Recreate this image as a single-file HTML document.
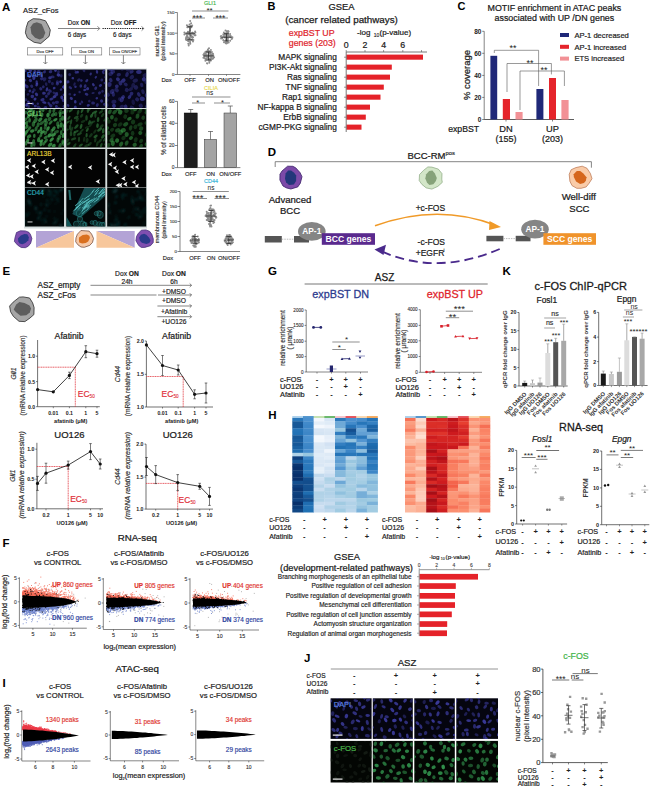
<!DOCTYPE html>
<html><head><meta charset="utf-8"><style>
html,body{margin:0;padding:0;background:#fff;width:650px;height:786px;overflow:hidden}
svg{display:block;font-family:"Liberation Sans", sans-serif}
</style></head><body>
<svg width="650" height="786" viewBox="0 0 650 786" fill="#1a1a1a">
<text x="2" y="10.6" font-size="11.5" fill="#000" font-weight="bold">A</text>
<text x="23" y="13.2" font-size="7.6" stroke="#1a1a1a" stroke-width="0.19">ASZ_cFos</text>
<path d="M50.3 30 L49.1 36.4 L44.1 40.7 L40.8 43.5 L34.1 42.3 L27.4 37.9 L25.4 32.8 L26.2 27.6 L28.1 21.8 L33.2 18.7 L39.6 19.1 L45.5 20.8 L47.8 24.8Z" fill="#a6a6a6" stroke="#2a2a2a" stroke-width="0.8" stroke-linejoin="round"/>
<path d="M31.4 33.7 L30.5 27.2 L33 23.4 L36.8 22.3 L41.6 24.1 L43.1 27.3 L45.3 32.8 L43.3 37.7 L39.7 39.4 L35.1 37.8Z" fill="#5e5e5e"/>
<line x1="58" y1="28.5" x2="99.5" y2="28.5" stroke="#333" stroke-width="0.6"/>
<path d="M97.5 26.3 L99.7 28.5 L97.5 30.7" fill="none" stroke="#333" stroke-width="0.6"/>
<line x1="102.5" y1="28.5" x2="143.5" y2="28.5" stroke="#222" stroke-width="1" stroke-dasharray="1.3 0.9"/>
<path d="M141.6 26.3 L143.8 28.5 L141.6 30.7" fill="none" stroke="#333" stroke-width="0.6"/>
<text x="67.7" y="24.6" font-size="6.3" stroke="#1a1a1a" stroke-width="0.16">Dox <tspan font-weight="bold">ON</tspan></text>
<text x="67.7" y="36.6" font-size="6.3" stroke="#1a1a1a" stroke-width="0.16">6 days</text>
<text x="110.8" y="24.6" font-size="6.3" stroke="#1a1a1a" stroke-width="0.16">Dox <tspan font-weight="bold">OFF</tspan></text>
<text x="113" y="36.6" font-size="6.3" stroke="#1a1a1a" stroke-width="0.16">6 days</text>
<rect x="27.4" y="47.8" width="35.4" height="7.2" fill="#fff" stroke="#555" stroke-width="0.5"/>
<text x="45.1" y="52.9" font-size="4.2" text-anchor="middle" fill="#222" stroke="#222" stroke-width="0.11">Dox OFF</text>
<line x1="45.4" y1="55.2" x2="45.4" y2="63.5" stroke="#333" stroke-width="0.6"/>
<path d="M43.4 62 L45.4 64 L47.4 62" fill="none" stroke="#333" stroke-width="0.6"/>
<rect x="71.5" y="47.8" width="30.3" height="7.2" fill="#fff" stroke="#555" stroke-width="0.5"/>
<text x="86.7" y="52.9" font-size="4.2" text-anchor="middle" fill="#222" stroke="#222" stroke-width="0.11">Dox ON</text>
<line x1="85.4" y1="55.2" x2="85.4" y2="63.5" stroke="#333" stroke-width="0.6"/>
<path d="M83.4 62 L85.4 64 L87.4 62" fill="none" stroke="#333" stroke-width="0.6"/>
<rect x="109.5" y="47.8" width="30.5" height="7.2" fill="#fff" stroke="#555" stroke-width="0.5"/>
<text x="124.8" y="52.9" font-size="4.2" text-anchor="middle" fill="#222" stroke="#222" stroke-width="0.11">Dox ON/OFF</text>
<line x1="123.4" y1="55.2" x2="123.4" y2="63.5" stroke="#333" stroke-width="0.6"/>
<path d="M121.4 62 L123.4 64 L125.4 62" fill="none" stroke="#333" stroke-width="0.6"/>
<defs><filter id="bl" x="-10%" y="-10%" width="120%" height="120%"><feGaussianBlur stdDeviation="0.45"/></filter><filter id="bl2"><feGaussianBlur stdDeviation="0.8"/></filter></defs>
<rect x="24" y="68.5" width="123" height="160" fill="#d4dcdc"/>
<rect x="25" y="69.5" width="39" height="38.5" fill="#06061a"/>
<svg x="25" y="69.5" width="39" height="38.5" viewBox="25 69.5 39 38.5">
<g filter="url(#bl)">
<ellipse cx="23.3" cy="67.2" rx="1.6" ry="2.1" transform="rotate(104 23.3 67.2)" fill="#4848b8" fill-opacity="0.43"/><ellipse cx="28.6" cy="66.1" rx="1.3" ry="2.2" transform="rotate(93 28.6 66.1)" fill="#4848b8" fill-opacity="0.48"/><ellipse cx="35" cy="65.7" rx="1.4" ry="1.6" transform="rotate(154 35 65.7)" fill="#4848b8" fill-opacity="0.59"/><ellipse cx="38.7" cy="67.3" rx="1.3" ry="2" transform="rotate(123 38.7 67.3)" fill="#4848b8" fill-opacity="0.61"/><ellipse cx="44.9" cy="69.4" rx="1.2" ry="1.4" transform="rotate(110 44.9 69.4)" fill="#4848b8" fill-opacity="0.37"/><ellipse cx="49.8" cy="66.7" rx="1.4" ry="1.8" transform="rotate(65 49.8 66.7)" fill="#4848b8" fill-opacity="0.71"/><ellipse cx="52.7" cy="65.8" rx="1.3" ry="1.5" transform="rotate(105 52.7 65.8)" fill="#4848b8" fill-opacity="0.69"/><ellipse cx="57.7" cy="65.6" rx="1.5" ry="1.8" transform="rotate(89 57.7 65.6)" fill="#4848b8" fill-opacity="0.68"/><ellipse cx="64.4" cy="66.1" rx="1.5" ry="1.4" transform="rotate(102 64.4 66.1)" fill="#4848b8" fill-opacity="0.50"/><ellipse cx="69.1" cy="65.9" rx="1.7" ry="1.7" transform="rotate(29 69.1 65.9)" fill="#4848b8" fill-opacity="0.67"/><ellipse cx="25.2" cy="70.8" rx="1.3" ry="1.4" transform="rotate(49 25.2 70.8)" fill="#4848b8" fill-opacity="0.60"/><ellipse cx="30.3" cy="70.5" rx="1.6" ry="1.7" transform="rotate(116 30.3 70.5)" fill="#4848b8" fill-opacity="0.68"/><ellipse cx="34.9" cy="71.6" rx="1.4" ry="1.6" transform="rotate(0 34.9 71.6)" fill="#4848b8" fill-opacity="0.64"/><ellipse cx="38.8" cy="71.6" rx="1.6" ry="1.9" transform="rotate(104 38.8 71.6)" fill="#4848b8" fill-opacity="0.51"/><ellipse cx="44.5" cy="72" rx="1.5" ry="1.4" transform="rotate(163 44.5 72)" fill="#4848b8" fill-opacity="0.56"/><ellipse cx="50.5" cy="71.7" rx="1.5" ry="1.8" transform="rotate(72 50.5 71.7)" fill="#4848b8" fill-opacity="0.52"/><ellipse cx="55.5" cy="70.5" rx="1.4" ry="1.4" transform="rotate(79 55.5 70.5)" fill="#4848b8" fill-opacity="0.74"/><ellipse cx="58.5" cy="72" rx="1.3" ry="1.7" transform="rotate(9 58.5 72)" fill="#4848b8" fill-opacity="0.39"/><ellipse cx="67.5" cy="71.8" rx="1.5" ry="1.7" transform="rotate(82 67.5 71.8)" fill="#4848b8" fill-opacity="0.52"/><ellipse cx="71.4" cy="73.4" rx="1.5" ry="2.1" transform="rotate(125 71.4 73.4)" fill="#4848b8" fill-opacity="0.52"/><ellipse cx="21.6" cy="75.1" rx="1.5" ry="1.8" transform="rotate(111 21.6 75.1)" fill="#4848b8" fill-opacity="0.62"/><ellipse cx="29.3" cy="76.1" rx="1.4" ry="2.1" transform="rotate(145 29.3 76.1)" fill="#4848b8" fill-opacity="0.73"/><ellipse cx="33.9" cy="77.8" rx="1.6" ry="2.2" transform="rotate(8 33.9 77.8)" fill="#4848b8" fill-opacity="0.72"/><ellipse cx="39.9" cy="75.3" rx="1.5" ry="2.1" transform="rotate(120 39.9 75.3)" fill="#4848b8" fill-opacity="0.41"/><ellipse cx="41.8" cy="75.6" rx="1.3" ry="1.4" transform="rotate(14 41.8 75.6)" fill="#4848b8" fill-opacity="0.43"/><ellipse cx="50" cy="77.8" rx="1.5" ry="1.8" transform="rotate(83 50 77.8)" fill="#4848b8" fill-opacity="0.65"/><ellipse cx="52.7" cy="76.9" rx="1.4" ry="1.9" transform="rotate(99 52.7 76.9)" fill="#4848b8" fill-opacity="0.46"/><ellipse cx="58.5" cy="75" rx="1.6" ry="1.9" transform="rotate(109 58.5 75)" fill="#4848b8" fill-opacity="0.70"/><ellipse cx="61.3" cy="75.9" rx="1.3" ry="1.7" transform="rotate(16 61.3 75.9)" fill="#4848b8" fill-opacity="0.37"/><ellipse cx="69" cy="76.7" rx="1.5" ry="1.8" transform="rotate(50 69 76.7)" fill="#4848b8" fill-opacity="0.63"/><ellipse cx="24.6" cy="80.3" rx="1.4" ry="1.7" transform="rotate(61 24.6 80.3)" fill="#4848b8" fill-opacity="0.64"/><ellipse cx="30.4" cy="80.5" rx="1.6" ry="1.7" transform="rotate(124 30.4 80.5)" fill="#4848b8" fill-opacity="0.64"/><ellipse cx="36.7" cy="82.4" rx="1.2" ry="2.1" transform="rotate(178 36.7 82.4)" fill="#4848b8" fill-opacity="0.64"/><ellipse cx="41.8" cy="78.6" rx="1.6" ry="1.9" transform="rotate(58 41.8 78.6)" fill="#4848b8" fill-opacity="0.48"/><ellipse cx="44.6" cy="79.3" rx="1.6" ry="2.2" transform="rotate(30 44.6 79.3)" fill="#4848b8" fill-opacity="0.39"/><ellipse cx="49.4" cy="81.5" rx="1.5" ry="1.7" transform="rotate(171 49.4 81.5)" fill="#4848b8" fill-opacity="0.43"/><ellipse cx="57.4" cy="82" rx="1.6" ry="1.8" transform="rotate(2 57.4 82)" fill="#4848b8" fill-opacity="0.43"/><ellipse cx="60.6" cy="81.8" rx="1.4" ry="1.4" transform="rotate(137 60.6 81.8)" fill="#4848b8" fill-opacity="0.73"/><ellipse cx="66.3" cy="78.8" rx="1.4" ry="1.9" transform="rotate(101 66.3 78.8)" fill="#4848b8" fill-opacity="0.69"/><ellipse cx="69.2" cy="79.2" rx="1.7" ry="1.3" transform="rotate(109 69.2 79.2)" fill="#4848b8" fill-opacity="0.70"/><ellipse cx="24.7" cy="84.9" rx="1.5" ry="1.6" transform="rotate(62 24.7 84.9)" fill="#4848b8" fill-opacity="0.51"/><ellipse cx="26.6" cy="86.4" rx="1.6" ry="2.2" transform="rotate(127 26.6 86.4)" fill="#4848b8" fill-opacity="0.59"/><ellipse cx="31.7" cy="86.2" rx="1.5" ry="1.7" transform="rotate(148 31.7 86.2)" fill="#4848b8" fill-opacity="0.49"/><ellipse cx="36.8" cy="84.6" rx="1.3" ry="1.9" transform="rotate(27 36.8 84.6)" fill="#4848b8" fill-opacity="0.72"/><ellipse cx="43.3" cy="86.8" rx="1.4" ry="1.4" transform="rotate(142 43.3 86.8)" fill="#4848b8" fill-opacity="0.49"/><ellipse cx="46.2" cy="84.1" rx="1.3" ry="1.9" transform="rotate(170 46.2 84.1)" fill="#4848b8" fill-opacity="0.37"/><ellipse cx="52.4" cy="83.6" rx="1.5" ry="1.7" transform="rotate(170 52.4 83.6)" fill="#4848b8" fill-opacity="0.37"/><ellipse cx="57.4" cy="83.7" rx="1.6" ry="1.7" transform="rotate(29 57.4 83.7)" fill="#4848b8" fill-opacity="0.51"/><ellipse cx="64.1" cy="86.4" rx="1.5" ry="1.7" transform="rotate(31 64.1 86.4)" fill="#4848b8" fill-opacity="0.70"/><ellipse cx="68.1" cy="86.5" rx="1.7" ry="1.4" transform="rotate(70 68.1 86.5)" fill="#4848b8" fill-opacity="0.39"/><ellipse cx="23.9" cy="90.1" rx="1.5" ry="2.1" transform="rotate(55 23.9 90.1)" fill="#4848b8" fill-opacity="0.47"/><ellipse cx="29.9" cy="90.9" rx="1.5" ry="1.3" transform="rotate(111 29.9 90.9)" fill="#4848b8" fill-opacity="0.59"/><ellipse cx="34.1" cy="90" rx="1.5" ry="1.7" transform="rotate(124 34.1 90)" fill="#4848b8" fill-opacity="0.39"/><ellipse cx="40.8" cy="88.8" rx="1.7" ry="1.5" transform="rotate(39 40.8 88.8)" fill="#4848b8" fill-opacity="0.49"/><ellipse cx="46.9" cy="89.4" rx="1.2" ry="2.1" transform="rotate(13 46.9 89.4)" fill="#4848b8" fill-opacity="0.67"/><ellipse cx="49.9" cy="90.9" rx="1.5" ry="2.2" transform="rotate(130 49.9 90.9)" fill="#4848b8" fill-opacity="0.49"/><ellipse cx="54.2" cy="88.1" rx="1.3" ry="1.5" transform="rotate(52 54.2 88.1)" fill="#4848b8" fill-opacity="0.68"/><ellipse cx="61" cy="89.6" rx="1.2" ry="1.3" transform="rotate(75 61 89.6)" fill="#4848b8" fill-opacity="0.57"/><ellipse cx="63.6" cy="87.5" rx="1.3" ry="1.7" transform="rotate(138 63.6 87.5)" fill="#4848b8" fill-opacity="0.74"/><ellipse cx="68.6" cy="89" rx="1.7" ry="1.8" transform="rotate(119 68.6 89)" fill="#4848b8" fill-opacity="0.60"/><ellipse cx="21.2" cy="93.1" rx="1.2" ry="1.9" transform="rotate(82 21.2 93.1)" fill="#4848b8" fill-opacity="0.48"/><ellipse cx="28" cy="94.4" rx="1.3" ry="1.5" transform="rotate(65 28 94.4)" fill="#4848b8" fill-opacity="0.38"/><ellipse cx="32.8" cy="92.2" rx="1.3" ry="1.4" transform="rotate(14 32.8 92.2)" fill="#4848b8" fill-opacity="0.56"/><ellipse cx="36.5" cy="94.4" rx="1.5" ry="1.9" transform="rotate(145 36.5 94.4)" fill="#4848b8" fill-opacity="0.67"/><ellipse cx="44" cy="93.3" rx="1.5" ry="1.9" transform="rotate(91 44 93.3)" fill="#4848b8" fill-opacity="0.64"/><ellipse cx="48.6" cy="93.7" rx="1.5" ry="1.7" transform="rotate(38 48.6 93.7)" fill="#4848b8" fill-opacity="0.47"/><ellipse cx="54.4" cy="93.1" rx="1.3" ry="2.1" transform="rotate(120 54.4 93.1)" fill="#4848b8" fill-opacity="0.40"/><ellipse cx="56.7" cy="94.1" rx="1.4" ry="2.1" transform="rotate(5 56.7 94.1)" fill="#4848b8" fill-opacity="0.59"/><ellipse cx="64.3" cy="94.7" rx="1.3" ry="1.8" transform="rotate(60 64.3 94.7)" fill="#4848b8" fill-opacity="0.62"/><ellipse cx="67.6" cy="93.5" rx="1.5" ry="1.9" transform="rotate(49 67.6 93.5)" fill="#4848b8" fill-opacity="0.43"/><ellipse cx="25.8" cy="99.8" rx="1.5" ry="1.6" transform="rotate(100 25.8 99.8)" fill="#4848b8" fill-opacity="0.41"/><ellipse cx="32.3" cy="96.5" rx="1.7" ry="1.8" transform="rotate(82 32.3 96.5)" fill="#4848b8" fill-opacity="0.62"/><ellipse cx="35" cy="99.1" rx="1.6" ry="1.4" transform="rotate(141 35 99.1)" fill="#4848b8" fill-opacity="0.72"/><ellipse cx="42.5" cy="99.7" rx="1.6" ry="2.1" transform="rotate(78 42.5 99.7)" fill="#4848b8" fill-opacity="0.61"/><ellipse cx="46.4" cy="96.3" rx="1.4" ry="1.6" transform="rotate(12 46.4 96.3)" fill="#4848b8" fill-opacity="0.50"/><ellipse cx="51.5" cy="99" rx="1.3" ry="2.2" transform="rotate(71 51.5 99)" fill="#4848b8" fill-opacity="0.63"/><ellipse cx="54.5" cy="96.6" rx="1.5" ry="1.9" transform="rotate(68 54.5 96.6)" fill="#4848b8" fill-opacity="0.70"/><ellipse cx="61.8" cy="97.5" rx="1.5" ry="2" transform="rotate(172 61.8 97.5)" fill="#4848b8" fill-opacity="0.74"/><ellipse cx="66.9" cy="98.3" rx="1.4" ry="2.1" transform="rotate(23 66.9 98.3)" fill="#4848b8" fill-opacity="0.61"/><ellipse cx="69.3" cy="96" rx="1.4" ry="1.5" transform="rotate(32 69.3 96)" fill="#4848b8" fill-opacity="0.42"/><ellipse cx="22.3" cy="102.7" rx="1.4" ry="1.3" transform="rotate(27 22.3 102.7)" fill="#4848b8" fill-opacity="0.54"/><ellipse cx="28.7" cy="102.3" rx="1.2" ry="2" transform="rotate(139 28.7 102.3)" fill="#4848b8" fill-opacity="0.70"/><ellipse cx="32.8" cy="103.8" rx="1.4" ry="1.4" transform="rotate(20 32.8 103.8)" fill="#4848b8" fill-opacity="0.69"/><ellipse cx="37.8" cy="103.8" rx="1.2" ry="1.3" transform="rotate(13 37.8 103.8)" fill="#4848b8" fill-opacity="0.50"/><ellipse cx="44.3" cy="102.5" rx="1.2" ry="2.2" transform="rotate(102 44.3 102.5)" fill="#4848b8" fill-opacity="0.71"/><ellipse cx="49" cy="103.7" rx="1.2" ry="2.2" transform="rotate(146 49 103.7)" fill="#4848b8" fill-opacity="0.51"/><ellipse cx="53.5" cy="103.1" rx="1.5" ry="1.7" transform="rotate(125 53.5 103.1)" fill="#4848b8" fill-opacity="0.47"/><ellipse cx="56.9" cy="102.3" rx="1.6" ry="2.1" transform="rotate(84 56.9 102.3)" fill="#4848b8" fill-opacity="0.47"/><ellipse cx="63.4" cy="100.4" rx="1.6" ry="1.6" transform="rotate(98 63.4 100.4)" fill="#4848b8" fill-opacity="0.60"/><ellipse cx="66.9" cy="101.8" rx="1.2" ry="1.8" transform="rotate(28 66.9 101.8)" fill="#4848b8" fill-opacity="0.66"/><ellipse cx="26.8" cy="104.8" rx="1.4" ry="2" transform="rotate(29 26.8 104.8)" fill="#4848b8" fill-opacity="0.75"/><ellipse cx="28.6" cy="106.5" rx="1.2" ry="1.9" transform="rotate(7 28.6 106.5)" fill="#4848b8" fill-opacity="0.45"/><ellipse cx="35.3" cy="106.1" rx="1.3" ry="1.5" transform="rotate(75 35.3 106.1)" fill="#4848b8" fill-opacity="0.62"/><ellipse cx="38.7" cy="107.3" rx="1.5" ry="2.2" transform="rotate(119 38.7 107.3)" fill="#4848b8" fill-opacity="0.45"/><ellipse cx="45.4" cy="107.7" rx="1.6" ry="1.9" transform="rotate(63 45.4 107.7)" fill="#4848b8" fill-opacity="0.57"/><ellipse cx="50.9" cy="105.8" rx="1.6" ry="1.6" transform="rotate(10 50.9 105.8)" fill="#4848b8" fill-opacity="0.54"/><ellipse cx="56.4" cy="106.5" rx="1.5" ry="1.6" transform="rotate(12 56.4 106.5)" fill="#4848b8" fill-opacity="0.58"/><ellipse cx="59.3" cy="108.6" rx="1.2" ry="2" transform="rotate(105 59.3 108.6)" fill="#4848b8" fill-opacity="0.64"/><ellipse cx="64.1" cy="106.6" rx="1.6" ry="1.5" transform="rotate(70 64.1 106.6)" fill="#4848b8" fill-opacity="0.51"/><ellipse cx="72.3" cy="108" rx="1.5" ry="2.1" transform="rotate(88 72.3 108)" fill="#4848b8" fill-opacity="0.70"/>
</g>
</svg>
<rect x="66.3" y="69.5" width="39" height="38.5" fill="#06061a"/>
<svg x="66.3" y="69.5" width="39" height="38.5" viewBox="66.3 69.5 39 38.5">
<g filter="url(#bl)">
<ellipse cx="64.1" cy="67.8" rx="1.3" ry="1.6" transform="rotate(166 64.1 67.8)" fill="#4848b8" fill-opacity="0.51"/><ellipse cx="68.9" cy="67.6" rx="1.1" ry="1.4" transform="rotate(113 68.9 67.6)" fill="#4848b8" fill-opacity="0.63"/><ellipse cx="74.7" cy="69" rx="1.5" ry="1.9" transform="rotate(124 74.7 69)" fill="#4848b8" fill-opacity="0.36"/><ellipse cx="83.7" cy="68.1" rx="1.3" ry="1.3" transform="rotate(28 83.7 68.1)" fill="#4848b8" fill-opacity="0.36"/><ellipse cx="87.6" cy="66.2" rx="1.3" ry="1.8" transform="rotate(5 87.6 66.2)" fill="#4848b8" fill-opacity="0.51"/><ellipse cx="95.4" cy="68.2" rx="1.3" ry="1.4" transform="rotate(89 95.4 68.2)" fill="#4848b8" fill-opacity="0.58"/><ellipse cx="104" cy="70" rx="1.2" ry="1.4" transform="rotate(151 104 70)" fill="#4848b8" fill-opacity="0.60"/><ellipse cx="106.7" cy="65.4" rx="1.4" ry="1.5" transform="rotate(137 106.7 65.4)" fill="#4848b8" fill-opacity="0.49"/><ellipse cx="69.7" cy="74.6" rx="1.5" ry="1.6" transform="rotate(0 69.7 74.6)" fill="#4848b8" fill-opacity="0.42"/><ellipse cx="76" cy="72.4" rx="1.4" ry="1.4" transform="rotate(13 76 72.4)" fill="#4848b8" fill-opacity="0.57"/><ellipse cx="77.8" cy="72.1" rx="1.1" ry="1.4" transform="rotate(173 77.8 72.1)" fill="#4848b8" fill-opacity="0.62"/><ellipse cx="84" cy="70.7" rx="1.3" ry="1.5" transform="rotate(143 84 70.7)" fill="#4848b8" fill-opacity="0.41"/><ellipse cx="90.7" cy="74" rx="1.1" ry="1.5" transform="rotate(23 90.7 74)" fill="#4848b8" fill-opacity="0.58"/><ellipse cx="97" cy="71.8" rx="1.2" ry="1.9" transform="rotate(174 97 71.8)" fill="#4848b8" fill-opacity="0.63"/><ellipse cx="103.2" cy="72.4" rx="1.1" ry="1.9" transform="rotate(153 103.2 72.4)" fill="#4848b8" fill-opacity="0.57"/><ellipse cx="109.4" cy="71.7" rx="1.2" ry="1.3" transform="rotate(139 109.4 71.7)" fill="#4848b8" fill-opacity="0.47"/><ellipse cx="62.3" cy="78.7" rx="1.2" ry="1.5" transform="rotate(43 62.3 78.7)" fill="#4848b8" fill-opacity="0.56"/><ellipse cx="72.8" cy="78.2" rx="1.2" ry="1.3" transform="rotate(103 72.8 78.2)" fill="#4848b8" fill-opacity="0.65"/><ellipse cx="78.7" cy="79.9" rx="1.4" ry="1.9" transform="rotate(44 78.7 79.9)" fill="#4848b8" fill-opacity="0.42"/><ellipse cx="81.4" cy="80.5" rx="1.3" ry="1.3" transform="rotate(158 81.4 80.5)" fill="#4848b8" fill-opacity="0.56"/><ellipse cx="86.8" cy="80.6" rx="1.2" ry="1.8" transform="rotate(42 86.8 80.6)" fill="#4848b8" fill-opacity="0.60"/><ellipse cx="95.8" cy="77.3" rx="1.1" ry="1.4" transform="rotate(31 95.8 77.3)" fill="#4848b8" fill-opacity="0.60"/><ellipse cx="101.8" cy="80" rx="1.5" ry="1.4" transform="rotate(110 101.8 80)" fill="#4848b8" fill-opacity="0.45"/><ellipse cx="105.3" cy="77.1" rx="1.2" ry="1.5" transform="rotate(80 105.3 77.1)" fill="#4848b8" fill-opacity="0.37"/><ellipse cx="67.8" cy="81.9" rx="1.5" ry="1.7" transform="rotate(65 67.8 81.9)" fill="#4848b8" fill-opacity="0.66"/><ellipse cx="74.5" cy="84.1" rx="1.1" ry="1.9" transform="rotate(25 74.5 84.1)" fill="#4848b8" fill-opacity="0.36"/><ellipse cx="80.8" cy="86" rx="1.3" ry="1.8" transform="rotate(3 80.8 86)" fill="#4848b8" fill-opacity="0.57"/><ellipse cx="85.1" cy="86.2" rx="1.4" ry="1.9" transform="rotate(13 85.1 86.2)" fill="#4848b8" fill-opacity="0.54"/><ellipse cx="93.4" cy="84.7" rx="1.2" ry="1.7" transform="rotate(142 93.4 84.7)" fill="#4848b8" fill-opacity="0.67"/><ellipse cx="100.4" cy="85.5" rx="1.4" ry="1.6" transform="rotate(75 100.4 85.5)" fill="#4848b8" fill-opacity="0.63"/><ellipse cx="105.2" cy="83.1" rx="1.1" ry="1.7" transform="rotate(104 105.2 83.1)" fill="#4848b8" fill-opacity="0.56"/><ellipse cx="113.2" cy="85.6" rx="1.4" ry="1.6" transform="rotate(131 113.2 85.6)" fill="#4848b8" fill-opacity="0.49"/><ellipse cx="64" cy="90.8" rx="1.1" ry="1.7" transform="rotate(15 64 90.8)" fill="#4848b8" fill-opacity="0.61"/><ellipse cx="70.4" cy="87.7" rx="1.3" ry="1.9" transform="rotate(125 70.4 87.7)" fill="#4848b8" fill-opacity="0.52"/><ellipse cx="75.5" cy="86.7" rx="1.2" ry="1.3" transform="rotate(54 75.5 86.7)" fill="#4848b8" fill-opacity="0.59"/><ellipse cx="84.9" cy="89.9" rx="1.2" ry="1.7" transform="rotate(79 84.9 89.9)" fill="#4848b8" fill-opacity="0.66"/><ellipse cx="87.6" cy="88.7" rx="1.5" ry="1.5" transform="rotate(145 87.6 88.7)" fill="#4848b8" fill-opacity="0.67"/><ellipse cx="95.7" cy="88.2" rx="1.4" ry="1.8" transform="rotate(24 95.7 88.2)" fill="#4848b8" fill-opacity="0.52"/><ellipse cx="102.5" cy="91.3" rx="1.3" ry="1.4" transform="rotate(49 102.5 91.3)" fill="#4848b8" fill-opacity="0.41"/><ellipse cx="106.3" cy="88.6" rx="1.2" ry="1.8" transform="rotate(112 106.3 88.6)" fill="#4848b8" fill-opacity="0.52"/><ellipse cx="69.8" cy="94.2" rx="1.4" ry="1.2" transform="rotate(13 69.8 94.2)" fill="#4848b8" fill-opacity="0.36"/><ellipse cx="74.6" cy="94.8" rx="1.1" ry="1.3" transform="rotate(55 74.6 94.8)" fill="#4848b8" fill-opacity="0.63"/><ellipse cx="79.6" cy="92.1" rx="1.2" ry="1.2" transform="rotate(149 79.6 92.1)" fill="#4848b8" fill-opacity="0.43"/><ellipse cx="86.6" cy="94.2" rx="1.4" ry="1.9" transform="rotate(113 86.6 94.2)" fill="#4848b8" fill-opacity="0.58"/><ellipse cx="93.1" cy="93" rx="1.1" ry="1.6" transform="rotate(85 93.1 93)" fill="#4848b8" fill-opacity="0.41"/><ellipse cx="99.5" cy="92.9" rx="1.4" ry="1.6" transform="rotate(49 99.5 92.9)" fill="#4848b8" fill-opacity="0.47"/><ellipse cx="105.2" cy="95.7" rx="1.5" ry="1.3" transform="rotate(70 105.2 95.7)" fill="#4848b8" fill-opacity="0.63"/><ellipse cx="112.9" cy="95.6" rx="1.4" ry="1.9" transform="rotate(23 112.9 95.6)" fill="#4848b8" fill-opacity="0.51"/><ellipse cx="63.7" cy="100.2" rx="1.5" ry="1.6" transform="rotate(158 63.7 100.2)" fill="#4848b8" fill-opacity="0.63"/><ellipse cx="71.3" cy="98.4" rx="1.4" ry="1.7" transform="rotate(129 71.3 98.4)" fill="#4848b8" fill-opacity="0.64"/><ellipse cx="75.3" cy="101.8" rx="1.3" ry="1.8" transform="rotate(176 75.3 101.8)" fill="#4848b8" fill-opacity="0.69"/><ellipse cx="82" cy="101.9" rx="1.1" ry="1.5" transform="rotate(154 82 101.9)" fill="#4848b8" fill-opacity="0.47"/><ellipse cx="89.3" cy="101.2" rx="1.4" ry="1.3" transform="rotate(87 89.3 101.2)" fill="#4848b8" fill-opacity="0.36"/><ellipse cx="96.8" cy="98.2" rx="1.2" ry="1.3" transform="rotate(60 96.8 98.2)" fill="#4848b8" fill-opacity="0.63"/><ellipse cx="101.6" cy="101" rx="1.5" ry="1.6" transform="rotate(151 101.6 101)" fill="#4848b8" fill-opacity="0.59"/><ellipse cx="109.9" cy="97.8" rx="1.2" ry="1.7" transform="rotate(39 109.9 97.8)" fill="#4848b8" fill-opacity="0.53"/><ellipse cx="68.1" cy="105.4" rx="1.2" ry="1.5" transform="rotate(151 68.1 105.4)" fill="#4848b8" fill-opacity="0.55"/><ellipse cx="75.3" cy="107.2" rx="1.5" ry="1.6" transform="rotate(37 75.3 107.2)" fill="#4848b8" fill-opacity="0.65"/><ellipse cx="80.2" cy="103.8" rx="1.3" ry="1.2" transform="rotate(96 80.2 103.8)" fill="#4848b8" fill-opacity="0.53"/><ellipse cx="88.3" cy="105.3" rx="1.3" ry="1.6" transform="rotate(72 88.3 105.3)" fill="#4848b8" fill-opacity="0.63"/><ellipse cx="93.1" cy="103.1" rx="1.5" ry="1.9" transform="rotate(96 93.1 103.1)" fill="#4848b8" fill-opacity="0.49"/><ellipse cx="97.3" cy="105.1" rx="1.4" ry="1.9" transform="rotate(22 97.3 105.1)" fill="#4848b8" fill-opacity="0.50"/><ellipse cx="104.5" cy="104.4" rx="1.5" ry="1.3" transform="rotate(34 104.5 104.4)" fill="#4848b8" fill-opacity="0.57"/><ellipse cx="112.2" cy="102.9" rx="1.4" ry="1.4" transform="rotate(34 112.2 102.9)" fill="#4848b8" fill-opacity="0.43"/>
</g>
</svg>
<rect x="107.2" y="69.5" width="39" height="38.5" fill="#06061a"/>
<svg x="107.2" y="69.5" width="39" height="38.5" viewBox="107.2 69.5 39 38.5">
<g filter="url(#bl)">
<ellipse cx="105.1" cy="68.3" rx="1.6" ry="2.2" transform="rotate(119 105.1 68.3)" fill="#4848b8" fill-opacity="0.30"/><ellipse cx="110.4" cy="69.1" rx="1.9" ry="2.5" transform="rotate(124 110.4 69.1)" fill="#4848b8" fill-opacity="0.46"/><ellipse cx="116.2" cy="67.2" rx="1.6" ry="2.7" transform="rotate(29 116.2 67.2)" fill="#4848b8" fill-opacity="0.57"/><ellipse cx="122.2" cy="68.5" rx="2.1" ry="1.8" transform="rotate(60 122.2 68.5)" fill="#4848b8" fill-opacity="0.39"/><ellipse cx="128.6" cy="69.6" rx="2.2" ry="2.8" transform="rotate(91 128.6 69.6)" fill="#4848b8" fill-opacity="0.28"/><ellipse cx="135.2" cy="67.1" rx="2" ry="1.9" transform="rotate(24 135.2 67.1)" fill="#4848b8" fill-opacity="0.36"/><ellipse cx="144.6" cy="65.2" rx="1.8" ry="2.2" transform="rotate(30 144.6 65.2)" fill="#4848b8" fill-opacity="0.54"/><ellipse cx="150.5" cy="67.4" rx="2" ry="2.8" transform="rotate(69 150.5 67.4)" fill="#4848b8" fill-opacity="0.26"/><ellipse cx="110.8" cy="73.9" rx="2" ry="2.5" transform="rotate(64 110.8 73.9)" fill="#4848b8" fill-opacity="0.38"/><ellipse cx="112.8" cy="71.7" rx="2.1" ry="2.3" transform="rotate(65 112.8 71.7)" fill="#4848b8" fill-opacity="0.43"/><ellipse cx="118.8" cy="74.7" rx="1.7" ry="2.2" transform="rotate(77 118.8 74.7)" fill="#4848b8" fill-opacity="0.43"/><ellipse cx="127" cy="74.5" rx="1.7" ry="2.5" transform="rotate(18 127 74.5)" fill="#4848b8" fill-opacity="0.44"/><ellipse cx="131.6" cy="71.9" rx="1.6" ry="2.3" transform="rotate(61 131.6 71.9)" fill="#4848b8" fill-opacity="0.47"/><ellipse cx="138.9" cy="72" rx="1.9" ry="2.8" transform="rotate(85 138.9 72)" fill="#4848b8" fill-opacity="0.59"/><ellipse cx="145.1" cy="75.2" rx="2" ry="2.8" transform="rotate(65 145.1 75.2)" fill="#4848b8" fill-opacity="0.32"/><ellipse cx="150.7" cy="71.9" rx="1.7" ry="1.8" transform="rotate(138 150.7 71.9)" fill="#4848b8" fill-opacity="0.37"/><ellipse cx="102.8" cy="79.2" rx="1.9" ry="1.8" transform="rotate(177 102.8 79.2)" fill="#4848b8" fill-opacity="0.60"/><ellipse cx="110.7" cy="80.1" rx="1.7" ry="2.3" transform="rotate(149 110.7 80.1)" fill="#4848b8" fill-opacity="0.47"/><ellipse cx="117.9" cy="79.3" rx="2.1" ry="1.9" transform="rotate(47 117.9 79.3)" fill="#4848b8" fill-opacity="0.58"/><ellipse cx="123.3" cy="80.5" rx="1.9" ry="2.5" transform="rotate(50 123.3 80.5)" fill="#4848b8" fill-opacity="0.58"/><ellipse cx="131.8" cy="77.2" rx="2" ry="2.5" transform="rotate(51 131.8 77.2)" fill="#4848b8" fill-opacity="0.34"/><ellipse cx="135.3" cy="80.6" rx="1.9" ry="2.8" transform="rotate(75 135.3 80.6)" fill="#4848b8" fill-opacity="0.33"/><ellipse cx="143.9" cy="79.3" rx="2.1" ry="2.2" transform="rotate(165 143.9 79.3)" fill="#4848b8" fill-opacity="0.59"/><ellipse cx="150.5" cy="80.7" rx="1.8" ry="2.2" transform="rotate(142 150.5 80.7)" fill="#4848b8" fill-opacity="0.45"/><ellipse cx="109.6" cy="84.5" rx="2.1" ry="2.6" transform="rotate(3 109.6 84.5)" fill="#4848b8" fill-opacity="0.50"/><ellipse cx="116.8" cy="86.3" rx="1.8" ry="1.9" transform="rotate(96 116.8 86.3)" fill="#4848b8" fill-opacity="0.53"/><ellipse cx="120.4" cy="83.2" rx="1.9" ry="2.4" transform="rotate(168 120.4 83.2)" fill="#4848b8" fill-opacity="0.49"/><ellipse cx="125.7" cy="84.4" rx="1.7" ry="2.2" transform="rotate(126 125.7 84.4)" fill="#4848b8" fill-opacity="0.39"/><ellipse cx="133.1" cy="85.2" rx="1.8" ry="2.5" transform="rotate(25 133.1 85.2)" fill="#4848b8" fill-opacity="0.28"/><ellipse cx="141.7" cy="85" rx="1.6" ry="2.3" transform="rotate(168 141.7 85)" fill="#4848b8" fill-opacity="0.38"/><ellipse cx="146.5" cy="82.6" rx="1.7" ry="2.1" transform="rotate(120 146.5 82.6)" fill="#4848b8" fill-opacity="0.37"/><ellipse cx="155.5" cy="81.7" rx="1.7" ry="2.2" transform="rotate(64 155.5 81.7)" fill="#4848b8" fill-opacity="0.35"/><ellipse cx="103.8" cy="91.9" rx="1.7" ry="2.3" transform="rotate(90 103.8 91.9)" fill="#4848b8" fill-opacity="0.49"/><ellipse cx="112.1" cy="91.5" rx="2.1" ry="2.7" transform="rotate(44 112.1 91.5)" fill="#4848b8" fill-opacity="0.41"/><ellipse cx="116.6" cy="90" rx="2" ry="2.5" transform="rotate(137 116.6 90)" fill="#4848b8" fill-opacity="0.39"/><ellipse cx="126.8" cy="90" rx="2" ry="2.1" transform="rotate(122 126.8 90)" fill="#4848b8" fill-opacity="0.37"/><ellipse cx="130.8" cy="89.1" rx="1.7" ry="2.4" transform="rotate(55 130.8 89.1)" fill="#4848b8" fill-opacity="0.30"/><ellipse cx="135.9" cy="87.4" rx="2.2" ry="2.4" transform="rotate(144 135.9 87.4)" fill="#4848b8" fill-opacity="0.35"/><ellipse cx="143" cy="91.7" rx="1.7" ry="2.5" transform="rotate(161 143 91.7)" fill="#4848b8" fill-opacity="0.36"/><ellipse cx="151.8" cy="90.3" rx="2" ry="2" transform="rotate(141 151.8 90.3)" fill="#4848b8" fill-opacity="0.39"/><ellipse cx="107.9" cy="94.7" rx="2.1" ry="1.9" transform="rotate(69 107.9 94.7)" fill="#4848b8" fill-opacity="0.39"/><ellipse cx="113.3" cy="94.1" rx="1.6" ry="2.7" transform="rotate(174 113.3 94.1)" fill="#4848b8" fill-opacity="0.43"/><ellipse cx="123.1" cy="97" rx="1.8" ry="1.9" transform="rotate(64 123.1 97)" fill="#4848b8" fill-opacity="0.51"/><ellipse cx="129.5" cy="97" rx="1.6" ry="2.1" transform="rotate(38 129.5 97)" fill="#4848b8" fill-opacity="0.56"/><ellipse cx="131.5" cy="93.7" rx="1.8" ry="2" transform="rotate(29 131.5 93.7)" fill="#4848b8" fill-opacity="0.50"/><ellipse cx="138.8" cy="94.4" rx="1.7" ry="2.5" transform="rotate(155 138.8 94.4)" fill="#4848b8" fill-opacity="0.46"/><ellipse cx="147" cy="95.1" rx="2.1" ry="2.3" transform="rotate(94 147 95.1)" fill="#4848b8" fill-opacity="0.48"/><ellipse cx="153.9" cy="95.2" rx="1.8" ry="2.3" transform="rotate(114 153.9 95.2)" fill="#4848b8" fill-opacity="0.39"/><ellipse cx="106.3" cy="99.8" rx="2.1" ry="2.5" transform="rotate(166 106.3 99.8)" fill="#4848b8" fill-opacity="0.42"/><ellipse cx="113.9" cy="101.8" rx="2" ry="2.6" transform="rotate(76 113.9 101.8)" fill="#4848b8" fill-opacity="0.39"/><ellipse cx="119.7" cy="99" rx="1.7" ry="1.8" transform="rotate(11 119.7 99)" fill="#4848b8" fill-opacity="0.29"/><ellipse cx="121.9" cy="99.6" rx="2" ry="2.8" transform="rotate(20 121.9 99.6)" fill="#4848b8" fill-opacity="0.49"/><ellipse cx="133.2" cy="102.2" rx="1.7" ry="2.8" transform="rotate(170 133.2 102.2)" fill="#4848b8" fill-opacity="0.26"/><ellipse cx="137.1" cy="99.4" rx="1.9" ry="2.1" transform="rotate(136 137.1 99.4)" fill="#4848b8" fill-opacity="0.40"/><ellipse cx="142.3" cy="98.8" rx="2.2" ry="2.6" transform="rotate(109 142.3 98.8)" fill="#4848b8" fill-opacity="0.58"/><ellipse cx="152.2" cy="100.2" rx="2" ry="2.5" transform="rotate(53 152.2 100.2)" fill="#4848b8" fill-opacity="0.57"/><ellipse cx="105.9" cy="105.1" rx="2.1" ry="2.6" transform="rotate(86 105.9 105.1)" fill="#4848b8" fill-opacity="0.51"/><ellipse cx="114" cy="105.9" rx="1.9" ry="2" transform="rotate(155 114 105.9)" fill="#4848b8" fill-opacity="0.60"/><ellipse cx="121.8" cy="106.7" rx="1.8" ry="2.4" transform="rotate(65 121.8 106.7)" fill="#4848b8" fill-opacity="0.33"/><ellipse cx="125.7" cy="106.7" rx="1.8" ry="2.2" transform="rotate(171 125.7 106.7)" fill="#4848b8" fill-opacity="0.51"/><ellipse cx="132" cy="107.7" rx="1.9" ry="2.4" transform="rotate(113 132 107.7)" fill="#4848b8" fill-opacity="0.31"/><ellipse cx="140.8" cy="105.9" rx="2.2" ry="2.1" transform="rotate(55 140.8 105.9)" fill="#4848b8" fill-opacity="0.37"/><ellipse cx="146.8" cy="106.3" rx="1.7" ry="2.1" transform="rotate(31 146.8 106.3)" fill="#4848b8" fill-opacity="0.39"/><ellipse cx="152.5" cy="105.7" rx="1.8" ry="2.5" transform="rotate(168 152.5 105.7)" fill="#4848b8" fill-opacity="0.35"/>
</g>
</svg>
<rect x="25" y="109" width="39" height="38.5" fill="#030803"/>
<svg x="25" y="109" width="39" height="38.5" viewBox="25 109 39 38.5">
<g filter="url(#bl)">
<ellipse cx="24.2" cy="107.5" rx="1.4" ry="2.6" transform="rotate(53 24.2 107.5)" fill="#44aa55" fill-opacity="0.77"/><ellipse cx="29" cy="108.1" rx="1.5" ry="2.9" transform="rotate(40 29 108.1)" fill="#44aa55" fill-opacity="0.51"/><ellipse cx="31.5" cy="106.5" rx="1.4" ry="2.4" transform="rotate(66 31.5 106.5)" fill="#44aa55" fill-opacity="0.61"/><ellipse cx="38.6" cy="106.5" rx="1.6" ry="2.5" transform="rotate(29 38.6 106.5)" fill="#44aa55" fill-opacity="0.67"/><ellipse cx="41" cy="107.2" rx="1.4" ry="2.7" transform="rotate(2 41 107.2)" fill="#44aa55" fill-opacity="0.48"/><ellipse cx="46.4" cy="107.5" rx="1.3" ry="2.7" transform="rotate(11 46.4 107.5)" fill="#44aa55" fill-opacity="0.49"/><ellipse cx="52.8" cy="106.2" rx="1.6" ry="2.4" transform="rotate(16 52.8 106.2)" fill="#44aa55" fill-opacity="0.45"/><ellipse cx="55.6" cy="107.4" rx="1.4" ry="2.6" transform="rotate(41 55.6 107.4)" fill="#44aa55" fill-opacity="0.61"/><ellipse cx="61.6" cy="106.8" rx="1.6" ry="2.7" transform="rotate(11 61.6 106.8)" fill="#44aa55" fill-opacity="0.78"/><ellipse cx="67.6" cy="107.2" rx="1.5" ry="2.6" transform="rotate(24 67.6 107.2)" fill="#44aa55" fill-opacity="0.49"/><ellipse cx="25.2" cy="112.6" rx="1.7" ry="2.2" transform="rotate(58 25.2 112.6)" fill="#44aa55" fill-opacity="0.49"/><ellipse cx="30.6" cy="110.6" rx="1.5" ry="2.7" transform="rotate(51 30.6 110.6)" fill="#44aa55" fill-opacity="0.78"/><ellipse cx="33.7" cy="111.7" rx="1.4" ry="2.3" transform="rotate(8 33.7 111.7)" fill="#44aa55" fill-opacity="0.61"/><ellipse cx="40.5" cy="110" rx="1.6" ry="2.4" transform="rotate(18 40.5 110)" fill="#44aa55" fill-opacity="0.48"/><ellipse cx="43.3" cy="109.8" rx="1.3" ry="2.2" transform="rotate(15 43.3 109.8)" fill="#44aa55" fill-opacity="0.63"/><ellipse cx="49.9" cy="111.3" rx="1.4" ry="2.4" transform="rotate(9 49.9 111.3)" fill="#44aa55" fill-opacity="0.56"/><ellipse cx="53.9" cy="110.4" rx="1.4" ry="2.6" transform="rotate(13 53.9 110.4)" fill="#44aa55" fill-opacity="0.53"/><ellipse cx="60.1" cy="111.6" rx="1.4" ry="2.6" transform="rotate(31 60.1 111.6)" fill="#44aa55" fill-opacity="0.45"/><ellipse cx="63.5" cy="112.2" rx="1.4" ry="2.4" transform="rotate(63 63.5 112.2)" fill="#44aa55" fill-opacity="0.55"/><ellipse cx="69.1" cy="110" rx="1.4" ry="2.9" transform="rotate(19 69.1 110)" fill="#44aa55" fill-opacity="0.76"/><ellipse cx="22.7" cy="116.3" rx="1.5" ry="2.3" transform="rotate(32 22.7 116.3)" fill="#44aa55" fill-opacity="0.48"/><ellipse cx="29" cy="115.9" rx="1.5" ry="2.9" transform="rotate(37 29 115.9)" fill="#44aa55" fill-opacity="0.77"/><ellipse cx="33.2" cy="114.4" rx="1.3" ry="2.9" transform="rotate(20 33.2 114.4)" fill="#44aa55" fill-opacity="0.75"/><ellipse cx="36.1" cy="116.1" rx="1.5" ry="2.6" transform="rotate(43 36.1 116.1)" fill="#44aa55" fill-opacity="0.59"/><ellipse cx="41.8" cy="114.7" rx="1.7" ry="2.5" transform="rotate(3 41.8 114.7)" fill="#44aa55" fill-opacity="0.68"/><ellipse cx="48" cy="115.1" rx="1.7" ry="2.3" transform="rotate(17 48 115.1)" fill="#44aa55" fill-opacity="0.73"/><ellipse cx="52.9" cy="114.8" rx="1.7" ry="2.4" transform="rotate(54 52.9 114.8)" fill="#44aa55" fill-opacity="0.55"/><ellipse cx="55.8" cy="114.1" rx="1.6" ry="2.2" transform="rotate(9 55.8 114.1)" fill="#44aa55" fill-opacity="0.48"/><ellipse cx="60.3" cy="114.6" rx="1.3" ry="2.7" transform="rotate(9 60.3 114.6)" fill="#44aa55" fill-opacity="0.72"/><ellipse cx="65.8" cy="114.3" rx="1.4" ry="2.5" transform="rotate(16 65.8 114.3)" fill="#44aa55" fill-opacity="0.63"/><ellipse cx="25.1" cy="119.6" rx="1.5" ry="2.7" transform="rotate(49 25.1 119.6)" fill="#44aa55" fill-opacity="0.55"/><ellipse cx="29.6" cy="120.3" rx="1.4" ry="2.3" transform="rotate(5 29.6 120.3)" fill="#44aa55" fill-opacity="0.62"/><ellipse cx="35.5" cy="120.5" rx="1.7" ry="2.9" transform="rotate(33 35.5 120.5)" fill="#44aa55" fill-opacity="0.57"/><ellipse cx="40.2" cy="119.7" rx="1.6" ry="2.6" transform="rotate(44 40.2 119.7)" fill="#44aa55" fill-opacity="0.70"/><ellipse cx="45.3" cy="120.2" rx="1.4" ry="2.3" transform="rotate(45 45.3 120.2)" fill="#44aa55" fill-opacity="0.64"/><ellipse cx="49.4" cy="119" rx="1.7" ry="2.3" transform="rotate(32 49.4 119)" fill="#44aa55" fill-opacity="0.51"/><ellipse cx="55.3" cy="119.7" rx="1.4" ry="2.4" transform="rotate(63 55.3 119.7)" fill="#44aa55" fill-opacity="0.76"/><ellipse cx="60.4" cy="120" rx="1.3" ry="2.4" transform="rotate(5 60.4 120)" fill="#44aa55" fill-opacity="0.54"/><ellipse cx="62.6" cy="118.2" rx="1.6" ry="2.6" transform="rotate(3 62.6 118.2)" fill="#44aa55" fill-opacity="0.62"/><ellipse cx="69.1" cy="120" rx="1.5" ry="2.5" transform="rotate(9 69.1 120)" fill="#44aa55" fill-opacity="0.70"/><ellipse cx="24.3" cy="123.6" rx="1.5" ry="2.3" transform="rotate(47 24.3 123.6)" fill="#44aa55" fill-opacity="0.72"/><ellipse cx="26.9" cy="123.1" rx="1.3" ry="2.7" transform="rotate(13 26.9 123.1)" fill="#44aa55" fill-opacity="0.59"/><ellipse cx="33.4" cy="124.1" rx="1.7" ry="2.8" transform="rotate(8 33.4 124.1)" fill="#44aa55" fill-opacity="0.53"/><ellipse cx="38.1" cy="124.8" rx="1.5" ry="2.5" transform="rotate(14 38.1 124.8)" fill="#44aa55" fill-opacity="0.55"/><ellipse cx="41.8" cy="123" rx="1.5" ry="2.8" transform="rotate(56 41.8 123)" fill="#44aa55" fill-opacity="0.51"/><ellipse cx="46" cy="123.2" rx="1.7" ry="2.8" transform="rotate(26 46 123.2)" fill="#44aa55" fill-opacity="0.55"/><ellipse cx="50.7" cy="122.5" rx="1.3" ry="2.8" transform="rotate(41 50.7 122.5)" fill="#44aa55" fill-opacity="0.63"/><ellipse cx="57.7" cy="123.9" rx="1.6" ry="2.7" transform="rotate(6 57.7 123.9)" fill="#44aa55" fill-opacity="0.52"/><ellipse cx="61.2" cy="125" rx="1.6" ry="2.8" transform="rotate(3 61.2 125)" fill="#44aa55" fill-opacity="0.69"/><ellipse cx="65" cy="124.3" rx="1.4" ry="2.9" transform="rotate(39 65 124.3)" fill="#44aa55" fill-opacity="0.67"/><ellipse cx="26.7" cy="126.8" rx="1.5" ry="2.4" transform="rotate(38 26.7 126.8)" fill="#44aa55" fill-opacity="0.64"/><ellipse cx="29.4" cy="128.5" rx="1.5" ry="2.4" transform="rotate(35 29.4 128.5)" fill="#44aa55" fill-opacity="0.61"/><ellipse cx="36.1" cy="128.7" rx="1.5" ry="2.6" transform="rotate(18 36.1 128.7)" fill="#44aa55" fill-opacity="0.56"/><ellipse cx="41" cy="129.1" rx="1.3" ry="2.6" transform="rotate(4 41 129.1)" fill="#44aa55" fill-opacity="0.75"/><ellipse cx="45.4" cy="127" rx="1.5" ry="2.8" transform="rotate(16 45.4 127)" fill="#44aa55" fill-opacity="0.47"/><ellipse cx="48" cy="128.6" rx="1.5" ry="2.5" transform="rotate(27 48 128.6)" fill="#44aa55" fill-opacity="0.78"/><ellipse cx="53.6" cy="128.9" rx="1.6" ry="2.8" transform="rotate(32 53.6 128.9)" fill="#44aa55" fill-opacity="0.69"/><ellipse cx="58.4" cy="126.7" rx="1.3" ry="2.2" transform="rotate(13 58.4 126.7)" fill="#44aa55" fill-opacity="0.67"/><ellipse cx="63.4" cy="128.3" rx="1.3" ry="2.9" transform="rotate(12 63.4 128.3)" fill="#44aa55" fill-opacity="0.55"/><ellipse cx="69.8" cy="129.3" rx="1.4" ry="2.4" transform="rotate(44 69.8 129.3)" fill="#44aa55" fill-opacity="0.58"/><ellipse cx="23.8" cy="132.2" rx="1.6" ry="2.2" transform="rotate(9 23.8 132.2)" fill="#44aa55" fill-opacity="0.76"/><ellipse cx="26.6" cy="132.1" rx="1.4" ry="2.9" transform="rotate(33 26.6 132.1)" fill="#44aa55" fill-opacity="0.74"/><ellipse cx="32.2" cy="131" rx="1.6" ry="2.3" transform="rotate(68 32.2 131)" fill="#44aa55" fill-opacity="0.72"/><ellipse cx="38.7" cy="131.5" rx="1.3" ry="2.2" transform="rotate(32 38.7 131.5)" fill="#44aa55" fill-opacity="0.76"/><ellipse cx="42.5" cy="132.1" rx="1.4" ry="2.7" transform="rotate(66 42.5 132.1)" fill="#44aa55" fill-opacity="0.79"/><ellipse cx="45.6" cy="132.7" rx="1.4" ry="2.5" transform="rotate(31 45.6 132.7)" fill="#44aa55" fill-opacity="0.56"/><ellipse cx="51.7" cy="131.5" rx="1.3" ry="2.8" transform="rotate(1 51.7 131.5)" fill="#44aa55" fill-opacity="0.46"/><ellipse cx="56.4" cy="131.9" rx="1.6" ry="2.8" transform="rotate(64 56.4 131.9)" fill="#44aa55" fill-opacity="0.48"/><ellipse cx="61.2" cy="132.6" rx="1.3" ry="2.7" transform="rotate(1 61.2 132.6)" fill="#44aa55" fill-opacity="0.59"/><ellipse cx="67.6" cy="133.3" rx="1.6" ry="2.2" transform="rotate(36 67.6 133.3)" fill="#44aa55" fill-opacity="0.74"/><ellipse cx="24.9" cy="135.1" rx="1.3" ry="2.2" transform="rotate(30 24.9 135.1)" fill="#44aa55" fill-opacity="0.57"/><ellipse cx="29.1" cy="136.4" rx="1.7" ry="2.4" transform="rotate(58 29.1 136.4)" fill="#44aa55" fill-opacity="0.67"/><ellipse cx="34.3" cy="135.9" rx="1.3" ry="2.2" transform="rotate(4 34.3 135.9)" fill="#44aa55" fill-opacity="0.63"/><ellipse cx="40.8" cy="135.5" rx="1.3" ry="2.2" transform="rotate(31 40.8 135.5)" fill="#44aa55" fill-opacity="0.61"/><ellipse cx="45.7" cy="137.4" rx="1.4" ry="2.3" transform="rotate(52 45.7 137.4)" fill="#44aa55" fill-opacity="0.61"/><ellipse cx="49.5" cy="135.4" rx="1.7" ry="2.4" transform="rotate(43 49.5 135.4)" fill="#44aa55" fill-opacity="0.80"/><ellipse cx="53.4" cy="134.9" rx="1.6" ry="2.7" transform="rotate(64 53.4 134.9)" fill="#44aa55" fill-opacity="0.79"/><ellipse cx="59.3" cy="137.4" rx="1.7" ry="2.6" transform="rotate(21 59.3 137.4)" fill="#44aa55" fill-opacity="0.62"/><ellipse cx="63.4" cy="135.4" rx="1.5" ry="2.7" transform="rotate(19 63.4 135.4)" fill="#44aa55" fill-opacity="0.75"/><ellipse cx="69.6" cy="136.9" rx="1.6" ry="2.4" transform="rotate(37 69.6 136.9)" fill="#44aa55" fill-opacity="0.47"/><ellipse cx="22.1" cy="139.1" rx="1.3" ry="2.3" transform="rotate(35 22.1 139.1)" fill="#44aa55" fill-opacity="0.67"/><ellipse cx="27.7" cy="140.5" rx="1.5" ry="2.4" transform="rotate(15 27.7 140.5)" fill="#44aa55" fill-opacity="0.77"/><ellipse cx="33.5" cy="141.2" rx="1.5" ry="2.2" transform="rotate(21 33.5 141.2)" fill="#44aa55" fill-opacity="0.57"/><ellipse cx="38.6" cy="139.6" rx="1.5" ry="2.7" transform="rotate(15 38.6 139.6)" fill="#44aa55" fill-opacity="0.70"/><ellipse cx="41.2" cy="140.9" rx="1.3" ry="2.3" transform="rotate(67 41.2 140.9)" fill="#44aa55" fill-opacity="0.79"/><ellipse cx="46.2" cy="140.6" rx="1.4" ry="2.3" transform="rotate(35 46.2 140.6)" fill="#44aa55" fill-opacity="0.62"/><ellipse cx="51.7" cy="139.6" rx="1.4" ry="2.8" transform="rotate(46 51.7 139.6)" fill="#44aa55" fill-opacity="0.79"/><ellipse cx="57.8" cy="140.1" rx="1.4" ry="2.7" transform="rotate(2 57.8 140.1)" fill="#44aa55" fill-opacity="0.57"/><ellipse cx="62.8" cy="141.7" rx="1.5" ry="2.4" transform="rotate(15 62.8 141.7)" fill="#44aa55" fill-opacity="0.53"/><ellipse cx="66.6" cy="140.7" rx="1.5" ry="2.5" transform="rotate(0 66.6 140.7)" fill="#44aa55" fill-opacity="0.53"/><ellipse cx="26.1" cy="143.4" rx="1.4" ry="2.3" transform="rotate(6 26.1 143.4)" fill="#44aa55" fill-opacity="0.59"/><ellipse cx="31.6" cy="145.1" rx="1.3" ry="2.9" transform="rotate(3 31.6 145.1)" fill="#44aa55" fill-opacity="0.71"/><ellipse cx="34.2" cy="144.1" rx="1.4" ry="2.7" transform="rotate(3 34.2 144.1)" fill="#44aa55" fill-opacity="0.53"/><ellipse cx="41.1" cy="143.5" rx="1.5" ry="2.8" transform="rotate(17 41.1 143.5)" fill="#44aa55" fill-opacity="0.74"/><ellipse cx="44.1" cy="143.3" rx="1.3" ry="2.6" transform="rotate(31 44.1 143.3)" fill="#44aa55" fill-opacity="0.60"/><ellipse cx="50.1" cy="144.8" rx="1.6" ry="2.7" transform="rotate(48 50.1 144.8)" fill="#44aa55" fill-opacity="0.71"/><ellipse cx="53.7" cy="145.7" rx="1.7" ry="2.2" transform="rotate(61 53.7 145.7)" fill="#44aa55" fill-opacity="0.75"/><ellipse cx="60.1" cy="145.6" rx="1.6" ry="2.8" transform="rotate(23 60.1 145.6)" fill="#44aa55" fill-opacity="0.51"/><ellipse cx="63.6" cy="143.3" rx="1.6" ry="2.7" transform="rotate(10 63.6 143.3)" fill="#44aa55" fill-opacity="0.56"/><ellipse cx="67.5" cy="143.4" rx="1.5" ry="2.8" transform="rotate(44 67.5 143.4)" fill="#44aa55" fill-opacity="0.61"/>
</g>
</svg>
<rect x="66.3" y="109" width="39" height="38.5" fill="#030803"/>
<svg x="66.3" y="109" width="39" height="38.5" viewBox="66.3 109 39 38.5">
<g filter="url(#bl)">
<ellipse cx="63.2" cy="107.6" rx="1.1" ry="2.8" transform="rotate(44 63.2 107.6)" fill="#3a9048" fill-opacity="0.42"/><ellipse cx="70.7" cy="107" rx="1" ry="2.5" transform="rotate(35 70.7 107)" fill="#3a9048" fill-opacity="0.33"/><ellipse cx="75.4" cy="105.6" rx="1.1" ry="2.2" transform="rotate(55 75.4 105.6)" fill="#3a9048" fill-opacity="0.33"/><ellipse cx="82.1" cy="107.8" rx="1" ry="2.5" transform="rotate(61 82.1 107.8)" fill="#3a9048" fill-opacity="0.47"/><ellipse cx="85.9" cy="105.8" rx="1.1" ry="2.9" transform="rotate(66 85.9 105.8)" fill="#3a9048" fill-opacity="0.38"/><ellipse cx="90.1" cy="108.4" rx="1.1" ry="2.6" transform="rotate(31 90.1 108.4)" fill="#3a9048" fill-opacity="0.44"/><ellipse cx="95.7" cy="105.5" rx="1.3" ry="2.4" transform="rotate(60 95.7 105.5)" fill="#3a9048" fill-opacity="0.33"/><ellipse cx="103.6" cy="108.3" rx="1.2" ry="2.8" transform="rotate(52 103.6 108.3)" fill="#3a9048" fill-opacity="0.52"/><ellipse cx="106.3" cy="106.9" rx="1.4" ry="2.9" transform="rotate(57 106.3 106.9)" fill="#3a9048" fill-opacity="0.32"/><ellipse cx="66.7" cy="111.3" rx="1.4" ry="2.5" transform="rotate(31 66.7 111.3)" fill="#3a9048" fill-opacity="0.39"/><ellipse cx="70.9" cy="110.4" rx="1.2" ry="2.6" transform="rotate(50 70.9 110.4)" fill="#3a9048" fill-opacity="0.60"/><ellipse cx="78" cy="112.5" rx="1.2" ry="2.7" transform="rotate(15 78 112.5)" fill="#3a9048" fill-opacity="0.46"/><ellipse cx="82.2" cy="110.6" rx="1.1" ry="2.7" transform="rotate(24 82.2 110.6)" fill="#3a9048" fill-opacity="0.57"/><ellipse cx="88" cy="110.4" rx="1.3" ry="2.5" transform="rotate(4 88 110.4)" fill="#3a9048" fill-opacity="0.53"/><ellipse cx="94.6" cy="112.3" rx="1.2" ry="3" transform="rotate(62 94.6 112.3)" fill="#3a9048" fill-opacity="0.59"/><ellipse cx="100.9" cy="112" rx="1.2" ry="2.4" transform="rotate(61 100.9 112)" fill="#3a9048" fill-opacity="0.42"/><ellipse cx="106" cy="110.6" rx="1.3" ry="2.6" transform="rotate(4 106 110.6)" fill="#3a9048" fill-opacity="0.53"/><ellipse cx="111.3" cy="110.2" rx="1.2" ry="2.3" transform="rotate(18 111.3 110.2)" fill="#3a9048" fill-opacity="0.35"/><ellipse cx="62.9" cy="115.9" rx="1.3" ry="2.6" transform="rotate(62 62.9 115.9)" fill="#3a9048" fill-opacity="0.59"/><ellipse cx="68.9" cy="117.9" rx="1" ry="2.4" transform="rotate(36 68.9 117.9)" fill="#3a9048" fill-opacity="0.51"/><ellipse cx="76.2" cy="117.4" rx="1.2" ry="2.7" transform="rotate(61 76.2 117.4)" fill="#3a9048" fill-opacity="0.46"/><ellipse cx="81.6" cy="115.8" rx="1.3" ry="2.2" transform="rotate(37 81.6 115.8)" fill="#3a9048" fill-opacity="0.35"/><ellipse cx="86.5" cy="117.9" rx="1.3" ry="2.9" transform="rotate(1 86.5 117.9)" fill="#3a9048" fill-opacity="0.46"/><ellipse cx="91.6" cy="115.6" rx="1.4" ry="2.3" transform="rotate(28 91.6 115.6)" fill="#3a9048" fill-opacity="0.59"/><ellipse cx="95.4" cy="115.1" rx="1.1" ry="2.9" transform="rotate(1 95.4 115.1)" fill="#3a9048" fill-opacity="0.41"/><ellipse cx="102.6" cy="115.2" rx="1.2" ry="2.4" transform="rotate(37 102.6 115.2)" fill="#3a9048" fill-opacity="0.36"/><ellipse cx="106.4" cy="115.4" rx="1.2" ry="2.2" transform="rotate(26 106.4 115.4)" fill="#3a9048" fill-opacity="0.50"/><ellipse cx="67.7" cy="122.3" rx="1" ry="2.6" transform="rotate(54 67.7 122.3)" fill="#3a9048" fill-opacity="0.53"/><ellipse cx="71" cy="121.9" rx="1.1" ry="2.8" transform="rotate(12 71 121.9)" fill="#3a9048" fill-opacity="0.50"/><ellipse cx="77.2" cy="119.6" rx="1.4" ry="2.4" transform="rotate(27 77.2 119.6)" fill="#3a9048" fill-opacity="0.36"/><ellipse cx="83.2" cy="121.3" rx="1.2" ry="2.6" transform="rotate(66 83.2 121.3)" fill="#3a9048" fill-opacity="0.28"/><ellipse cx="89.4" cy="122.6" rx="1.2" ry="2.6" transform="rotate(21 89.4 122.6)" fill="#3a9048" fill-opacity="0.49"/><ellipse cx="92.6" cy="122.1" rx="1.1" ry="3" transform="rotate(68 92.6 122.1)" fill="#3a9048" fill-opacity="0.37"/><ellipse cx="98.1" cy="119.7" rx="1.3" ry="2.6" transform="rotate(5 98.1 119.7)" fill="#3a9048" fill-opacity="0.54"/><ellipse cx="105.2" cy="119.5" rx="1.2" ry="2.5" transform="rotate(45 105.2 119.5)" fill="#3a9048" fill-opacity="0.40"/><ellipse cx="109.9" cy="120.2" rx="1.1" ry="2.8" transform="rotate(3 109.9 120.2)" fill="#3a9048" fill-opacity="0.40"/><ellipse cx="65.3" cy="126.5" rx="1.2" ry="2.6" transform="rotate(31 65.3 126.5)" fill="#3a9048" fill-opacity="0.33"/><ellipse cx="70.1" cy="127.3" rx="1.2" ry="2.8" transform="rotate(5 70.1 127.3)" fill="#3a9048" fill-opacity="0.42"/><ellipse cx="76.4" cy="126.7" rx="1.3" ry="2.9" transform="rotate(43 76.4 126.7)" fill="#3a9048" fill-opacity="0.52"/><ellipse cx="81.1" cy="126.4" rx="1.2" ry="2.7" transform="rotate(17 81.1 126.4)" fill="#3a9048" fill-opacity="0.57"/><ellipse cx="87" cy="127.3" rx="1.1" ry="2.4" transform="rotate(69 87 127.3)" fill="#3a9048" fill-opacity="0.25"/><ellipse cx="90.9" cy="124.6" rx="1.1" ry="3" transform="rotate(38 90.9 124.6)" fill="#3a9048" fill-opacity="0.28"/><ellipse cx="97.5" cy="125.7" rx="1.3" ry="2.4" transform="rotate(7 97.5 125.7)" fill="#3a9048" fill-opacity="0.58"/><ellipse cx="101.6" cy="126.3" rx="1.4" ry="2.5" transform="rotate(47 101.6 126.3)" fill="#3a9048" fill-opacity="0.34"/><ellipse cx="106.7" cy="126.9" rx="1.1" ry="2.7" transform="rotate(10 106.7 126.9)" fill="#3a9048" fill-opacity="0.49"/><ellipse cx="66.3" cy="130.1" rx="1.2" ry="2.7" transform="rotate(65 66.3 130.1)" fill="#3a9048" fill-opacity="0.41"/><ellipse cx="71.7" cy="129.4" rx="1.1" ry="3" transform="rotate(26 71.7 129.4)" fill="#3a9048" fill-opacity="0.35"/><ellipse cx="76.3" cy="131.5" rx="1" ry="2.6" transform="rotate(65 76.3 131.5)" fill="#3a9048" fill-opacity="0.50"/><ellipse cx="81.7" cy="130.8" rx="1" ry="2.6" transform="rotate(49 81.7 130.8)" fill="#3a9048" fill-opacity="0.33"/><ellipse cx="87.3" cy="129.9" rx="1.1" ry="2.3" transform="rotate(31 87.3 129.9)" fill="#3a9048" fill-opacity="0.56"/><ellipse cx="94.9" cy="131.5" rx="1.1" ry="2.5" transform="rotate(37 94.9 131.5)" fill="#3a9048" fill-opacity="0.27"/><ellipse cx="99.6" cy="129.6" rx="1.4" ry="2.9" transform="rotate(56 99.6 129.6)" fill="#3a9048" fill-opacity="0.55"/><ellipse cx="103.2" cy="130.8" rx="1.3" ry="2.8" transform="rotate(5 103.2 130.8)" fill="#3a9048" fill-opacity="0.56"/><ellipse cx="109.2" cy="129.1" rx="1.2" ry="2.6" transform="rotate(57 109.2 129.1)" fill="#3a9048" fill-opacity="0.46"/><ellipse cx="65.3" cy="134.7" rx="1.1" ry="2.7" transform="rotate(18 65.3 134.7)" fill="#3a9048" fill-opacity="0.37"/><ellipse cx="71" cy="133.8" rx="1.3" ry="2.4" transform="rotate(4 71 133.8)" fill="#3a9048" fill-opacity="0.43"/><ellipse cx="74.4" cy="133.8" rx="1.3" ry="2.7" transform="rotate(2 74.4 133.8)" fill="#3a9048" fill-opacity="0.42"/><ellipse cx="79.4" cy="133.9" rx="1.2" ry="2.8" transform="rotate(65 79.4 133.9)" fill="#3a9048" fill-opacity="0.44"/><ellipse cx="86.6" cy="135.3" rx="1.1" ry="2.2" transform="rotate(5 86.6 135.3)" fill="#3a9048" fill-opacity="0.54"/><ellipse cx="90.8" cy="135.3" rx="1.3" ry="2.6" transform="rotate(43 90.8 135.3)" fill="#3a9048" fill-opacity="0.31"/><ellipse cx="95.6" cy="136.3" rx="1.3" ry="2.4" transform="rotate(56 95.6 136.3)" fill="#3a9048" fill-opacity="0.57"/><ellipse cx="103" cy="136.5" rx="1.4" ry="2.5" transform="rotate(37 103 136.5)" fill="#3a9048" fill-opacity="0.57"/><ellipse cx="108.9" cy="136.6" rx="1.1" ry="2.7" transform="rotate(55 108.9 136.6)" fill="#3a9048" fill-opacity="0.25"/><ellipse cx="67.3" cy="140.7" rx="1.4" ry="2.6" transform="rotate(45 67.3 140.7)" fill="#3a9048" fill-opacity="0.31"/><ellipse cx="73.6" cy="138.9" rx="1.3" ry="2.8" transform="rotate(69 73.6 138.9)" fill="#3a9048" fill-opacity="0.44"/><ellipse cx="79" cy="139.4" rx="1.1" ry="2.6" transform="rotate(5 79 139.4)" fill="#3a9048" fill-opacity="0.39"/><ellipse cx="84.2" cy="139.4" rx="1.2" ry="2.7" transform="rotate(9 84.2 139.4)" fill="#3a9048" fill-opacity="0.26"/><ellipse cx="87.1" cy="140.4" rx="1.4" ry="2.6" transform="rotate(14 87.1 140.4)" fill="#3a9048" fill-opacity="0.29"/><ellipse cx="95.3" cy="139.9" rx="1.2" ry="2.7" transform="rotate(8 95.3 139.9)" fill="#3a9048" fill-opacity="0.33"/><ellipse cx="100.3" cy="140.7" rx="1.2" ry="2.5" transform="rotate(45 100.3 140.7)" fill="#3a9048" fill-opacity="0.34"/><ellipse cx="104.8" cy="139.1" rx="1" ry="2.9" transform="rotate(37 104.8 139.1)" fill="#3a9048" fill-opacity="0.41"/><ellipse cx="110.5" cy="140.9" rx="1.4" ry="2.5" transform="rotate(51 110.5 140.9)" fill="#3a9048" fill-opacity="0.51"/><ellipse cx="64" cy="143" rx="1.2" ry="3" transform="rotate(46 64 143)" fill="#3a9048" fill-opacity="0.45"/><ellipse cx="68.7" cy="143.7" rx="1.2" ry="2.2" transform="rotate(51 68.7 143.7)" fill="#3a9048" fill-opacity="0.53"/><ellipse cx="74.7" cy="145.6" rx="1.2" ry="2.7" transform="rotate(34 74.7 145.6)" fill="#3a9048" fill-opacity="0.41"/><ellipse cx="80.8" cy="145.2" rx="1.1" ry="2.4" transform="rotate(60 80.8 145.2)" fill="#3a9048" fill-opacity="0.51"/><ellipse cx="86.8" cy="145.5" rx="1.3" ry="2.9" transform="rotate(64 86.8 145.5)" fill="#3a9048" fill-opacity="0.32"/><ellipse cx="89.9" cy="144" rx="1.3" ry="2.4" transform="rotate(44 89.9 144)" fill="#3a9048" fill-opacity="0.30"/><ellipse cx="97.3" cy="143.9" rx="1.2" ry="2.8" transform="rotate(15 97.3 143.9)" fill="#3a9048" fill-opacity="0.32"/><ellipse cx="101.2" cy="145.2" rx="1.1" ry="2.4" transform="rotate(23 101.2 145.2)" fill="#3a9048" fill-opacity="0.48"/><ellipse cx="106.3" cy="143.2" rx="1" ry="2.9" transform="rotate(48 106.3 143.2)" fill="#3a9048" fill-opacity="0.39"/>
</g>
</svg>
<rect x="107.2" y="109" width="39" height="38.5" fill="#030803"/>
<svg x="107.2" y="109" width="39" height="38.5" viewBox="107.2 109 39 38.5">
<g filter="url(#bl)">
<ellipse cx="106.9" cy="105.7" rx="1.8" ry="2.2" transform="rotate(1 106.9 105.7)" fill="#3aa04a" fill-opacity="0.65"/><ellipse cx="112" cy="106.4" rx="2.2" ry="2.4" transform="rotate(62 112 106.4)" fill="#3aa04a" fill-opacity="0.34"/><ellipse cx="118" cy="108.6" rx="2.1" ry="2.1" transform="rotate(47 118 108.6)" fill="#3aa04a" fill-opacity="0.62"/><ellipse cx="125.2" cy="107.3" rx="2.1" ry="2.6" transform="rotate(21 125.2 107.3)" fill="#3aa04a" fill-opacity="0.33"/><ellipse cx="131.6" cy="108" rx="2" ry="2.6" transform="rotate(67 131.6 108)" fill="#3aa04a" fill-opacity="0.48"/><ellipse cx="135.3" cy="108.7" rx="2.2" ry="2.6" transform="rotate(21 135.3 108.7)" fill="#3aa04a" fill-opacity="0.56"/><ellipse cx="141.1" cy="108.2" rx="1.7" ry="2.5" transform="rotate(46 141.1 108.2)" fill="#3aa04a" fill-opacity="0.32"/><ellipse cx="146.9" cy="108.6" rx="1.9" ry="2.6" transform="rotate(35 146.9 108.6)" fill="#3aa04a" fill-opacity="0.46"/><ellipse cx="109.8" cy="111.7" rx="1.8" ry="2.6" transform="rotate(26 109.8 111.7)" fill="#3aa04a" fill-opacity="0.48"/><ellipse cx="114.7" cy="112.1" rx="1.7" ry="2.9" transform="rotate(47 114.7 112.1)" fill="#3aa04a" fill-opacity="0.46"/><ellipse cx="120.2" cy="112.1" rx="2.2" ry="2.5" transform="rotate(28 120.2 112.1)" fill="#3aa04a" fill-opacity="0.62"/><ellipse cx="126.5" cy="110.9" rx="2" ry="2.4" transform="rotate(62 126.5 110.9)" fill="#3aa04a" fill-opacity="0.32"/><ellipse cx="132.5" cy="111.9" rx="2" ry="2.7" transform="rotate(13 132.5 111.9)" fill="#3aa04a" fill-opacity="0.26"/><ellipse cx="139.8" cy="111.3" rx="1.9" ry="2.8" transform="rotate(48 139.8 111.3)" fill="#3aa04a" fill-opacity="0.27"/><ellipse cx="147.1" cy="112.2" rx="2" ry="2.6" transform="rotate(59 147.1 112.2)" fill="#3aa04a" fill-opacity="0.45"/><ellipse cx="153.5" cy="113.3" rx="2" ry="2.4" transform="rotate(33 153.5 113.3)" fill="#3aa04a" fill-opacity="0.54"/><ellipse cx="106.3" cy="119" rx="1.7" ry="2.5" transform="rotate(42 106.3 119)" fill="#3aa04a" fill-opacity="0.63"/><ellipse cx="111.9" cy="117.2" rx="1.9" ry="2.3" transform="rotate(11 111.9 117.2)" fill="#3aa04a" fill-opacity="0.53"/><ellipse cx="115.9" cy="119.5" rx="1.8" ry="2.3" transform="rotate(24 115.9 119.5)" fill="#3aa04a" fill-opacity="0.30"/><ellipse cx="125.2" cy="116.6" rx="1.9" ry="2.3" transform="rotate(19 125.2 116.6)" fill="#3aa04a" fill-opacity="0.29"/><ellipse cx="129.4" cy="118.7" rx="1.7" ry="2.4" transform="rotate(64 129.4 118.7)" fill="#3aa04a" fill-opacity="0.58"/><ellipse cx="137.5" cy="116.1" rx="1.9" ry="2.7" transform="rotate(14 137.5 116.1)" fill="#3aa04a" fill-opacity="0.45"/><ellipse cx="143.2" cy="117.7" rx="1.8" ry="2.2" transform="rotate(17 143.2 117.7)" fill="#3aa04a" fill-opacity="0.34"/><ellipse cx="149.2" cy="116.5" rx="1.7" ry="2.5" transform="rotate(62 149.2 116.5)" fill="#3aa04a" fill-opacity="0.51"/><ellipse cx="108.7" cy="121.5" rx="2.1" ry="2.1" transform="rotate(34 108.7 121.5)" fill="#3aa04a" fill-opacity="0.26"/><ellipse cx="115" cy="125" rx="2" ry="2.2" transform="rotate(59 115 125)" fill="#3aa04a" fill-opacity="0.34"/><ellipse cx="120.1" cy="124.5" rx="1.9" ry="2.6" transform="rotate(57 120.1 124.5)" fill="#3aa04a" fill-opacity="0.25"/><ellipse cx="125.7" cy="124.3" rx="1.9" ry="2.8" transform="rotate(62 125.7 124.3)" fill="#3aa04a" fill-opacity="0.47"/><ellipse cx="133.1" cy="122" rx="2.1" ry="2.5" transform="rotate(19 133.1 122)" fill="#3aa04a" fill-opacity="0.31"/><ellipse cx="140" cy="124.4" rx="1.9" ry="2.8" transform="rotate(68 140 124.4)" fill="#3aa04a" fill-opacity="0.33"/><ellipse cx="146.5" cy="122.8" rx="1.8" ry="2.1" transform="rotate(45 146.5 122.8)" fill="#3aa04a" fill-opacity="0.33"/><ellipse cx="151.3" cy="122.2" rx="1.8" ry="2.5" transform="rotate(36 151.3 122.2)" fill="#3aa04a" fill-opacity="0.64"/><ellipse cx="106.6" cy="128.9" rx="1.7" ry="2.9" transform="rotate(36 106.6 128.9)" fill="#3aa04a" fill-opacity="0.56"/><ellipse cx="112.1" cy="129.7" rx="1.7" ry="2.2" transform="rotate(57 112.1 129.7)" fill="#3aa04a" fill-opacity="0.29"/><ellipse cx="117.6" cy="130.2" rx="2" ry="2.7" transform="rotate(63 117.6 130.2)" fill="#3aa04a" fill-opacity="0.41"/><ellipse cx="123.2" cy="130.3" rx="2.2" ry="2.7" transform="rotate(65 123.2 130.3)" fill="#3aa04a" fill-opacity="0.54"/><ellipse cx="130.6" cy="127.9" rx="1.7" ry="2.8" transform="rotate(19 130.6 127.9)" fill="#3aa04a" fill-opacity="0.35"/><ellipse cx="135.4" cy="126.8" rx="1.9" ry="2.4" transform="rotate(22 135.4 126.8)" fill="#3aa04a" fill-opacity="0.29"/><ellipse cx="141.2" cy="128.5" rx="2.1" ry="2.3" transform="rotate(29 141.2 128.5)" fill="#3aa04a" fill-opacity="0.39"/><ellipse cx="148.8" cy="130" rx="1.7" ry="2.9" transform="rotate(67 148.8 130)" fill="#3aa04a" fill-opacity="0.40"/><ellipse cx="108.4" cy="132.9" rx="1.9" ry="2.2" transform="rotate(8 108.4 132.9)" fill="#3aa04a" fill-opacity="0.35"/><ellipse cx="112.8" cy="135.8" rx="1.9" ry="2.7" transform="rotate(57 112.8 135.8)" fill="#3aa04a" fill-opacity="0.30"/><ellipse cx="120.7" cy="132.4" rx="2.2" ry="2.6" transform="rotate(23 120.7 132.4)" fill="#3aa04a" fill-opacity="0.40"/><ellipse cx="126.7" cy="134.5" rx="2.1" ry="2.6" transform="rotate(3 126.7 134.5)" fill="#3aa04a" fill-opacity="0.52"/><ellipse cx="132.6" cy="133.2" rx="1.8" ry="2.5" transform="rotate(0 132.6 133.2)" fill="#3aa04a" fill-opacity="0.28"/><ellipse cx="140.3" cy="132.9" rx="2" ry="2.1" transform="rotate(33 140.3 132.9)" fill="#3aa04a" fill-opacity="0.50"/><ellipse cx="147.1" cy="134.3" rx="2" ry="2.8" transform="rotate(21 147.1 134.3)" fill="#3aa04a" fill-opacity="0.35"/><ellipse cx="151.1" cy="133.6" rx="1.9" ry="2.8" transform="rotate(38 151.1 133.6)" fill="#3aa04a" fill-opacity="0.32"/><ellipse cx="105.4" cy="140.6" rx="2.1" ry="2.3" transform="rotate(18 105.4 140.6)" fill="#3aa04a" fill-opacity="0.60"/><ellipse cx="111.5" cy="140" rx="1.8" ry="2.5" transform="rotate(40 111.5 140)" fill="#3aa04a" fill-opacity="0.49"/><ellipse cx="117.1" cy="140.5" rx="2" ry="2.3" transform="rotate(26 117.1 140.5)" fill="#3aa04a" fill-opacity="0.64"/><ellipse cx="123.5" cy="138" rx="2" ry="2.3" transform="rotate(51 123.5 138)" fill="#3aa04a" fill-opacity="0.27"/><ellipse cx="131" cy="138" rx="1.8" ry="2.2" transform="rotate(47 131 138)" fill="#3aa04a" fill-opacity="0.54"/><ellipse cx="135.7" cy="139.9" rx="1.9" ry="2.7" transform="rotate(18 135.7 139.9)" fill="#3aa04a" fill-opacity="0.25"/><ellipse cx="141.1" cy="141" rx="1.8" ry="2.4" transform="rotate(35 141.1 141)" fill="#3aa04a" fill-opacity="0.31"/><ellipse cx="148.5" cy="138.2" rx="1.8" ry="2.5" transform="rotate(5 148.5 138.2)" fill="#3aa04a" fill-opacity="0.45"/><ellipse cx="108.1" cy="145.5" rx="1.8" ry="2.8" transform="rotate(40 108.1 145.5)" fill="#3aa04a" fill-opacity="0.34"/><ellipse cx="112.8" cy="143.4" rx="2" ry="2.8" transform="rotate(4 112.8 143.4)" fill="#3aa04a" fill-opacity="0.58"/><ellipse cx="121.2" cy="144.1" rx="1.8" ry="2.7" transform="rotate(30 121.2 144.1)" fill="#3aa04a" fill-opacity="0.54"/><ellipse cx="126.6" cy="143.1" rx="1.8" ry="2.8" transform="rotate(24 126.6 143.1)" fill="#3aa04a" fill-opacity="0.47"/><ellipse cx="134.7" cy="144.8" rx="2" ry="2.2" transform="rotate(63 134.7 144.8)" fill="#3aa04a" fill-opacity="0.53"/><ellipse cx="141" cy="146.3" rx="1.7" ry="2.6" transform="rotate(31 141 146.3)" fill="#3aa04a" fill-opacity="0.40"/><ellipse cx="146.8" cy="144.3" rx="2.1" ry="2.2" transform="rotate(20 146.8 144.3)" fill="#3aa04a" fill-opacity="0.50"/><ellipse cx="150.9" cy="145.3" rx="1.9" ry="2.8" transform="rotate(2 150.9 145.3)" fill="#3aa04a" fill-opacity="0.58"/>
</g>
</svg>
<rect x="25" y="149" width="39" height="38.5" fill="#030303"/>
<svg x="25" y="149" width="39" height="38.5" viewBox="25 149 39 38.5">
<path d="M26.8 160.4 l4.4 -2.5 l-1 2.5 l1 2.5zM41.1 161.9 l4.4 -2.5 l-1 2.5 l1 2.5zM50.6 160.7 l4.4 -2.5 l-1 2.5 l1 2.5zM24.9 167 l4.4 -2.5 l-1 2.5 l1 2.5zM31.5 166.1 l4.4 -2.5 l-1 2.5 l1 2.5zM34.4 171.8 l4.4 -2.5 l-1 2.5 l1 2.5zM44.9 169.5 l4.4 -2.5 l-1 2.5 l1 2.5zM49.7 172.8 l4.4 -2.5 l-1 2.5 l1 2.5zM25.8 175.6 l4.4 -2.5 l-1 2.5 l1 2.5zM29.3 176.6 l4.4 -2.5 l-1 2.5 l1 2.5zM26.8 182.3 l4.4 -2.5 l-1 2.5 l1 2.5zM31.5 183.3 l4.4 -2.5 l-1 2.5 l1 2.5zM44.9 184.2 l4.4 -2.5 l-1 2.5 l1 2.5z" fill="#f4f4f4"/>
</svg>
<rect x="66.3" y="149" width="39" height="38.5" fill="#030303"/>
<svg x="66.3" y="149" width="39" height="38.5" viewBox="66.3 149 39 38.5">
<path d="M67.8 167 l4.4 -2.5 l-1 2.5 l1 2.5zM87.8 167.6 l4.4 -2.5 l-1 2.5 l1 2.5zM95.5 181.4 l4.4 -2.5 l-1 2.5 l1 2.5z" fill="#f4f4f4"/>
</svg>
<rect x="107.2" y="149" width="39" height="38.5" fill="#030303"/>
<svg x="107.2" y="149" width="39" height="38.5" viewBox="107.2 149 39 38.5">
<path d="M108.8 154.6 l4.4 -2.5 l-1 2.5 l1 2.5zM111.3 155 l4.4 -2.5 l-1 2.5 l1 2.5zM107.9 164.2 l4.4 -2.5 l-1 2.5 l1 2.5zM112.6 168 l4.4 -2.5 l-1 2.5 l1 2.5zM114.6 171.8 l4.4 -2.5 l-1 2.5 l1 2.5zM122.2 162.3 l4.4 -2.5 l-1 2.5 l1 2.5zM129.8 160.4 l4.4 -2.5 l-1 2.5 l1 2.5zM129.8 167 l4.4 -2.5 l-1 2.5 l1 2.5zM134.6 167 l4.4 -2.5 l-1 2.5 l1 2.5zM121.2 178.5 l4.4 -2.5 l-1 2.5 l1 2.5zM131.7 182.3 l4.4 -2.5 l-1 2.5 l1 2.5zM115.5 185.2 l4.4 -2.5 l-1 2.5 l1 2.5zM118 185.2 l4.4 -2.5 l-1 2.5 l1 2.5zM123.1 184.2 l4.4 -2.5 l-1 2.5 l1 2.5zM134.6 186.1 l4.4 -2.5 l-1 2.5 l1 2.5z" fill="#f4f4f4"/>
</svg>
<rect x="25" y="188" width="39" height="38.5" fill="#020707"/>
<svg x="25" y="188" width="39" height="38.5" viewBox="25 188 39 38.5">
<g filter="url(#bl2)">
<ellipse cx="42.7" cy="223.3" rx="0.6" ry="0.8" transform="rotate(173 42.7 223.3)" fill="#0f3a3c" fill-opacity="0.73"/><ellipse cx="28.5" cy="200.8" rx="1.2" ry="1.8" transform="rotate(5 28.5 200.8)" fill="#0f3a3c" fill-opacity="0.85"/><ellipse cx="28.6" cy="213.3" rx="1" ry="1.5" transform="rotate(173 28.6 213.3)" fill="#0f3a3c" fill-opacity="0.49"/><ellipse cx="49" cy="190.8" rx="1.3" ry="1.5" transform="rotate(92 49 190.8)" fill="#0f3a3c" fill-opacity="0.82"/><ellipse cx="61" cy="190.1" rx="1.2" ry="2.2" transform="rotate(56 61 190.1)" fill="#0f3a3c" fill-opacity="0.78"/><ellipse cx="32.8" cy="192.5" rx="0.7" ry="0.9" transform="rotate(148 32.8 192.5)" fill="#0f3a3c" fill-opacity="0.63"/><ellipse cx="65.5" cy="224" rx="0.7" ry="1.1" transform="rotate(11 65.5 224)" fill="#0f3a3c" fill-opacity="0.69"/><ellipse cx="49.2" cy="210.9" rx="0.7" ry="1.1" transform="rotate(20 49.2 210.9)" fill="#0f3a3c" fill-opacity="0.82"/><ellipse cx="42.8" cy="190.2" rx="1.3" ry="2.5" transform="rotate(59 42.8 190.2)" fill="#0f3a3c" fill-opacity="0.86"/><ellipse cx="35.3" cy="208.7" rx="1" ry="1.8" transform="rotate(12 35.3 208.7)" fill="#0f3a3c" fill-opacity="0.42"/><ellipse cx="29.4" cy="202.4" rx="1.2" ry="2" transform="rotate(19 29.4 202.4)" fill="#0f3a3c" fill-opacity="0.77"/><ellipse cx="31.2" cy="186.8" rx="0.9" ry="1.8" transform="rotate(163 31.2 186.8)" fill="#0f3a3c" fill-opacity="0.62"/><ellipse cx="57.3" cy="194.2" rx="0.7" ry="1.4" transform="rotate(120 57.3 194.2)" fill="#0f3a3c" fill-opacity="0.49"/><ellipse cx="37.5" cy="218.8" rx="0.6" ry="0.8" transform="rotate(144 37.5 218.8)" fill="#0f3a3c" fill-opacity="0.52"/><ellipse cx="41" cy="204.3" rx="0.9" ry="1.2" transform="rotate(44 41 204.3)" fill="#0f3a3c" fill-opacity="0.80"/><ellipse cx="55.6" cy="226.2" rx="0.6" ry="0.7" transform="rotate(153 55.6 226.2)" fill="#0f3a3c" fill-opacity="0.56"/><ellipse cx="57.1" cy="198.9" rx="0.9" ry="1.5" transform="rotate(76 57.1 198.9)" fill="#0f3a3c" fill-opacity="0.66"/><ellipse cx="24.6" cy="222.3" rx="1" ry="1.3" transform="rotate(85 24.6 222.3)" fill="#0f3a3c" fill-opacity="0.72"/><ellipse cx="63.1" cy="186.9" rx="1.2" ry="2" transform="rotate(7 63.1 186.9)" fill="#0f3a3c" fill-opacity="0.58"/><ellipse cx="54.2" cy="190.8" rx="1" ry="1.6" transform="rotate(103 54.2 190.8)" fill="#0f3a3c" fill-opacity="0.41"/><ellipse cx="23.8" cy="227" rx="0.7" ry="0.8" transform="rotate(102 23.8 227)" fill="#0f3a3c" fill-opacity="0.41"/><ellipse cx="54.5" cy="218.5" rx="0.8" ry="1.3" transform="rotate(87 54.5 218.5)" fill="#0f3a3c" fill-opacity="0.74"/><ellipse cx="30.6" cy="187.2" rx="0.7" ry="1.3" transform="rotate(177 30.6 187.2)" fill="#0f3a3c" fill-opacity="0.53"/><ellipse cx="54.4" cy="195.8" rx="1" ry="1.4" transform="rotate(100 54.4 195.8)" fill="#0f3a3c" fill-opacity="0.85"/><ellipse cx="60.6" cy="225.6" rx="1.2" ry="1.7" transform="rotate(36 60.6 225.6)" fill="#0f3a3c" fill-opacity="0.81"/><ellipse cx="50.8" cy="192.1" rx="0.9" ry="0.9" transform="rotate(139 50.8 192.1)" fill="#0f3a3c" fill-opacity="0.87"/><ellipse cx="23.4" cy="212.8" rx="1.2" ry="2.3" transform="rotate(131 23.4 212.8)" fill="#0f3a3c" fill-opacity="0.46"/><ellipse cx="47.1" cy="200.5" rx="1" ry="1.4" transform="rotate(37 47.1 200.5)" fill="#0f3a3c" fill-opacity="0.70"/><ellipse cx="28" cy="191.7" rx="1" ry="1.8" transform="rotate(21 28 191.7)" fill="#0f3a3c" fill-opacity="0.43"/><ellipse cx="41.3" cy="189.9" rx="1.3" ry="1.6" transform="rotate(2 41.3 189.9)" fill="#0f3a3c" fill-opacity="0.64"/><ellipse cx="46.2" cy="204.3" rx="1" ry="1.1" transform="rotate(28 46.2 204.3)" fill="#0f3a3c" fill-opacity="0.70"/><ellipse cx="24.5" cy="204.7" rx="0.8" ry="1.3" transform="rotate(94 24.5 204.7)" fill="#0f3a3c" fill-opacity="0.70"/><ellipse cx="35.8" cy="207" rx="0.9" ry="1.4" transform="rotate(109 35.8 207)" fill="#0f3a3c" fill-opacity="0.65"/><ellipse cx="55.6" cy="203.8" rx="0.8" ry="0.8" transform="rotate(12 55.6 203.8)" fill="#0f3a3c" fill-opacity="0.41"/><ellipse cx="26.6" cy="215.6" rx="1.1" ry="1.4" transform="rotate(150 26.6 215.6)" fill="#0f3a3c" fill-opacity="0.52"/><ellipse cx="40.3" cy="215.6" rx="0.7" ry="1" transform="rotate(54 40.3 215.6)" fill="#0f3a3c" fill-opacity="0.75"/><ellipse cx="30.4" cy="204.1" rx="1.1" ry="1.9" transform="rotate(171 30.4 204.1)" fill="#0f3a3c" fill-opacity="0.61"/><ellipse cx="47.7" cy="194.5" rx="0.8" ry="1.5" transform="rotate(170 47.7 194.5)" fill="#0f3a3c" fill-opacity="0.59"/><ellipse cx="27.6" cy="215" rx="0.7" ry="0.8" transform="rotate(10 27.6 215)" fill="#0f3a3c" fill-opacity="0.72"/><ellipse cx="56.1" cy="191.4" rx="1.1" ry="1.5" transform="rotate(77 56.1 191.4)" fill="#0f3a3c" fill-opacity="0.68"/><ellipse cx="44.7" cy="209.9" rx="0.8" ry="1.2" transform="rotate(159 44.7 209.9)" fill="#0f3a3c" fill-opacity="0.50"/><ellipse cx="43.4" cy="196.6" rx="0.8" ry="1" transform="rotate(144 43.4 196.6)" fill="#0f3a3c" fill-opacity="0.63"/><ellipse cx="24.7" cy="220.6" rx="0.9" ry="1.1" transform="rotate(105 24.7 220.6)" fill="#0f3a3c" fill-opacity="0.47"/><ellipse cx="46.4" cy="216.2" rx="0.9" ry="1.1" transform="rotate(71 46.4 216.2)" fill="#0f3a3c" fill-opacity="0.47"/><ellipse cx="51.9" cy="199.1" rx="0.7" ry="1.4" transform="rotate(154 51.9 199.1)" fill="#0f3a3c" fill-opacity="0.49"/><ellipse cx="50.7" cy="192.9" rx="0.8" ry="1.1" transform="rotate(13 50.7 192.9)" fill="#0f3a3c" fill-opacity="0.41"/><ellipse cx="58.2" cy="201.3" rx="0.8" ry="1" transform="rotate(157 58.2 201.3)" fill="#0f3a3c" fill-opacity="0.80"/><ellipse cx="27.1" cy="225.4" rx="0.8" ry="0.8" transform="rotate(71 27.1 225.4)" fill="#0f3a3c" fill-opacity="0.72"/><ellipse cx="24.3" cy="195.5" rx="0.8" ry="1.1" transform="rotate(40 24.3 195.5)" fill="#0f3a3c" fill-opacity="0.76"/><ellipse cx="57.5" cy="219.6" rx="0.6" ry="1" transform="rotate(153 57.5 219.6)" fill="#0f3a3c" fill-opacity="0.65"/><ellipse cx="45.8" cy="221.9" rx="1.1" ry="1.3" transform="rotate(27 45.8 221.9)" fill="#0f3a3c" fill-opacity="0.84"/><ellipse cx="35.9" cy="208.7" rx="1.1" ry="1.4" transform="rotate(99 35.9 208.7)" fill="#0f3a3c" fill-opacity="0.82"/><ellipse cx="47.2" cy="205.7" rx="0.8" ry="1.3" transform="rotate(35 47.2 205.7)" fill="#0f3a3c" fill-opacity="0.83"/><ellipse cx="55.5" cy="222.1" rx="1" ry="1.9" transform="rotate(40 55.5 222.1)" fill="#0f3a3c" fill-opacity="0.87"/><ellipse cx="61.3" cy="213.8" rx="0.6" ry="0.8" transform="rotate(39 61.3 213.8)" fill="#0f3a3c" fill-opacity="0.69"/><ellipse cx="44.4" cy="219.6" rx="1" ry="1.4" transform="rotate(38 44.4 219.6)" fill="#0f3a3c" fill-opacity="0.74"/><ellipse cx="44.6" cy="209.6" rx="1" ry="1" transform="rotate(19 44.6 209.6)" fill="#0f3a3c" fill-opacity="0.49"/><ellipse cx="64.1" cy="210.3" rx="0.8" ry="1.2" transform="rotate(56 64.1 210.3)" fill="#0f3a3c" fill-opacity="0.46"/><ellipse cx="65.9" cy="209.9" rx="1.3" ry="2.2" transform="rotate(12 65.9 209.9)" fill="#0f3a3c" fill-opacity="0.63"/><ellipse cx="40.3" cy="212.8" rx="1.2" ry="1.7" transform="rotate(81 40.3 212.8)" fill="#0f3a3c" fill-opacity="0.84"/><ellipse cx="49.7" cy="203.4" rx="0.6" ry="1.2" transform="rotate(84 49.7 203.4)" fill="#0f3a3c" fill-opacity="0.76"/><ellipse cx="57.2" cy="192.1" rx="0.7" ry="1.1" transform="rotate(157 57.2 192.1)" fill="#0f3a3c" fill-opacity="0.65"/><ellipse cx="28.7" cy="198.8" rx="0.7" ry="0.8" transform="rotate(73 28.7 198.8)" fill="#0f3a3c" fill-opacity="0.61"/><ellipse cx="40.9" cy="219.8" rx="0.9" ry="1.3" transform="rotate(41 40.9 219.8)" fill="#0f3a3c" fill-opacity="0.45"/><ellipse cx="36.8" cy="212.4" rx="0.9" ry="1.4" transform="rotate(149 36.8 212.4)" fill="#0f3a3c" fill-opacity="0.48"/><ellipse cx="53.2" cy="223.4" rx="0.8" ry="1.1" transform="rotate(69 53.2 223.4)" fill="#0f3a3c" fill-opacity="0.60"/><ellipse cx="54.7" cy="211.3" rx="0.8" ry="0.9" transform="rotate(112 54.7 211.3)" fill="#0f3a3c" fill-opacity="0.56"/><ellipse cx="52.1" cy="199.6" rx="1" ry="1.5" transform="rotate(96 52.1 199.6)" fill="#0f3a3c" fill-opacity="0.53"/><ellipse cx="50.4" cy="194.9" rx="1.1" ry="1.5" transform="rotate(34 50.4 194.9)" fill="#0f3a3c" fill-opacity="0.67"/><ellipse cx="38.5" cy="218" rx="0.9" ry="1.8" transform="rotate(51 38.5 218)" fill="#0f3a3c" fill-opacity="0.83"/>
</g>
</svg>
<rect x="66.3" y="188" width="39" height="38.5" fill="#020707"/>
<svg x="66.3" y="188" width="39" height="38.5" viewBox="66.3 188 39 38.5">
<g filter="url(#bl)">
<path d="M84.3 188 L105.3 188 L105.3 196 L80.3 218 L72.3 214Z" fill="#1a6468" fill-opacity="0.75"/>
<path d="M88.1 196.9l5.1 -5.6M86.9 205.5l3.8 -3.1M81.9 208.2l5.3 -3.5M78 209.6l2.5 -2.8M78.7 204.6l4.9 -3.6M101.1 193.8l4.6 -5.7M76 207.8l5.5 -3.8M98.5 194.4l5 -5.7M86.4 210.6l2.9 -3.5M85.1 205.8l5 -5.5M76.6 208.6l4.2 -4.7M91.1 201.1l3.8 -3.2M96.7 187.5l5 -4.4M91.3 202.3l5.7 -4.7M81.8 204.2l2.2 -2.5M102.3 194l5.8 -3.5M98.8 194l4.9 -5.6M85.4 207.8l4 -3.1M82.1 214.2l3.6 -3.7M82.7 209.1l3.9 -3.5M73.3 211.3l4.4 -4.7M96.4 200l5.5 -5.3M93.7 202.4l5.5 -3.8M91.9 192.3l2.5 -3M79.3 202.3l4 -4.2M94.8 192.3l4.4 -4.6M101.4 197l5.2 -4M85.9 203.2l6.5 -3.7M75 205.8l6.1 -4.8M83.8 205.4l3.1 -2.3M83.8 209.8l3.6 -4.2M83.6 203l6.2 -4.5M75.1 210.1l4.9 -5.4M87.2 207.5l3.7 -2.3M83.4 202.4l5.4 -3.5M94.1 195.7l3.3 -2.6M95.3 194.2l3.5 -4.2M78.6 215.3l4.6 -5.5M83.4 208.9l4.3 -5.3M97.8 197.2l3.5 -3.4M98.9 197.2l5.1 -5.3M84 199.4l4.5 -3.4M102.3 193.4l2.2 -2.2M82.3 210.3l2.9 -2.7M87.3 203.4l4.4 -3.2" stroke="#5cc8c8" stroke-width="0.9" stroke-opacity="0.85"/>
<path d="M90.1 222.5a1.8 1.8 0 1 0 3.6 0a1.8 1.8 0 1 0 -3.6 0M77.3 219a2.6 2.6 0 1 0 5.3 0a2.6 2.6 0 1 0 -5.3 0M97 224.4a2.2 2.2 0 1 0 4.3 0a2.2 2.2 0 1 0 -4.3 0M94.3 213.5a2.1 2.1 0 1 0 4.2 0a2.1 2.1 0 1 0 -4.2 0M73.4 224.1a3 3 0 1 0 6 0a3 3 0 1 0 -6 0M93 222.9a2.1 2.1 0 1 0 4.1 0a2.1 2.1 0 1 0 -4.1 0M96.9 213.2a2.1 2.1 0 1 0 4.1 0a2.1 2.1 0 1 0 -4.1 0M83.4 224.5a1.8 1.8 0 1 0 3.5 0a1.8 1.8 0 1 0 -3.5 0M76.5 213.3a2.8 2.8 0 1 0 5.5 0a2.8 2.8 0 1 0 -5.5 0M82.1 225.1a2 2 0 1 0 3.9 0a2 2 0 1 0 -3.9 0M97.4 214.8a2.9 2.9 0 1 0 5.7 0a2.9 2.9 0 1 0 -5.7 0M101.9 224.7a2.5 2.5 0 1 0 5.1 0a2.5 2.5 0 1 0 -5.1 0M99.1 225.3a2.9 2.9 0 1 0 5.9 0a2.9 2.9 0 1 0 -5.9 0M80.2 224.3a2.7 2.7 0 1 0 5.3 0a2.7 2.7 0 1 0 -5.3 0" fill="#0f3a3a" fill-opacity="0.6" stroke="#2a8a88" stroke-width="0.7" stroke-opacity="0.7"/>
<path d="M66.3 216.5 L72.3 226.5 L66.3 226.5Z" fill="#1f7a7c" fill-opacity="0.7"/>
<path d="M68.3 190 L70.3 190 L71.3 200 L69.3 200Z" fill="#2a9090" fill-opacity="0.7"/>
</g>
</svg>
<rect x="107.2" y="188" width="39" height="38.5" fill="#020707"/>
<svg x="107.2" y="188" width="39" height="38.5" viewBox="107.2 188 39 38.5">
<g filter="url(#bl2)">
<ellipse cx="132.7" cy="187.1" rx="0.8" ry="1" transform="rotate(132 132.7 187.1)" fill="#0f3a3c" fill-opacity="0.74"/><ellipse cx="143.6" cy="189.7" rx="0.9" ry="0.9" transform="rotate(39 143.6 189.7)" fill="#0f3a3c" fill-opacity="0.65"/><ellipse cx="106.3" cy="194.5" rx="1.1" ry="1.6" transform="rotate(39 106.3 194.5)" fill="#0f3a3c" fill-opacity="0.69"/><ellipse cx="140" cy="186.3" rx="1.2" ry="2" transform="rotate(61 140 186.3)" fill="#0f3a3c" fill-opacity="0.48"/><ellipse cx="146.4" cy="200.3" rx="0.7" ry="0.7" transform="rotate(152 146.4 200.3)" fill="#0f3a3c" fill-opacity="0.70"/><ellipse cx="139.9" cy="217" rx="1" ry="1.9" transform="rotate(68 139.9 217)" fill="#0f3a3c" fill-opacity="0.68"/><ellipse cx="140.9" cy="212.3" rx="1.2" ry="1.9" transform="rotate(126 140.9 212.3)" fill="#0f3a3c" fill-opacity="0.42"/><ellipse cx="115" cy="198.3" rx="0.7" ry="0.8" transform="rotate(18 115 198.3)" fill="#0f3a3c" fill-opacity="0.54"/><ellipse cx="132.5" cy="201.5" rx="0.9" ry="1" transform="rotate(48 132.5 201.5)" fill="#0f3a3c" fill-opacity="0.87"/><ellipse cx="133.1" cy="211.9" rx="0.7" ry="1.2" transform="rotate(29 133.1 211.9)" fill="#0f3a3c" fill-opacity="0.59"/><ellipse cx="147.7" cy="213.2" rx="1" ry="1.7" transform="rotate(151 147.7 213.2)" fill="#0f3a3c" fill-opacity="0.79"/><ellipse cx="115" cy="187.4" rx="0.8" ry="1" transform="rotate(37 115 187.4)" fill="#0f3a3c" fill-opacity="0.87"/><ellipse cx="142.9" cy="199.4" rx="1.1" ry="1.5" transform="rotate(164 142.9 199.4)" fill="#0f3a3c" fill-opacity="0.63"/><ellipse cx="116.6" cy="196.5" rx="1" ry="1.3" transform="rotate(105 116.6 196.5)" fill="#0f3a3c" fill-opacity="0.85"/><ellipse cx="122.4" cy="195.3" rx="1.3" ry="2" transform="rotate(16 122.4 195.3)" fill="#0f3a3c" fill-opacity="0.42"/><ellipse cx="109.9" cy="212.7" rx="1.2" ry="1.6" transform="rotate(11 109.9 212.7)" fill="#0f3a3c" fill-opacity="0.59"/><ellipse cx="148" cy="208.5" rx="1.3" ry="2.4" transform="rotate(2 148 208.5)" fill="#0f3a3c" fill-opacity="0.76"/><ellipse cx="134.5" cy="208.8" rx="0.8" ry="1.3" transform="rotate(20 134.5 208.8)" fill="#0f3a3c" fill-opacity="0.62"/><ellipse cx="124.7" cy="226.5" rx="1.2" ry="1.5" transform="rotate(90 124.7 226.5)" fill="#0f3a3c" fill-opacity="0.49"/><ellipse cx="144.4" cy="223" rx="0.8" ry="1.3" transform="rotate(109 144.4 223)" fill="#0f3a3c" fill-opacity="0.48"/><ellipse cx="138" cy="208.9" rx="1.1" ry="1.8" transform="rotate(0 138 208.9)" fill="#0f3a3c" fill-opacity="0.56"/><ellipse cx="106" cy="225.5" rx="1.2" ry="2.2" transform="rotate(55 106 225.5)" fill="#0f3a3c" fill-opacity="0.43"/><ellipse cx="143" cy="226.2" rx="0.7" ry="1" transform="rotate(12 143 226.2)" fill="#0f3a3c" fill-opacity="0.78"/><ellipse cx="138.1" cy="191.5" rx="0.9" ry="1.4" transform="rotate(47 138.1 191.5)" fill="#0f3a3c" fill-opacity="0.84"/><ellipse cx="123.4" cy="195" rx="1" ry="1.7" transform="rotate(36 123.4 195)" fill="#0f3a3c" fill-opacity="0.56"/><ellipse cx="148" cy="213.6" rx="0.9" ry="1.4" transform="rotate(21 148 213.6)" fill="#0f3a3c" fill-opacity="0.51"/><ellipse cx="119.7" cy="211" rx="0.8" ry="0.9" transform="rotate(12 119.7 211)" fill="#0f3a3c" fill-opacity="0.72"/><ellipse cx="115" cy="224.5" rx="1.2" ry="1.3" transform="rotate(42 115 224.5)" fill="#0f3a3c" fill-opacity="0.73"/><ellipse cx="114.4" cy="191.6" rx="1.3" ry="2" transform="rotate(85 114.4 191.6)" fill="#0f3a3c" fill-opacity="0.79"/><ellipse cx="139.9" cy="194.1" rx="0.7" ry="1" transform="rotate(76 139.9 194.1)" fill="#0f3a3c" fill-opacity="0.63"/><ellipse cx="136.6" cy="214.6" rx="1.3" ry="1.4" transform="rotate(72 136.6 214.6)" fill="#0f3a3c" fill-opacity="0.57"/><ellipse cx="142.3" cy="196.6" rx="0.7" ry="1.1" transform="rotate(75 142.3 196.6)" fill="#0f3a3c" fill-opacity="0.54"/><ellipse cx="115.9" cy="225.2" rx="0.9" ry="1.7" transform="rotate(99 115.9 225.2)" fill="#0f3a3c" fill-opacity="0.43"/><ellipse cx="148.2" cy="221.5" rx="1.3" ry="2.5" transform="rotate(152 148.2 221.5)" fill="#0f3a3c" fill-opacity="0.48"/><ellipse cx="126.1" cy="195.1" rx="0.9" ry="0.9" transform="rotate(68 126.1 195.1)" fill="#0f3a3c" fill-opacity="0.89"/><ellipse cx="116.6" cy="219.3" rx="0.9" ry="1.3" transform="rotate(172 116.6 219.3)" fill="#0f3a3c" fill-opacity="0.90"/><ellipse cx="129.1" cy="216.5" rx="0.7" ry="0.9" transform="rotate(174 129.1 216.5)" fill="#0f3a3c" fill-opacity="0.69"/><ellipse cx="128.5" cy="217.8" rx="0.6" ry="1" transform="rotate(90 128.5 217.8)" fill="#0f3a3c" fill-opacity="0.83"/><ellipse cx="112" cy="226.8" rx="0.7" ry="0.8" transform="rotate(107 112 226.8)" fill="#0f3a3c" fill-opacity="0.74"/><ellipse cx="115.3" cy="191.1" rx="1.2" ry="1.5" transform="rotate(107 115.3 191.1)" fill="#0f3a3c" fill-opacity="0.71"/><ellipse cx="123.2" cy="210.8" rx="1" ry="1.9" transform="rotate(36 123.2 210.8)" fill="#0f3a3c" fill-opacity="0.76"/><ellipse cx="115.5" cy="202.8" rx="1.1" ry="1.4" transform="rotate(56 115.5 202.8)" fill="#0f3a3c" fill-opacity="0.78"/><ellipse cx="108.3" cy="205.5" rx="1.3" ry="2.6" transform="rotate(13 108.3 205.5)" fill="#0f3a3c" fill-opacity="0.51"/><ellipse cx="116.6" cy="225.7" rx="1.2" ry="2.3" transform="rotate(66 116.6 225.7)" fill="#0f3a3c" fill-opacity="0.48"/><ellipse cx="141.1" cy="215.9" rx="1" ry="2" transform="rotate(117 141.1 215.9)" fill="#0f3a3c" fill-opacity="0.40"/><ellipse cx="140.3" cy="198.7" rx="1.1" ry="2.1" transform="rotate(24 140.3 198.7)" fill="#0f3a3c" fill-opacity="0.46"/><ellipse cx="109.8" cy="209.5" rx="0.8" ry="1.3" transform="rotate(129 109.8 209.5)" fill="#0f3a3c" fill-opacity="0.50"/><ellipse cx="132.5" cy="197.2" rx="0.9" ry="1.8" transform="rotate(152 132.5 197.2)" fill="#0f3a3c" fill-opacity="0.45"/><ellipse cx="123.4" cy="197.8" rx="0.6" ry="1.1" transform="rotate(114 123.4 197.8)" fill="#0f3a3c" fill-opacity="0.53"/><ellipse cx="137.1" cy="209.4" rx="0.9" ry="0.9" transform="rotate(13 137.1 209.4)" fill="#0f3a3c" fill-opacity="0.84"/><ellipse cx="144.1" cy="209.2" rx="1.2" ry="1.9" transform="rotate(26 144.1 209.2)" fill="#0f3a3c" fill-opacity="0.46"/><ellipse cx="118.5" cy="224.2" rx="1.2" ry="2.2" transform="rotate(161 118.5 224.2)" fill="#0f3a3c" fill-opacity="0.51"/><ellipse cx="115.9" cy="190.4" rx="1.1" ry="2.2" transform="rotate(73 115.9 190.4)" fill="#0f3a3c" fill-opacity="0.71"/><ellipse cx="111.8" cy="225.5" rx="1.2" ry="2.4" transform="rotate(145 111.8 225.5)" fill="#0f3a3c" fill-opacity="0.84"/><ellipse cx="106.3" cy="217.3" rx="0.8" ry="1.6" transform="rotate(144 106.3 217.3)" fill="#0f3a3c" fill-opacity="0.83"/><ellipse cx="140.1" cy="197.3" rx="1.2" ry="1.3" transform="rotate(156 140.1 197.3)" fill="#0f3a3c" fill-opacity="0.83"/><ellipse cx="114.8" cy="220.7" rx="0.9" ry="1.2" transform="rotate(143 114.8 220.7)" fill="#0f3a3c" fill-opacity="0.51"/><ellipse cx="106.2" cy="194.2" rx="0.8" ry="1.5" transform="rotate(174 106.2 194.2)" fill="#0f3a3c" fill-opacity="0.54"/><ellipse cx="132.8" cy="203" rx="1.3" ry="2" transform="rotate(169 132.8 203)" fill="#0f3a3c" fill-opacity="0.46"/><ellipse cx="146.9" cy="193.6" rx="1.3" ry="1.6" transform="rotate(19 146.9 193.6)" fill="#0f3a3c" fill-opacity="0.62"/><ellipse cx="136.5" cy="199.3" rx="1" ry="1.5" transform="rotate(69 136.5 199.3)" fill="#0f3a3c" fill-opacity="0.69"/><ellipse cx="116.2" cy="216.1" rx="0.6" ry="1.2" transform="rotate(96 116.2 216.1)" fill="#0f3a3c" fill-opacity="0.76"/><ellipse cx="137.1" cy="214.5" rx="0.9" ry="0.9" transform="rotate(119 137.1 214.5)" fill="#0f3a3c" fill-opacity="0.57"/><ellipse cx="118.7" cy="222" rx="1.1" ry="1.4" transform="rotate(55 118.7 222)" fill="#0f3a3c" fill-opacity="0.60"/><ellipse cx="122.5" cy="198.6" rx="0.7" ry="1" transform="rotate(169 122.5 198.6)" fill="#0f3a3c" fill-opacity="0.74"/><ellipse cx="144" cy="212.2" rx="0.8" ry="1.3" transform="rotate(0 144 212.2)" fill="#0f3a3c" fill-opacity="0.54"/><ellipse cx="123.7" cy="210.6" rx="1.1" ry="1.6" transform="rotate(79 123.7 210.6)" fill="#0f3a3c" fill-opacity="0.51"/><ellipse cx="125.5" cy="224.3" rx="1.2" ry="1.4" transform="rotate(15 125.5 224.3)" fill="#0f3a3c" fill-opacity="0.66"/><ellipse cx="132.4" cy="200.2" rx="1.2" ry="2.1" transform="rotate(121 132.4 200.2)" fill="#0f3a3c" fill-opacity="0.51"/><ellipse cx="113.8" cy="187" rx="0.8" ry="1.1" transform="rotate(152 113.8 187)" fill="#0f3a3c" fill-opacity="0.44"/>
</g>
</svg>
<text x="27" y="76.9" font-size="6.8" fill="#5a80e0" stroke="#5a80e0" stroke-width="0.17">DAPI</text>
<text x="27" y="116.4" font-size="6.8" fill="#7ad070" stroke="#7ad070" stroke-width="0.17">GLI1</text>
<text x="27" y="155.9" font-size="6.6" fill="#e6d23a" stroke="#e6d23a" stroke-width="0.17">ARL13B</text>
<text x="27" y="195.4" font-size="6.6" fill="#2aa8b8" stroke="#2aa8b8" stroke-width="0.17">CD44</text>
<rect x="27.5" y="103" width="5" height="0.9" fill="#eee"/>
<rect x="27.5" y="142.5" width="5" height="0.9" fill="#eee"/>
<rect x="27.5" y="182.5" width="5" height="0.9" fill="#eee"/>
<rect x="27.5" y="221.5" width="5" height="0.9" fill="#eee"/>
<path d="M31.9 238.6 L30.7 243.2 L28.3 246.2 L25.4 247.7 L21.2 247.5 L17.7 245.2 L14.4 241.4 L15 237.7 L16.5 232.5 L20.4 230.8 L25.3 230.9 L28.9 232.3 L30.5 234.5Z" fill="#7f4fb0" stroke="#3b2470" stroke-width="0.7" stroke-linejoin="round"/>
<path d="M25.4 242.9 L22.4 244.2 L19.6 243.6 L18.3 241.5 L18 238.4 L20.8 235.4 L24.4 233.9 L27.3 234.2 L28.8 237.3 L28.4 240.2Z" fill="#2a3a8a"/>
<path d="M93.5 238.4 L92.5 242.4 L89.7 245.4 L84.3 247.3 L81 247 L77.9 244.8 L75.7 241.8 L76 237.8 L77.4 234.2 L80.9 230.5 L85.1 230.8 L89.1 231.1 L91.6 234.1Z" fill="#f6c9a8" stroke="#6a4030" stroke-width="0.7" stroke-linejoin="round"/>
<path d="M85.7 243.1 L82.2 243.6 L79.2 242.4 L78.9 239.7 L79 237.4 L82.7 235.1 L86.9 234.4 L89.4 235.7 L89.9 237.9 L88.2 241.4Z" fill="#d9701f"/>
<path d="M153.3 238.9 L153.2 242.6 L150.5 245.7 L144.8 247.4 L141.3 247.4 L138.7 245.5 L135.9 240.7 L136.5 236.5 L138 233.8 L141.3 230.2 L145.9 229.9 L149.6 231.3 L151.8 234.3Z" fill="#7f4fb0" stroke="#3b2470" stroke-width="0.7" stroke-linejoin="round"/>
<path d="M141.9 242.7 L140.1 240.9 L139.1 237.7 L140.9 234.7 L144.1 233.7 L146.3 234.7 L149.2 237.8 L150.6 240.8 L149.3 242.9 L146.4 244.1Z" fill="#2a3a8a"/>
<path d="M36 231 L74 231 L36 247.7Z" fill="#b3a3d6"/>
<path d="M74 231 L74 247.7 L36 247.7Z" fill="#f7c79c"/>
<path d="M96.5 231 L134.7 231 L134.7 247.7Z" fill="#b3a3d6"/>
<path d="M96.5 231 L134.7 247.7 L96.5 247.7Z" fill="#f7c79c"/>
<text x="210" y="5.3" font-size="5.5" text-anchor="middle" fill="#3fb44a" stroke="#3fb44a" stroke-width="0.14">GLI1</text>
<line x1="177.4" y1="12.5" x2="177.4" y2="74.5" stroke="#333" stroke-width="0.6"/>
<line x1="174.9" y1="12.5" x2="177.4" y2="12.5" stroke="#333" stroke-width="0.6"/>
<text x="174.4" y="14.1" font-size="4.4" text-anchor="end" fill="#333" stroke="#333" stroke-width="0.11">150</text>
<line x1="174.9" y1="33.2" x2="177.4" y2="33.2" stroke="#333" stroke-width="0.6"/>
<text x="174.4" y="34.8" font-size="4.4" text-anchor="end" fill="#333" stroke="#333" stroke-width="0.11">100</text>
<line x1="174.9" y1="53.8" x2="177.4" y2="53.8" stroke="#333" stroke-width="0.6"/>
<text x="174.4" y="55.4" font-size="4.4" text-anchor="end" fill="#333" stroke="#333" stroke-width="0.11">50</text>
<line x1="174.9" y1="74.5" x2="177.4" y2="74.5" stroke="#333" stroke-width="0.6"/>
<text x="174.4" y="76.1" font-size="4.4" text-anchor="end" fill="#333" stroke="#333" stroke-width="0.11">0</text>
<line x1="177.4" y1="74.5" x2="240.4" y2="74.5" stroke="#333" stroke-width="0.6"/>
<line x1="190" y1="74.5" x2="190" y2="76" stroke="#333" stroke-width="0.5"/>
<line x1="208.5" y1="74.5" x2="208.5" y2="76" stroke="#333" stroke-width="0.5"/>
<line x1="226.5" y1="74.5" x2="226.5" y2="76" stroke="#333" stroke-width="0.5"/>
<path d="M191 40.3a1 1 0 1 0 2 0a1 1 0 1 0-2 0M187.4 41.2a1 1 0 1 0 2 0a1 1 0 1 0-2 0M190.3 27.2a1 1 0 1 0 2 0a1 1 0 1 0-2 0M192.5 33.4a1 1 0 1 0 2 0a1 1 0 1 0-2 0M193 34.3a1 1 0 1 0 2 0a1 1 0 1 0-2 0M188.2 33.9a1 1 0 1 0 2 0a1 1 0 1 0-2 0M188.3 33.2a1 1 0 1 0 2 0a1 1 0 1 0-2 0M191.7 32.8a1 1 0 1 0 2 0a1 1 0 1 0-2 0M193.7 35a1 1 0 1 0 2 0a1 1 0 1 0-2 0M187.7 45.6a1 1 0 1 0 2 0a1 1 0 1 0-2 0M192.4 40a1 1 0 1 0 2 0a1 1 0 1 0-2 0M187.6 34.3a1 1 0 1 0 2 0a1 1 0 1 0-2 0M183.4 34.4a1 1 0 1 0 2 0a1 1 0 1 0-2 0M186.5 38.9a1 1 0 1 0 2 0a1 1 0 1 0-2 0M186.7 27.2a1 1 0 1 0 2 0a1 1 0 1 0-2 0M186 35.7a1 1 0 1 0 2 0a1 1 0 1 0-2 0M186.5 34.4a1 1 0 1 0 2 0a1 1 0 1 0-2 0M184.9 39.2a1 1 0 1 0 2 0a1 1 0 1 0-2 0M190.5 36.9a1 1 0 1 0 2 0a1 1 0 1 0-2 0M186.3 27.2a1 1 0 1 0 2 0a1 1 0 1 0-2 0M187.5 44.1a1 1 0 1 0 2 0a1 1 0 1 0-2 0M187 32.7a1 1 0 1 0 2 0a1 1 0 1 0-2 0M194.1 31.6a1 1 0 1 0 2 0a1 1 0 1 0-2 0M188.5 24.6a1 1 0 1 0 2 0a1 1 0 1 0-2 0M187 37.2a1 1 0 1 0 2 0a1 1 0 1 0-2 0M189.6 26a1 1 0 1 0 2 0a1 1 0 1 0-2 0M189 41.1a1 1 0 1 0 2 0a1 1 0 1 0-2 0M189.7 26a1 1 0 1 0 2 0a1 1 0 1 0-2 0M192.1 37.2a1 1 0 1 0 2 0a1 1 0 1 0-2 0M188 34.1a1 1 0 1 0 2 0a1 1 0 1 0-2 0M191.2 36.4a1 1 0 1 0 2 0a1 1 0 1 0-2 0M190.5 39.4a1 1 0 1 0 2 0a1 1 0 1 0-2 0M189.1 29a1 1 0 1 0 2 0a1 1 0 1 0-2 0M191.8 37.4a1 1 0 1 0 2 0a1 1 0 1 0-2 0M188.9 27.7a1 1 0 1 0 2 0a1 1 0 1 0-2 0M183.4 32.5a1 1 0 1 0 2 0a1 1 0 1 0-2 0M192 41.5a1 1 0 1 0 2 0a1 1 0 1 0-2 0M190.1 35.5a1 1 0 1 0 2 0a1 1 0 1 0-2 0M189 30.6a1 1 0 1 0 2 0a1 1 0 1 0-2 0M194.5 35.3a1 1 0 1 0 2 0a1 1 0 1 0-2 0M193.3 34.1a1 1 0 1 0 2 0a1 1 0 1 0-2 0M186.9 26.4a1 1 0 1 0 2 0a1 1 0 1 0-2 0M189.2 20.9a1 1 0 1 0 2 0a1 1 0 1 0-2 0M188.5 32a1 1 0 1 0 2 0a1 1 0 1 0-2 0M194.4 32.4a1 1 0 1 0 2 0a1 1 0 1 0-2 0M185.2 40.1a1 1 0 1 0 2 0a1 1 0 1 0-2 0M193.4 35.3a1 1 0 1 0 2 0a1 1 0 1 0-2 0M190.1 23.2a1 1 0 1 0 2 0a1 1 0 1 0-2 0M189.7 35.6a1 1 0 1 0 2 0a1 1 0 1 0-2 0M188.4 27a1 1 0 1 0 2 0a1 1 0 1 0-2 0M189.3 43.7a1 1 0 1 0 2 0a1 1 0 1 0-2 0M185.9 37.1a1 1 0 1 0 2 0a1 1 0 1 0-2 0M187.8 26.8a1 1 0 1 0 2 0a1 1 0 1 0-2 0M187.2 33a1 1 0 1 0 2 0a1 1 0 1 0-2 0M189.8 25.7a1 1 0 1 0 2 0a1 1 0 1 0-2 0M188.5 31.4a1 1 0 1 0 2 0a1 1 0 1 0-2 0M185.7 37.1a1 1 0 1 0 2 0a1 1 0 1 0-2 0M190 33.9a1 1 0 1 0 2 0a1 1 0 1 0-2 0M191.4 39.6a1 1 0 1 0 2 0a1 1 0 1 0-2 0M191.2 25.6a1 1 0 1 0 2 0a1 1 0 1 0-2 0M191.1 32.8a1 1 0 1 0 2 0a1 1 0 1 0-2 0M187.3 43.8a1 1 0 1 0 2 0a1 1 0 1 0-2 0M192 34.1a1 1 0 1 0 2 0a1 1 0 1 0-2 0M186 33.3a1 1 0 1 0 2 0a1 1 0 1 0-2 0M187.7 39.2a1 1 0 1 0 2 0a1 1 0 1 0-2 0M184.9 38.1a1 1 0 1 0 2 0a1 1 0 1 0-2 0M185.5 36.8a1 1 0 1 0 2 0a1 1 0 1 0-2 0M187 38.9a1 1 0 1 0 2 0a1 1 0 1 0-2 0M186.9 31.7a1 1 0 1 0 2 0a1 1 0 1 0-2 0M188.8 27.3a1 1 0 1 0 2 0a1 1 0 1 0-2 0M188.3 38.6a1 1 0 1 0 2 0a1 1 0 1 0-2 0M185.3 34a1 1 0 1 0 2 0a1 1 0 1 0-2 0M189.1 42.4a1 1 0 1 0 2 0a1 1 0 1 0-2 0M186.9 40.7a1 1 0 1 0 2 0a1 1 0 1 0-2 0M185.9 25.2a1 1 0 1 0 2 0a1 1 0 1 0-2 0" fill="#8c8c8c"/>
<line x1="185" y1="33.2" x2="195" y2="33.2" stroke="#222" stroke-width="0.7"/>
<line x1="190" y1="26.7" x2="190" y2="39.7" stroke="#222" stroke-width="0.7"/>
<line x1="187.5" y1="26.7" x2="192.5" y2="26.7" stroke="#222" stroke-width="0.7"/>
<line x1="187.5" y1="39.7" x2="192.5" y2="39.7" stroke="#222" stroke-width="0.7"/>
<path d="M206.2 63.5a1 1 0 1 0 2 0a1 1 0 1 0-2 0M203.1 53.6a1 1 0 1 0 2 0a1 1 0 1 0-2 0M209.2 58.7a1 1 0 1 0 2 0a1 1 0 1 0-2 0M206.2 51.1a1 1 0 1 0 2 0a1 1 0 1 0-2 0M208.2 52.2a1 1 0 1 0 2 0a1 1 0 1 0-2 0M204.2 53a1 1 0 1 0 2 0a1 1 0 1 0-2 0M209.6 52.8a1 1 0 1 0 2 0a1 1 0 1 0-2 0M213.1 57.3a1 1 0 1 0 2 0a1 1 0 1 0-2 0M207.1 59.9a1 1 0 1 0 2 0a1 1 0 1 0-2 0M204.8 54.6a1 1 0 1 0 2 0a1 1 0 1 0-2 0M207.1 56.7a1 1 0 1 0 2 0a1 1 0 1 0-2 0M205.3 56.1a1 1 0 1 0 2 0a1 1 0 1 0-2 0M207.7 50.7a1 1 0 1 0 2 0a1 1 0 1 0-2 0M207.9 60.8a1 1 0 1 0 2 0a1 1 0 1 0-2 0M205.4 56a1 1 0 1 0 2 0a1 1 0 1 0-2 0M203.2 56.6a1 1 0 1 0 2 0a1 1 0 1 0-2 0M208 48.3a1 1 0 1 0 2 0a1 1 0 1 0-2 0M203.7 55.1a1 1 0 1 0 2 0a1 1 0 1 0-2 0M209.1 60.7a1 1 0 1 0 2 0a1 1 0 1 0-2 0M210.9 52.1a1 1 0 1 0 2 0a1 1 0 1 0-2 0M205.8 56.4a1 1 0 1 0 2 0a1 1 0 1 0-2 0M209.9 49.9a1 1 0 1 0 2 0a1 1 0 1 0-2 0M210.3 57.9a1 1 0 1 0 2 0a1 1 0 1 0-2 0M210.1 55.4a1 1 0 1 0 2 0a1 1 0 1 0-2 0M207.4 51.8a1 1 0 1 0 2 0a1 1 0 1 0-2 0M212.5 56.9a1 1 0 1 0 2 0a1 1 0 1 0-2 0M206.9 49.5a1 1 0 1 0 2 0a1 1 0 1 0-2 0M212.1 55.9a1 1 0 1 0 2 0a1 1 0 1 0-2 0M208.1 59a1 1 0 1 0 2 0a1 1 0 1 0-2 0M212 53.7a1 1 0 1 0 2 0a1 1 0 1 0-2 0M204.2 55.3a1 1 0 1 0 2 0a1 1 0 1 0-2 0M206.1 52a1 1 0 1 0 2 0a1 1 0 1 0-2 0M212.3 55.3a1 1 0 1 0 2 0a1 1 0 1 0-2 0M205 54a1 1 0 1 0 2 0a1 1 0 1 0-2 0M212.2 58.4a1 1 0 1 0 2 0a1 1 0 1 0-2 0M209.8 54.4a1 1 0 1 0 2 0a1 1 0 1 0-2 0M208.7 51.8a1 1 0 1 0 2 0a1 1 0 1 0-2 0M208.6 55.8a1 1 0 1 0 2 0a1 1 0 1 0-2 0M207.6 55a1 1 0 1 0 2 0a1 1 0 1 0-2 0M212.1 58a1 1 0 1 0 2 0a1 1 0 1 0-2 0M211.3 54.9a1 1 0 1 0 2 0a1 1 0 1 0-2 0M210.2 55a1 1 0 1 0 2 0a1 1 0 1 0-2 0M210.2 57.8a1 1 0 1 0 2 0a1 1 0 1 0-2 0M202.4 54.7a1 1 0 1 0 2 0a1 1 0 1 0-2 0M204.4 54.3a1 1 0 1 0 2 0a1 1 0 1 0-2 0M211.5 53.7a1 1 0 1 0 2 0a1 1 0 1 0-2 0M210.8 59.1a1 1 0 1 0 2 0a1 1 0 1 0-2 0M204.9 58.5a1 1 0 1 0 2 0a1 1 0 1 0-2 0M206.6 57.6a1 1 0 1 0 2 0a1 1 0 1 0-2 0M208.3 62.7a1 1 0 1 0 2 0a1 1 0 1 0-2 0M204.4 59.1a1 1 0 1 0 2 0a1 1 0 1 0-2 0M209.6 56.5a1 1 0 1 0 2 0a1 1 0 1 0-2 0M206 63.2a1 1 0 1 0 2 0a1 1 0 1 0-2 0M209.3 60.1a1 1 0 1 0 2 0a1 1 0 1 0-2 0M210.7 58.5a1 1 0 1 0 2 0a1 1 0 1 0-2 0M203.4 56.2a1 1 0 1 0 2 0a1 1 0 1 0-2 0M206.3 58a1 1 0 1 0 2 0a1 1 0 1 0-2 0M204.4 60.7a1 1 0 1 0 2 0a1 1 0 1 0-2 0M202.4 57.8a1 1 0 1 0 2 0a1 1 0 1 0-2 0M205.6 55.8a1 1 0 1 0 2 0a1 1 0 1 0-2 0M204.5 51.7a1 1 0 1 0 2 0a1 1 0 1 0-2 0M206.1 52.2a1 1 0 1 0 2 0a1 1 0 1 0-2 0M209.8 59.5a1 1 0 1 0 2 0a1 1 0 1 0-2 0M210.3 56.6a1 1 0 1 0 2 0a1 1 0 1 0-2 0M210 60.6a1 1 0 1 0 2 0a1 1 0 1 0-2 0M209.4 52.6a1 1 0 1 0 2 0a1 1 0 1 0-2 0M209.2 53.5a1 1 0 1 0 2 0a1 1 0 1 0-2 0M205.3 56.3a1 1 0 1 0 2 0a1 1 0 1 0-2 0M211.1 58.9a1 1 0 1 0 2 0a1 1 0 1 0-2 0M203.5 58.1a1 1 0 1 0 2 0a1 1 0 1 0-2 0M207.6 53a1 1 0 1 0 2 0a1 1 0 1 0-2 0M203.5 54.2a1 1 0 1 0 2 0a1 1 0 1 0-2 0M208.6 58.4a1 1 0 1 0 2 0a1 1 0 1 0-2 0M206.5 55.2a1 1 0 1 0 2 0a1 1 0 1 0-2 0M204.8 60.2a1 1 0 1 0 2 0a1 1 0 1 0-2 0" fill="#8c8c8c"/>
<line x1="203.5" y1="55.9" x2="213.5" y2="55.9" stroke="#222" stroke-width="0.7"/>
<line x1="208.5" y1="51.9" x2="208.5" y2="59.9" stroke="#222" stroke-width="0.7"/>
<line x1="206" y1="51.9" x2="211" y2="51.9" stroke="#222" stroke-width="0.7"/>
<line x1="206" y1="59.9" x2="211" y2="59.9" stroke="#222" stroke-width="0.7"/>
<path d="M223.9 37.6a1 1 0 1 0 2 0a1 1 0 1 0-2 0M226.3 41.1a1 1 0 1 0 2 0a1 1 0 1 0-2 0M219.8 36.5a1 1 0 1 0 2 0a1 1 0 1 0-2 0M229.5 36.5a1 1 0 1 0 2 0a1 1 0 1 0-2 0M231.4 37.2a1 1 0 1 0 2 0a1 1 0 1 0-2 0M225.2 39.5a1 1 0 1 0 2 0a1 1 0 1 0-2 0M227 39.1a1 1 0 1 0 2 0a1 1 0 1 0-2 0M222.3 34.3a1 1 0 1 0 2 0a1 1 0 1 0-2 0M225.7 33.2a1 1 0 1 0 2 0a1 1 0 1 0-2 0M227 32.7a1 1 0 1 0 2 0a1 1 0 1 0-2 0M228.6 36.8a1 1 0 1 0 2 0a1 1 0 1 0-2 0M226.6 36.3a1 1 0 1 0 2 0a1 1 0 1 0-2 0M229.9 37.1a1 1 0 1 0 2 0a1 1 0 1 0-2 0M225.2 38a1 1 0 1 0 2 0a1 1 0 1 0-2 0M228 36.1a1 1 0 1 0 2 0a1 1 0 1 0-2 0M227.1 31.1a1 1 0 1 0 2 0a1 1 0 1 0-2 0M225.1 33a1 1 0 1 0 2 0a1 1 0 1 0-2 0M229.2 40.7a1 1 0 1 0 2 0a1 1 0 1 0-2 0M221.3 38.3a1 1 0 1 0 2 0a1 1 0 1 0-2 0M222.2 36.3a1 1 0 1 0 2 0a1 1 0 1 0-2 0M226.6 40.5a1 1 0 1 0 2 0a1 1 0 1 0-2 0M223.1 36.6a1 1 0 1 0 2 0a1 1 0 1 0-2 0M224.1 34.3a1 1 0 1 0 2 0a1 1 0 1 0-2 0M226.5 37.2a1 1 0 1 0 2 0a1 1 0 1 0-2 0M226.3 31.6a1 1 0 1 0 2 0a1 1 0 1 0-2 0M229.1 34a1 1 0 1 0 2 0a1 1 0 1 0-2 0M226.2 43.1a1 1 0 1 0 2 0a1 1 0 1 0-2 0M224.5 30.5a1 1 0 1 0 2 0a1 1 0 1 0-2 0M227.7 42.4a1 1 0 1 0 2 0a1 1 0 1 0-2 0M225.8 31.2a1 1 0 1 0 2 0a1 1 0 1 0-2 0M229.5 36.8a1 1 0 1 0 2 0a1 1 0 1 0-2 0M226.3 35.2a1 1 0 1 0 2 0a1 1 0 1 0-2 0M229.7 37.1a1 1 0 1 0 2 0a1 1 0 1 0-2 0M231.2 38.4a1 1 0 1 0 2 0a1 1 0 1 0-2 0M225 42a1 1 0 1 0 2 0a1 1 0 1 0-2 0M222.3 40.2a1 1 0 1 0 2 0a1 1 0 1 0-2 0M229.7 35.9a1 1 0 1 0 2 0a1 1 0 1 0-2 0M223 42.3a1 1 0 1 0 2 0a1 1 0 1 0-2 0M228.1 36.6a1 1 0 1 0 2 0a1 1 0 1 0-2 0M223.5 36.7a1 1 0 1 0 2 0a1 1 0 1 0-2 0M225.5 43.6a1 1 0 1 0 2 0a1 1 0 1 0-2 0M227.6 31.5a1 1 0 1 0 2 0a1 1 0 1 0-2 0M226.7 36.9a1 1 0 1 0 2 0a1 1 0 1 0-2 0M220.1 38.4a1 1 0 1 0 2 0a1 1 0 1 0-2 0M226.8 38.3a1 1 0 1 0 2 0a1 1 0 1 0-2 0M222.4 40.3a1 1 0 1 0 2 0a1 1 0 1 0-2 0M224.7 43.2a1 1 0 1 0 2 0a1 1 0 1 0-2 0M230.6 38.9a1 1 0 1 0 2 0a1 1 0 1 0-2 0M225.1 39.7a1 1 0 1 0 2 0a1 1 0 1 0-2 0M225.7 35.5a1 1 0 1 0 2 0a1 1 0 1 0-2 0M226.1 34.8a1 1 0 1 0 2 0a1 1 0 1 0-2 0M226.5 34.1a1 1 0 1 0 2 0a1 1 0 1 0-2 0M224.9 40.7a1 1 0 1 0 2 0a1 1 0 1 0-2 0M228 36a1 1 0 1 0 2 0a1 1 0 1 0-2 0M231.2 37.5a1 1 0 1 0 2 0a1 1 0 1 0-2 0M225.7 39.9a1 1 0 1 0 2 0a1 1 0 1 0-2 0M224.5 36.9a1 1 0 1 0 2 0a1 1 0 1 0-2 0M226.5 37.2a1 1 0 1 0 2 0a1 1 0 1 0-2 0M226.4 41.5a1 1 0 1 0 2 0a1 1 0 1 0-2 0M220.3 37.8a1 1 0 1 0 2 0a1 1 0 1 0-2 0M227.3 34.9a1 1 0 1 0 2 0a1 1 0 1 0-2 0M224 34.8a1 1 0 1 0 2 0a1 1 0 1 0-2 0M220.1 36a1 1 0 1 0 2 0a1 1 0 1 0-2 0M222.9 32.5a1 1 0 1 0 2 0a1 1 0 1 0-2 0M223.5 33.8a1 1 0 1 0 2 0a1 1 0 1 0-2 0" fill="#8c8c8c"/>
<line x1="221.5" y1="37.3" x2="231.5" y2="37.3" stroke="#222" stroke-width="0.7"/>
<line x1="226.5" y1="33.7" x2="226.5" y2="40.9" stroke="#222" stroke-width="0.7"/>
<line x1="224" y1="33.7" x2="229" y2="33.7" stroke="#222" stroke-width="0.7"/>
<line x1="224" y1="40.9" x2="229" y2="40.9" stroke="#222" stroke-width="0.7"/>
<text x="209.6" y="12.8" font-size="8" text-anchor="middle" fill="#222">**</text>
<line x1="192" y1="11" x2="228.5" y2="11" stroke="#444" stroke-width="0.6"/>
<text x="197.4" y="20.7" font-size="8.5" text-anchor="middle" fill="#222">***</text>
<line x1="192" y1="18" x2="205" y2="18" stroke="#444" stroke-width="0.6"/>
<text x="220.4" y="20.7" font-size="8.5" text-anchor="middle" fill="#222">***</text>
<line x1="213" y1="18" x2="228" y2="18" stroke="#444" stroke-width="0.6"/>
<text transform="translate(157.1 41) rotate(-90)" x="0" y="2.1" font-size="5.8" text-anchor="middle" fill="#333" stroke="#333" stroke-width="0.14">nuclear Gli1</text>
<text transform="translate(162.8 41) rotate(-90)" x="0" y="2.1" font-size="5.9" text-anchor="middle" fill="#333" stroke="#333" stroke-width="0.15">(pixel intensity)</text>
<text x="166.6" y="82.4" font-size="5.8" text-anchor="middle" stroke="#1a1a1a" stroke-width="0.14">Dox</text>
<text x="190" y="82.4" font-size="5.8" text-anchor="middle" stroke="#1a1a1a" stroke-width="0.14">OFF</text>
<text x="209.5" y="82.4" font-size="5.8" text-anchor="middle" stroke="#1a1a1a" stroke-width="0.14">ON</text>
<text x="229" y="82.4" font-size="5.8" text-anchor="middle" stroke="#1a1a1a" stroke-width="0.14">ON/OFF</text>
<text x="211" y="90.2" font-size="5.5" text-anchor="middle" fill="#e8d84a" stroke="#e8d84a" stroke-width="0.14">CILIA</text>
<text x="209.8" y="95.4" font-size="6.5" text-anchor="middle" fill="#222">ns</text>
<line x1="192" y1="97" x2="230.5" y2="97" stroke="#444" stroke-width="0.6"/>
<text x="197.6" y="104.8" font-size="7.5" text-anchor="middle" fill="#222">*</text>
<line x1="192" y1="103" x2="205" y2="103" stroke="#444" stroke-width="0.6"/>
<text x="222.5" y="104.8" font-size="7.5" text-anchor="middle" fill="#222">*</text>
<line x1="214" y1="103" x2="230" y2="103" stroke="#444" stroke-width="0.6"/>
<line x1="177.5" y1="101.4" x2="177.5" y2="167.6" stroke="#333" stroke-width="0.6"/>
<line x1="175" y1="101.4" x2="177.5" y2="101.4" stroke="#333" stroke-width="0.6"/>
<text x="174.5" y="103.2" font-size="5" text-anchor="end" fill="#333" stroke="#333" stroke-width="0.12">60</text>
<line x1="175" y1="123.3" x2="177.5" y2="123.3" stroke="#333" stroke-width="0.6"/>
<text x="174.5" y="125.1" font-size="5" text-anchor="end" fill="#333" stroke="#333" stroke-width="0.12">40</text>
<line x1="175" y1="145.5" x2="177.5" y2="145.5" stroke="#333" stroke-width="0.6"/>
<text x="174.5" y="147.3" font-size="5" text-anchor="end" fill="#333" stroke="#333" stroke-width="0.12">20</text>
<line x1="175" y1="167.6" x2="177.5" y2="167.6" stroke="#333" stroke-width="0.6"/>
<text x="174.5" y="169.4" font-size="5" text-anchor="end" fill="#333" stroke="#333" stroke-width="0.12">0</text>
<line x1="177.5" y1="167.6" x2="240.4" y2="167.6" stroke="#333" stroke-width="0.6"/>
<rect x="184.2" y="113" width="13" height="54.6" fill="#1e1e1e" stroke="#000" stroke-width="0.5"/>
<rect x="204.4" y="139.4" width="12.3" height="28.2" fill="#a4a4a4" stroke="#333" stroke-width="0.5"/>
<rect x="224" y="113" width="12.6" height="54.6" fill="#a4a4a4" stroke="#333" stroke-width="0.5"/>
<line x1="190.7" y1="113" x2="190.7" y2="109.5" stroke="#333" stroke-width="0.6"/>
<line x1="188.2" y1="109.5" x2="193.2" y2="109.5" stroke="#333" stroke-width="0.6"/>
<line x1="210.5" y1="139.4" x2="210.5" y2="131.5" stroke="#333" stroke-width="0.6"/>
<line x1="208" y1="131.5" x2="213" y2="131.5" stroke="#333" stroke-width="0.6"/>
<line x1="230.3" y1="113" x2="230.3" y2="106" stroke="#333" stroke-width="0.6"/>
<line x1="227.8" y1="106" x2="232.8" y2="106" stroke="#333" stroke-width="0.6"/>
<text transform="translate(163.2 130.6) rotate(-90)" x="0" y="2.3" font-size="6.4" text-anchor="middle" fill="#333" stroke="#333" stroke-width="0.16">% of ciliated cells</text>
<text x="166.6" y="175.6" font-size="5.8" text-anchor="middle" stroke="#1a1a1a" stroke-width="0.14">Dox</text>
<text x="190.7" y="175.6" font-size="5.8" text-anchor="middle" stroke="#1a1a1a" stroke-width="0.14">OFF</text>
<text x="210.5" y="175.6" font-size="5.8" text-anchor="middle" stroke="#1a1a1a" stroke-width="0.14">ON</text>
<text x="230.3" y="175.6" font-size="5.8" text-anchor="middle" stroke="#1a1a1a" stroke-width="0.14">ON/OFF</text>
<text x="211" y="182.8" font-size="5.5" text-anchor="middle" fill="#33b4d8" stroke="#33b4d8" stroke-width="0.14">CD44</text>
<text x="211" y="190" font-size="6.5" text-anchor="middle" fill="#222">ns</text>
<line x1="192.7" y1="191.5" x2="228.8" y2="191.5" stroke="#444" stroke-width="0.6"/>
<text x="197.8" y="201.1" font-size="9.5" text-anchor="middle" fill="#222">***</text>
<line x1="192.7" y1="198.5" x2="207" y2="198.5" stroke="#444" stroke-width="0.6"/>
<text x="220.4" y="201" font-size="9.3" text-anchor="middle" fill="#222">***</text>
<line x1="214.5" y1="198.5" x2="229" y2="198.5" stroke="#444" stroke-width="0.6"/>
<line x1="180" y1="191.5" x2="180" y2="251.5" stroke="#333" stroke-width="0.6"/>
<line x1="177.5" y1="191.5" x2="180" y2="191.5" stroke="#333" stroke-width="0.6"/>
<text x="177" y="193.1" font-size="4.4" text-anchor="end" fill="#333" stroke="#333" stroke-width="0.11">200</text>
<line x1="177.5" y1="206.5" x2="180" y2="206.5" stroke="#333" stroke-width="0.6"/>
<text x="177" y="208.1" font-size="4.4" text-anchor="end" fill="#333" stroke="#333" stroke-width="0.11">150</text>
<line x1="177.5" y1="221.5" x2="180" y2="221.5" stroke="#333" stroke-width="0.6"/>
<text x="177" y="223.1" font-size="4.4" text-anchor="end" fill="#333" stroke="#333" stroke-width="0.11">100</text>
<line x1="177.5" y1="236.5" x2="180" y2="236.5" stroke="#333" stroke-width="0.6"/>
<text x="177" y="238.1" font-size="4.4" text-anchor="end" fill="#333" stroke="#333" stroke-width="0.11">50</text>
<line x1="177.5" y1="251.5" x2="180" y2="251.5" stroke="#333" stroke-width="0.6"/>
<text x="177" y="253.1" font-size="4.4" text-anchor="end" fill="#333" stroke="#333" stroke-width="0.11">0</text>
<line x1="180" y1="251.5" x2="240" y2="251.5" stroke="#333" stroke-width="0.6"/>
<path d="M196.8 236.4a1 1 0 1 0 2 0a1 1 0 1 0-2 0M193.7 241.1a1 1 0 1 0 2 0a1 1 0 1 0-2 0M192.1 236a1 1 0 1 0 2 0a1 1 0 1 0-2 0M194.1 239.8a1 1 0 1 0 2 0a1 1 0 1 0-2 0M191.4 236.4a1 1 0 1 0 2 0a1 1 0 1 0-2 0M192.8 236.2a1 1 0 1 0 2 0a1 1 0 1 0-2 0M195 244.6a1 1 0 1 0 2 0a1 1 0 1 0-2 0M190.5 242.9a1 1 0 1 0 2 0a1 1 0 1 0-2 0M194.4 246.7a1 1 0 1 0 2 0a1 1 0 1 0-2 0M195.1 239.1a1 1 0 1 0 2 0a1 1 0 1 0-2 0M194.3 240.3a1 1 0 1 0 2 0a1 1 0 1 0-2 0M189.6 240.4a1 1 0 1 0 2 0a1 1 0 1 0-2 0M189.4 240.8a1 1 0 1 0 2 0a1 1 0 1 0-2 0M193.7 242.1a1 1 0 1 0 2 0a1 1 0 1 0-2 0M194.1 234.7a1 1 0 1 0 2 0a1 1 0 1 0-2 0M195.2 242.1a1 1 0 1 0 2 0a1 1 0 1 0-2 0M193.8 235.6a1 1 0 1 0 2 0a1 1 0 1 0-2 0M191.8 240a1 1 0 1 0 2 0a1 1 0 1 0-2 0M194.8 246.7a1 1 0 1 0 2 0a1 1 0 1 0-2 0M196.1 239.9a1 1 0 1 0 2 0a1 1 0 1 0-2 0M191.9 239.1a1 1 0 1 0 2 0a1 1 0 1 0-2 0M190.2 242a1 1 0 1 0 2 0a1 1 0 1 0-2 0M197.5 240.3a1 1 0 1 0 2 0a1 1 0 1 0-2 0M193.2 237a1 1 0 1 0 2 0a1 1 0 1 0-2 0M192.2 245.6a1 1 0 1 0 2 0a1 1 0 1 0-2 0M191.3 238.5a1 1 0 1 0 2 0a1 1 0 1 0-2 0M197.7 242.8a1 1 0 1 0 2 0a1 1 0 1 0-2 0M193.1 238.2a1 1 0 1 0 2 0a1 1 0 1 0-2 0M195.8 243.8a1 1 0 1 0 2 0a1 1 0 1 0-2 0M191.9 241.9a1 1 0 1 0 2 0a1 1 0 1 0-2 0M197.9 242.3a1 1 0 1 0 2 0a1 1 0 1 0-2 0M196.4 241.4a1 1 0 1 0 2 0a1 1 0 1 0-2 0M190.3 241.7a1 1 0 1 0 2 0a1 1 0 1 0-2 0M189.9 241.5a1 1 0 1 0 2 0a1 1 0 1 0-2 0M194.6 240.5a1 1 0 1 0 2 0a1 1 0 1 0-2 0M193.5 238.2a1 1 0 1 0 2 0a1 1 0 1 0-2 0M190.7 241.8a1 1 0 1 0 2 0a1 1 0 1 0-2 0M194.7 244.5a1 1 0 1 0 2 0a1 1 0 1 0-2 0M191.6 242.3a1 1 0 1 0 2 0a1 1 0 1 0-2 0M192 242.1a1 1 0 1 0 2 0a1 1 0 1 0-2 0M193.2 245.3a1 1 0 1 0 2 0a1 1 0 1 0-2 0M197.7 239a1 1 0 1 0 2 0a1 1 0 1 0-2 0M197.5 240.7a1 1 0 1 0 2 0a1 1 0 1 0-2 0M195.1 242.9a1 1 0 1 0 2 0a1 1 0 1 0-2 0M193.3 246.7a1 1 0 1 0 2 0a1 1 0 1 0-2 0" fill="#8c8c8c"/>
<line x1="190" y1="240" x2="200" y2="240" stroke="#222" stroke-width="0.7"/>
<line x1="195" y1="236.5" x2="195" y2="243.5" stroke="#222" stroke-width="0.7"/>
<line x1="192.5" y1="236.5" x2="197.5" y2="236.5" stroke="#222" stroke-width="0.7"/>
<line x1="192.5" y1="243.5" x2="197.5" y2="243.5" stroke="#222" stroke-width="0.7"/>
<path d="M211 209.2a1 1 0 1 0 2 0a1 1 0 1 0-2 0M206.1 217.1a1 1 0 1 0 2 0a1 1 0 1 0-2 0M208.1 220.5a1 1 0 1 0 2 0a1 1 0 1 0-2 0M213.4 216.3a1 1 0 1 0 2 0a1 1 0 1 0-2 0M210.6 213.7a1 1 0 1 0 2 0a1 1 0 1 0-2 0M211.1 210.1a1 1 0 1 0 2 0a1 1 0 1 0-2 0M206.7 219.1a1 1 0 1 0 2 0a1 1 0 1 0-2 0M213.6 220a1 1 0 1 0 2 0a1 1 0 1 0-2 0M208 224.1a1 1 0 1 0 2 0a1 1 0 1 0-2 0M211.8 219.1a1 1 0 1 0 2 0a1 1 0 1 0-2 0M213.5 213.5a1 1 0 1 0 2 0a1 1 0 1 0-2 0M205.7 220.1a1 1 0 1 0 2 0a1 1 0 1 0-2 0M210 225.6a1 1 0 1 0 2 0a1 1 0 1 0-2 0M206.3 219.9a1 1 0 1 0 2 0a1 1 0 1 0-2 0M209 226.4a1 1 0 1 0 2 0a1 1 0 1 0-2 0M209.2 215.1a1 1 0 1 0 2 0a1 1 0 1 0-2 0M211.2 218.7a1 1 0 1 0 2 0a1 1 0 1 0-2 0M206.7 219a1 1 0 1 0 2 0a1 1 0 1 0-2 0M206.4 215.5a1 1 0 1 0 2 0a1 1 0 1 0-2 0M213.4 214.6a1 1 0 1 0 2 0a1 1 0 1 0-2 0M210.9 212.1a1 1 0 1 0 2 0a1 1 0 1 0-2 0M209.8 218.9a1 1 0 1 0 2 0a1 1 0 1 0-2 0M212.5 215.1a1 1 0 1 0 2 0a1 1 0 1 0-2 0M215.1 216.8a1 1 0 1 0 2 0a1 1 0 1 0-2 0M209.1 222.8a1 1 0 1 0 2 0a1 1 0 1 0-2 0M208.5 215a1 1 0 1 0 2 0a1 1 0 1 0-2 0M206.1 213.4a1 1 0 1 0 2 0a1 1 0 1 0-2 0M208.3 209.5a1 1 0 1 0 2 0a1 1 0 1 0-2 0M212.9 212.3a1 1 0 1 0 2 0a1 1 0 1 0-2 0M210 220.2a1 1 0 1 0 2 0a1 1 0 1 0-2 0M209.7 224.6a1 1 0 1 0 2 0a1 1 0 1 0-2 0M210.2 217.5a1 1 0 1 0 2 0a1 1 0 1 0-2 0M208.8 216.9a1 1 0 1 0 2 0a1 1 0 1 0-2 0M212.2 220.9a1 1 0 1 0 2 0a1 1 0 1 0-2 0M207.4 220.7a1 1 0 1 0 2 0a1 1 0 1 0-2 0M211.8 219.6a1 1 0 1 0 2 0a1 1 0 1 0-2 0M208.6 219.7a1 1 0 1 0 2 0a1 1 0 1 0-2 0M211.5 216.9a1 1 0 1 0 2 0a1 1 0 1 0-2 0M207.7 220.9a1 1 0 1 0 2 0a1 1 0 1 0-2 0M207.7 217.7a1 1 0 1 0 2 0a1 1 0 1 0-2 0M210 205.6a1 1 0 1 0 2 0a1 1 0 1 0-2 0M214.8 217.8a1 1 0 1 0 2 0a1 1 0 1 0-2 0M209 221.3a1 1 0 1 0 2 0a1 1 0 1 0-2 0M208.9 225.2a1 1 0 1 0 2 0a1 1 0 1 0-2 0M204.6 215.9a1 1 0 1 0 2 0a1 1 0 1 0-2 0M209.4 205.7a1 1 0 1 0 2 0a1 1 0 1 0-2 0M207.2 216.6a1 1 0 1 0 2 0a1 1 0 1 0-2 0M205.7 211.8a1 1 0 1 0 2 0a1 1 0 1 0-2 0M213.2 222.3a1 1 0 1 0 2 0a1 1 0 1 0-2 0M215.3 217.6a1 1 0 1 0 2 0a1 1 0 1 0-2 0M208.1 215a1 1 0 1 0 2 0a1 1 0 1 0-2 0M213.2 216a1 1 0 1 0 2 0a1 1 0 1 0-2 0M207.4 219.3a1 1 0 1 0 2 0a1 1 0 1 0-2 0M210.2 210.2a1 1 0 1 0 2 0a1 1 0 1 0-2 0M208.5 209.5a1 1 0 1 0 2 0a1 1 0 1 0-2 0M214.9 216.9a1 1 0 1 0 2 0a1 1 0 1 0-2 0M207.8 218.2a1 1 0 1 0 2 0a1 1 0 1 0-2 0M213.9 214.3a1 1 0 1 0 2 0a1 1 0 1 0-2 0M210.2 214a1 1 0 1 0 2 0a1 1 0 1 0-2 0M210.5 226.4a1 1 0 1 0 2 0a1 1 0 1 0-2 0M207.7 215.1a1 1 0 1 0 2 0a1 1 0 1 0-2 0M207.6 212.9a1 1 0 1 0 2 0a1 1 0 1 0-2 0M206.4 213.1a1 1 0 1 0 2 0a1 1 0 1 0-2 0M212.4 209.4a1 1 0 1 0 2 0a1 1 0 1 0-2 0M209.4 213a1 1 0 1 0 2 0a1 1 0 1 0-2 0M215.1 217.7a1 1 0 1 0 2 0a1 1 0 1 0-2 0M212.8 209.9a1 1 0 1 0 2 0a1 1 0 1 0-2 0M214.7 213.6a1 1 0 1 0 2 0a1 1 0 1 0-2 0M211 216.3a1 1 0 1 0 2 0a1 1 0 1 0-2 0M213.2 211.1a1 1 0 1 0 2 0a1 1 0 1 0-2 0M208.4 217.5a1 1 0 1 0 2 0a1 1 0 1 0-2 0M209.1 210a1 1 0 1 0 2 0a1 1 0 1 0-2 0M204.7 215.5a1 1 0 1 0 2 0a1 1 0 1 0-2 0M211.4 210a1 1 0 1 0 2 0a1 1 0 1 0-2 0M212.3 222.9a1 1 0 1 0 2 0a1 1 0 1 0-2 0M213.4 211.3a1 1 0 1 0 2 0a1 1 0 1 0-2 0M209.4 207.9a1 1 0 1 0 2 0a1 1 0 1 0-2 0M205.8 214.2a1 1 0 1 0 2 0a1 1 0 1 0-2 0M214.4 213.6a1 1 0 1 0 2 0a1 1 0 1 0-2 0M211.8 219.2a1 1 0 1 0 2 0a1 1 0 1 0-2 0" fill="#8c8c8c"/>
<line x1="206" y1="216" x2="216" y2="216" stroke="#222" stroke-width="0.7"/>
<line x1="211" y1="210.5" x2="211" y2="221.5" stroke="#222" stroke-width="0.7"/>
<line x1="208.5" y1="210.5" x2="213.5" y2="210.5" stroke="#222" stroke-width="0.7"/>
<line x1="208.5" y1="221.5" x2="213.5" y2="221.5" stroke="#222" stroke-width="0.7"/>
<path d="M229.6 239.7a1 1 0 1 0 2 0a1 1 0 1 0-2 0M229.6 244.5a1 1 0 1 0 2 0a1 1 0 1 0-2 0M224.4 240.8a1 1 0 1 0 2 0a1 1 0 1 0-2 0M225.4 242a1 1 0 1 0 2 0a1 1 0 1 0-2 0M228.1 239.8a1 1 0 1 0 2 0a1 1 0 1 0-2 0M225.2 238.4a1 1 0 1 0 2 0a1 1 0 1 0-2 0M231.1 239.1a1 1 0 1 0 2 0a1 1 0 1 0-2 0M228.6 243a1 1 0 1 0 2 0a1 1 0 1 0-2 0M224.9 242.4a1 1 0 1 0 2 0a1 1 0 1 0-2 0M231.5 240.2a1 1 0 1 0 2 0a1 1 0 1 0-2 0M230.7 242a1 1 0 1 0 2 0a1 1 0 1 0-2 0M228.9 235a1 1 0 1 0 2 0a1 1 0 1 0-2 0M226.7 245a1 1 0 1 0 2 0a1 1 0 1 0-2 0M231 238.3a1 1 0 1 0 2 0a1 1 0 1 0-2 0M228.1 235a1 1 0 1 0 2 0a1 1 0 1 0-2 0M227.1 240.4a1 1 0 1 0 2 0a1 1 0 1 0-2 0M226.2 237.9a1 1 0 1 0 2 0a1 1 0 1 0-2 0M224.6 242.4a1 1 0 1 0 2 0a1 1 0 1 0-2 0M231.9 242.3a1 1 0 1 0 2 0a1 1 0 1 0-2 0M228.7 235.2a1 1 0 1 0 2 0a1 1 0 1 0-2 0M226 235.3a1 1 0 1 0 2 0a1 1 0 1 0-2 0M229.4 238.3a1 1 0 1 0 2 0a1 1 0 1 0-2 0M225.1 238.3a1 1 0 1 0 2 0a1 1 0 1 0-2 0M228 240.6a1 1 0 1 0 2 0a1 1 0 1 0-2 0M228.9 239.9a1 1 0 1 0 2 0a1 1 0 1 0-2 0M227.1 243.3a1 1 0 1 0 2 0a1 1 0 1 0-2 0M225.6 242.4a1 1 0 1 0 2 0a1 1 0 1 0-2 0M225.7 242.5a1 1 0 1 0 2 0a1 1 0 1 0-2 0M223.7 241a1 1 0 1 0 2 0a1 1 0 1 0-2 0M229 242.7a1 1 0 1 0 2 0a1 1 0 1 0-2 0M229.5 242.8a1 1 0 1 0 2 0a1 1 0 1 0-2 0M232 239.2a1 1 0 1 0 2 0a1 1 0 1 0-2 0M230.6 241.6a1 1 0 1 0 2 0a1 1 0 1 0-2 0M231.2 240.4a1 1 0 1 0 2 0a1 1 0 1 0-2 0M227 238.9a1 1 0 1 0 2 0a1 1 0 1 0-2 0M231.3 238.7a1 1 0 1 0 2 0a1 1 0 1 0-2 0M226.1 244.1a1 1 0 1 0 2 0a1 1 0 1 0-2 0M230.2 236.5a1 1 0 1 0 2 0a1 1 0 1 0-2 0M225.3 236.7a1 1 0 1 0 2 0a1 1 0 1 0-2 0M231.1 243.3a1 1 0 1 0 2 0a1 1 0 1 0-2 0M226 236.2a1 1 0 1 0 2 0a1 1 0 1 0-2 0M228.7 237.1a1 1 0 1 0 2 0a1 1 0 1 0-2 0M226.9 236.5a1 1 0 1 0 2 0a1 1 0 1 0-2 0M229.8 238.1a1 1 0 1 0 2 0a1 1 0 1 0-2 0M224.6 238.6a1 1 0 1 0 2 0a1 1 0 1 0-2 0" fill="#8c8c8c"/>
<line x1="223.8" y1="240" x2="233.8" y2="240" stroke="#222" stroke-width="0.7"/>
<line x1="228.8" y1="236.5" x2="228.8" y2="243.5" stroke="#222" stroke-width="0.7"/>
<line x1="226.3" y1="236.5" x2="231.3" y2="236.5" stroke="#222" stroke-width="0.7"/>
<line x1="226.3" y1="243.5" x2="231.3" y2="243.5" stroke="#222" stroke-width="0.7"/>
<text transform="translate(156.9 219.5) rotate(-90)" x="0" y="2" font-size="5.5" text-anchor="middle" fill="#333" stroke="#333" stroke-width="0.14">membranous CD44</text>
<text transform="translate(163.5 219.8) rotate(-90)" x="0" y="2" font-size="5.6" text-anchor="middle" fill="#333" stroke="#333" stroke-width="0.14">(pixel intensity)</text>
<text x="168" y="259.6" font-size="5.8" text-anchor="middle" stroke="#1a1a1a" stroke-width="0.14">Dox</text>
<text x="195" y="259.6" font-size="5.8" text-anchor="middle" stroke="#1a1a1a" stroke-width="0.14">OFF</text>
<text x="211" y="259.6" font-size="5.8" text-anchor="middle" stroke="#1a1a1a" stroke-width="0.14">ON</text>
<text x="229" y="259.6" font-size="5.8" text-anchor="middle" stroke="#1a1a1a" stroke-width="0.14">ON/OFF</text>
<text x="267.5" y="10.3" font-size="11" fill="#000" font-weight="bold">B</text>
<text x="341.5" y="10.4" font-size="9.4" text-anchor="middle" stroke="#1a1a1a" stroke-width="0.24">GSEA</text>
<text x="341.5" y="22.8" font-size="9.8" text-anchor="middle" stroke="#1a1a1a" stroke-width="0.25">(cancer related pathways)</text>
<text x="288.8" y="36" font-size="8.8" fill="#e0242c" stroke="#e0242c" stroke-width="0.22">expBST UP</text>
<text x="288.8" y="46.4" font-size="8.8" fill="#e0242c" stroke="#e0242c" stroke-width="0.22">genes (203)</text>
<rect x="346.5" y="54.6" width="76.5" height="5.1" fill="#e52229"/>
<text x="336.8" y="60.2" font-size="8.3" text-anchor="end" stroke="#1a1a1a" stroke-width="0.21">MAPK signaling</text>
<line x1="344" y1="57.2" x2="346.2" y2="57.2" stroke="#555" stroke-width="0.6"/>
<rect x="346.5" y="64.6" width="45.3" height="5.1" fill="#e52229"/>
<text x="336.8" y="70.2" font-size="8.3" text-anchor="end" stroke="#1a1a1a" stroke-width="0.21">PI3K-Akt signaling</text>
<line x1="344" y1="67.2" x2="346.2" y2="67.2" stroke="#555" stroke-width="0.6"/>
<rect x="346.5" y="74.6" width="43.5" height="5.1" fill="#e52229"/>
<text x="336.8" y="80.2" font-size="8.3" text-anchor="end" stroke="#1a1a1a" stroke-width="0.21">Ras signaling</text>
<line x1="344" y1="77.2" x2="346.2" y2="77.2" stroke="#555" stroke-width="0.6"/>
<rect x="346.5" y="84.6" width="37.3" height="5.1" fill="#e52229"/>
<text x="336.8" y="90.2" font-size="8.3" text-anchor="end" stroke="#1a1a1a" stroke-width="0.21">TNF signaling</text>
<line x1="344" y1="87.2" x2="346.2" y2="87.2" stroke="#555" stroke-width="0.6"/>
<rect x="346.5" y="94.6" width="34" height="5.1" fill="#e52229"/>
<text x="336.8" y="100.2" font-size="8.3" text-anchor="end" stroke="#1a1a1a" stroke-width="0.21">Rap1 signaling</text>
<line x1="344" y1="97.2" x2="346.2" y2="97.2" stroke="#555" stroke-width="0.6"/>
<rect x="346.5" y="104.6" width="23.5" height="5.1" fill="#e52229"/>
<text x="336.8" y="110.2" font-size="8.3" text-anchor="end" stroke="#1a1a1a" stroke-width="0.21">NF-kappa B signaling</text>
<line x1="344" y1="107.2" x2="346.2" y2="107.2" stroke="#555" stroke-width="0.6"/>
<rect x="346.5" y="114.6" width="19.3" height="5.1" fill="#e52229"/>
<text x="336.8" y="120.2" font-size="8.3" text-anchor="end" stroke="#1a1a1a" stroke-width="0.21">ErbB signaling</text>
<line x1="344" y1="117.2" x2="346.2" y2="117.2" stroke="#555" stroke-width="0.6"/>
<rect x="346.5" y="124.6" width="15" height="5.1" fill="#e52229"/>
<text x="336.8" y="130.2" font-size="8.3" text-anchor="end" stroke="#1a1a1a" stroke-width="0.21">cGMP-PKG signaling</text>
<line x1="344" y1="127.2" x2="346.2" y2="127.2" stroke="#555" stroke-width="0.6"/>
<line x1="346.2" y1="52" x2="427" y2="52" stroke="#555" stroke-width="0.8"/>
<line x1="346.2" y1="52" x2="346.2" y2="132" stroke="#555" stroke-width="0.8"/>
<line x1="346.2" y1="50" x2="346.2" y2="52" stroke="#555" stroke-width="0.6"/>
<text x="346.2" y="47.8" font-size="8.8" text-anchor="middle" stroke="#1a1a1a" stroke-width="0.22">0</text>
<line x1="365" y1="50" x2="365" y2="52" stroke="#555" stroke-width="0.6"/>
<text x="365" y="47.8" font-size="8.8" text-anchor="middle" stroke="#1a1a1a" stroke-width="0.22">2</text>
<line x1="383.6" y1="50" x2="383.6" y2="52" stroke="#555" stroke-width="0.6"/>
<text x="383.6" y="47.8" font-size="8.8" text-anchor="middle" stroke="#1a1a1a" stroke-width="0.22">4</text>
<line x1="402.8" y1="50" x2="402.8" y2="52" stroke="#555" stroke-width="0.6"/>
<text x="402.8" y="47.8" font-size="8.8" text-anchor="middle" stroke="#1a1a1a" stroke-width="0.22">6</text>
<line x1="421.5" y1="50" x2="421.5" y2="52" stroke="#555" stroke-width="0.6"/>
<text x="357" y="35.2" font-size="8" stroke="#1a1a1a" stroke-width="0.2">-log</text>
<text x="373.8" y="36.8" font-size="5" stroke="#1a1a1a" stroke-width="0.12">10</text>
<text x="379.5" y="35.2" font-size="8" stroke="#1a1a1a" stroke-width="0.2">(p-value)</text>
<text x="457.5" y="10.3" font-size="11" fill="#000" font-weight="bold">C</text>
<text x="554.4" y="10.6" font-size="8.9" text-anchor="middle" stroke="#1a1a1a" stroke-width="0.22">MOTIF enrichment in ATAC peaks</text>
<text x="554.4" y="21" font-size="8.9" text-anchor="middle" stroke="#1a1a1a" stroke-width="0.22">associated with UP /DN genes</text>
<line x1="484.2" y1="31.3" x2="484.2" y2="119.5" stroke="#333" stroke-width="0.6"/>
<line x1="482.2" y1="31.3" x2="484.2" y2="31.3" stroke="#333" stroke-width="0.6"/>
<text x="481.4" y="33.6" font-size="6.5" text-anchor="end" fill="#222" font-weight="bold">80</text>
<line x1="482.2" y1="53.3" x2="484.2" y2="53.3" stroke="#333" stroke-width="0.6"/>
<text x="481.4" y="55.6" font-size="6.5" text-anchor="end" fill="#222" font-weight="bold">60</text>
<line x1="482.2" y1="75.4" x2="484.2" y2="75.4" stroke="#333" stroke-width="0.6"/>
<text x="481.4" y="77.7" font-size="6.5" text-anchor="end" fill="#222" font-weight="bold">40</text>
<line x1="482.2" y1="97.4" x2="484.2" y2="97.4" stroke="#333" stroke-width="0.6"/>
<text x="481.4" y="99.7" font-size="6.5" text-anchor="end" fill="#222" font-weight="bold">20</text>
<line x1="482.2" y1="119.5" x2="484.2" y2="119.5" stroke="#333" stroke-width="0.6"/>
<text x="481.4" y="121.8" font-size="6.5" text-anchor="end" fill="#222" font-weight="bold">0</text>
<line x1="484.2" y1="119.5" x2="574" y2="119.5" stroke="#333" stroke-width="0.8"/>
<line x1="506" y1="119.5" x2="506" y2="121.5" stroke="#333" stroke-width="0.6"/>
<line x1="552.5" y1="119.5" x2="552.5" y2="121.5" stroke="#333" stroke-width="0.6"/>
<rect x="490.4" y="55.8" width="6.8" height="63.7" fill="#1f2878"/>
<rect x="502.8" y="99" width="7.2" height="20.5" fill="#e5242b"/>
<rect x="515.5" y="112" width="7.1" height="7.5" fill="#f29196"/>
<rect x="536.4" y="89" width="7" height="30.5" fill="#1f2878"/>
<rect x="549" y="78" width="7" height="41.5" fill="#e5242b"/>
<rect x="561.4" y="100" width="7.2" height="19.5" fill="#f29196"/>
<text transform="translate(466.4 75) rotate(-90)" x="0" y="3.4" font-size="9.5" text-anchor="middle" stroke="#1a1a1a" stroke-width="0.24">%  coverage</text>
<path d="M494.3 53 V50.3 H538.6 V86" fill="none" stroke="#555" stroke-width="0.6"/>
<path d="M507 92 V63.5 H551.4 V74.4" fill="none" stroke="#555" stroke-width="0.6"/>
<path d="M520 110 V71 H564.4 V86" fill="none" stroke="#555" stroke-width="0.6"/>
<text x="513" y="51.2" font-size="9" text-anchor="middle" fill="#222">**</text>
<text x="530" y="65.7" font-size="9" text-anchor="middle" fill="#222">**</text>
<text x="544" y="72.7" font-size="9" text-anchor="middle" fill="#222">**</text>
<rect x="560" y="33" width="9" height="4" fill="#1f2878"/>
<text x="574.4" y="37.7" font-size="7.6" stroke="#1a1a1a" stroke-width="0.19">AP-1 decreased</text>
<rect x="560" y="44.8" width="9" height="4" fill="#e5242b"/>
<text x="574.4" y="49.5" font-size="7.6" stroke="#1a1a1a" stroke-width="0.19">AP-1 increased</text>
<rect x="560" y="56.6" width="9" height="4" fill="#f29196"/>
<text x="574.4" y="61.3" font-size="7.6" stroke="#1a1a1a" stroke-width="0.19">ETS increased</text>
<text x="448.2" y="132.1" font-size="8.7" stroke="#1a1a1a" stroke-width="0.22">expBST</text>
<text x="506" y="132.3" font-size="9.3" text-anchor="middle" stroke="#1a1a1a" stroke-width="0.23">DN</text>
<text x="506" y="141.9" font-size="9" text-anchor="middle" stroke="#1a1a1a" stroke-width="0.23">(155)</text>
<text x="552.4" y="132.3" font-size="9.3" text-anchor="middle" stroke="#1a1a1a" stroke-width="0.23">UP</text>
<text x="552.4" y="141.9" font-size="9" text-anchor="middle" stroke="#1a1a1a" stroke-width="0.23">(203)</text>
<text x="267.8" y="155.9" font-size="11.5" fill="#000" font-weight="bold">D</text>
<path d="M275.2 167 V161.7 H591.4 V167.7" fill="none" stroke="#666" stroke-width="0.8"/>
<rect x="404" y="151" width="54" height="9" fill="#fff"/>
<text x="407.5" y="159.4" font-size="9.5" stroke="#1a1a1a" stroke-width="0.24">BCC-RM</text>
<text x="445.6" y="155.4" font-size="5.8" stroke="#1a1a1a" stroke-width="0.14">pos</text>
<path d="M302 176.7 L300.3 183.2 L297.8 186.9 L290.9 189 L286.5 187.9 L283 186 L279.9 180 L280 174.2 L282 171 L287.6 166.2 L292.8 166.3 L295.7 167.8 L300 172.6Z" fill="#7c4aa8" stroke="#3a2068" stroke-width="0.8" stroke-linejoin="round"/>
<path d="M285 178.7 L285.6 173.5 L288.2 170.4 L291.1 170.4 L294.1 172.7 L296.2 175.6 L296.1 180.9 L293.9 184.6 L289 185.1 L286.1 182.3Z" fill="#23377a"/>
<path d="M441.8 179.2 L442.3 182.4 L437.8 186.4 L431.9 189.1 L426.2 187.9 L421.9 184.4 L419.2 180.6 L419.5 174.6 L423.4 170.5 L427.9 166.9 L431.8 167.1 L438.3 169.1 L442 173.6Z" fill="#d3e6c8" stroke="#7b9a70" stroke-width="0.6" stroke-linejoin="round"/>
<path d="M425.3 178.6 L426.2 174.2 L429.2 171.1 L432.4 170.5 L434.9 173.6 L436.8 178 L435.9 180.9 L433.4 184.3 L429.4 184.9 L427.1 182.8Z" fill="#86a279"/>
<path d="M592 178.7 L589 183.4 L586.2 186.9 L581.2 188.3 L576.8 188.3 L572 185.6 L569.9 181.2 L569.2 174.3 L571.2 169.7 L575.9 167.6 L582.2 166.2 L586.9 168.2 L590.4 173.5Z" fill="#f9cba8" stroke="#b8704a" stroke-width="0.7" stroke-linejoin="round"/>
<path d="M576.1 181.6 L573.8 177.1 L573.7 174.3 L576.8 171 L580.2 171.1 L583.4 173.4 L586.5 177.2 L585.9 180.7 L583.9 183.1 L580.1 184Z" fill="#d5661c"/>
<text x="290" y="202.5" font-size="9.6" text-anchor="middle" stroke="#1a1a1a" stroke-width="0.24">Advanced</text>
<text x="290" y="213.7" font-size="9.5" text-anchor="middle" stroke="#1a1a1a" stroke-width="0.24">BCC</text>
<text x="578.8" y="200.1" font-size="9.6" text-anchor="middle" stroke="#1a1a1a" stroke-width="0.24">Well-diff</text>
<text x="579.4" y="211.7" font-size="9.5" text-anchor="middle" stroke="#1a1a1a" stroke-width="0.24">SCC</text>
<text x="430.4" y="211.3" font-size="8.5" text-anchor="middle" stroke="#1a1a1a" stroke-width="0.21">+c-FOS</text>
<text x="431.3" y="245.4" font-size="8.5" text-anchor="middle" stroke="#1a1a1a" stroke-width="0.21">-c-FOS</text>
<text x="430" y="255.7" font-size="8.5" text-anchor="middle" stroke="#1a1a1a" stroke-width="0.21">+EGFR</text>
<text x="443.5" y="251.8" font-size="4.5" stroke="#1a1a1a" stroke-width="0.11">i</text>
<path d="M375 225.8 Q437 203 495 225" fill="none" stroke="#f09a28" stroke-width="1.5"/>
<path d="M489.5 221 L501 227 L489 230Z" fill="#f09a28"/>
<path d="M499.7 249 Q437 276 382 251.5" fill="none" stroke="#4a2a8c" stroke-width="1.9" stroke-dasharray="9 5"/>
<path d="M374.5 249.5 L386 244.8 L383.5 255Z" fill="#4a2a8c"/>
<rect x="264.8" y="236" width="17" height="6.5" fill="#555"/>
<rect x="294" y="236" width="15" height="6.5" fill="#555"/>
<path d="M281.8 239.2 H294" fill="none" stroke="#aaa" stroke-width="0.8" stroke-dasharray="1.5 1"/>
<ellipse cx="311.8" cy="231.4" rx="13.8" ry="9.4" fill="#858585"/>
<text x="311.8" y="234.4" font-size="8.3" text-anchor="middle" fill="#fff" font-weight="bold">AP-1</text>
<rect x="321.8" y="233.2" width="53.2" height="11.6" fill="#5a2a8e"/>
<text x="348.4" y="242.1" font-size="8.6" text-anchor="middle" fill="#fff" font-weight="bold">BCC genes</text>
<rect x="486.4" y="235.8" width="17" height="5.5" fill="#555"/>
<rect x="515.7" y="235.8" width="14.8" height="5.5" fill="#555"/>
<path d="M503.4 238.6 H515.7" fill="none" stroke="#aaa" stroke-width="0.8" stroke-dasharray="1.5 1"/>
<ellipse cx="535" cy="229.2" rx="13.8" ry="9.4" fill="#858585"/>
<text x="535" y="232.2" font-size="8.3" text-anchor="middle" fill="#fff" font-weight="bold">AP-1</text>
<rect x="543.4" y="233.2" width="52.6" height="11.6" fill="#f0932b"/>
<text x="569.7" y="242.1" font-size="8.6" text-anchor="middle" fill="#fff" font-weight="bold">SCC genes</text>
<text x="2.5" y="275.1" font-size="11.5" fill="#000" font-weight="bold">E</text>
<text x="37.6" y="288.4" font-size="8.2" stroke="#1a1a1a" stroke-width="0.2">ASZ_empty</text>
<text x="37.6" y="298.2" font-size="8.2" stroke="#1a1a1a" stroke-width="0.2">ASZ_cFos</text>
<path d="M34.1 307.6 L33.9 314.6 L30 318 L24.9 321.6 L19 321.3 L13.4 316.4 L10.6 311.8 L9.6 306.1 L13.1 302.2 L19.4 297.2 L23.1 296.9 L29.6 298 L32.6 302.8Z" fill="#a6a6a6" stroke="#2a2a2a" stroke-width="0.8" stroke-linejoin="round"/>
<path d="M20.5 315.7 L15.8 312.1 L13.7 309.4 L16.2 304.4 L19.4 302 L24.5 303 L29.5 305.6 L31.1 308.6 L29.8 312.4 L26.3 315.2Z" fill="#5e5e5e"/>
<text x="127" y="276.1" font-size="6.7" text-anchor="middle" stroke="#1a1a1a" stroke-width="0.17">Dox <tspan font-weight="bold">ON</tspan></text>
<text x="127" y="284" font-size="6.7" text-anchor="middle" stroke="#1a1a1a" stroke-width="0.17">24h</text>
<text x="174" y="276.1" font-size="6.7" text-anchor="middle" stroke="#1a1a1a" stroke-width="0.17">Dox <tspan font-weight="bold">ON</tspan></text>
<text x="174" y="284" font-size="6.7" text-anchor="middle" stroke="#1a1a1a" stroke-width="0.17">6h</text>
<line x1="90.5" y1="285.3" x2="191.5" y2="285.3" stroke="#333" stroke-width="0.6"/>
<path d="M189.7 283.5 L191.5 285.3 L189.7 287.1" fill="none" stroke="#333" stroke-width="0.6"/>
<line x1="90.5" y1="295" x2="156.5" y2="295" stroke="#333" stroke-width="0.6"/>
<line x1="158" y1="295" x2="191.5" y2="295" stroke="#333" stroke-width="0.6"/>
<path d="M189.7 293.2 L191.5 295 L189.7 296.8" fill="none" stroke="#333" stroke-width="0.6"/>
<line x1="157.4" y1="306" x2="191.5" y2="306" stroke="#333" stroke-width="0.6"/>
<path d="M189.7 304.2 L191.5 306 L189.7 307.8" fill="none" stroke="#333" stroke-width="0.6"/>
<line x1="157.4" y1="316.7" x2="191.5" y2="316.7" stroke="#333" stroke-width="0.6"/>
<path d="M189.7 314.9 L191.5 316.7 L189.7 318.5" fill="none" stroke="#333" stroke-width="0.6"/>
<text x="174" y="293.6" font-size="6.7" text-anchor="middle" stroke="#1a1a1a" stroke-width="0.17">+DMSO</text>
<text x="174" y="303.4" font-size="6.7" text-anchor="middle" stroke="#1a1a1a" stroke-width="0.17">+DMSO</text>
<text x="174" y="314.4" font-size="6.7" text-anchor="middle" stroke="#1a1a1a" stroke-width="0.17">+Afatinib</text>
<text x="174" y="323.7" font-size="6.7" text-anchor="middle" stroke="#1a1a1a" stroke-width="0.17">+UO126</text>
<text x="69.1" y="338.6" font-size="8.7" text-anchor="middle" stroke="#1a1a1a" stroke-width="0.22">Afatinib</text>
<line x1="37.6" y1="340" x2="37.6" y2="406.7" stroke="#333" stroke-width="0.7"/>
<line x1="36.1" y1="356.2" x2="37.6" y2="356.2" stroke="#333" stroke-width="0.7"/>
<text x="35.1" y="358.1" font-size="5.2" text-anchor="end" fill="#222" font-weight="bold">1.0</text>
<line x1="36.1" y1="381.6" x2="37.6" y2="381.6" stroke="#333" stroke-width="0.7"/>
<text x="35.1" y="383.5" font-size="5.2" text-anchor="end" fill="#222" font-weight="bold">0.5</text>
<line x1="36.1" y1="406.7" x2="37.6" y2="406.7" stroke="#333" stroke-width="0.7"/>
<text x="35.1" y="408.6" font-size="5.2" text-anchor="end" fill="#222" font-weight="bold">0.0</text>
<line x1="37.6" y1="406.7" x2="99.8" y2="406.7" stroke="#333" stroke-width="0.7"/>
<line x1="53.3" y1="406.7" x2="53.3" y2="408.2" stroke="#333" stroke-width="0.6"/>
<text x="53.3" y="414.9" font-size="5.2" text-anchor="middle" fill="#222" font-weight="bold">0.01</text>
<line x1="69.4" y1="406.7" x2="69.4" y2="408.2" stroke="#333" stroke-width="0.6"/>
<text x="69.4" y="414.9" font-size="5.2" text-anchor="middle" fill="#222" font-weight="bold">0.1</text>
<line x1="85.8" y1="406.7" x2="85.8" y2="408.2" stroke="#333" stroke-width="0.6"/>
<text x="85.8" y="414.9" font-size="5.2" text-anchor="middle" fill="#222" font-weight="bold">1</text>
<line x1="97" y1="406.7" x2="97" y2="408.2" stroke="#333" stroke-width="0.6"/>
<text x="97" y="414.9" font-size="5.2" text-anchor="middle" fill="#222" font-weight="bold">5</text>
<path d="M37.6 367.2 H75.3 V406.7" fill="none" stroke="#e0303a" stroke-width="0.75" stroke-dasharray="1.2 0.5"/>
<text x="77.8" y="396.5" font-size="8.4" fill="#e0303a" stroke="#e0303a" stroke-width="0.21">EC</text>
<text x="89.6" y="398.2" font-size="4.6" fill="#e0303a" stroke="#e0303a" stroke-width="0.11">50</text>
<path d="M37.6 389.6 L53.3 391.8 L69.4 375.4 L85.8 351.7 L97 353.7" fill="none" stroke="#111" stroke-width="0.8"/>
<circle cx="37.6" cy="389.6" r="1.6" fill="#111"/>
<circle cx="53.3" cy="391.8" r="1.6" fill="#111"/>
<line x1="69.4" y1="372.2" x2="69.4" y2="378.6" stroke="#222" stroke-width="0.6"/>
<line x1="68.1" y1="372.2" x2="70.7" y2="372.2" stroke="#222" stroke-width="0.6"/>
<line x1="68.1" y1="378.6" x2="70.7" y2="378.6" stroke="#222" stroke-width="0.6"/>
<circle cx="69.4" cy="375.4" r="1.6" fill="#111"/>
<line x1="85.8" y1="345.7" x2="85.8" y2="357.7" stroke="#222" stroke-width="0.6"/>
<line x1="84.5" y1="345.7" x2="87.1" y2="345.7" stroke="#222" stroke-width="0.6"/>
<line x1="84.5" y1="357.7" x2="87.1" y2="357.7" stroke="#222" stroke-width="0.6"/>
<circle cx="85.8" cy="351.7" r="1.6" fill="#111"/>
<line x1="97" y1="350.2" x2="97" y2="357.2" stroke="#222" stroke-width="0.6"/>
<line x1="95.7" y1="350.2" x2="98.3" y2="350.2" stroke="#222" stroke-width="0.6"/>
<line x1="95.7" y1="357.2" x2="98.3" y2="357.2" stroke="#222" stroke-width="0.6"/>
<circle cx="97" cy="353.7" r="1.6" fill="#111"/>
<text transform="translate(13.3 373.4) rotate(-90)" x="0" y="2.4" font-size="6.8" text-anchor="middle" fill="#333" stroke="#333" stroke-width="0.17" font-style="italic">Gli1</text>
<text transform="translate(22.1 375.4) rotate(-90)" x="0" y="2.4" font-size="6.6" text-anchor="middle" fill="#333" stroke="#333" stroke-width="0.17">(mRNA relative expression)</text>
<text x="70.7" y="423" font-size="5.6" text-anchor="middle" fill="#222" font-weight="bold">afatinib (μM)</text>
<text x="176.6" y="338.6" font-size="8.7" text-anchor="middle" stroke="#1a1a1a" stroke-width="0.22">Afatinib</text>
<line x1="146.4" y1="341" x2="146.4" y2="407" stroke="#333" stroke-width="0.7"/>
<line x1="144.9" y1="341" x2="146.4" y2="341" stroke="#333" stroke-width="0.7"/>
<text x="143.9" y="342.9" font-size="5.2" text-anchor="end" fill="#222" font-weight="bold">2.0</text>
<line x1="144.9" y1="374.3" x2="146.4" y2="374.3" stroke="#333" stroke-width="0.7"/>
<text x="143.9" y="376.2" font-size="5.2" text-anchor="end" fill="#222" font-weight="bold">1.5</text>
<line x1="144.9" y1="407" x2="146.4" y2="407" stroke="#333" stroke-width="0.7"/>
<text x="143.9" y="408.9" font-size="5.2" text-anchor="end" fill="#222" font-weight="bold">1.0</text>
<line x1="146.4" y1="407" x2="213" y2="407" stroke="#333" stroke-width="0.7"/>
<line x1="162.5" y1="407" x2="162.5" y2="408.5" stroke="#333" stroke-width="0.6"/>
<text x="162.5" y="415.2" font-size="5.2" text-anchor="middle" fill="#222" font-weight="bold">0.01</text>
<line x1="178.2" y1="407" x2="178.2" y2="408.5" stroke="#333" stroke-width="0.6"/>
<text x="178.2" y="415.2" font-size="5.2" text-anchor="middle" fill="#222" font-weight="bold">0.1</text>
<line x1="194.6" y1="407" x2="194.6" y2="408.5" stroke="#333" stroke-width="0.6"/>
<text x="194.6" y="415.2" font-size="5.2" text-anchor="middle" fill="#222" font-weight="bold">1</text>
<line x1="206" y1="407" x2="206" y2="408.5" stroke="#333" stroke-width="0.6"/>
<text x="206" y="415.2" font-size="5.2" text-anchor="middle" fill="#222" font-weight="bold">5</text>
<path d="M146.4 376.5 H183.2 V407" fill="none" stroke="#e0303a" stroke-width="0.75" stroke-dasharray="1.2 0.5"/>
<text x="161.6" y="396.5" font-size="8.4" fill="#e0303a" stroke="#e0303a" stroke-width="0.21">EC</text>
<text x="173.4" y="398.2" font-size="4.6" fill="#e0303a" stroke="#e0303a" stroke-width="0.11">50</text>
<path d="M146.4 344.9 L162.5 365.5 L178.2 370 L194.6 394.3 L206 393" fill="none" stroke="#111" stroke-width="0.8"/>
<circle cx="146.4" cy="344.9" r="1.6" fill="#111"/>
<line x1="162.5" y1="355.5" x2="162.5" y2="375.5" stroke="#222" stroke-width="0.6"/>
<line x1="161.2" y1="355.5" x2="163.8" y2="355.5" stroke="#222" stroke-width="0.6"/>
<line x1="161.2" y1="375.5" x2="163.8" y2="375.5" stroke="#222" stroke-width="0.6"/>
<circle cx="162.5" cy="365.5" r="1.6" fill="#111"/>
<line x1="178.2" y1="365" x2="178.2" y2="375" stroke="#222" stroke-width="0.6"/>
<line x1="176.9" y1="365" x2="179.5" y2="365" stroke="#222" stroke-width="0.6"/>
<line x1="176.9" y1="375" x2="179.5" y2="375" stroke="#222" stroke-width="0.6"/>
<circle cx="178.2" cy="370" r="1.6" fill="#111"/>
<line x1="194.6" y1="389.8" x2="194.6" y2="398.8" stroke="#222" stroke-width="0.6"/>
<line x1="193.3" y1="389.8" x2="195.9" y2="389.8" stroke="#222" stroke-width="0.6"/>
<line x1="193.3" y1="398.8" x2="195.9" y2="398.8" stroke="#222" stroke-width="0.6"/>
<circle cx="194.6" cy="394.3" r="1.6" fill="#111"/>
<line x1="206" y1="383" x2="206" y2="403" stroke="#222" stroke-width="0.6"/>
<line x1="204.7" y1="383" x2="207.3" y2="383" stroke="#222" stroke-width="0.6"/>
<line x1="204.7" y1="403" x2="207.3" y2="403" stroke="#222" stroke-width="0.6"/>
<circle cx="206" cy="393" r="1.6" fill="#111"/>
<text transform="translate(117.6 374) rotate(-90)" x="0" y="2.4" font-size="6.8" text-anchor="middle" fill="#333" stroke="#333" stroke-width="0.17" font-style="italic">Cd44</text>
<text transform="translate(127.8 376) rotate(-90)" x="0" y="2.4" font-size="6.6" text-anchor="middle" fill="#333" stroke="#333" stroke-width="0.17">(mRNA relative expression)</text>
<text x="181.7" y="423.3" font-size="5.6" text-anchor="middle" fill="#222" font-weight="bold">afatinib (μM)</text>
<text x="69.4" y="438.4" font-size="9.5" text-anchor="middle" stroke="#1a1a1a" stroke-width="0.24">UO126</text>
<line x1="36.9" y1="442.8" x2="36.9" y2="508.8" stroke="#333" stroke-width="0.7"/>
<line x1="35.4" y1="449.2" x2="36.9" y2="449.2" stroke="#333" stroke-width="0.7"/>
<text x="34.4" y="451.1" font-size="5.2" text-anchor="end" fill="#222" font-weight="bold">1.0</text>
<line x1="35.4" y1="479.2" x2="36.9" y2="479.2" stroke="#333" stroke-width="0.7"/>
<text x="34.4" y="481.1" font-size="5.2" text-anchor="end" fill="#222" font-weight="bold">0.5</text>
<line x1="35.4" y1="508.8" x2="36.9" y2="508.8" stroke="#333" stroke-width="0.7"/>
<text x="34.4" y="510.7" font-size="5.2" text-anchor="end" fill="#222" font-weight="bold">0.0</text>
<line x1="36.9" y1="508.8" x2="103" y2="508.8" stroke="#333" stroke-width="0.7"/>
<line x1="46" y1="508.8" x2="46" y2="510.3" stroke="#333" stroke-width="0.6"/>
<text x="46" y="517" font-size="5.2" text-anchor="middle" fill="#222" font-weight="bold">0.2</text>
<line x1="68.2" y1="508.8" x2="68.2" y2="510.3" stroke="#333" stroke-width="0.6"/>
<text x="68.2" y="517" font-size="5.2" text-anchor="middle" fill="#222" font-weight="bold">1</text>
<line x1="90.5" y1="508.8" x2="90.5" y2="510.3" stroke="#333" stroke-width="0.6"/>
<text x="90.5" y="517" font-size="5.2" text-anchor="middle" fill="#222" font-weight="bold">5</text>
<line x1="100.2" y1="508.8" x2="100.2" y2="510.3" stroke="#333" stroke-width="0.6"/>
<text x="100.2" y="517" font-size="5.2" text-anchor="middle" fill="#222" font-weight="bold">10</text>
<path d="M36.9 466.5 H68.2 V508.8" fill="none" stroke="#e0303a" stroke-width="0.75" stroke-dasharray="1.2 0.5"/>
<text x="70.2" y="501.6" font-size="8.4" fill="#e0303a" stroke="#e0303a" stroke-width="0.21">EC</text>
<text x="82" y="503.3" font-size="4.6" fill="#e0303a" stroke="#e0303a" stroke-width="0.11">50</text>
<path d="M37.5 483.4 L46 473.2 L68.2 465.1 L90.5 451.6 L100.2 464" fill="none" stroke="#111" stroke-width="0.8"/>
<line x1="37.5" y1="476.4" x2="37.5" y2="490.4" stroke="#222" stroke-width="0.6"/>
<line x1="36.2" y1="476.4" x2="38.8" y2="476.4" stroke="#222" stroke-width="0.6"/>
<line x1="36.2" y1="490.4" x2="38.8" y2="490.4" stroke="#222" stroke-width="0.6"/>
<circle cx="37.5" cy="483.4" r="1.6" fill="#111"/>
<line x1="46" y1="463.2" x2="46" y2="483.2" stroke="#222" stroke-width="0.6"/>
<line x1="44.7" y1="463.2" x2="47.3" y2="463.2" stroke="#222" stroke-width="0.6"/>
<line x1="44.7" y1="483.2" x2="47.3" y2="483.2" stroke="#222" stroke-width="0.6"/>
<circle cx="46" cy="473.2" r="1.6" fill="#111"/>
<line x1="68.2" y1="461.1" x2="68.2" y2="469.1" stroke="#222" stroke-width="0.6"/>
<line x1="66.9" y1="461.1" x2="69.5" y2="461.1" stroke="#222" stroke-width="0.6"/>
<line x1="66.9" y1="469.1" x2="69.5" y2="469.1" stroke="#222" stroke-width="0.6"/>
<circle cx="68.2" cy="465.1" r="1.6" fill="#111"/>
<line x1="90.5" y1="443.6" x2="90.5" y2="459.6" stroke="#222" stroke-width="0.6"/>
<line x1="89.2" y1="443.6" x2="91.8" y2="443.6" stroke="#222" stroke-width="0.6"/>
<line x1="89.2" y1="459.6" x2="91.8" y2="459.6" stroke="#222" stroke-width="0.6"/>
<circle cx="90.5" cy="451.6" r="1.6" fill="#111"/>
<line x1="100.2" y1="459" x2="100.2" y2="469" stroke="#222" stroke-width="0.6"/>
<line x1="98.9" y1="459" x2="101.5" y2="459" stroke="#222" stroke-width="0.6"/>
<line x1="98.9" y1="469" x2="101.5" y2="469" stroke="#222" stroke-width="0.6"/>
<circle cx="100.2" cy="464" r="1.6" fill="#111"/>
<text transform="translate(12.6 475.8) rotate(-90)" x="0" y="2.4" font-size="6.8" text-anchor="middle" fill="#333" stroke="#333" stroke-width="0.17" font-style="italic">Gli1</text>
<text transform="translate(21.4 474.8) rotate(-90)" x="0" y="2.6" font-size="7.2" text-anchor="middle" fill="#333" stroke="#333" stroke-width="0.18" font-style="italic">(mRNA relative expression)</text>
<text x="72" y="525.1" font-size="5.6" text-anchor="middle" fill="#222" font-weight="bold">UO126 (μM)</text>
<text x="177.7" y="438.4" font-size="9.5" text-anchor="middle" stroke="#1a1a1a" stroke-width="0.24">UO126</text>
<line x1="146" y1="444.1" x2="146" y2="509.1" stroke="#333" stroke-width="0.7"/>
<line x1="144.5" y1="444.1" x2="146" y2="444.1" stroke="#333" stroke-width="0.7"/>
<text x="143.5" y="446" font-size="5.2" text-anchor="end" fill="#222" font-weight="bold">2.0</text>
<line x1="144.5" y1="477.1" x2="146" y2="477.1" stroke="#333" stroke-width="0.7"/>
<text x="143.5" y="479" font-size="5.2" text-anchor="end" fill="#222" font-weight="bold">1.5</text>
<line x1="144.5" y1="509.1" x2="146" y2="509.1" stroke="#333" stroke-width="0.7"/>
<text x="143.5" y="511" font-size="5.2" text-anchor="end" fill="#222" font-weight="bold">1.0</text>
<line x1="146" y1="509.1" x2="213" y2="509.1" stroke="#333" stroke-width="0.7"/>
<line x1="155.7" y1="509.1" x2="155.7" y2="510.6" stroke="#333" stroke-width="0.6"/>
<text x="155.7" y="517.3" font-size="5.2" text-anchor="middle" fill="#222" font-weight="bold">0.2</text>
<line x1="177.7" y1="509.1" x2="177.7" y2="510.6" stroke="#333" stroke-width="0.6"/>
<text x="177.7" y="517.3" font-size="5.2" text-anchor="middle" fill="#222" font-weight="bold">1</text>
<line x1="199.7" y1="509.1" x2="199.7" y2="510.6" stroke="#333" stroke-width="0.6"/>
<text x="199.7" y="517.3" font-size="5.2" text-anchor="middle" fill="#222" font-weight="bold">5</text>
<line x1="209.5" y1="509.1" x2="209.5" y2="510.6" stroke="#333" stroke-width="0.6"/>
<text x="209.5" y="517.3" font-size="5.2" text-anchor="middle" fill="#222" font-weight="bold">10</text>
<path d="M146 483.4 H177.7 V509.1" fill="none" stroke="#e0303a" stroke-width="0.75" stroke-dasharray="1.2 0.5"/>
<text x="178.6" y="502.5" font-size="8.4" fill="#e0303a" stroke="#e0303a" stroke-width="0.21">EC</text>
<text x="190.4" y="504.2" font-size="4.6" fill="#e0303a" stroke="#e0303a" stroke-width="0.11">50</text>
<path d="M146.5 466.5 L155.7 474.6 L177.7 482.6 L199.7 486.3 L209.5 496.4" fill="none" stroke="#111" stroke-width="0.8"/>
<line x1="146.5" y1="457.5" x2="146.5" y2="475.5" stroke="#222" stroke-width="0.6"/>
<line x1="145.2" y1="457.5" x2="147.8" y2="457.5" stroke="#222" stroke-width="0.6"/>
<line x1="145.2" y1="475.5" x2="147.8" y2="475.5" stroke="#222" stroke-width="0.6"/>
<circle cx="146.5" cy="466.5" r="1.6" fill="#111"/>
<line x1="155.7" y1="465.6" x2="155.7" y2="483.6" stroke="#222" stroke-width="0.6"/>
<line x1="154.4" y1="465.6" x2="157" y2="465.6" stroke="#222" stroke-width="0.6"/>
<line x1="154.4" y1="483.6" x2="157" y2="483.6" stroke="#222" stroke-width="0.6"/>
<circle cx="155.7" cy="474.6" r="1.6" fill="#111"/>
<line x1="177.7" y1="474.6" x2="177.7" y2="490.6" stroke="#222" stroke-width="0.6"/>
<line x1="176.4" y1="474.6" x2="179" y2="474.6" stroke="#222" stroke-width="0.6"/>
<line x1="176.4" y1="490.6" x2="179" y2="490.6" stroke="#222" stroke-width="0.6"/>
<circle cx="177.7" cy="482.6" r="1.6" fill="#111"/>
<line x1="199.7" y1="483.3" x2="199.7" y2="489.3" stroke="#222" stroke-width="0.6"/>
<line x1="198.4" y1="483.3" x2="201" y2="483.3" stroke="#222" stroke-width="0.6"/>
<line x1="198.4" y1="489.3" x2="201" y2="489.3" stroke="#222" stroke-width="0.6"/>
<circle cx="199.7" cy="486.3" r="1.6" fill="#111"/>
<line x1="209.5" y1="487.4" x2="209.5" y2="505.4" stroke="#222" stroke-width="0.6"/>
<line x1="208.2" y1="487.4" x2="210.8" y2="487.4" stroke="#222" stroke-width="0.6"/>
<line x1="208.2" y1="505.4" x2="210.8" y2="505.4" stroke="#222" stroke-width="0.6"/>
<circle cx="209.5" cy="496.4" r="1.6" fill="#111"/>
<text transform="translate(117.2 476.6) rotate(-90)" x="0" y="2.4" font-size="6.8" text-anchor="middle" fill="#333" stroke="#333" stroke-width="0.17" font-style="italic">Cd44</text>
<text transform="translate(127.4 475.6) rotate(-90)" x="0" y="2.6" font-size="7.2" text-anchor="middle" fill="#333" stroke="#333" stroke-width="0.18" font-style="italic">(mRNA relative expression)</text>
<text x="181.5" y="525.4" font-size="5.6" text-anchor="middle" fill="#222" font-weight="bold">UO126 (μM)</text>
<text x="2.5" y="546.8" font-size="11.5" fill="#000" font-weight="bold">F</text>
<text x="137.3" y="541" font-size="9.7" text-anchor="middle" stroke="#1a1a1a" stroke-width="0.24">RNA-seq</text>
<text transform="translate(4.8 601.8) rotate(-90)" x="0" y="2.6" font-size="7.3" text-anchor="middle" stroke="#1a1a1a" stroke-width="0.18">log<tspan font-size="4" dy="1.5">2</tspan><tspan dy="-1.5">(fold change)</tspan></text>
<line x1="19.4" y1="577.3" x2="19.4" y2="628.2" stroke="#333" stroke-width="0.6"/>
<line x1="17.8" y1="578.3" x2="19.4" y2="578.3" stroke="#333" stroke-width="0.6"/>
<text x="16.8" y="580.1" font-size="5" text-anchor="end" fill="#444" stroke="#444" stroke-width="0.12">5</text>
<line x1="17.8" y1="601.8" x2="19.4" y2="601.8" stroke="#333" stroke-width="0.6"/>
<text x="16.8" y="603.6" font-size="5" text-anchor="end" fill="#444" stroke="#444" stroke-width="0.12">0</text>
<line x1="17.8" y1="625.4" x2="19.4" y2="625.4" stroke="#333" stroke-width="0.6"/>
<text x="16.8" y="627.2" font-size="5" text-anchor="end" fill="#444" stroke="#444" stroke-width="0.12">-5</text>
<line x1="19.4" y1="628.2" x2="86.8" y2="628.2" stroke="#333" stroke-width="0.6"/>
<line x1="32.9" y1="628.2" x2="32.9" y2="629.8" stroke="#333" stroke-width="0.6"/>
<text x="32.9" y="636.1" font-size="5.3" text-anchor="middle" fill="#333" stroke="#333" stroke-width="0.13">5</text>
<line x1="52.6" y1="628.2" x2="52.6" y2="629.8" stroke="#333" stroke-width="0.6"/>
<text x="52.6" y="636.1" font-size="5.3" text-anchor="middle" fill="#333" stroke="#333" stroke-width="0.13">10</text>
<line x1="72.4" y1="628.2" x2="72.4" y2="629.8" stroke="#333" stroke-width="0.6"/>
<text x="72.4" y="636.1" font-size="5.3" text-anchor="middle" fill="#333" stroke="#333" stroke-width="0.13">15</text>
<text x="57.7" y="556.3" font-size="7.7" text-anchor="middle" stroke="#1a1a1a" stroke-width="0.19">c-FOS</text>
<text x="57.7" y="565.3" font-size="7.7" text-anchor="middle" stroke="#1a1a1a" stroke-width="0.19">vs CONTROL</text>
<path d="M36.8 589.4h0M27.4 594.7h0M35.1 593.6h0M39.2 595.8h0M46.4 596.6h0M36.7 593.9h0M24.6 595.2h0M67.2 599.0h0M34.9 591.1h0M62.8 597.3h0M31.3 594.9h0M22.7 594.3h0M37.7 594.3h0M28.5 594.8h0M50.6 594.6h0M36.3 591.1h0M61.5 597.8h0M34.5 593.8h0M39.1 594.9h0M31.7 589.2h0M52.1 597.4h0M29.7 595.5h0M28.8 593.9h0M71.9 593.8h0M28.7 594.5h0M35.1 595.1h0M49.8 594.3h0M39.6 595.0h0M34.4 593.7h0M50.1 593.3h0M45.3 596.0h0M49.0 595.5h0M33.7 594.2h0M40.4 596.4h0M23.9 592.1h0M49.1 597.0h0M54.5 592.4h0M60.3 592.5h0M44.3 595.6h0M33.8 594.7h0M46.1 589.5h0M33.2 594.8h0M67.4 597.1h0M24.5 595.2h0M31.3 592.4h0M34.9 588.1h0M39.4 594.8h0M46.1 593.6h0M61.5 598.1h0M55.0 596.6h0M24.3 592.6h0M27.6 593.6h0M63.6 597.0h0M64.7 581.8h0M33.2 595.8h0M31.3 594.3h0M55.9 596.8h0M50.5 597.2h0M23.2 593.4h0M52.4 591.0h0M58.6 594.0h0M36.4 590.8h0M34.9 593.3h0M23.5 593.1h0M26.5 592.6h0M36.0 596.0h0M56.5 596.5h0M58.8 596.9h0M48.6 596.8h0M54.3 594.1h0M43.0 595.1h0M47.1 595.1h0M37.6 593.4h0M27.9 592.3h0M37.4 592.4h0M28.0 595.6h0M28.7 593.0h0M41.6 596.3h0M28.4 594.7h0M30.6 594.3h0M65.1 598.0h0M25.0 590.1h0M25.1 593.7h0M35.7 595.6h0M24.5 593.8h0M48.8 593.8h0M34.2 595.8h0M69.4 592.3h0M24.1 595.3h0M25.5 595.2h0M38.7 592.5h0M30.5 587.9h0M57.0 597.4h0M37.6 596.2h0M53.8 597.3h0M49.0 595.3h0M30.7 591.6h0M43.6 596.1h0M23.8 595.0h0M40.4 594.4h0M29.3 593.2h0M70.8 596.7h0M46.3 594.9h0M28.9 589.4h0M54.5 594.7h0M57.0 594.8h0M63.9 593.9h0M42.5 595.2h0M41.6 596.3h0M57.2 595.4h0M25.3 595.3h0M29.5 593.8h0M49.3 584.5h0M63.9 597.6h0M34.8 590.4h0M42.0 594.4h0M44.7 585.7h0M39.0 595.7h0M59.1 595.7h0M59.3 585.7h0M53.0 596.9h0M32.1 595.8h0M30.5 594.3h0M33.5 594.9h0M37.0 590.7h0M28.9 579.8h0M31.8 595.1h0M54.0 597.8h0M31.8 592.5h0M39.5 590.5h0M43.5 595.8h0M74.4 599.9h0M65.4 599.0h0M49.0 594.3h0M37.4 593.0h0M39.9 591.0h0M30.2 594.5h0M23.8 594.1h0M24.8 594.2h0M42.8 595.5h0M39.4 583.8h0M32.5 594.5h0M56.0 595.6h0M26.2 593.8h0M32.6 593.1h0M44.4 593.0h0M23.2 587.9h0M36.7 594.3h0M25.6 593.5h0M34.9 594.8h0M50.8 597.1h0M52.5 595.9h0M31.9 592.0h0M28.0 595.4h0M78.3 600.1h0M29.6 593.9h0M56.0 594.9h0M65.6 589.7h0M56.9 592.3h0M23.1 591.9h0M39.5 593.5h0M54.1 596.7h0M23.2 592.2h0M66.2 598.6h0M33.7 595.5h0M33.4 588.3h0M48.2 595.4h0M34.0 595.7h0M41.1 593.5h0M46.7 595.1h0M46.1 591.0h0M41.4 594.8h0M53.0 596.1h0M38.2 585.4h0M49.6 597.3h0M48.0 594.3h0M33.9 589.6h0M50.8 594.7h0M65.2 599.0h0M73.6 597.5h0M65.2 589.2h0M59.2 595.0h0M56.0 593.1h0M34.9 595.3h0M40.9 590.4h0M29.5 595.1h0M50.8 594.3h0M34.4 594.4h0M74.1 599.7h0M25.9 591.2h0M50.0 593.6h0M33.6 594.8h0M29.4 593.9h0M40.4 592.4h0M27.5 593.2h0M64.7 592.4h0M29.6 592.3h0M40.4 593.9h0M52.5 597.4h0M30.3 595.7h0M25.9 591.0h0M44.8 593.3h0M55.7 594.9h0M36.3 591.6h0M60.3 591.6h0M44.5 595.5h0M22.9 594.0h0M73.1 599.9h0M23.5 593.3h0M44.3 593.8h0M37.7 593.0h0M30.8 592.9h0M42.9 595.2h0M25.5 595.1h0M51.2 586.7h0M52.7 595.2h0M33.5 588.8h0M50.1 597.2h0M37.7 595.4h0M26.1 590.8h0M26.3 590.7h0M27.9 594.8h0M50.3 597.3h0M49.6 596.3h0M44.9 595.9h0M46.3 595.0h0M26.9 592.9h0M72.8 598.5h0M36.9 595.8h0M28.5 593.3h0M35.8 582.5h0M25.2 594.3h0M35.6 594.4h0M24.4 588.4h0M45.6 596.5h0M36.9 591.0h0M27.3 592.6h0M22.7 594.0h0M64.6 598.2h0M45.6 595.3h0M23.8 593.3h0M39.3 594.7h0M29.4 594.9h0M42.1 595.4h0M34.4 591.4h0M48.5 595.8h0M39.3 594.1h0M32.9 595.4h0M37.2 594.7h0M34.7 595.4h0M23.2 591.3h0M27.4 591.1h0M27.3 595.3h0M53.2 593.6h0M38.7 592.9h0M55.8 587.3h0M46.3 596.4h0M30.0 591.8h0M41.5 596.6h0M25.0 594.7h0M52.6 593.6h0M33.5 591.8h0M24.8 593.3h0M46.7 596.1h0M36.1 592.8h0M64.6 594.5h0M24.5 591.4h0M42.5 595.2h0M39.3 593.4h0M41.8 589.0h0M23.1 592.7h0M24.4 593.6h0M63.7 593.0h0M37.6 594.1h0M55.3 594.7h0M34.9 594.7h0M41.2 590.5h0M73.4 597.7h0M28.9 594.7h0M26.0 595.3h0M58.3 595.8h0M37.0 595.8h0M52.5 594.9h0M35.9 595.0h0M30.2 589.5h0M49.8 597.3h0M66.1 594.4h0M27.3 594.4h0M42.0 592.5h0M31.9 593.6h0M37.5 594.9h0M37.7 593.6h0M54.1 594.0h0M26.2 594.2h0M66.6 599.1h0M27.2 591.5h0M56.8 595.0h0M39.9 595.3h0M30.2 592.8h0M59.7 593.9h0M40.8 595.0h0M25.3 589.9h0M22.8 594.8h0M39.7 593.4h0M44.6 593.4h0M32.9 590.8h0M33.7 593.1h0M52.0 597.2h0M45.9 592.0h0M34.5 594.9h0M26.5 594.8h0M37.4 593.8h0M42.8 593.3h0M33.6 593.4h0M65.8 598.3h0M26.8 593.0h0M33.4 588.9h0M32.8 595.6h0M46.6 596.3h0M56.8 596.6h0M54.3 593.8h0M57.2 591.6h0M68.6 590.7h0M24.0 591.5h0M50.7 596.8h0M35.5 589.3h0M59.3 598.4h0M42.0 589.0h0M54.4 593.1h0M67.4 597.4h0M26.9 595.5h0M32.2 591.8h0M63.0 594.4h0M50.8 592.5h0M23.1 593.9h0M36.8 589.4h0M44.3 594.7h0M22.7 587.9h0M32.1 591.0h0M49.8 590.3h0M64.6 598.7h0M35.0 593.4h0M43.9 593.0h0M35.2 587.0h0M46.9 594.5h0M51.7 594.8h0M51.5 586.4h0M43.4 594.6h0M37.8 594.2h0M25.4 595.1h0M49.8 592.1h0M54.6 596.6h0M31.4 593.2h0M39.0 594.0h0M33.5 595.1h0M49.3 597.1h0M25.0 595.4h0M43.2 593.3h0M38.0 595.6h0M41.5 592.3h0M31.2 595.0h0M44.9 595.6h0M39.2 594.1h0M49.2 595.5h0M23.7 593.2h0M25.7 595.1h0M52.5 597.5h0M29.6 592.9h0M26.8 593.7h0M30.4 595.6h0M43.2 591.9h0M24.9 591.7h0M53.1 595.0h0M53.0 591.7h0M49.0 596.1h0M38.8 595.6h0M49.7 595.8h0M48.1 592.9h0M35.9 593.2h0M23.4 594.0h0M25.8 594.4h0M40.8 592.1h0M34.9 593.5h0M23.3 595.3h0M38.4 590.6h0M46.4 590.3h0M41.0 596.4h0M40.8 577.1h0M27.9 591.2h0M29.5 595.0h0M47.3 597.1h0M48.5 596.6h0M61.7 591.5h0M26.7 592.2h0M41.7 595.8h0M48.1 593.1h0M30.5 593.3h0M39.9 595.2h0M53.0 596.1h0M22.6 593.1h0M23.3 591.5h0M26.2 589.3h0M38.5 595.5h0M35.3 595.6h0M24.9 590.6h0M51.9 590.2h0M45.0 594.8h0M73.7 600.4h0M28.0 593.4h0M33.9 594.8h0M27.0 592.1h0M23.6 592.9h0M23.1 592.7h0M35.1 594.6h0M44.6 596.8h0M61.8 590.6h0M52.5 596.8h0M40.0 596.0h0M34.2 595.7h0M42.8 594.6h0M27.0 591.4h0M53.4 597.6h0M26.3 594.7h0M41.6 595.4h0M64.6 596.3h0M60.6 598.3h0M52.6 597.4h0M42.0 594.6h0M55.1 594.1h0M34.6 595.5h0M38.2 594.5h0M23.9 591.8h0M38.8 592.1h0M48.7 596.6h0M23.6 592.9h0M29.9 594.7h0M39.6 595.8h0M60.5 598.2h0M41.2 594.1h0M70.3 599.5h0M24.6 591.8h0M76.7 587.7h0M36.9 595.1h0M34.1 588.4h0M54.2 594.1h0M26.3 593.7h0M45.0 592.0h0M35.6 592.2h0M35.8 593.8h0M29.3 593.4h0M44.7 596.4h0M53.4 593.3h0M36.7 595.6h0M72.0 600.3h0M34.6 590.8h0M25.2 591.0h0M50.9 596.0h0M31.2 593.8h0M23.4 594.7h0M62.9 598.9h0M25.2 595.0h0M24.1 594.4h0M23.1 592.5h0M41.7 594.6h0M39.4 595.9h0M37.0 592.2h0M41.5 596.3h0M47.6 595.7h0M53.4 597.3h0M28.9 592.3h0M52.0 593.1h0M68.3 598.6h0M46.8 591.5h0M33.4 593.8h0M57.5 594.7h0M37.4 592.7h0M28.9 594.9h0M39.5 595.6h0M75.0 598.2h0M61.4 597.5h0M35.5 591.0h0M32.3 594.4h0M44.3 588.2h0M43.3 596.3h0M70.3 597.4h0M24.5 595.0h0M50.7 595.0h0M54.2 594.4h0M30.8 594.2h0M32.5 594.5h0M27.3 581.2h0M65.1 596.9h0M25.7 590.9h0M66.2 596.3h0M43.4 596.3h0M56.5 597.5h0M42.8 593.7h0M26.1 590.4h0M28.6 593.6h0M24.9 594.8h0M48.9 589.3h0M58.3 598.2h0M38.2 594.1h0M45.0 594.6h0M47.5 585.8h0M42.9 590.0h0M39.8 590.7h0M56.3 589.2h0M25.6 595.0h0M31.9 594.8h0M44.2 596.7h0M26.3 592.4h0M51.7 593.9h0M23.7 590.8h0M37.2 592.7h0M30.5 594.2h0M68.0 596.4h0M22.9 595.4h0M24.2 594.6h0M53.2 587.2h0M31.5 592.1h0M51.0 595.0h0M53.8 597.5h0M27.1 591.1h0M57.6 597.3h0M23.4 593.6h0M41.3 595.9h0M52.9 597.5h0M68.3 597.7h0M32.5 594.0h0M34.5 593.6h0M44.1 595.0h0M42.2 594.3h0M26.3 594.0h0M64.8 598.7h0M37.3 595.9h0M60.4 595.5h0M33.6 595.3h0M52.1 597.4h0M64.8 596.4h0M48.6 596.2h0M26.3 594.2h0M28.5 593.0h0M34.5 595.9h0M42.7 590.1h0M26.3 593.9h0M34.6 595.2h0M41.0 594.3h0M35.4 594.9h0M40.1 594.6h0M36.1 592.8h0M37.7 596.0h0M72.9 599.1h0M23.3 594.5h0M45.3 593.0h0M23.7 592.8h0M34.6 594.3h0M43.2 594.8h0M49.8 595.9h0M22.7 595.4h0M28.9 590.6h0M24.7 595.0h0M38.0 590.8h0M23.9 591.2h0M49.9 593.7h0M44.2 595.5h0M29.0 592.9h0M33.3 595.5h0M52.9 593.4h0M28.6 590.1h0M37.1 592.2h0M25.9 591.8h0M63.1 599.0h0M24.8 592.3h0M24.6 592.0h0M26.1 594.1h0M56.8 584.7h0M47.4 595.7h0M48.8 595.3h0M27.2 595.3h0M36.2 592.4h0M46.8 596.0h0M47.6 596.9h0M27.8 593.3h0M27.2 594.5h0M23.7 582.4h0M23.0 590.9h0M22.6 593.7h0M70.7 586.1h0M42.1 592.2h0M62.4 596.9h0M44.1 586.4h0M43.1 595.6h0M50.8 594.8h0M37.4 592.0h0M57.7 590.4h0M64.9 596.7h0M49.6 597.0h0M34.4 594.4h0M28.8 593.0h0M39.7 593.3h0M53.1 596.1h0M26.7 590.0h0M42.6 593.3h0M34.9 595.1h0M63.6 596.7h0M24.3 594.4h0M40.8 594.8h0M47.1 594.6h0M47.6 595.6h0M27.4 593.7h0M67.8 599.4h0M68.8 599.4h0M34.0 593.8h0M29.0 593.9h0M27.9 595.4h0M42.3 595.3h0M28.6 594.6h0M27.2 594.1h0M33.1 593.3h0M51.1 595.9h0M25.7 594.1h0M45.7 595.1h0M24.8 594.5h0M44.0 596.1h0M27.1 594.2h0M22.8 594.2h0M23.1 588.6h0M41.2 595.0h0M48.5 596.9h0M65.4 599.1h0M28.3 594.5h0M24.9 592.2h0M48.8 590.9h0M44.3 594.1h0M22.5 594.6h0M27.7 595.4h0M24.8 592.8h0M37.7 591.8h0M30.4 595.6h0M53.4 594.5h0M55.0 597.4h0M32.9 592.4h0M36.3 595.1h0M47.4 592.0h0M61.0 598.7h0M55.1 594.1h0M41.9 595.7h0M41.3 595.0h0M38.3 595.8h0M61.4 598.7h0M45.4 589.7h0M24.8 587.0h0M51.2 597.1h0M70.3 595.7h0M39.7 593.7h0M33.6 593.2h0M34.8 594.4h0M31.3 593.8h0M29.1 590.9h0M64.7 599.2h0M36.0 595.8h0M29.6 594.2h0M56.2 593.7h0M48.2 589.3h0M35.7 592.0h0M24.0 590.7h0M33.5 594.7h0M31.2 595.8h0M38.7 593.7h0M44.1 592.0h0M25.7 591.4h0M24.9 594.1h0M27.9 585.7h0M35.4 594.3h0M39.2 592.9h0M73.8 596.1h0M41.8 595.1h0M53.9 597.9h0M31.7 593.6h0M61.6 594.7h0M34.1 593.3h0M64.4 597.7h0M31.0 594.1h0M30.0 588.6h0M61.7 587.3h0M33.5 589.3h0M29.7 595.4h0M68.9 598.9h0M66.2 596.2h0M34.2 594.9h0M34.8 591.5h0M54.8 593.1h0M52.5 596.8h0M31.9 593.1h0M68.7 596.7h0M31.8 593.7h0M49.6 597.4h0M33.7 592.2h0M48.8 590.0h0M31.4 588.7h0M32.9 592.4h0M53.3 594.6h0M58.1 596.4h0M40.3 590.1h0M32.2 588.2h0M23.4 592.3h0M29.0 588.2h0M51.5 596.5h0M71.8 592.1h0M45.2 588.5h0M33.6 593.5h0M52.2 586.9h0M35.9 590.0h0M24.3 595.1h0M43.1 596.1h0M65.9 592.7h0M25.9 591.2h0M54.9 596.4h0M41.4 594.9h0M27.9 594.9h0M29.0 587.4h0M29.3 593.4h0M49.9 595.1h0M32.4 595.0h0M47.3 593.4h0M58.7 594.9h0M26.4 593.9h0M37.4 594.3h0M41.1 595.8h0M32.0 590.2h0M36.0 589.8h0M42.2 589.6h0M49.2 597.2h0M30.7 591.1h0M30.6 594.8h0M61.4 597.4h0M40.4 595.3h0M25.2 594.7h0M29.2 594.8h0M54.7 597.8h0M49.5 597.1h0M48.6 596.8h0M28.0 588.9h0M65.7 597.9h0M26.4 587.9h0M56.6 596.1h0M24.0 594.3h0M31.8 590.4h0M36.2 593.8h0M32.4 595.1h0M23.4 593.5h0M26.5 590.4h0M52.8 596.3h0M26.4 595.0h0M45.8 591.5h0M52.7 591.8h0M37.2 593.9h0M31.5 585.5h0M37.6 595.4h0M25.7 592.5h0M48.1 596.0h0M54.4 597.8h0M31.5 590.1h0M52.4 585.4h0M31.1 590.3h0M39.1 595.5h0M28.2 591.8h0M27.7 590.4h0M56.5 595.6h0M22.6 592.2h0M22.9 593.3h0M71.6 596.4h0M48.3 591.4h0M41.3 595.4h0M34.0 592.4h0M38.4 588.6h0M23.2 593.3h0M60.8 594.9h0M30.0 588.3h0M30.2 590.3h0M27.3 592.6h0M38.2 593.7h0M44.4 592.9h0M50.8 595.5h0M72.2 596.1h0M30.7 592.7h0M51.9 597.0h0M42.0 595.5h0M44.9 596.5h0M50.3 594.4h0M26.2 594.8h0M44.4 595.8h0M55.0 591.4h0M57.7 594.6h0M30.3 592.4h0M41.3 591.5h0M60.6 594.6h0M39.6 593.9h0M30.9 594.7h0M36.2 595.4h0M56.6 597.8h0M36.1 593.4h0M37.7 592.2h0M23.5 594.4h0M34.5 593.2h0M44.9 589.1h0M69.1 597.7h0M73.2 583.2h0M57.9 596.8h0M23.1 587.6h0M35.3 595.4h0M46.2 595.7h0M30.8 593.1h0M36.9 594.1h0M23.2 593.8h0M40.8 592.3h0M50.7 595.0h0M22.9 594.3h0M27.2 592.4h0M25.6 591.1h0M23.7 595.2h0M37.9 593.8h0M48.5 594.0h0M46.4 590.3h0M28.2 592.5h0M24.8 591.9h0M70.3 598.4h0M41.2 593.2h0M27.6 594.7h0M34.6 594.7h0M38.1 594.1h0M26.0 594.4h0M43.5 592.0h0M50.3 597.2h0M44.5 592.0h0M27.4 594.7h0M33.5 595.4h0M25.4 593.8h0M32.4 592.7h0M24.7 591.0h0M31.7 594.8h0M34.2 594.7h0M24.8 593.3h0M32.5 587.5h0M26.4 591.0h0M50.4 597.2h0M34.5 595.2h0M25.5 589.0h0M27.9 593.5h0M68.5 595.0h0M54.8 597.0h0M47.9 597.1h0M22.7 594.6h0M39.1 596.0h0M37.2 596.0h0M42.6 592.4h0M53.5 594.5h0M38.2 594.4h0M29.6 594.4h0M39.3 595.7h0M39.6 595.3h0M41.3 596.0h0M25.9 595.4h0M46.1 594.4h0M37.1 594.8h0M29.6 592.1h0M27.1 591.4h0M73.6 598.3h0M22.5 595.0h0M54.2 595.3h0M22.6 592.9h0M44.0 596.2h0M35.2 588.2h0M45.4 594.4h0M26.0 593.0h0M27.1 594.2h0M49.3 592.7h0M34.6 595.4h0M30.2 593.9h0M32.3 592.5h0M34.0 593.9h0M39.6 596.1h0M47.4 595.6h0M47.9 593.8h0M22.8 593.5h0M26.7 595.0h0M35.9 583.2h0M35.9 591.0h0M29.4 595.5h0M35.3 595.0h0M70.9 599.8h0M24.4 593.7h0M35.0 594.7h0M40.8 586.9h0M58.9 597.6h0M26.4 594.5h0M46.5 588.3h0" stroke="#f26a55" stroke-width="0.8" stroke-linecap="square"/>
<path d="M46.2 608.2h0M38.5 607.7h0M53.1 607.2h0M38.6 608.3h0M46.9 607.6h0M41.1 608.2h0M23.2 623.8h0M29.0 611.8h0M40.8 607.5h0M69.7 603.8h0M29.4 610.1h0M35.1 611.1h0M25.2 619.4h0M27.6 610.2h0M64.9 606.8h0M45.9 607.2h0M24.6 610.3h0M39.7 610.0h0M69.4 603.8h0M38.3 608.5h0M38.7 610.1h0M50.2 607.9h0M29.3 611.4h0M49.4 606.9h0M56.0 606.7h0M29.5 610.5h0M41.9 608.8h0M32.2 608.3h0M30.5 608.0h0M25.1 614.7h0M64.8 606.7h0M58.9 605.3h0M44.1 609.3h0M48.6 612.3h0M44.7 606.7h0M23.8 608.7h0M28.7 608.6h0M51.2 607.7h0M36.0 613.1h0M58.6 606.8h0M42.9 608.4h0M23.1 610.6h0M54.5 607.8h0M27.8 612.3h0M52.4 609.6h0M38.5 607.3h0M48.9 607.1h0M42.6 607.9h0M41.5 610.2h0M50.1 612.1h0M61.8 605.7h0M51.9 606.3h0M62.5 606.8h0M52.2 607.3h0M27.6 609.7h0M36.1 608.8h0M30.9 608.6h0M48.2 609.4h0M48.8 608.2h0M28.6 610.9h0M32.0 610.2h0M44.2 609.0h0M47.5 607.0h0M30.9 612.6h0M40.7 608.3h0M25.3 608.3h0M26.3 610.3h0M32.0 610.8h0M48.5 609.0h0M55.9 606.0h0M43.3 611.0h0M46.3 611.7h0M51.5 607.5h0M29.8 609.8h0M36.1 608.9h0M27.7 610.1h0M32.8 611.8h0M33.7 607.8h0M26.5 609.3h0M50.8 606.4h0M34.0 612.8h0M22.7 608.4h0M58.3 612.3h0M64.7 605.0h0M41.9 613.4h0M29.4 612.8h0M25.1 608.2h0M45.8 612.7h0M63.8 607.3h0M23.6 611.7h0M31.5 609.7h0M35.7 608.8h0M55.9 609.8h0M51.3 606.8h0M24.0 609.5h0M60.3 611.7h0M34.0 613.1h0M24.8 608.4h0M38.7 609.2h0M35.2 609.2h0M41.3 609.4h0M63.5 604.6h0M28.3 609.3h0M28.7 610.3h0M43.4 609.8h0M26.3 622.7h0M43.7 609.7h0M41.0 611.2h0M56.6 610.3h0M30.2 608.9h0M49.2 607.2h0M32.7 609.7h0M52.0 606.3h0M54.8 605.9h0M47.9 606.6h0M54.0 606.2h0M60.3 607.1h0M26.3 610.1h0M63.8 606.4h0M44.7 609.7h0M35.2 610.9h0M33.6 608.9h0M59.0 605.5h0M27.7 610.9h0M26.7 609.7h0M24.2 609.0h0M30.6 609.5h0M28.8 609.2h0M35.0 608.7h0M36.4 610.0h0M53.5 606.7h0M32.2 608.3h0M68.4 607.4h0M56.6 608.4h0M62.3 605.6h0M42.2 608.2h0M55.0 609.1h0M22.5 608.8h0M39.8 610.5h0M52.0 606.9h0M47.9 607.8h0M26.7 620.1h0M25.3 613.9h0M24.7 608.6h0M40.8 609.1h0M22.5 610.1h0M51.4 612.6h0M39.3 607.9h0M32.0 608.5h0M55.2 608.1h0M32.3 610.2h0M72.6 613.6h0M37.9 615.9h0M29.9 611.4h0M25.0 611.0h0M31.9 610.4h0M33.2 607.8h0M24.6 608.7h0M30.5 609.3h0M37.1 611.0h0M24.0 610.5h0M45.0 612.5h0M24.9 610.3h0M40.7 609.0h0M55.0 617.4h0M32.6 609.0h0M23.2 611.6h0M56.3 607.4h0M44.0 607.3h0M26.7 609.2h0M46.7 608.6h0M48.3 608.4h0M27.3 609.2h0M53.9 607.1h0M24.7 612.0h0M26.3 613.9h0M24.5 614.1h0M48.7 608.7h0M36.3 608.9h0M33.5 607.8h0M28.6 609.0h0M51.0 606.1h0M51.0 608.5h0M33.6 612.4h0M26.6 611.7h0M47.7 606.8h0M32.4 608.0h0M53.9 608.8h0M52.4 613.8h0M23.3 608.3h0M25.8 609.7h0M70.4 612.3h0M42.8 609.0h0M56.3 606.4h0M22.6 608.2h0M47.7 610.9h0M26.7 609.6h0M42.0 610.8h0M34.3 609.8h0M35.2 609.6h0M44.0 607.1h0M34.4 610.8h0M41.1 607.6h0M27.7 610.1h0M43.3 611.3h0M40.6 609.0h0M40.1 608.1h0M32.4 612.0h0M63.3 605.7h0M23.3 609.0h0M63.8 608.4h0M58.0 606.0h0M70.5 603.6h0M25.1 609.4h0M44.8 611.1h0M25.4 609.9h0M55.5 607.7h0M45.3 608.9h0M33.0 610.3h0M65.8 606.1h0M52.9 611.1h0M40.6 607.8h0M44.6 607.7h0M58.3 605.8h0M38.6 609.3h0M28.4 609.1h0M49.4 619.4h0M40.9 609.5h0M32.4 611.5h0M31.9 610.9h0M29.5 612.6h0M55.7 605.8h0M53.2 608.6h0M53.7 607.0h0M38.3 611.7h0M35.8 609.7h0M25.7 611.0h0M54.1 605.9h0M38.1 609.0h0M40.7 608.5h0M23.5 611.6h0M56.4 607.8h0M23.2 610.3h0M36.7 608.1h0M32.1 613.0h0M45.0 608.2h0M24.5 612.9h0M30.8 611.2h0M26.2 610.2h0M58.5 607.3h0M36.3 607.6h0M28.8 611.4h0M65.9 606.3h0M30.0 613.8h0M68.5 606.8h0M46.8 608.2h0M42.9 612.2h0M38.9 618.7h0M63.8 607.4h0M35.5 609.9h0M47.8 607.0h0M42.2 607.1h0M41.5 608.6h0M34.1 612.6h0M69.9 603.8h0M45.0 612.2h0M40.5 608.4h0M48.9 608.8h0M25.0 609.1h0M35.8 609.7h0M35.4 607.7h0M32.4 611.5h0M26.0 610.6h0M29.9 609.1h0M55.0 608.4h0M30.3 608.3h0M36.2 609.5h0M24.3 610.4h0M22.9 608.3h0M39.8 607.4h0M26.5 610.7h0M50.4 608.2h0M28.8 618.0h0M33.8 612.6h0M42.4 609.4h0M61.2 608.2h0M28.4 609.3h0M24.2 609.2h0M34.8 610.0h0M48.8 610.0h0M34.2 608.2h0M40.9 609.5h0M43.7 607.8h0M36.7 608.2h0M25.8 608.7h0M36.8 609.4h0M52.4 608.8h0M65.5 604.8h0M39.3 611.7h0M34.6 613.2h0M36.6 608.2h0M57.9 610.7h0M26.8 609.5h0M35.2 608.6h0M33.0 608.6h0M55.5 605.6h0M23.4 609.8h0M22.9 608.4h0M26.4 609.6h0M40.4 608.0h0M25.7 613.9h0M28.8 608.5h0M60.8 606.4h0M34.3 609.4h0M43.6 609.9h0M46.9 606.8h0M33.7 607.8h0M36.3 610.6h0M36.3 611.8h0M26.1 611.1h0M41.7 611.2h0M72.4 605.7h0M35.3 613.1h0M28.9 610.0h0M43.6 613.8h0M25.6 609.5h0M36.3 610.5h0M22.5 612.8h0M28.7 610.8h0M27.1 609.3h0M46.1 609.4h0M46.9 609.0h0M53.0 613.4h0M23.5 608.2h0M27.5 615.5h0M27.3 609.8h0M36.4 607.8h0M40.2 609.4h0M65.2 606.0h0M23.9 608.8h0M43.0 608.9h0M23.6 611.0h0M38.6 609.5h0M28.0 609.4h0M59.5 607.1h0M24.0 619.6h0M39.7 608.6h0M77.1 604.0h0M41.6 610.2h0M30.7 614.4h0M51.6 609.2h0M32.4 610.8h0M50.8 607.4h0M66.0 604.9h0M27.7 610.4h0M45.7 607.8h0M32.1 611.5h0M57.4 608.1h0M34.1 608.6h0M28.0 612.6h0M40.5 610.5h0M35.3 608.6h0M28.2 610.5h0M41.0 609.3h0M27.9 608.9h0M41.0 611.8h0M28.3 609.1h0M31.9 619.4h0M51.3 618.5h0M71.4 606.3h0M52.4 610.0h0M30.5 614.7h0M36.1 608.3h0M55.8 611.6h0M40.0 607.9h0M50.9 611.7h0M40.7 609.4h0M47.9 608.5h0M26.2 608.9h0M64.7 606.3h0M25.7 608.1h0M23.1 611.6h0M47.5 610.0h0M29.5 610.1h0M31.5 610.6h0M39.4 609.1h0M55.7 606.7h0M52.8 607.6h0M61.7 607.2h0M25.6 608.7h0M61.5 605.2h0M40.0 611.2h0M69.5 609.1h0M58.1 608.2h0M27.3 608.5h0M60.0 605.4h0M41.1 609.5h0M27.5 609.9h0M65.8 606.0h0M32.0 609.9h0M67.1 605.3h0M34.9 609.8h0M57.5 606.3h0M29.0 609.8h0M28.3 609.7h0M36.1 613.3h0M57.9 606.5h0M71.2 603.9h0M52.8 608.1h0M25.1 611.8h0M28.6 609.6h0M37.3 621.7h0M36.2 610.0h0M44.8 608.3h0M28.4 610.3h0M24.3 610.5h0M68.3 605.0h0M45.7 617.6h0M31.3 612.8h0M35.3 611.3h0M39.6 608.5h0M26.6 613.8h0M29.9 609.8h0M28.6 608.3h0M24.6 610.9h0M29.8 613.8h0M41.6 607.7h0M50.2 607.6h0M57.5 605.9h0M39.0 607.9h0M41.6 610.2h0M34.1 609.6h0M43.6 610.3h0M30.1 611.8h0M24.2 608.7h0M24.4 612.5h0M29.0 612.8h0M27.7 613.5h0M50.4 609.1h0M23.2 611.7h0M26.7 614.2h0M23.2 610.3h0M27.4 610.6h0M29.5 614.6h0M49.7 618.1h0M34.2 608.7h0M24.2 608.3h0M24.7 608.4h0M45.1 611.1h0M60.9 610.2h0M27.6 609.5h0M37.9 609.6h0M25.4 609.0h0M38.1 609.8h0M50.0 607.4h0M51.7 611.6h0M41.1 607.7h0M45.5 608.6h0M48.2 611.6h0M22.8 610.0h0M40.0 609.7h0M45.7 607.8h0M46.4 606.8h0M37.2 607.7h0M47.7 615.1h0M31.0 608.7h0M41.4 609.3h0M39.2 615.9h0M55.4 605.7h0M27.7 608.5h0M36.8 609.0h0M47.8 607.0h0M27.4 608.7h0M58.9 607.6h0M32.4 608.9h0M44.0 608.9h0M42.4 610.1h0M30.2 612.2h0M46.8 609.5h0M36.5 608.6h0M40.3 612.6h0M47.5 610.3h0M48.6 608.3h0M49.0 608.8h0M63.8 605.9h0M22.8 610.9h0M22.6 608.3h0M45.3 607.2h0M54.1 606.5h0M32.8 618.5h0M45.5 613.3h0M26.9 608.7h0M26.1 609.3h0M43.1 608.3h0M26.6 608.8h0M37.7 608.3h0M51.9 606.1h0M36.7 608.7h0M33.2 610.1h0M46.3 609.0h0M49.0 606.6h0M44.3 609.4h0M23.1 609.9h0M34.1 609.3h0M36.3 607.9h0M39.0 609.1h0M53.4 609.4h0M56.9 607.5h0M23.4 609.6h0M70.3 607.5h0M53.9 608.6h0M47.2 606.6h0M40.1 608.3h0M34.7 612.8h0M39.1 609.2h0M46.6 608.9h0M51.3 614.8h0M56.8 607.6h0M26.5 608.7h0M35.2 611.4h0M39.0 609.3h0M54.7 607.9h0M30.0 608.6h0M33.2 615.5h0M24.1 611.3h0M43.2 614.2h0M34.1 612.6h0M24.6 608.5h0M63.2 606.3h0M42.2 607.2h0M55.9 606.3h0M52.3 608.5h0M41.3 612.3h0M51.7 608.6h0M29.0 609.9h0M51.6 606.9h0M24.5 612.2h0M46.7 615.8h0M45.9 606.7h0M39.3 608.0h0M66.4 608.2h0M33.7 615.7h0M29.1 612.2h0M28.2 610.1h0M56.3 607.8h0M35.1 609.2h0M50.1 606.7h0M51.8 608.4h0M25.6 611.5h0M53.0 610.4h0M52.4 609.3h0M42.4 609.0h0M41.7 609.1h0M41.1 608.4h0M31.4 610.3h0M42.8 618.1h0M45.5 610.2h0M48.1 609.8h0M31.2 611.2h0M37.0 608.7h0M32.0 613.5h0M28.9 608.5h0M40.5 608.4h0M22.8 609.5h0M61.1 612.4h0M27.6 608.2h0M53.7 605.8h0M62.6 605.6h0M35.8 610.2h0M39.8 612.7h0M23.5 612.3h0M48.9 609.3h0M25.2 618.5h0M37.0 609.5h0M24.0 612.1h0M39.0 608.4h0M39.2 608.9h0M24.1 608.3h0M55.2 608.3h0M45.6 607.0h0M66.8 606.7h0M36.3 610.1h0M53.1 609.6h0M32.7 609.1h0M31.3 610.8h0M22.6 609.5h0M32.5 620.0h0M35.7 615.2h0M49.9 624.2h0M22.9 614.7h0M24.7 610.8h0M66.6 604.7h0M26.0 608.6h0M44.7 613.3h0M29.5 608.7h0M47.0 608.1h0M56.9 609.4h0M37.0 610.9h0M28.7 614.6h0M42.6 609.9h0M47.8 615.2h0M48.4 611.1h0M29.9 608.5h0M39.5 607.7h0M47.7 614.0h0M26.0 608.3h0M58.3 608.4h0M37.2 610.7h0M53.0 607.5h0M33.9 610.5h0M38.4 609.5h0M55.0 606.3h0M26.9 614.6h0M24.3 609.2h0M35.6 607.7h0M48.7 608.0h0M26.6 610.9h0M56.2 613.1h0M40.3 607.7h0M33.7 608.9h0M23.5 612.4h0M76.9 606.1h0M63.0 607.2h0M26.6 611.4h0M57.6 609.2h0M56.6 606.0h0M52.4 610.6h0M27.2 609.3h0M29.2 609.1h0M32.9 613.0h0M48.1 609.6h0M28.0 611.0h0M54.5 606.6h0M44.3 611.1h0M62.2 615.5h0M30.7 610.8h0M32.1 611.0h0M39.1 615.4h0M32.1 613.0h0M39.6 609.2h0M26.4 612.5h0M42.8 614.8h0M32.7 613.6h0M28.8 609.4h0M34.8 611.6h0M71.2 604.6h0M27.9 612.1h0M56.3 611.6h0M57.4 614.8h0M45.0 608.0h0M26.3 610.0h0M23.4 611.6h0M26.6 610.2h0M70.8 607.1h0M37.8 609.0h0M36.5 608.2h0M25.0 615.7h0M62.7 613.6h0M39.5 608.1h0M58.3 606.9h0M42.7 610.9h0M22.8 612.8h0M36.2 609.9h0M35.1 608.6h0M35.4 608.1h0M37.5 609.6h0M62.8 607.4h0M26.9 612.8h0M22.6 608.2h0M56.7 608.2h0M29.9 612.2h0M28.7 609.3h0M28.3 610.6h0M33.0 608.8h0M33.2 607.8h0M31.1 608.6h0M74.7 604.9h0M48.7 608.7h0M23.1 610.9h0M69.2 609.2h0M35.5 614.2h0M30.5 609.1h0M25.0 608.3h0M26.0 609.3h0M41.1 608.4h0M24.7 608.4h0M43.7 610.0h0M26.5 610.5h0M52.5 606.0h0M64.3 606.2h0M48.5 606.5h0M42.7 612.1h0M24.4 610.4h0M26.5 610.0h0M29.2 617.3h0M33.7 611.6h0M34.5 609.2h0M53.2 606.0h0M31.7 621.7h0" stroke="#6a80cc" stroke-width="0.8" stroke-linecap="square"/>
<path d="M28.4 586.5h0M85.2 598.1h0M54.1 625.1h0M30.6 613.0h0M41.9 590.6h0M60.6 609.5h0M44.1 604.7h0M56.8 607.5h0M45.9 619.7h0M72.0 616.0h0M51.3 589.2h0M51.9 600.9h0M69.6 596.4h0M44.4 600.8h0M49.5 608.6h0M46.8 589.6h0M68.8 623.1h0M59.7 617.7h0M59.5 601.6h0M36.1 606.3h0M43.7 606.2h0M47.5 600.6h0M39.4 587.6h0M34.7 583.3h0M35.5 614.0h0M40.0 617.3h0M56.0 582.0h0M31.0 607.5h0M73.7 594.3h0M58.2 595.3h0M39.1 610.5h0M63.3 621.6h0M41.2 611.7h0M55.6 611.8h0M26.1 598.6h0M48.2 606.1h0M46.3 611.6h0M74.5 605.6h0M25.5 596.1h0" stroke="#888" stroke-width="0.6" stroke-linecap="square"/>
<path d="M26.5 608.7h0M36.4 600.8h0M33.2 602.9h0M39.0 610.2h0M27.4 602.1h0M52.4 599.3h0M42.3 602.2h0M27.4 604.6h0M47.7 600.2h0M47.2 597.9h0M31.4 601.6h0M23.4 600.4h0M37.6 602.7h0M35.1 606.8h0M57.5 600.4h0M57.7 602.1h0M60.9 604.1h0M41.8 605.5h0M37.6 597.8h0M49.2 600.0h0M36.6 598.9h0M35.2 604.5h0M58.0 603.1h0M28.6 605.1h0M54.3 604.6h0M43.3 601.4h0M25.9 602.3h0M27.3 605.7h0M30.8 599.4h0M32.2 599.7h0M48.4 601.1h0M64.9 600.9h0M62.6 600.2h0M24.3 603.3h0M32.8 605.5h0M36.8 602.2h0M22.8 600.0h0M51.7 601.7h0M23.7 605.2h0M23.0 607.5h0M33.3 598.6h0M50.4 601.0h0M30.0 604.4h0M31.9 602.3h0M30.5 604.4h0M63.0 600.3h0M24.8 600.8h0M37.0 595.7h0M27.0 595.5h0M66.3 602.6h0M45.8 605.5h0M47.5 598.1h0M42.5 603.5h0M46.9 603.0h0M30.7 596.9h0M39.9 608.5h0M59.8 605.9h0M52.6 603.7h0M35.6 608.6h0M26.6 598.5h0M64.5 602.0h0M52.9 601.3h0M24.5 598.1h0M71.1 602.0h0M58.0 607.5h0M23.2 600.2h0M33.7 600.8h0M44.5 600.8h0M22.7 596.2h0M24.6 599.9h0M29.8 606.5h0M31.0 601.9h0M43.3 602.0h0M29.2 603.4h0M62.9 601.4h0M48.9 606.1h0M29.0 601.7h0M38.2 592.5h0M23.9 597.5h0M40.0 601.7h0M44.7 604.6h0M41.7 606.4h0M23.0 600.3h0M35.4 598.3h0M22.9 605.2h0M53.5 601.2h0M28.9 601.7h0M38.5 604.2h0M28.7 594.4h0M25.7 605.6h0M28.0 602.3h0M25.3 606.1h0M30.1 596.4h0M28.6 605.3h0M37.3 601.5h0M30.5 602.8h0M29.7 605.5h0M26.2 604.0h0M24.0 597.8h0M25.1 596.3h0M58.7 603.0h0M40.6 604.1h0M30.9 602.8h0M29.1 599.0h0M27.2 600.9h0M43.2 600.2h0M61.0 603.3h0M26.5 602.9h0M50.0 600.8h0M55.4 601.7h0M32.7 607.5h0M36.1 610.3h0M45.8 607.2h0M23.9 607.8h0M49.0 605.1h0M28.1 601.3h0M29.1 601.3h0M47.5 603.9h0M37.3 601.7h0M34.7 602.0h0M36.0 600.1h0M28.8 606.7h0M47.6 604.3h0M24.2 602.6h0M35.8 598.4h0M30.8 596.5h0M52.1 598.1h0M37.5 598.6h0M51.7 600.4h0M33.0 600.4h0M43.9 601.6h0M30.6 603.7h0M26.6 604.0h0M34.1 604.3h0M30.0 607.3h0M37.2 603.4h0M77.2 600.4h0M30.6 603.2h0M26.3 602.0h0M42.2 601.3h0M42.0 600.9h0M37.1 597.3h0M63.6 603.0h0M26.7 601.7h0M36.1 603.3h0M44.3 600.8h0M49.9 600.1h0M24.1 603.8h0M49.7 601.5h0M55.0 602.2h0M26.1 606.9h0M27.0 601.4h0M46.7 604.0h0M27.1 609.1h0M43.1 595.4h0M39.6 609.2h0M40.0 600.7h0M49.8 603.3h0M38.3 597.7h0M58.4 601.9h0M47.6 604.7h0M25.0 595.9h0M25.4 602.2h0M23.6 608.1h0M25.1 601.2h0M24.5 602.6h0M50.7 602.1h0M28.2 607.7h0M61.5 599.5h0M23.3 599.0h0M26.2 594.7h0M35.8 602.3h0M23.5 606.0h0M39.0 601.1h0M23.7 607.5h0M34.3 598.5h0M35.2 605.6h0M40.2 597.5h0M59.2 602.2h0M25.7 604.5h0M33.1 601.6h0M41.7 593.3h0M22.7 607.3h0M64.5 601.6h0M28.3 605.3h0M49.7 603.3h0M28.7 598.9h0M30.9 603.8h0M59.2 603.6h0M65.9 603.7h0M28.6 607.1h0M66.1 603.1h0M27.6 592.0h0M31.1 591.2h0M24.7 597.7h0M28.3 597.8h0M65.1 601.7h0M27.1 604.2h0M22.5 605.6h0M23.7 607.1h0M50.2 603.4h0M36.3 595.1h0M38.3 598.3h0M38.2 600.2h0M32.5 599.1h0M25.0 591.5h0M26.5 597.1h0M49.8 603.1h0M40.4 597.7h0M26.1 603.2h0M32.8 600.2h0M60.8 601.4h0M39.0 596.4h0M28.5 601.2h0M37.8 598.7h0M28.1 595.8h0M32.2 610.2h0M32.7 604.7h0M29.1 608.2h0M50.3 603.3h0M43.8 596.0h0M24.6 607.7h0M24.8 601.0h0M24.9 606.3h0M43.1 598.0h0M24.3 611.2h0M37.1 597.6h0M59.1 602.9h0M47.2 599.6h0M24.6 606.3h0M30.9 591.8h0M30.1 603.6h0M27.4 608.3h0M45.5 606.9h0M33.8 602.8h0M28.0 605.8h0M53.7 604.5h0M70.5 600.5h0M36.8 605.0h0M47.9 598.6h0M35.7 602.6h0M27.6 599.2h0M36.8 600.8h0M26.0 605.4h0M28.7 608.9h0M28.4 602.0h0M35.1 606.0h0M25.8 605.8h0M46.2 600.8h0M30.3 608.0h0M31.7 604.8h0M30.8 604.8h0M33.9 596.7h0M40.2 604.6h0M42.5 598.9h0M32.2 601.3h0M22.5 602.0h0M43.2 602.2h0M36.5 601.1h0M35.9 606.1h0M38.7 599.0h0M24.8 595.9h0M68.9 602.5h0M40.0 603.1h0M41.7 601.8h0M47.7 605.3h0M34.7 599.2h0M39.3 601.0h0M46.0 602.7h0M32.9 591.4h0M30.7 603.4h0M34.1 599.5h0M38.0 603.7h0M30.7 608.2h0M37.0 599.5h0M59.9 600.2h0M42.4 604.5h0M22.8 607.5h0M40.8 599.6h0M26.1 609.4h0M39.7 598.3h0M51.3 597.4h0M25.6 606.7h0M37.7 608.0h0M63.6 599.0h0M28.8 598.9h0M35.7 605.5h0M28.1 604.5h0M37.6 598.3h0M39.4 604.2h0M50.2 597.7h0M49.0 600.8h0M25.9 607.2h0M48.5 598.9h0M34.8 597.1h0M78.2 601.5h0M30.9 606.7h0M50.1 598.2h0M31.5 601.5h0M50.8 597.9h0M61.0 602.3h0M47.5 601.1h0M43.1 600.5h0M35.3 600.0h0M33.4 602.9h0M29.4 604.2h0M47.2 598.1h0M45.9 598.4h0M33.3 605.9h0M47.1 604.6h0M36.7 600.6h0M28.6 608.1h0M45.4 600.5h0M28.0 594.6h0M28.5 599.9h0M32.4 596.9h0M39.3 604.4h0M39.6 602.5h0M51.2 598.9h0M40.8 598.1h0M30.8 606.6h0M35.2 593.7h0M50.6 604.3h0M34.3 602.0h0M23.8 599.5h0M25.4 601.4h0M52.4 599.7h0M25.1 604.4h0M38.5 602.9h0M39.5 595.3h0M46.0 606.5h0M32.1 601.3h0M26.8 595.9h0M33.5 605.3h0M24.9 601.9h0M23.9 598.1h0M32.5 606.5h0M25.3 608.9h0M22.9 601.6h0M23.5 597.0h0M31.6 600.2h0M45.1 605.2h0M25.5 601.1h0M48.7 601.0h0M25.5 602.4h0M44.2 601.7h0M27.3 603.3h0M27.1 597.5h0M45.4 603.1h0M26.2 602.8h0M28.0 598.3h0M56.3 593.9h0M27.0 603.1h0M44.0 598.7h0M28.7 600.7h0M31.4 604.8h0M27.8 601.9h0M33.9 609.3h0M61.5 600.9h0M68.9 603.0h0M34.5 603.4h0M39.6 595.6h0M45.5 602.6h0M45.2 600.7h0M40.2 604.6h0M46.4 600.6h0M41.5 605.9h0M60.0 605.0h0M44.0 602.3h0M34.7 603.7h0M43.1 599.9h0M31.3 594.0h0M23.3 597.7h0M37.9 597.6h0M24.7 605.3h0M23.4 595.6h0M24.3 596.3h0M45.6 602.2h0M28.9 606.3h0M46.0 601.6h0M60.4 601.8h0M29.6 604.7h0M49.0 600.3h0M23.9 601.0h0M39.5 599.6h0M23.3 599.6h0M41.5 599.2h0M25.3 607.6h0M66.1 601.7h0M31.5 608.1h0M23.3 603.8h0M23.6 606.4h0M38.4 601.3h0M23.5 604.3h0M50.2 597.0h0M26.3 595.4h0M37.7 604.5h0M40.9 605.1h0M44.8 603.3h0M28.7 605.8h0M25.0 600.1h0M37.6 605.0h0M53.0 599.2h0M26.2 597.1h0M57.6 602.5h0M37.8 603.0h0M26.7 602.1h0M36.3 603.8h0M48.0 600.3h0M55.0 598.5h0M35.8 601.9h0M23.3 601.8h0M28.0 594.4h0M54.2 602.0h0M35.1 596.5h0M27.1 609.0h0M41.4 599.1h0M48.1 601.4h0M53.1 600.5h0M34.9 600.4h0M27.5 599.4h0M32.4 608.2h0M67.5 602.7h0M63.1 605.6h0M31.6 603.4h0M69.5 600.6h0M28.8 599.3h0M25.4 596.7h0M37.9 609.9h0M22.8 611.6h0M25.5 593.8h0M37.2 601.7h0M70.5 602.2h0M23.9 600.1h0M30.1 600.9h0M37.9 598.8h0M25.4 605.7h0M24.6 603.5h0M38.2 597.5h0M67.8 600.3h0M23.9 606.1h0M41.6 604.8h0M27.5 599.0h0M25.2 599.3h0M41.1 604.1h0M30.1 605.1h0M75.5 603.2h0M24.2 599.3h0M43.3 603.7h0M22.7 598.3h0M37.1 603.3h0M30.2 610.5h0M37.4 606.9h0M23.5 602.6h0M52.5 603.6h0M30.5 589.7h0M38.5 605.0h0M44.1 604.6h0M29.8 601.4h0M42.4 612.1h0M28.4 599.6h0M36.6 599.6h0M38.6 607.3h0M42.0 601.6h0M29.2 604.2h0M53.8 601.7h0M30.5 600.8h0M30.7 599.2h0M30.5 600.2h0M24.3 604.1h0M27.0 599.5h0M64.8 602.6h0M43.3 600.8h0M34.1 606.8h0M28.3 601.3h0M26.7 600.7h0M28.6 604.8h0M64.7 602.7h0M26.3 601.2h0M33.9 605.1h0M29.8 602.0h0M28.4 594.6h0M42.4 597.4h0M32.3 602.3h0M33.4 606.7h0M33.0 599.7h0M29.3 600.7h0M34.1 602.3h0M46.9 594.4h0M31.0 601.2h0M46.6 599.3h0M22.7 599.4h0M28.1 599.5h0M28.0 601.0h0M33.3 601.7h0M28.8 604.0h0M45.4 601.4h0M29.2 605.1h0M68.5 600.8h0M24.7 602.5h0" stroke="#000" stroke-width="0.9" stroke-linecap="square"/>
<path d="M22.5 595.7 C54.1 596 68.5 598 77 601.8 C68.5 605.6 54.1 607.6 22.5 607.9Z" fill="#000"/>
<text x="72.5" y="586.7" font-size="6.4" text-anchor="middle" fill="#e0352f" stroke="#e0352f" stroke-width="0.16"><tspan font-weight="bold">UP</tspan> 860 genes</text>
<text x="72.5" y="620.3" font-size="6.4" text-anchor="middle" fill="#2f44a0" stroke="#2f44a0" stroke-width="0.16"><tspan font-weight="bold">DN</tspan> 960 genes</text>
<line x1="103.3" y1="578" x2="103.3" y2="629.5" stroke="#333" stroke-width="0.6"/>
<line x1="101.7" y1="579" x2="103.3" y2="579" stroke="#333" stroke-width="0.6"/>
<text x="100.7" y="580.8" font-size="5" text-anchor="end" fill="#444" stroke="#444" stroke-width="0.12">5</text>
<line x1="101.7" y1="603" x2="103.3" y2="603" stroke="#333" stroke-width="0.6"/>
<text x="100.7" y="604.8" font-size="5" text-anchor="end" fill="#444" stroke="#444" stroke-width="0.12">0</text>
<line x1="101.7" y1="626.8" x2="103.3" y2="626.8" stroke="#333" stroke-width="0.6"/>
<text x="100.7" y="628.6" font-size="5" text-anchor="end" fill="#444" stroke="#444" stroke-width="0.12">-5</text>
<line x1="103.3" y1="629.5" x2="174.4" y2="629.5" stroke="#333" stroke-width="0.6"/>
<line x1="113.5" y1="629.5" x2="113.5" y2="631.1" stroke="#333" stroke-width="0.6"/>
<text x="113.5" y="637.4" font-size="5.3" text-anchor="middle" fill="#333" stroke="#333" stroke-width="0.13">5</text>
<line x1="134.3" y1="629.5" x2="134.3" y2="631.1" stroke="#333" stroke-width="0.6"/>
<text x="134.3" y="637.4" font-size="5.3" text-anchor="middle" fill="#333" stroke="#333" stroke-width="0.13">10</text>
<line x1="155" y1="629.5" x2="155" y2="631.1" stroke="#333" stroke-width="0.6"/>
<text x="155" y="637.4" font-size="5.3" text-anchor="middle" fill="#333" stroke="#333" stroke-width="0.13">15</text>
<text x="139" y="556.1" font-size="7.7" text-anchor="middle" stroke="#1a1a1a" stroke-width="0.19">c-FOS/Afatinib</text>
<text x="139" y="565.1" font-size="7.7" text-anchor="middle" stroke="#1a1a1a" stroke-width="0.19">vs c-FOS/DMSO</text>
<path d="M112.0 596.1h0M134.5 598.6h0M139.0 598.7h0M136.1 598.3h0M108.8 595.3h0M115.2 596.5h0M112.1 597.1h0M124.3 597.1h0M115.7 597.1h0M110.3 596.6h0M141.9 599.5h0M117.8 597.1h0M116.4 597.8h0M145.0 598.6h0M113.3 597.0h0M138.2 598.8h0M110.9 597.4h0M119.2 597.0h0M150.7 600.5h0M114.2 597.1h0M136.6 598.9h0M128.5 598.0h0M119.9 597.4h0M123.4 592.1h0M113.1 597.6h0M119.6 596.8h0M153.0 599.0h0M109.5 597.6h0M139.2 599.1h0M142.2 597.9h0M124.6 598.3h0M123.3 598.2h0M152.3 599.2h0M113.6 597.5h0M128.7 596.7h0M153.2 599.9h0M115.0 597.6h0M131.8 594.8h0M108.7 596.5h0M131.7 596.6h0M114.7 594.6h0M132.7 596.6h0M108.3 596.2h0M109.5 592.7h0M137.6 598.6h0M107.3 597.0h0M107.7 597.0h0M137.4 599.2h0M132.5 598.9h0M109.1 593.0h0M110.3 595.2h0M139.2 597.7h0M118.3 597.5h0M117.6 594.8h0M129.6 598.6h0M110.8 597.0h0M110.7 596.0h0M139.3 597.3h0M113.1 597.4h0M115.7 593.9h0M118.7 597.1h0M109.4 597.5h0M110.4 597.3h0M145.4 598.3h0M107.0 596.6h0M134.2 597.6h0M133.1 597.9h0M140.3 599.5h0M123.4 597.3h0M110.6 597.2h0M128.0 596.5h0M123.6 598.0h0M108.6 597.1h0M118.5 593.1h0M132.7 592.7h0M125.3 597.9h0M111.8 596.8h0M118.4 597.0h0M119.5 597.5h0M109.8 595.8h0M118.9 597.1h0M113.6 597.7h0M137.8 598.8h0M128.0 597.4h0M123.1 597.5h0M147.0 597.9h0M139.7 598.9h0M110.8 596.4h0M127.2 597.7h0M145.1 597.0h0M111.2 596.2h0M118.5 596.6h0M137.9 599.2h0M145.0 599.6h0M110.7 596.6h0M139.5 598.6h0M106.6 594.0h0M134.5 598.4h0M123.6 596.0h0M136.3 591.4h0M109.5 597.0h0M108.4 596.9h0M127.9 597.5h0M112.6 595.7h0M120.2 597.2h0M128.7 598.1h0M141.3 597.9h0M124.7 597.8h0M121.1 598.1h0M137.8 598.1h0M118.4 597.8h0M123.8 595.8h0M132.7 598.4h0M131.6 597.2h0M125.1 595.5h0M111.8 597.3h0M119.5 597.9h0M109.8 596.3h0M110.2 595.8h0M127.1 594.4h0M127.1 598.3h0M126.3 597.2h0M111.9 596.6h0M121.0 597.3h0M137.4 598.6h0M113.4 596.7h0M126.9 596.8h0M129.4 597.4h0M140.9 595.5h0M130.9 598.8h0M110.2 597.0h0M110.3 597.0h0M138.0 596.3h0M122.0 598.1h0M144.9 597.1h0M110.4 597.2h0M128.7 598.5h0M112.4 597.1h0M115.0 593.7h0M120.6 597.3h0M111.0 597.0h0M129.4 598.0h0M119.2 597.9h0M126.1 598.0h0M134.1 594.7h0M111.1 596.4h0M123.2 597.7h0M114.1 597.5h0M136.2 599.0h0M132.9 597.2h0M114.5 596.9h0M125.1 597.7h0M109.0 591.9h0M127.7 598.5h0M109.9 597.0h0M131.3 595.3h0M115.6 595.9h0M153.2 599.5h0M108.0 597.0h0M110.9 597.2h0M125.6 598.4h0M143.0 597.5h0M137.4 597.0h0M117.5 597.7h0M119.6 593.8h0M121.2 596.2h0M107.3 597.1h0M144.4 599.6h0M129.0 597.9h0M107.3 597.0h0M125.4 595.0h0M115.1 596.9h0M130.6 597.5h0M125.5 598.0h0M136.3 597.8h0M117.2 596.3h0M112.5 597.6h0M139.8 594.4h0M116.3 597.5h0M124.8 598.3h0M130.6 598.0h0M132.0 596.2h0M138.6 599.2h0M127.0 598.2h0M115.3 597.8h0M108.8 595.4h0M121.2 597.7h0M146.6 599.7h0M124.2 598.0h0M123.9 597.2h0M119.1 596.9h0M129.4 597.6h0M108.1 596.1h0M111.7 593.6h0M106.9 596.9h0M112.4 596.9h0M113.5 595.8h0M118.4 597.4h0M115.4 595.2h0M121.4 597.8h0M117.1 595.9h0M110.4 597.1h0M111.1 597.0h0M132.3 598.3h0M115.3 597.1h0M128.5 597.6h0M143.5 599.7h0M153.9 599.6h0M110.1 597.1h0M121.2 597.6h0M110.1 597.4h0M110.0 596.8h0M131.1 598.2h0M143.3 599.2h0M117.6 595.9h0M139.2 599.2h0M118.9 597.5h0M118.8 595.1h0M117.7 593.5h0M145.8 599.2h0M119.2 592.7h0M156.2 600.5h0M114.4 597.3h0M143.2 599.5h0M119.9 597.7h0M131.9 598.7h0M146.2 599.5h0M121.7 596.5h0M116.1 593.8h0M129.3 597.8h0M144.4 598.7h0M106.6 596.9h0M118.0 596.3h0M112.5 597.6h0M119.4 595.5h0M115.8 594.1h0M120.8 597.7h0M146.1 600.0h0M159.9 601.5h0M135.6 596.9h0M138.2 599.2h0M114.0 597.5h0M112.9 596.3h0M134.3 597.0h0M110.8 596.1h0M138.5 598.8h0M126.4 596.6h0M142.7 596.8h0M133.7 597.3h0M149.9 600.3h0M121.8 597.7h0M127.6 598.0h0M124.2 597.0h0M109.4 595.8h0M118.8 596.1h0M124.0 596.7h0M129.3 597.0h0M116.7 596.8h0M113.9 596.9h0M133.9 597.9h0M130.1 597.3h0M155.7 600.3h0M147.6 597.2h0M128.5 598.4h0M112.3 597.1h0M126.8 598.2h0M136.6 598.4h0M125.0 598.3h0M145.4 599.3h0M112.7 596.5h0M131.8 598.5h0M126.3 596.9h0M122.1 598.0h0M130.4 594.2h0M128.5 596.8h0M116.9 595.4h0M143.3 599.7h0M134.2 597.4h0M139.0 598.6h0M107.1 595.1h0M131.4 593.8h0M124.7 596.0h0M107.1 596.3h0M112.8 597.3h0M132.7 597.8h0M111.5 595.6h0M135.1 598.5h0M151.1 596.4h0M112.7 597.1h0M118.0 597.2h0M134.9 598.9h0M106.6 596.9h0M118.8 597.3h0M118.8 596.8h0M119.7 597.4h0M107.2 596.2h0M111.6 596.7h0M136.6 599.0h0M132.6 598.7h0M118.7 596.1h0M119.5 597.6h0M126.5 597.9h0M135.3 599.1h0M123.1 596.9h0M112.1 597.0h0M108.1 597.0h0M111.8 595.2h0M130.2 598.6h0M134.9 598.9h0M121.1 597.2h0M106.6 594.6h0M125.0 598.0h0M139.1 599.4h0M118.2 596.4h0M120.1 597.7h0M132.5 594.7h0M116.2 596.2h0M130.0 596.9h0M115.9 597.5h0M127.0 597.9h0M116.5 597.8h0M136.9 597.4h0M134.3 597.3h0M121.6 596.6h0M126.6 596.0h0M117.3 597.4h0M107.8 592.3h0M126.4 595.8h0M111.5 597.6h0M107.8 593.1h0M135.0 598.7h0M121.0 598.0h0M110.2 593.9h0M120.8 597.7h0M146.5 600.1h0M119.8 594.5h0M131.8 598.7h0M109.1 595.0h0M129.2 598.5h0M146.5 600.0h0M149.9 599.6h0M142.1 596.7h0M146.7 598.1h0M113.1 597.6h0M145.4 599.2h0M109.6 597.1h0M144.7 598.6h0M160.1 600.0h0M147.9 597.4h0M113.8 597.3h0M127.7 596.8h0M114.1 597.3h0M130.4 598.0h0M118.4 597.4h0M132.7 598.9h0M141.6 599.1h0M123.2 596.6h0M113.7 597.7h0M119.8 595.5h0M131.7 598.5h0M106.7 597.1h0M109.2 596.2h0M146.6 599.7h0M115.1 596.5h0M122.3 596.8h0M114.2 596.6h0M113.1 597.3h0M114.6 597.0h0M132.2 597.5h0M111.6 597.2h0M125.1 598.1h0M125.4 597.8h0M135.4 599.2h0M143.8 598.8h0M144.7 599.0h0M114.3 597.4h0M146.1 599.8h0M134.9 597.1h0M122.5 597.7h0M108.0 596.4h0M126.5 597.0h0M119.1 596.2h0M123.1 598.2h0M120.9 597.3h0M129.6 598.3h0M136.0 599.1h0M124.2 597.3h0M135.0 599.1h0M113.4 596.1h0M110.7 594.1h0M149.5 598.1h0M118.1 597.1h0M113.8 597.4h0M119.4 596.1h0M117.1 596.7h0M141.3 599.5h0M150.2 594.6h0M123.5 597.1h0M142.6 599.4h0M120.6 598.0h0M136.9 598.0h0M121.3 596.9h0M142.6 599.4h0M140.6 596.4h0M133.4 597.9h0M119.3 597.5h0M138.3 599.3h0M109.0 597.0h0M109.8 588.2h0M149.8 600.5h0M146.3 599.8h0M108.1 596.4h0M125.1 597.7h0M124.2 596.2h0M117.7 595.5h0M125.5 598.3h0M138.7 599.1h0M111.9 596.7h0M113.4 597.5h0M132.7 598.6h0M114.0 596.2h0M138.4 598.3h0M131.5 598.3h0M111.0 595.0h0M116.5 597.2h0M129.5 597.7h0M156.8 597.4h0M107.1 593.7h0M116.1 596.9h0M143.2 599.7h0M142.8 598.4h0M109.7 596.3h0M126.8 598.4h0M128.4 598.0h0M127.3 597.8h0M136.7 599.3h0M139.9 598.2h0M150.2 600.2h0M142.1 597.2h0M144.7 599.7h0M107.8 597.1h0M137.3 598.7h0M143.6 599.3h0M114.4 597.4h0M114.7 597.1h0M114.6 596.8h0M120.4 596.7h0M128.9 598.6h0M138.5 597.8h0M124.5 598.1h0M133.2 598.1h0M137.4 598.5h0M134.8 597.8h0M126.7 597.2h0M149.3 600.0h0M108.4 596.7h0M122.6 594.1h0M108.9 597.2h0M134.9 599.0h0M157.7 601.3h0M114.6 596.3h0M125.5 597.7h0M124.6 598.2h0M113.2 597.1h0M108.5 597.5h0M116.1 597.7h0M108.9 591.6h0M109.7 596.0h0M107.7 594.4h0M136.1 597.6h0M133.0 598.1h0M125.1 594.7h0M112.8 597.7h0M126.7 598.0h0M135.1 598.1h0M132.4 598.5h0M116.8 596.9h0M147.4 598.0h0M131.1 597.8h0M133.1 598.7h0M140.9 598.2h0M113.0 596.7h0M113.0 593.8h0M113.0 596.9h0M112.0 597.4h0M127.0 598.0h0M134.1 598.6h0M120.7 597.6h0M152.0 597.8h0M136.4 599.1h0M117.8 597.3h0M127.4 596.9h0M106.9 597.2h0M115.8 595.2h0M110.3 597.3h0M122.1 597.4h0M132.9 598.4h0M141.0 599.2h0M116.0 594.5h0M129.7 597.1h0" stroke="#f26a55" stroke-width="0.8" stroke-linecap="square"/>
<path d="M135.0 606.5h0M128.7 607.3h0M141.5 605.7h0M141.2 611.1h0M135.2 607.0h0M124.6 608.0h0M135.6 607.3h0M111.5 608.8h0M110.7 608.5h0M112.5 609.6h0M124.8 608.8h0M154.5 605.1h0M148.0 604.8h0M108.4 609.9h0M151.2 605.6h0M109.6 611.9h0M110.0 608.0h0M111.0 608.8h0M118.2 608.1h0M154.9 608.4h0M112.0 610.4h0M139.3 607.0h0M107.0 608.0h0M114.8 609.4h0M119.3 610.9h0M130.5 606.4h0M139.6 605.9h0M109.3 607.4h0M108.0 608.6h0M127.5 607.6h0M114.0 608.6h0M124.6 607.5h0M124.9 607.2h0M144.2 606.9h0M126.0 611.4h0M160.8 605.0h0M133.1 607.5h0M115.0 607.4h0M130.3 610.7h0M124.5 606.8h0M122.9 611.4h0M130.7 611.2h0M120.2 609.3h0M134.4 608.4h0M114.3 608.5h0M118.0 609.6h0M108.8 608.3h0M131.2 608.8h0M138.2 611.4h0M143.6 605.6h0M107.9 607.5h0M130.6 606.9h0M110.2 610.0h0M116.6 612.8h0M110.9 608.4h0M110.7 608.8h0M142.0 607.2h0M114.6 610.1h0M120.7 607.5h0M127.9 608.7h0M118.6 608.1h0M107.2 610.4h0M137.1 606.3h0M113.0 608.7h0M133.3 606.8h0M138.0 605.6h0M120.2 607.5h0M115.8 610.4h0M150.6 605.1h0M142.7 606.3h0M109.0 607.9h0M110.1 607.6h0M124.0 609.7h0M108.8 608.3h0M128.7 606.8h0M110.4 611.6h0M111.9 612.6h0M110.9 608.0h0M109.5 607.5h0M108.3 607.4h0M116.5 607.8h0M143.2 609.6h0M130.9 607.6h0M120.8 607.2h0M154.1 604.2h0M124.5 607.5h0M118.1 607.9h0M130.4 607.0h0M141.1 606.4h0M136.6 605.8h0M137.6 605.8h0M124.6 607.7h0M147.6 604.9h0M143.2 605.9h0M109.4 612.2h0M124.6 606.8h0M121.7 607.8h0M107.5 610.7h0M142.9 606.3h0M143.6 607.2h0M126.4 610.3h0M125.1 606.7h0M113.4 607.4h0M122.5 607.7h0M148.9 604.8h0M117.9 607.1h0M129.2 606.4h0M127.6 607.7h0M128.7 607.2h0M152.1 605.8h0M111.1 607.4h0M129.2 607.6h0M120.7 610.4h0M106.8 608.3h0M113.1 608.2h0M114.8 608.6h0M108.9 610.8h0M124.8 608.3h0M122.2 607.8h0M115.6 610.2h0M149.3 605.0h0M123.1 608.3h0M133.1 606.8h0M137.4 606.5h0M130.4 606.2h0M119.2 608.4h0M122.8 612.1h0M119.0 608.6h0M139.8 606.5h0M129.5 607.3h0M106.8 609.1h0M113.6 607.6h0M110.2 607.5h0M123.4 607.7h0M122.9 607.0h0M144.4 605.5h0M117.4 608.2h0M108.3 609.2h0M112.7 608.2h0M133.4 606.4h0M119.9 610.8h0M134.5 606.2h0M130.7 610.1h0M123.3 609.4h0M158.9 605.6h0M118.0 607.7h0M148.0 605.2h0M109.5 607.5h0M115.9 608.9h0M118.3 608.2h0M118.9 608.4h0M129.9 606.7h0M135.0 607.3h0M132.9 608.8h0M108.7 609.0h0M124.6 606.8h0M111.9 608.6h0M115.9 607.7h0M119.4 607.0h0M155.8 604.9h0M116.4 611.1h0M115.1 608.0h0M111.5 608.5h0M107.7 607.9h0M142.5 605.7h0M149.9 608.7h0M110.5 610.7h0M144.0 606.5h0M107.7 612.3h0M131.4 607.0h0M112.5 608.4h0M123.3 614.3h0M127.1 607.3h0M107.3 608.5h0M135.5 606.1h0M130.4 608.8h0M138.9 607.8h0M113.0 607.5h0M129.9 606.7h0M112.4 607.8h0M117.6 607.5h0M133.4 606.3h0M116.0 607.9h0M120.3 607.6h0M108.4 610.4h0M110.2 611.9h0M107.2 608.8h0M140.9 606.1h0M117.3 610.2h0M114.4 608.6h0M114.0 608.2h0M122.8 607.7h0M114.2 607.2h0M140.3 606.5h0M127.3 607.3h0M115.7 608.1h0M124.3 607.3h0M106.9 609.4h0M121.2 607.3h0M125.3 608.8h0M106.7 609.2h0M148.5 604.9h0M127.0 607.4h0M106.6 607.5h0M134.6 607.1h0M146.2 607.9h0M109.7 607.6h0M136.6 606.0h0M131.4 607.1h0M153.6 605.7h0M134.1 609.6h0M129.7 608.5h0M132.3 607.7h0M112.5 607.7h0M128.9 606.6h0M120.2 607.8h0M127.0 608.4h0M110.2 610.3h0M121.8 608.6h0M114.3 609.1h0M130.2 606.4h0M118.3 609.1h0M159.7 604.1h0M145.0 605.8h0M127.9 607.7h0M124.2 607.4h0M129.2 606.4h0M128.9 606.4h0M121.4 607.8h0M110.7 609.8h0M113.6 607.4h0M134.0 608.3h0M111.3 608.2h0M117.3 607.1h0M152.1 604.8h0M123.5 607.9h0M113.3 607.4h0M130.7 606.7h0M125.7 608.0h0M113.3 612.5h0M113.0 610.0h0M132.6 606.8h0M129.2 606.4h0M121.7 607.0h0M123.0 607.2h0M127.3 607.8h0M134.1 606.0h0M107.3 609.0h0M111.6 608.3h0M114.5 608.4h0M156.2 604.3h0M113.7 608.0h0M115.3 609.3h0M110.0 608.8h0M145.7 609.2h0M132.9 606.4h0M118.0 611.4h0M114.9 607.7h0M109.4 607.7h0M140.3 606.6h0M144.2 606.7h0M158.3 605.7h0M135.1 605.9h0M108.1 607.9h0M137.4 607.2h0M109.6 614.6h0M109.4 608.3h0M141.9 605.3h0M113.5 608.6h0M121.4 608.8h0M151.9 604.3h0M117.1 607.6h0M108.0 608.1h0M118.7 607.2h0M117.3 609.2h0M120.2 607.5h0M127.7 608.0h0M144.3 609.5h0M153.7 604.7h0M119.6 607.2h0M111.9 609.0h0M110.4 611.3h0M122.9 608.2h0M109.1 608.3h0M150.1 605.6h0M122.8 608.0h0M135.1 605.9h0M137.2 606.1h0M113.6 608.0h0M128.7 607.2h0M119.8 607.4h0M111.1 608.3h0M117.5 607.2h0M111.8 607.7h0M120.2 607.7h0M140.3 608.1h0M122.2 608.4h0M134.3 607.7h0M106.7 608.1h0M158.1 606.1h0" stroke="#6a80cc" stroke-width="0.8" stroke-linecap="square"/>
<path d="M146.5 600.1h0M148.9 585.4h0M142.8 589.2h0M120.8 603.2h0M109.4 621.4h0M109.7 621.6h0M144.3 614.9h0M156.7 597.6h0M116.8 616.4h0M163.4 616.2h0M133.5 609.4h0M158.6 598.4h0M141.4 608.3h0M111.6 598.9h0M158.8 615.0h0M139.6 613.2h0M139.2 609.3h0M150.3 613.4h0M163.8 606.4h0M164.1 596.8h0M150.4 610.3h0M154.9 598.4h0M151.7 600.5h0M134.9 610.2h0M147.5 612.9h0M118.9 612.0h0M147.5 607.7h0M146.2 589.4h0M120.4 592.9h0M135.3 612.8h0M154.8 608.4h0M134.0 610.5h0M121.6 612.7h0M118.4 615.4h0M157.7 595.7h0M145.2 599.4h0M145.1 593.6h0M153.1 595.5h0M152.0 610.9h0" stroke="#888" stroke-width="0.6" stroke-linecap="square"/>
<path d="M112.4 603.8h0M115.0 605.3h0M122.8 600.9h0M129.8 600.3h0M136.4 599.7h0M108.6 602.8h0M114.0 608.5h0M112.9 605.4h0M106.7 602.1h0M130.7 602.6h0M139.5 601.4h0M107.7 600.9h0M116.6 604.4h0M122.6 603.4h0M138.5 601.7h0M123.3 603.6h0M147.0 602.7h0M128.9 601.2h0M119.6 602.2h0M115.2 599.9h0M120.8 599.2h0M121.0 597.6h0M119.8 599.6h0M107.4 611.6h0M145.4 601.4h0M132.6 601.0h0M131.7 598.1h0M136.0 603.0h0M141.5 605.1h0M136.4 603.0h0M114.2 602.0h0M133.1 599.9h0M108.8 607.4h0M151.2 603.5h0M129.4 604.5h0M122.1 606.5h0M144.9 601.0h0M131.7 601.1h0M111.5 605.7h0M118.8 599.4h0M107.5 603.3h0M124.8 598.6h0M148.4 600.6h0M123.9 600.3h0M149.1 600.6h0M115.5 599.7h0M117.8 601.7h0M122.4 606.1h0M111.8 604.3h0M130.1 600.8h0M138.0 602.6h0M134.3 603.9h0M109.2 602.7h0M125.1 600.2h0M128.1 601.4h0M114.3 599.5h0M114.7 600.9h0M125.0 602.6h0M121.0 601.2h0M129.9 604.6h0M141.3 600.4h0M122.8 605.6h0M122.3 607.6h0M147.0 603.8h0M124.5 600.9h0M118.0 603.9h0M122.3 600.0h0M112.4 608.0h0M153.3 601.4h0M109.9 606.4h0M130.5 602.4h0M115.3 602.0h0M123.5 598.8h0M122.8 602.2h0M112.8 608.0h0M120.7 606.6h0M126.9 600.2h0M121.3 598.0h0M138.4 602.3h0M106.7 599.0h0M128.3 608.3h0M130.4 602.0h0M108.9 605.7h0M122.3 597.5h0M112.8 602.4h0M134.0 605.2h0M109.5 602.3h0M121.1 601.7h0M127.1 598.8h0M146.4 603.2h0M123.9 603.1h0M118.6 603.0h0M120.4 603.9h0M143.8 600.2h0M115.5 601.2h0M125.2 599.0h0M132.3 603.1h0M107.9 605.6h0M115.7 599.1h0M109.0 604.4h0M114.4 600.6h0M117.4 600.2h0M142.4 602.5h0M123.9 604.1h0M119.6 602.9h0M110.0 603.0h0M129.5 603.2h0M133.1 606.1h0M146.7 601.5h0M124.6 603.4h0M126.2 605.5h0M118.8 600.8h0M110.4 603.2h0M121.3 606.3h0M126.2 602.8h0M120.6 603.9h0M123.6 608.5h0M109.4 604.1h0M140.2 603.8h0M141.9 602.1h0M112.3 608.0h0M128.9 600.7h0M107.6 597.0h0M110.6 602.3h0M142.5 602.4h0M112.8 604.3h0M126.4 601.1h0M113.1 605.0h0M115.9 600.9h0M108.6 601.0h0M126.2 605.0h0M114.2 603.9h0M121.9 602.3h0M135.1 603.9h0M124.8 600.9h0M128.9 601.3h0M134.7 601.2h0M111.6 602.3h0M119.6 599.6h0M123.8 602.7h0M116.6 599.0h0M118.0 603.0h0M133.5 600.5h0M138.7 603.2h0M117.4 601.6h0M114.0 597.5h0M107.8 607.3h0M123.5 600.0h0M136.2 602.4h0M118.9 600.7h0M151.3 602.9h0M116.5 602.6h0M106.5 606.4h0M115.0 601.7h0M119.0 602.8h0M116.6 604.6h0M121.0 601.8h0M114.0 604.5h0M111.3 598.5h0M136.9 603.3h0M121.5 602.1h0M108.1 606.6h0M108.2 607.4h0M121.4 604.5h0M122.4 598.2h0M108.3 601.3h0M111.6 604.2h0M127.8 597.0h0M140.9 598.8h0M133.1 600.7h0M119.4 597.6h0M118.8 606.8h0M119.8 605.5h0M123.4 600.5h0M108.5 598.5h0M132.4 599.3h0M115.7 598.0h0M131.8 601.7h0M137.7 600.4h0M125.0 600.0h0M114.0 610.7h0M125.6 601.0h0M108.5 605.4h0M127.2 604.9h0M115.4 600.9h0M114.0 607.0h0M114.6 603.9h0M108.6 607.7h0M122.6 599.9h0M114.8 607.2h0M114.8 602.5h0M108.5 603.6h0M119.5 598.7h0M112.9 600.8h0M110.1 596.2h0M112.6 601.3h0M118.1 603.8h0M117.9 603.0h0M132.7 599.8h0M124.7 603.1h0M139.5 601.7h0M110.3 601.0h0M137.4 602.8h0M108.1 602.6h0M119.9 601.5h0M116.3 606.0h0M140.4 606.5h0M120.1 602.9h0M132.2 605.4h0M133.8 604.9h0M147.4 601.6h0M131.2 604.2h0M110.9 601.0h0M110.8 601.7h0M108.1 606.9h0M119.3 603.8h0M110.9 601.0h0M126.9 602.6h0M108.9 602.0h0M150.5 601.8h0M114.9 602.3h0M115.9 603.1h0M126.5 603.3h0M108.5 612.0h0M114.8 600.7h0M112.3 603.9h0M136.9 603.5h0M126.8 603.0h0M117.6 603.7h0M122.3 599.9h0M151.7 604.5h0M130.2 602.6h0M115.4 601.5h0M141.3 603.7h0M123.2 601.9h0M120.2 602.3h0M123.3 601.7h0M115.6 600.1h0M122.4 609.3h0M108.9 599.9h0M120.6 602.4h0M122.0 601.9h0M121.8 604.8h0M110.0 599.2h0M119.6 606.9h0M125.5 601.4h0M123.1 603.0h0M137.1 604.4h0M108.3 601.4h0M132.9 604.1h0M140.8 601.5h0M123.3 597.2h0M130.8 600.4h0M120.4 608.9h0M115.3 602.0h0M155.7 602.0h0M111.5 608.7h0M126.9 600.1h0M114.1 603.0h0M113.6 603.7h0M124.5 601.6h0M123.3 609.1h0M114.5 600.6h0M126.7 601.3h0M119.8 607.6h0M150.9 602.5h0M125.5 600.9h0M124.7 601.5h0M114.5 602.2h0M124.1 601.8h0M139.6 600.2h0M129.7 597.8h0M117.2 599.5h0M108.0 598.4h0M125.3 601.0h0M120.7 604.3h0M154.3 602.2h0M108.2 605.2h0M107.1 602.9h0M111.5 605.5h0M123.7 601.7h0M108.0 603.6h0M114.2 606.6h0M107.8 604.6h0M112.3 605.2h0M109.4 602.8h0M130.7 599.7h0M140.0 602.6h0M123.7 599.8h0M107.9 602.6h0M116.1 603.8h0M125.1 600.3h0M147.3 602.0h0M111.1 604.2h0M139.7 604.9h0M108.4 605.7h0M128.3 598.4h0M123.5 605.8h0M135.6 601.5h0M130.1 599.2h0M115.3 602.0h0M110.0 601.0h0M124.4 602.0h0M117.0 605.2h0M127.7 598.8h0M110.4 606.2h0M114.0 604.6h0M106.7 603.3h0M106.7 603.3h0M117.5 605.4h0M116.4 604.9h0M120.1 601.2h0M107.5 603.6h0M122.2 604.3h0M139.7 602.7h0M109.0 601.4h0M109.8 599.3h0M107.4 606.5h0M113.1 609.2h0M147.6 603.4h0M135.0 601.6h0M115.3 603.5h0M116.8 606.9h0M110.1 606.4h0M129.8 599.3h0M130.8 600.5h0M123.9 604.3h0M114.5 605.9h0M124.3 603.0h0M110.9 599.5h0M135.8 604.2h0M108.7 606.3h0M141.0 601.2h0M116.4 601.2h0M121.1 605.1h0M109.1 606.2h0M113.3 602.4h0M107.4 594.4h0M111.7 599.3h0M108.9 594.7h0M112.8 601.4h0M118.3 595.9h0M113.8 601.8h0M118.6 603.1h0M108.4 607.8h0M110.5 600.9h0M112.3 604.5h0M110.0 605.0h0M118.1 602.7h0M113.3 607.9h0M111.6 599.5h0M125.1 603.6h0M113.3 598.9h0M136.1 598.4h0M140.1 604.7h0M127.0 606.2h0M120.5 603.9h0M128.2 601.6h0M107.6 602.4h0M121.7 603.3h0M118.4 597.8h0M137.1 599.8h0M107.7 603.5h0M127.9 600.1h0M140.5 603.3h0M122.9 603.4h0M150.0 601.3h0M123.3 605.5h0M153.3 602.9h0M114.4 605.2h0M133.7 606.0h0M112.2 603.6h0M140.4 603.1h0M106.7 610.1h0M128.7 607.8h0M130.2 607.6h0M108.1 601.5h0M113.5 600.7h0M116.1 605.5h0M141.4 597.9h0M128.5 601.2h0M159.6 601.7h0M121.0 604.0h0M110.9 600.0h0M121.8 605.5h0M115.4 604.6h0M133.1 601.2h0M110.6 603.4h0M131.9 600.7h0M121.4 604.6h0M142.2 598.9h0M121.9 601.5h0M109.2 608.0h0M120.1 601.3h0M125.6 605.0h0M146.5 602.4h0M106.8 608.2h0M111.6 607.1h0M138.9 600.1h0M119.3 601.0h0M148.9 602.3h0M108.0 603.0h0M119.4 603.9h0M128.6 604.5h0M130.7 602.7h0M116.1 602.8h0M113.9 604.9h0M113.4 602.9h0M111.7 606.4h0M138.1 606.6h0M112.2 603.1h0M112.8 605.4h0M117.3 602.8h0M129.6 603.8h0M115.6 600.6h0M113.3 602.1h0M119.4 603.0h0M130.5 602.4h0M137.3 600.4h0M114.9 604.5h0M131.7 603.9h0M117.7 603.0h0M152.1 601.9h0M112.0 604.6h0M111.7 606.7h0M106.8 597.7h0M113.6 595.4h0M114.1 602.9h0M111.2 598.6h0M131.8 600.9h0M123.6 606.1h0M139.9 602.6h0M112.1 599.7h0M111.6 602.3h0M110.8 599.8h0M108.5 603.6h0M123.6 605.5h0M107.0 602.6h0M114.8 603.3h0M123.8 602.4h0M110.8 604.9h0M110.9 598.1h0M140.6 600.6h0M154.2 603.7h0M126.9 601.8h0M126.5 596.4h0M139.1 603.3h0M125.6 599.6h0M115.6 603.1h0M112.0 598.3h0M120.7 599.3h0M114.6 606.9h0M107.7 601.9h0M155.9 602.9h0M127.4 604.4h0M128.2 604.1h0M116.6 600.8h0M125.6 601.6h0M130.4 605.5h0M129.2 601.6h0M150.6 602.7h0M112.9 599.9h0M106.8 603.6h0M135.6 602.6h0M127.2 606.6h0M152.1 601.5h0M110.7 604.3h0M130.4 601.1h0M119.7 603.5h0M163.2 602.5h0M120.1 604.2h0M122.6 604.0h0M108.8 603.6h0M121.7 606.2h0M115.4 599.5h0M112.4 602.9h0M133.3 601.3h0M106.7 600.0h0M126.0 595.1h0M134.6 599.6h0M121.3 604.5h0M124.3 605.2h0M123.8 597.6h0M123.6 604.4h0M120.3 601.9h0M126.2 602.7h0M131.9 601.6h0M151.4 602.7h0M108.5 598.9h0M131.7 604.0h0M122.0 599.3h0M109.5 601.4h0M107.4 603.3h0M132.6 601.3h0M108.5 600.3h0M117.5 604.3h0M112.6 601.4h0M117.3 607.1h0M126.8 603.4h0M116.9 609.3h0" stroke="#000" stroke-width="0.9" stroke-linecap="square"/>
<path d="M106.5 597.8 C138.7 598.1 153.3 599.6 162 602.5 C153.3 605.4 138.7 606.9 106.5 607.2Z" fill="#000"/>
<text x="154.5" y="587.5" font-size="6.4" text-anchor="middle" fill="#e0352f" stroke="#e0352f" stroke-width="0.16"><tspan font-weight="bold">UP</tspan> 805 genes</text>
<text x="154.5" y="621.7" font-size="6.4" text-anchor="middle" fill="#2f44a0" stroke="#2f44a0" stroke-width="0.16"><tspan font-weight="bold">DN</tspan> 774 genes</text>
<line x1="190" y1="578.2" x2="190" y2="630" stroke="#333" stroke-width="0.6"/>
<line x1="188.4" y1="579.2" x2="190" y2="579.2" stroke="#333" stroke-width="0.6"/>
<text x="187.4" y="581" font-size="5" text-anchor="end" fill="#444" stroke="#444" stroke-width="0.12">5</text>
<line x1="188.4" y1="603" x2="190" y2="603" stroke="#333" stroke-width="0.6"/>
<text x="187.4" y="604.8" font-size="5" text-anchor="end" fill="#444" stroke="#444" stroke-width="0.12">0</text>
<line x1="188.4" y1="627" x2="190" y2="627" stroke="#333" stroke-width="0.6"/>
<text x="187.4" y="628.8" font-size="5" text-anchor="end" fill="#444" stroke="#444" stroke-width="0.12">-5</text>
<line x1="190" y1="630" x2="259" y2="630" stroke="#333" stroke-width="0.6"/>
<line x1="197.4" y1="630" x2="197.4" y2="631.6" stroke="#333" stroke-width="0.6"/>
<text x="197.4" y="637.9" font-size="5.3" text-anchor="middle" fill="#333" stroke="#333" stroke-width="0.13">5</text>
<line x1="219.7" y1="630" x2="219.7" y2="631.6" stroke="#333" stroke-width="0.6"/>
<text x="219.7" y="637.9" font-size="5.3" text-anchor="middle" fill="#333" stroke="#333" stroke-width="0.13">10</text>
<line x1="242.3" y1="630" x2="242.3" y2="631.6" stroke="#333" stroke-width="0.6"/>
<text x="242.3" y="637.9" font-size="5.3" text-anchor="middle" fill="#333" stroke="#333" stroke-width="0.13">15</text>
<text x="224.5" y="556.3" font-size="7.7" text-anchor="middle" stroke="#1a1a1a" stroke-width="0.19">c-FOS/UO126</text>
<text x="224.5" y="565.3" font-size="7.7" text-anchor="middle" stroke="#1a1a1a" stroke-width="0.19">vs c-FOS/DMSO</text>
<path d="M197.8 596.1h0M198.7 598.0h0M204.2 596.9h0M210.0 597.5h0M216.7 596.4h0M208.6 597.8h0M210.3 597.8h0M207.4 598.1h0M213.8 599.0h0M196.4 598.1h0M223.2 599.0h0M245.0 600.2h0M212.6 598.2h0M194.2 594.9h0M212.1 597.8h0M210.0 598.6h0M211.1 596.7h0M219.2 597.0h0M218.3 598.7h0M211.5 598.1h0M213.1 598.0h0M225.9 599.3h0M197.9 598.1h0M227.7 596.5h0M231.5 599.9h0M217.5 597.6h0M199.8 597.6h0M196.3 597.8h0M219.3 599.3h0M215.7 598.1h0M196.0 593.8h0M215.1 598.0h0M214.4 598.5h0M200.7 597.6h0M200.2 598.3h0M215.0 598.7h0M211.6 598.7h0M216.9 599.3h0M232.3 598.8h0M240.8 601.1h0M207.9 598.3h0M205.6 598.6h0M221.9 598.0h0M213.4 598.4h0M242.8 598.7h0M231.3 597.3h0M218.0 599.0h0M208.9 596.6h0M201.4 598.3h0M234.5 600.6h0M220.5 597.6h0M223.8 598.8h0M213.5 598.3h0M196.9 596.4h0M206.0 598.4h0M206.8 598.1h0M217.7 597.8h0M227.8 595.9h0M215.6 598.1h0M212.5 598.2h0M240.7 600.1h0M200.9 597.9h0M196.8 598.3h0M215.3 598.6h0M208.8 598.0h0M218.4 598.6h0M207.2 597.8h0M206.6 598.0h0M201.6 597.8h0M200.9 595.3h0M231.6 599.8h0M216.1 598.9h0M211.1 598.9h0M203.5 597.9h0M200.4 597.9h0M216.7 598.2h0M206.8 597.7h0M193.7 598.1h0M205.4 598.1h0M208.4 598.5h0M224.9 599.5h0M200.1 597.2h0M221.7 598.3h0M203.2 597.4h0M194.3 597.7h0M206.1 598.6h0M202.2 598.3h0M238.6 600.1h0M214.8 597.2h0M230.7 599.3h0M205.4 598.0h0M198.8 598.4h0M196.3 597.3h0M205.4 596.3h0M202.0 598.5h0M209.7 598.7h0M200.1 596.3h0M209.9 598.8h0M210.8 597.7h0M194.5 594.2h0M198.5 597.7h0M200.8 598.1h0M199.0 593.7h0M202.8 597.5h0M210.4 598.5h0M199.2 598.2h0M232.0 600.0h0M194.2 597.7h0M208.8 596.9h0M210.0 598.8h0M197.3 596.7h0M195.3 595.8h0M204.2 595.6h0M202.5 597.5h0M207.9 598.4h0M208.6 597.5h0M233.8 600.2h0M213.3 596.9h0M232.1 599.8h0M195.4 597.9h0M193.1 597.3h0M195.1 597.2h0M212.1 598.4h0M198.3 597.9h0M203.6 598.1h0M197.5 597.8h0M194.7 596.9h0M203.3 596.9h0M206.0 597.7h0M201.4 598.1h0M221.6 597.3h0M203.6 597.6h0M196.0 597.3h0M232.0 599.6h0M212.8 599.0h0M194.7 597.1h0M221.5 599.3h0M197.2 598.0h0M194.1 595.6h0M207.4 598.6h0M200.4 596.7h0M202.5 592.9h0M223.3 598.0h0M206.6 598.3h0M207.4 598.5h0M202.6 598.5h0M218.2 598.1h0M196.0 597.9h0M214.2 599.1h0M221.6 598.2h0M233.2 595.9h0M200.6 597.0h0M227.8 599.6h0M213.1 597.7h0M196.4 597.8h0M205.5 598.4h0M232.3 599.6h0M230.5 599.7h0M212.4 596.7h0M202.9 597.4h0M211.7 598.2h0M203.1 597.8h0M214.7 598.6h0M230.9 598.8h0M193.4 598.2h0M204.4 597.9h0M210.8 597.0h0M223.1 599.7h0M207.7 597.4h0M230.5 599.0h0M215.1 599.2h0M238.3 600.6h0M200.1 597.9h0M218.9 598.8h0M217.9 599.3h0M199.0 595.4h0M200.6 598.4h0M222.4 594.5h0M203.6 597.9h0M204.1 598.2h0M199.2 597.1h0M213.2 598.1h0M212.8 597.2h0M210.5 596.4h0M212.7 597.5h0M196.0 597.4h0M209.3 598.6h0M211.6 589.6h0M195.4 598.0h0M199.9 598.4h0M213.1 599.0h0M224.2 599.7h0M206.1 593.3h0M208.7 597.8h0M196.4 597.7h0M209.9 597.5h0M227.2 599.2h0M196.8 598.0h0M194.1 591.5h0M205.2 598.4h0M224.8 598.8h0M200.4 598.4h0M230.4 599.0h0M207.2 598.2h0M211.3 598.3h0M203.1 598.5h0M200.4 597.6h0M196.8 597.1h0M200.8 598.2h0M220.6 594.1h0M207.6 596.4h0M207.1 598.5h0M225.8 597.1h0M211.8 597.1h0M195.4 595.3h0M229.5 600.3h0M222.8 599.7h0M212.1 597.9h0M204.0 597.5h0M214.2 598.3h0M228.5 599.1h0M222.7 599.2h0M215.7 595.6h0M204.1 598.6h0M228.3 596.0h0M206.2 598.4h0M218.6 596.0h0M202.1 598.3h0M208.5 593.8h0M223.4 597.0h0M212.4 593.2h0M195.9 596.4h0M200.4 597.3h0M210.2 598.2h0M197.5 597.7h0M195.4 598.0h0M228.0 598.5h0M230.6 600.4h0M212.9 597.8h0M222.4 599.2h0M196.5 597.7h0M195.2 597.6h0M199.9 596.8h0M213.5 598.6h0M215.3 598.3h0M208.4 598.8h0M203.8 598.5h0M202.9 597.4h0M215.8 598.6h0M203.0 598.1h0M205.9 596.2h0M211.2 597.1h0M206.1 597.7h0M229.2 597.9h0M221.8 598.9h0M195.2 596.3h0M218.7 598.1h0M211.7 598.2h0M210.0 598.3h0M208.8 597.7h0M209.5 598.9h0M222.1 598.4h0M229.6 599.6h0M195.3 590.0h0M196.7 596.2h0M196.2 597.6h0M222.5 598.7h0M201.2 595.5h0M213.9 599.0h0M193.5 597.9h0M197.8 597.6h0M237.4 599.9h0M203.7 598.0h0M208.9 598.8h0M205.0 597.5h0M195.8 597.8h0M220.8 599.5h0M203.4 598.5h0M227.1 597.4h0M212.6 598.4h0M203.7 597.3h0M198.5 597.8h0M195.4 598.1h0M194.0 596.9h0M198.5 598.4h0M223.8 599.1h0M195.1 597.6h0M227.6 593.3h0M211.7 598.1h0M196.3 597.9h0M202.6 598.0h0M216.2 598.5h0M230.8 600.4h0M212.1 596.9h0M210.7 598.0h0M217.9 598.8h0M232.2 599.7h0M193.1 597.5h0M197.5 597.6h0M199.3 595.4h0M246.3 600.8h0M198.9 597.9h0M193.0 595.2h0M211.8 597.5h0M226.3 599.4h0M203.9 598.0h0M204.8 597.1h0M206.3 598.3h0M227.3 598.3h0M206.2 598.2h0M195.2 598.2h0M202.0 596.9h0M207.4 595.4h0M212.2 596.9h0M206.0 595.8h0M219.9 599.4h0M218.6 599.3h0M207.9 597.9h0M196.6 592.2h0M193.0 597.6h0M227.9 599.7h0M232.5 598.2h0M236.8 600.2h0M206.4 598.0h0M214.6 598.3h0M193.8 597.0h0M201.9 596.3h0M196.1 597.5h0M209.1 597.7h0M196.4 598.2h0M206.9 598.4h0M199.3 597.3h0M213.9 599.1h0M207.9 591.8h0M193.6 597.7h0M193.5 597.9h0M204.5 594.9h0M206.6 596.4h0M206.4 598.1h0M220.6 595.9h0M206.5 598.6h0M244.5 601.4h0M244.9 600.5h0M202.2 598.1h0M210.4 598.8h0M198.2 598.0h0M215.2 598.7h0M200.2 595.3h0M196.9 597.8h0M195.9 597.8h0" stroke="#f26a55" stroke-width="0.8" stroke-linecap="square"/>
<path d="M221.7 605.8h0M219.6 606.5h0M195.2 608.4h0M231.7 605.1h0M193.9 607.8h0M202.7 607.9h0M204.7 607.8h0M209.1 607.4h0M227.2 608.8h0M196.6 607.3h0M206.8 608.8h0M229.1 605.2h0M201.5 606.7h0M218.4 606.8h0M216.7 605.8h0M208.2 608.5h0M236.4 605.0h0M215.9 606.0h0M212.1 611.4h0M227.5 607.7h0M198.1 607.2h0M195.0 610.1h0M208.4 607.8h0M218.2 606.3h0M220.1 605.7h0M236.6 604.3h0M234.7 605.0h0M236.9 604.9h0M205.1 606.6h0M206.6 606.4h0M194.5 607.1h0M201.3 606.7h0M232.4 605.2h0M206.6 606.8h0M205.8 606.6h0M212.6 606.5h0M221.5 605.5h0M213.0 607.4h0M196.9 608.2h0M215.0 606.4h0M197.4 607.9h0M199.3 607.1h0M214.1 605.9h0M196.1 608.9h0M227.1 605.0h0M213.1 606.3h0M199.8 609.1h0M222.9 607.0h0M230.3 604.7h0M200.0 610.1h0M224.2 606.8h0M223.6 605.4h0M199.8 606.6h0M202.6 606.5h0M199.9 606.7h0M206.3 606.7h0M209.3 608.6h0M199.1 608.3h0M217.1 606.8h0M196.1 607.4h0M203.8 606.4h0M203.6 607.0h0M201.9 606.7h0M197.9 607.7h0M199.3 611.7h0M240.2 605.0h0M199.0 607.5h0M195.2 609.7h0M193.2 606.9h0M214.4 606.5h0M229.0 604.9h0M238.6 603.9h0M193.8 608.1h0M203.7 606.8h0M221.8 606.5h0M193.2 608.2h0M203.5 606.6h0M196.2 606.9h0M208.4 607.4h0M245.4 606.0h0M201.7 607.3h0M196.4 606.9h0M222.2 605.9h0M194.6 609.3h0M204.6 609.2h0M225.0 606.0h0M224.8 606.2h0M205.1 607.0h0M207.1 606.4h0M202.0 607.1h0M197.1 607.3h0M235.5 609.8h0M217.1 606.8h0M201.3 610.1h0M233.5 605.1h0M209.7 606.4h0M196.3 607.1h0M216.5 605.9h0M209.1 606.2h0M202.6 607.5h0M210.4 607.5h0M210.1 606.2h0M217.0 605.7h0M210.8 610.5h0M215.2 606.3h0M195.8 606.9h0M194.6 607.0h0M203.4 607.5h0M210.7 607.1h0M201.6 606.7h0M210.9 607.7h0M209.3 606.6h0M211.2 606.5h0M200.2 607.5h0M208.0 606.8h0M214.3 605.8h0M204.8 608.6h0M209.8 607.4h0M196.6 609.1h0M199.8 608.1h0M208.4 606.9h0M212.9 607.6h0M223.7 605.2h0M213.0 606.2h0M196.9 607.6h0M210.0 607.1h0M205.5 608.8h0M193.3 607.9h0M230.3 604.9h0M218.0 608.3h0M195.0 608.4h0M213.6 608.0h0M193.9 606.9h0M214.7 606.4h0M246.5 603.8h0M233.4 605.4h0M204.3 607.1h0M212.7 607.7h0M196.9 608.2h0M201.3 607.1h0M205.6 606.4h0M235.9 604.3h0M195.3 613.3h0M205.4 608.2h0M197.6 608.3h0M193.2 609.0h0M207.3 608.2h0M205.1 608.5h0M209.5 606.7h0M234.1 605.4h0M238.0 604.5h0M204.1 606.9h0M202.5 607.7h0M210.9 606.4h0M198.1 607.0h0M230.9 606.6h0M220.5 605.4h0M204.4 608.1h0M197.7 607.8h0M221.1 610.0h0M223.4 605.7h0M194.2 607.6h0M224.8 605.5h0M227.5 606.5h0M227.3 606.2h0M230.1 605.3h0M202.9 608.5h0M198.3 607.3h0M222.6 606.5h0M217.8 606.0h0M195.2 607.6h0M208.9 608.1h0M211.6 606.5h0M219.7 609.6h0M197.5 611.1h0M235.1 604.2h0M222.0 606.2h0M225.0 606.0h0M220.6 606.7h0M201.4 608.0h0M207.4 607.3h0M227.1 605.8h0M197.7 607.3h0M202.3 607.9h0M197.8 606.8h0M202.3 606.8h0M226.5 605.9h0M244.6 605.2h0M193.6 607.0h0M195.5 607.9h0M203.0 607.9h0M202.3 606.8h0M203.7 607.7h0M203.8 606.9h0M220.6 606.6h0M214.4 610.7h0M199.7 607.1h0M209.3 607.8h0M201.4 607.5h0M217.2 607.2h0M195.4 607.0h0M215.2 606.4h0M197.7 608.3h0M233.3 604.7h0M207.0 607.9h0M194.5 608.4h0M230.0 606.2h0M229.9 605.1h0M194.7 607.5h0M203.6 606.9h0M206.1 608.1h0M239.7 604.0h0M194.7 607.7h0M214.7 606.1h0M207.2 607.4h0M222.3 606.3h0M207.5 607.8h0M234.2 605.1h0M205.4 608.3h0M199.3 612.3h0M194.9 606.9h0M234.1 605.8h0M195.2 607.0h0M203.9 607.1h0M196.7 607.1h0M220.2 606.3h0M198.6 607.6h0M207.6 606.5h0M245.6 603.5h0M203.6 606.5h0M206.5 606.9h0M217.8 606.0h0M216.1 607.2h0M213.4 607.4h0M205.4 607.4h0M216.8 607.0h0M198.1 608.5h0M195.9 607.2h0M240.1 609.6h0M207.0 606.3h0M214.2 606.3h0M197.7 607.6h0M219.0 606.6h0M207.0 607.2h0M206.9 607.0h0M197.2 608.4h0M198.6 607.9h0M221.1 606.8h0M199.1 606.7h0M211.5 613.5h0" stroke="#6a80cc" stroke-width="0.8" stroke-linecap="square"/>
<path d="M219.1 621.7h0M246.1 598.6h0M209.8 583.5h0M208.4 617.4h0M238.6 616.0h0M218.3 590.1h0M194.4 594.9h0M222.1 617.2h0M219.5 611.7h0M193.4 596.7h0M238.9 590.2h0M209.5 606.2h0M229.4 608.8h0M194.8 625.7h0M211.6 584.4h0M196.9 613.6h0M235.8 615.0h0M220.6 608.1h0M209.8 600.1h0M237.2 614.2h0M247.4 603.6h0M236.0 613.2h0M216.6 593.4h0M209.6 600.4h0M231.4 601.7h0M202.9 611.3h0M198.0 607.3h0M212.6 612.4h0M253.2 611.2h0M254.3 593.4h0M219.7 620.0h0M228.0 614.1h0M242.9 620.4h0M229.3 604.7h0M241.5 591.7h0M248.3 604.9h0M201.7 608.4h0M231.6 586.4h0M224.5 591.5h0" stroke="#888" stroke-width="0.6" stroke-linecap="square"/>
<path d="M209.4 603.6h0M202.3 600.7h0M211.1 601.7h0M197.0 602.8h0M196.9 600.1h0M207.4 602.5h0M217.1 599.2h0M198.9 605.2h0M202.7 604.5h0M206.9 602.1h0M231.7 604.6h0M201.7 603.1h0M225.1 603.4h0M195.3 603.4h0M203.5 604.4h0M206.3 607.3h0M198.7 601.2h0M201.7 598.4h0M210.4 600.8h0M195.3 602.5h0M212.0 604.5h0M200.7 603.4h0M215.8 605.0h0M225.8 599.8h0M224.0 602.0h0M200.1 599.5h0M218.6 598.6h0M205.7 606.0h0M223.6 600.1h0M209.9 600.9h0M222.2 601.5h0M194.4 604.0h0M209.2 601.6h0M199.5 602.0h0M225.7 603.5h0M209.1 607.3h0M218.9 603.1h0M213.6 602.5h0M194.5 603.7h0M201.2 598.1h0M201.0 604.0h0M193.7 605.0h0M203.2 600.7h0M204.5 603.0h0M213.2 599.3h0M197.4 598.9h0M243.9 601.7h0M215.8 603.4h0M243.6 601.3h0M195.1 605.8h0M217.8 600.9h0M231.0 603.0h0M196.4 600.2h0M215.8 600.8h0M193.7 602.2h0M215.7 603.5h0M233.0 603.5h0M204.4 601.6h0M212.7 604.5h0M222.3 602.1h0M193.6 603.3h0M193.1 600.1h0M200.9 606.9h0M205.9 603.0h0M195.8 605.1h0M194.9 596.1h0M213.9 607.4h0M202.0 602.6h0M201.5 603.4h0M212.0 599.2h0M206.7 599.4h0M214.3 601.1h0M212.4 603.0h0M204.3 603.2h0M208.8 602.2h0M203.0 606.4h0M212.9 601.8h0M221.8 602.0h0M219.5 600.4h0M220.2 602.3h0M209.4 605.0h0M204.5 598.8h0M193.5 601.8h0M203.2 596.5h0M193.4 605.7h0M219.3 604.0h0M207.3 603.4h0M204.6 601.1h0M211.2 601.5h0M211.5 601.1h0M234.7 602.8h0M214.4 599.4h0M201.7 601.5h0M204.7 601.7h0M199.2 599.1h0M200.6 600.4h0M220.1 604.4h0M219.3 603.7h0M194.9 604.9h0M237.3 601.8h0M222.1 604.1h0M218.4 600.3h0M195.4 603.9h0M203.7 604.5h0M210.4 604.6h0M196.6 601.7h0M204.7 599.8h0M209.2 598.6h0M213.9 601.2h0M193.8 600.9h0M204.5 604.9h0M206.2 603.8h0M222.3 604.2h0M215.6 597.3h0M222.2 597.7h0M213.7 604.2h0M195.4 600.4h0M194.4 600.1h0M194.7 602.4h0M211.9 602.6h0M200.4 605.4h0M219.3 603.2h0M218.2 600.1h0M204.3 599.2h0M194.9 600.2h0M230.9 602.9h0M216.0 605.0h0M217.3 598.9h0M231.4 602.1h0M204.4 603.5h0M205.6 606.2h0M219.7 603.6h0M203.9 602.5h0M207.3 598.3h0M211.7 602.2h0M210.3 596.8h0M207.2 601.2h0M193.5 602.1h0M217.6 603.5h0M194.8 600.9h0M202.6 603.2h0M209.6 599.5h0M202.1 603.6h0M197.3 604.3h0M200.8 602.0h0M222.8 602.1h0M197.9 603.3h0M193.4 602.3h0M197.4 603.1h0M200.2 603.7h0M218.0 600.2h0M195.5 600.2h0M200.8 603.8h0M206.0 602.2h0M196.2 601.5h0M222.2 603.0h0M204.0 598.2h0M196.0 602.3h0M222.9 602.2h0M195.6 594.7h0M222.0 602.7h0M195.7 600.5h0M198.3 605.0h0M199.2 601.6h0M221.4 603.3h0M200.7 605.0h0M219.3 604.8h0M193.9 601.8h0M213.4 600.9h0M207.3 608.4h0M235.2 601.9h0M206.2 603.9h0M223.2 603.6h0M198.9 605.7h0M233.6 603.0h0M208.3 601.4h0M200.5 602.3h0M194.4 600.7h0M211.3 597.1h0M206.6 601.6h0M200.1 603.2h0M193.5 599.9h0M197.2 605.9h0M199.3 602.1h0M206.7 602.2h0M203.7 601.2h0M225.1 606.7h0M211.4 600.9h0M213.4 602.5h0M209.2 602.2h0M202.2 602.7h0M195.0 605.8h0M214.5 600.5h0M234.2 602.1h0M216.9 602.1h0M195.3 606.4h0M209.9 600.7h0M200.7 601.6h0M206.7 599.9h0M216.9 600.1h0M233.8 602.5h0M196.4 603.3h0M223.7 603.6h0M207.9 601.6h0M198.2 603.8h0M199.0 604.1h0M195.3 605.9h0M211.6 600.9h0M195.1 603.9h0M201.9 607.0h0M209.8 603.0h0M199.3 604.5h0M196.4 606.8h0M215.9 602.8h0M209.3 601.3h0M234.8 603.3h0M198.9 603.7h0M209.6 601.2h0M197.2 602.8h0M213.6 605.3h0M206.5 603.8h0M215.1 601.0h0M233.6 602.6h0M212.2 602.1h0M206.8 601.2h0M208.0 603.9h0M199.8 608.3h0M221.3 599.5h0M215.6 605.6h0M200.7 604.5h0M205.0 600.6h0M213.0 602.8h0M210.6 601.5h0M207.0 599.0h0M216.3 603.6h0M222.7 601.9h0M201.7 600.7h0M219.6 599.6h0M214.6 606.9h0M195.8 606.4h0M204.4 603.3h0M202.4 605.3h0M195.9 603.5h0M199.2 602.3h0M201.2 604.7h0M194.1 602.2h0M196.0 601.4h0M220.1 599.3h0M195.8 597.7h0M210.0 601.6h0M197.7 602.2h0M210.7 602.5h0M226.0 601.1h0M194.9 605.2h0M211.6 603.5h0M201.2 603.0h0M215.1 600.5h0M195.1 600.2h0M211.4 597.9h0M218.2 605.9h0M217.4 601.9h0M222.4 602.8h0M206.8 604.0h0M219.0 604.2h0M240.2 603.3h0M204.8 600.3h0M196.3 603.8h0M218.8 601.7h0M197.8 604.9h0M235.5 602.8h0M211.1 605.6h0M203.6 601.5h0M206.3 600.9h0M216.4 598.6h0M219.2 601.2h0M228.6 602.2h0M198.6 602.0h0M203.7 605.8h0M197.2 601.6h0M215.7 602.9h0M203.9 602.1h0M235.5 602.8h0M198.5 604.3h0M203.6 598.1h0M216.3 606.1h0M214.3 607.0h0M204.2 602.3h0M232.1 604.9h0M208.3 600.5h0M201.1 601.7h0M197.3 606.2h0M212.5 606.8h0M213.7 602.8h0M243.8 602.8h0M219.1 603.0h0M195.8 604.0h0M202.9 599.4h0M216.3 603.5h0M241.6 602.1h0M214.5 605.9h0M211.2 600.6h0M202.0 600.6h0M199.4 598.6h0M205.7 608.1h0M197.5 602.7h0M205.6 606.4h0M211.0 601.6h0M203.7 600.5h0M216.0 600.6h0M193.5 607.0h0M221.5 599.4h0M193.7 599.9h0M221.8 605.3h0M193.8 603.1h0M195.6 606.9h0M200.7 600.3h0M217.6 605.1h0M195.7 600.8h0M218.3 602.5h0M200.3 599.5h0M194.1 600.4h0M203.6 599.0h0M201.9 606.8h0M208.3 600.4h0M193.5 604.6h0M203.1 602.2h0M199.9 602.0h0M223.5 601.0h0M221.7 602.8h0M215.1 603.8h0M219.7 604.5h0M193.3 601.7h0M207.9 602.1h0M196.5 607.3h0M215.3 602.6h0M208.7 607.3h0M193.1 606.1h0M193.6 600.5h0M225.8 606.4h0M221.8 605.3h0M229.9 603.0h0M210.2 603.4h0M223.5 601.0h0M244.7 602.4h0M220.9 604.7h0M223.4 599.4h0M209.3 600.0h0M199.5 601.1h0M196.7 603.5h0M199.4 602.1h0M204.1 603.9h0M229.3 603.2h0M209.6 603.7h0M206.3 600.9h0M223.4 603.0h0M210.4 600.5h0M209.3 599.5h0M198.0 598.8h0M194.1 598.8h0M194.2 601.3h0M203.5 598.1h0M219.2 601.6h0M204.6 605.4h0M207.8 603.3h0M197.4 600.5h0M200.8 601.8h0M200.1 602.2h0M234.8 601.7h0M204.3 606.3h0M204.6 598.6h0M215.4 599.4h0M213.2 602.3h0M221.1 599.5h0M198.7 595.5h0M194.1 602.2h0M197.7 595.0h0M233.2 603.7h0M194.0 600.2h0M229.0 603.4h0M217.2 603.0h0M213.2 604.7h0M228.9 602.3h0M195.1 608.8h0M216.0 601.7h0M203.1 605.6h0M209.3 606.9h0M200.2 602.9h0M236.3 600.5h0M216.6 602.0h0M215.4 605.8h0M220.5 600.4h0M214.2 602.0h0M207.7 605.6h0M211.2 602.4h0M199.2 602.7h0M195.4 599.7h0M216.6 602.7h0M196.0 608.2h0M201.1 604.3h0M202.6 598.4h0M235.1 603.7h0M207.5 601.0h0M199.2 605.0h0M217.7 607.5h0M221.8 604.8h0M198.9 601.5h0M198.4 601.7h0M233.5 602.3h0M201.2 599.5h0M215.1 603.0h0M205.2 604.5h0M204.8 605.1h0M198.0 602.0h0M194.3 603.5h0M231.8 603.0h0M214.4 602.2h0M226.8 603.0h0M215.5 602.6h0M213.6 602.8h0M198.2 603.8h0M226.9 606.1h0M212.8 601.4h0M221.1 601.0h0M194.2 601.6h0M201.4 602.3h0M212.1 602.9h0M205.1 604.4h0M197.0 604.1h0M193.1 600.3h0M199.0 606.0h0M202.1 600.5h0M216.0 598.0h0M194.9 605.4h0M199.3 603.4h0M228.2 602.1h0M196.4 603.5h0M215.6 601.3h0M212.6 601.3h0M196.7 600.7h0M219.9 601.5h0M212.5 600.5h0M198.6 607.1h0M197.6 604.9h0M230.0 603.2h0M220.5 599.5h0M201.0 602.9h0M220.9 604.9h0M193.6 604.5h0M212.1 601.9h0M204.7 604.1h0M203.3 604.6h0M209.3 601.0h0M200.2 605.3h0M234.7 604.4h0M201.3 603.2h0M204.4 603.5h0M210.1 601.1h0M198.7 602.9h0M203.4 600.6h0M200.8 600.5h0M202.7 598.4h0M201.2 600.3h0M217.4 599.4h0M216.7 600.5h0M218.9 601.7h0M233.7 601.5h0M204.0 603.8h0M200.3 604.3h0M216.4 603.9h0M214.5 603.6h0M203.9 598.9h0M218.0 605.0h0M216.6 601.2h0M217.3 599.2h0M200.1 601.8h0M212.4 602.1h0M193.4 604.8h0M224.0 603.1h0M193.7 602.0h0M215.2 600.8h0M199.8 606.3h0M224.6 602.7h0M194.4 603.8h0M206.4 602.2h0M204.1 602.8h0M198.2 603.7h0M197.3 602.9h0M199.6 599.4h0M198.0 601.8h0M204.9 597.6h0M220.7 603.1h0M216.7 602.6h0M197.0 599.7h0M217.5 600.3h0M212.0 604.4h0M232.9 602.9h0M196.8 597.4h0M221.0 602.4h0M210.6 600.2h0M221.7 604.4h0" stroke="#000" stroke-width="0.9" stroke-linecap="square"/>
<path d="M193 598.5 C224.3 598.8 238.6 600 247 602.5 C238.6 605 224.3 606.2 193 606.5Z" fill="#000"/>
<text x="242.6" y="587.7" font-size="6.4" text-anchor="middle" fill="#e0352f" stroke="#e0352f" stroke-width="0.16"><tspan font-weight="bold">UP</tspan> 404 genes</text>
<text x="242.6" y="622.3" font-size="6.4" text-anchor="middle" fill="#2f44a0" stroke="#2f44a0" stroke-width="0.16"><tspan font-weight="bold">DN</tspan> 374 genes</text>
<text x="139.7" y="648.6" font-size="7.3" text-anchor="middle" stroke="#1a1a1a" stroke-width="0.18">log<tspan font-size="4" dy="1.5">2</tspan><tspan dy="-1.5">(mean expression)</tspan></text>
<text x="2.5" y="687.1" font-size="11.5" fill="#000" font-weight="bold">I</text>
<text x="137.2" y="672.4" font-size="9.7" text-anchor="middle" stroke="#1a1a1a" stroke-width="0.24">ATAC-seq</text>
<text transform="translate(6.5 731.5) rotate(-90)" x="0" y="2.6" font-size="7.3" text-anchor="middle" stroke="#1a1a1a" stroke-width="0.18">log<tspan font-size="4" dy="1.5">2</tspan><tspan dy="-1.5">(fold change)</tspan></text>
<line x1="21.8" y1="710.4" x2="21.8" y2="761" stroke="#333" stroke-width="0.6"/>
<line x1="20.2" y1="711.4" x2="21.8" y2="711.4" stroke="#333" stroke-width="0.6"/>
<text x="19.2" y="713.2" font-size="5" text-anchor="end" fill="#444" stroke="#444" stroke-width="0.12">5</text>
<line x1="20.2" y1="735" x2="21.8" y2="735" stroke="#333" stroke-width="0.6"/>
<text x="19.2" y="736.8" font-size="5" text-anchor="end" fill="#444" stroke="#444" stroke-width="0.12">0</text>
<line x1="20.2" y1="759" x2="21.8" y2="759" stroke="#333" stroke-width="0.6"/>
<text x="19.2" y="760.8" font-size="5" text-anchor="end" fill="#444" stroke="#444" stroke-width="0.12">-5</text>
<line x1="21.8" y1="761" x2="90.5" y2="761" stroke="#333" stroke-width="0.6"/>
<line x1="35.4" y1="761" x2="35.4" y2="762.6" stroke="#333" stroke-width="0.6"/>
<text x="35.4" y="768.8" font-size="5" text-anchor="middle" fill="#333" stroke="#333" stroke-width="0.12">6</text>
<line x1="53" y1="761" x2="53" y2="762.6" stroke="#333" stroke-width="0.6"/>
<text x="53" y="768.8" font-size="5" text-anchor="middle" fill="#333" stroke="#333" stroke-width="0.12">8</text>
<line x1="74.4" y1="761" x2="74.4" y2="762.6" stroke="#333" stroke-width="0.6"/>
<text x="74.4" y="768.8" font-size="5" text-anchor="middle" fill="#333" stroke="#333" stroke-width="0.12">10</text>
<text x="60" y="689" font-size="7.7" text-anchor="middle" stroke="#1a1a1a" stroke-width="0.19">c-FOS</text>
<text x="60" y="698" font-size="7.7" text-anchor="middle" stroke="#1a1a1a" stroke-width="0.19">vs CONTROL</text>
<path d="M50.9 731.2h0M33.3 729.9h0M30.3 727.1h0M23.5 724.5h0M29.4 728.3h0M50.0 731.5h0M51.8 731.1h0M26.4 729.4h0M56.0 731.7h0M39.0 729.3h0M27.8 728.5h0M30.3 729.6h0M26.2 729.2h0M27.3 729.9h0M36.0 729.8h0M23.8 727.3h0M24.5 727.5h0M24.8 725.2h0M32.9 729.6h0M35.9 727.8h0M51.3 731.1h0M42.5 730.2h0M42.8 730.0h0M34.9 728.3h0M39.3 729.1h0M27.1 729.6h0M33.1 728.8h0M28.9 727.3h0M30.8 730.0h0M42.4 729.8h0M43.8 730.8h0M26.3 729.6h0M31.6 727.9h0M38.2 729.0h0M69.9 733.7h0M44.3 731.0h0M39.4 730.5h0M40.2 729.6h0M29.0 729.9h0M47.6 730.8h0M26.1 725.7h0M55.3 731.2h0M37.3 728.6h0M30.4 727.3h0M34.9 730.0h0M25.9 723.5h0M23.4 728.9h0M33.6 729.8h0M43.5 729.7h0M27.2 728.1h0M27.5 727.5h0M38.9 728.7h0M27.6 728.9h0M42.7 730.7h0M32.0 726.9h0M35.2 728.5h0M52.5 731.8h0M32.9 728.4h0M30.5 727.6h0M23.5 727.8h0M24.5 729.6h0M29.3 729.7h0M32.2 726.8h0M23.0 728.3h0M27.6 729.1h0M24.9 729.3h0M31.2 728.2h0M57.2 732.3h0M39.8 728.6h0M23.7 728.9h0M28.6 729.5h0M45.7 730.3h0M28.4 724.7h0M23.7 729.2h0M58.0 732.2h0M25.8 727.0h0M28.7 728.1h0M25.0 727.3h0M48.1 730.7h0M27.2 729.5h0M29.9 728.7h0M42.7 730.1h0M23.2 729.6h0M27.4 729.7h0M29.8 729.4h0M33.0 727.5h0M25.6 725.9h0M38.0 728.9h0M36.4 729.8h0M36.9 729.5h0M47.3 729.1h0M41.1 726.9h0M23.1 728.7h0M30.5 725.9h0M23.8 728.1h0M32.7 729.8h0M66.8 733.4h0M24.2 728.6h0M34.4 730.2h0M24.6 727.0h0M33.5 729.8h0M28.4 728.0h0M25.6 728.6h0M30.6 729.8h0M36.0 728.9h0M48.6 730.7h0M23.1 726.8h0M27.7 726.9h0M27.6 727.8h0M44.9 730.3h0M60.0 732.6h0M43.7 729.6h0M26.9 729.5h0M27.1 728.8h0M40.2 728.1h0M30.2 730.0h0M33.8 728.9h0M26.4 728.4h0M41.2 728.1h0M31.1 727.8h0M25.5 727.0h0M33.9 730.1h0M47.0 731.2h0M25.4 727.1h0M24.5 727.2h0M28.8 729.6h0M28.3 727.9h0M39.0 728.2h0M36.2 729.1h0M41.4 730.5h0M32.8 727.8h0M30.7 728.8h0M36.7 729.8h0M35.9 729.0h0M28.3 729.1h0M23.2 726.5h0M36.8 729.3h0M30.6 728.7h0M30.7 727.5h0M48.7 730.0h0M30.4 729.6h0M29.2 728.6h0M40.4 730.0h0M28.2 726.4h0M28.2 725.4h0M28.0 728.6h0M33.9 728.4h0M40.8 730.3h0M23.1 727.8h0M45.1 729.4h0M25.1 726.5h0M23.3 727.8h0M28.7 728.8h0M31.6 725.6h0M23.9 729.6h0M32.3 726.1h0M35.6 728.3h0M55.0 730.6h0M45.1 730.8h0M36.2 729.6h0M35.8 728.1h0M27.6 728.7h0M34.5 730.1h0M41.0 729.0h0M26.1 729.0h0M35.4 729.7h0M65.6 732.8h0M34.8 730.0h0M27.9 729.6h0M36.2 727.7h0M25.2 729.5h0M27.1 729.0h0M35.4 728.8h0M33.5 728.6h0M39.8 726.8h0M45.7 729.7h0M24.2 726.3h0M31.3 728.2h0M33.3 728.8h0M41.4 730.0h0M53.7 731.8h0M28.0 729.2h0M28.6 729.6h0M25.5 728.9h0M30.6 728.8h0M25.3 729.1h0M36.1 729.3h0M35.0 730.0h0M28.3 729.1h0M31.8 729.6h0M32.3 728.6h0M67.7 733.7h0M27.5 727.3h0M31.1 729.2h0M35.0 728.1h0M41.9 728.9h0M34.7 728.8h0M32.6 728.9h0M31.0 727.6h0M35.1 728.7h0M40.7 729.5h0M32.3 729.1h0M32.4 730.0h0M26.2 725.7h0M23.5 729.7h0M26.1 725.8h0M28.8 729.1h0M40.4 730.5h0M39.6 730.5h0M32.4 729.5h0M24.4 725.9h0M33.5 728.6h0M24.6 728.6h0M23.4 729.3h0M40.7 730.5h0M27.3 729.1h0M33.0 730.0h0M41.8 730.0h0M52.6 730.6h0M46.4 730.0h0M30.1 729.8h0M53.7 731.4h0M39.9 729.5h0M30.0 726.0h0M33.7 728.9h0M33.0 727.6h0M43.8 730.0h0M29.8 729.2h0M31.3 729.8h0M30.0 727.9h0M31.7 728.6h0M23.1 729.6h0M39.2 730.1h0M39.0 728.1h0M23.0 727.4h0M27.4 727.8h0M27.4 727.6h0M28.4 727.3h0M23.9 728.7h0M46.0 731.2h0M29.4 728.9h0M32.1 727.9h0M28.2 725.3h0M27.3 728.2h0M55.7 732.0h0M28.8 728.4h0M28.5 728.6h0M24.9 726.9h0M33.9 729.9h0M35.2 728.8h0M28.3 727.6h0M48.5 730.6h0M23.9 728.7h0M23.7 729.0h0M31.7 728.9h0M29.2 728.4h0M55.2 731.8h0M52.9 731.6h0M26.1 726.6h0M29.9 728.8h0M29.8 727.1h0M36.6 728.8h0M24.4 729.7h0M42.3 729.6h0M24.2 729.7h0M25.5 728.3h0M26.7 726.9h0M28.7 727.7h0M37.5 729.5h0M26.6 729.4h0M24.1 728.9h0M27.9 728.1h0M26.7 729.6h0M26.2 728.4h0M48.6 730.7h0M25.2 725.2h0M28.3 726.6h0M26.0 727.9h0M25.1 728.4h0M35.3 729.3h0M33.5 727.9h0M43.0 730.4h0M26.0 726.7h0M23.7 722.0h0M27.0 726.9h0M41.3 728.3h0M56.4 732.2h0M34.2 729.9h0M29.1 728.6h0M31.7 730.0h0M23.5 727.8h0M24.6 726.8h0M25.2 727.9h0M28.4 725.7h0M34.5 729.5h0M25.7 729.2h0M39.9 729.0h0M31.8 728.6h0M36.2 728.4h0M45.3 729.1h0M25.8 729.4h0M24.5 726.7h0M32.2 729.0h0M50.0 731.4h0M30.3 729.0h0M31.2 727.4h0M52.6 731.7h0M28.6 729.0h0M45.4 730.8h0M29.9 728.0h0M25.7 727.0h0M37.4 730.2h0M40.7 727.5h0M29.6 728.1h0M27.9 726.2h0M29.9 729.5h0M23.9 727.2h0M26.2 726.4h0M63.3 732.8h0M46.4 729.7h0M29.3 727.4h0M49.2 731.4h0M31.1 729.2h0M35.8 729.7h0M56.4 732.1h0M32.0 729.7h0M28.7 729.1h0M24.3 725.3h0M25.2 728.6h0M42.3 730.8h0M34.4 729.4h0M28.9 729.2h0M23.3 729.2h0M40.4 729.9h0M27.5 727.9h0M24.8 729.4h0M44.6 729.8h0M33.9 729.4h0M38.8 729.7h0M23.1 727.8h0M35.6 728.3h0M23.2 729.5h0M34.3 728.4h0M29.4 728.9h0M30.6 726.8h0M27.6 729.7h0M34.0 729.7h0M35.8 729.9h0M42.1 729.3h0M31.7 729.3h0M32.9 729.0h0M37.6 730.1h0M31.8 727.7h0M24.2 726.6h0M29.3 729.8h0M43.1 730.4h0M29.6 728.4h0M34.8 729.8h0M24.1 728.7h0M38.6 729.0h0M27.9 727.8h0M41.1 729.8h0M27.1 727.1h0M45.3 730.3h0M23.5 729.1h0M25.3 727.6h0M55.8 731.8h0M51.4 731.0h0M41.0 730.5h0M26.6 726.1h0M39.5 728.3h0M31.9 728.4h0M24.2 726.1h0M25.2 728.5h0M29.4 728.5h0M38.0 730.3h0M32.2 727.7h0M28.5 728.8h0M26.0 729.8h0M31.0 728.4h0M31.2 728.8h0M31.2 729.9h0M31.9 726.9h0M47.7 731.0h0M40.4 730.4h0M37.9 729.6h0M30.6 728.2h0M32.8 729.3h0M23.1 729.7h0M45.4 730.9h0M31.5 728.9h0M30.4 727.8h0M28.5 727.2h0M36.3 727.8h0M40.4 728.9h0M31.4 728.4h0M32.6 726.7h0M42.5 729.2h0M40.6 730.0h0M28.7 729.3h0M50.4 730.9h0M32.0 727.9h0M33.5 729.9h0M37.2 728.7h0M42.4 729.8h0M42.8 730.1h0M26.2 728.5h0M34.8 729.9h0M30.7 729.3h0M36.3 728.0h0M27.3 727.6h0M25.6 729.1h0M37.0 729.4h0M28.2 729.3h0M32.1 728.9h0M44.6 729.5h0M44.4 728.7h0M37.0 730.4h0M35.8 730.1h0M35.6 729.1h0M25.8 728.4h0M30.1 728.9h0M31.7 727.4h0M35.4 729.8h0M24.6 728.6h0M32.0 729.1h0M39.7 730.0h0M24.9 728.9h0M33.8 729.9h0M53.8 731.7h0M27.1 729.3h0M42.4 730.8h0M26.5 727.6h0M23.9 724.9h0M23.9 728.9h0M28.3 729.6h0M27.5 729.4h0M24.4 728.7h0M24.8 725.9h0M25.5 728.3h0M28.2 729.7h0M24.7 728.2h0M27.8 728.4h0M33.2 729.3h0M30.4 728.8h0M32.6 729.8h0M26.6 728.5h0M30.9 730.0h0M23.2 728.9h0M28.2 728.4h0M24.1 729.0h0M26.5 728.3h0M36.0 728.8h0M31.6 729.6h0M38.6 730.5h0M25.1 727.4h0M55.9 731.3h0M29.3 729.6h0M29.1 729.9h0M32.4 729.9h0M30.9 725.8h0M39.9 729.7h0M24.3 727.1h0M27.8 726.7h0M33.4 727.8h0M25.9 729.6h0M27.5 727.3h0M53.9 731.5h0M35.0 729.3h0M46.4 729.5h0M37.5 729.5h0M24.3 728.6h0M33.2 729.6h0M48.0 730.2h0M26.0 728.1h0M32.3 727.4h0M63.0 732.9h0M29.9 726.5h0M25.7 725.4h0M24.1 727.4h0M31.1 729.9h0M40.9 729.9h0M31.0 728.8h0M38.0 730.1h0M26.9 726.8h0M27.5 729.6h0M56.3 731.8h0M27.8 729.8h0M42.6 730.2h0M44.2 728.7h0M29.2 726.3h0M33.6 729.5h0M40.4 730.4h0M36.9 729.3h0M28.3 729.4h0M48.1 729.1h0M32.2 728.8h0M31.0 727.9h0M39.6 729.2h0M35.1 728.0h0M45.7 730.4h0M39.1 729.6h0M27.3 728.2h0M26.2 727.3h0M42.9 729.1h0M28.2 728.2h0M31.0 729.2h0M38.3 730.1h0M28.0 727.6h0M52.2 731.0h0M25.8 728.3h0M23.8 728.3h0M64.3 732.7h0M29.2 729.9h0M31.4 725.5h0M36.9 729.0h0M27.2 728.8h0M26.5 729.7h0M38.6 728.2h0M50.5 731.4h0M34.4 728.9h0M23.3 729.4h0M55.5 731.6h0M44.4 730.4h0M26.0 729.6h0M24.5 727.7h0M32.5 730.1h0M26.8 728.6h0M27.4 727.8h0M23.1 729.5h0M39.9 729.6h0M33.5 729.1h0M41.3 728.0h0M36.5 729.9h0M24.8 728.4h0M25.5 728.9h0M27.7 727.6h0M29.5 729.7h0M55.5 732.2h0M26.2 729.2h0M31.1 728.6h0M30.2 727.7h0M34.3 729.4h0M35.7 727.4h0M28.3 727.8h0M25.8 729.0h0M24.0 728.8h0M39.1 728.5h0M25.1 728.7h0M31.7 730.0h0M29.7 725.2h0M27.8 728.7h0M36.0 729.1h0M24.6 727.1h0M28.3 727.6h0M40.5 728.8h0M34.6 730.0h0M26.6 728.4h0M33.4 730.0h0M27.5 729.7h0M26.3 726.5h0M23.6 729.4h0M29.4 729.2h0M28.0 727.9h0M35.5 729.1h0M26.9 728.7h0M23.8 729.6h0M25.1 727.4h0M28.9 728.4h0M26.1 728.4h0M29.7 729.4h0M23.3 729.6h0M24.8 729.1h0M27.4 729.4h0M23.4 728.6h0M26.5 729.2h0M30.2 727.6h0M46.1 730.4h0M45.7 730.7h0M44.1 729.9h0M61.2 732.7h0M25.3 729.6h0M46.2 730.9h0M29.1 729.7h0M26.5 729.3h0M32.4 728.5h0M24.6 728.0h0M31.9 727.5h0M26.7 725.2h0M36.8 729.3h0M44.6 730.0h0M35.4 729.8h0M41.0 730.6h0M37.6 730.0h0M30.7 729.7h0M26.2 726.1h0M37.3 728.3h0M53.6 731.2h0M46.7 728.9h0M33.4 727.1h0M35.8 730.3h0M23.8 726.3h0M30.9 727.4h0M29.1 728.1h0M23.1 728.2h0M59.8 732.1h0M25.8 729.7h0M41.4 730.4h0M25.0 729.5h0M31.8 729.7h0M33.4 729.0h0M28.4 726.4h0M43.7 730.2h0M34.5 728.7h0M33.8 726.9h0M48.0 729.8h0M25.0 727.5h0M33.1 729.4h0M25.0 729.5h0M35.6 730.1h0M35.3 729.3h0M29.9 727.7h0M25.6 729.6h0M30.4 729.5h0M23.4 725.9h0M34.3 730.2h0M28.1 727.4h0M49.7 730.5h0M34.8 728.2h0M29.4 729.3h0M29.0 727.4h0M54.3 731.5h0M30.4 727.8h0M41.1 729.3h0M23.1 726.8h0M35.6 728.8h0M34.8 727.9h0M24.0 723.9h0M24.0 728.3h0M29.1 729.2h0M23.5 727.4h0M41.3 730.2h0M27.0 728.1h0M27.1 728.3h0M31.0 729.7h0M40.9 729.8h0M31.7 729.0h0M28.1 728.0h0M28.9 727.0h0M23.7 726.1h0M44.8 728.6h0M30.8 728.8h0M25.3 729.0h0M23.2 728.0h0M32.7 728.1h0M29.2 729.5h0M25.7 725.3h0M46.3 730.8h0M32.6 729.1h0M26.9 729.7h0M47.2 730.7h0M24.6 727.2h0M30.8 729.2h0M29.2 725.8h0M24.9 729.5h0M40.3 729.9h0M34.4 728.7h0M27.2 726.4h0M27.1 724.8h0M36.0 729.0h0M36.4 728.8h0M36.2 729.7h0M41.2 730.5h0M34.7 728.9h0M27.1 729.0h0M52.8 730.5h0M38.2 729.6h0M23.9 727.6h0M39.0 729.1h0M30.3 725.9h0M29.4 729.4h0M24.7 728.6h0M30.3 728.0h0M44.6 730.2h0M25.7 727.4h0M24.1 728.8h0M24.1 729.4h0M24.9 728.1h0M33.2 729.0h0M30.1 728.4h0M29.6 730.0h0M23.2 727.3h0M24.1 726.9h0M23.7 727.7h0M35.0 729.5h0M48.0 731.2h0M37.6 730.5h0M23.9 728.6h0M41.9 729.9h0M23.4 727.5h0M26.4 729.4h0M26.9 728.9h0M46.1 730.7h0M49.6 731.5h0M24.8 728.1h0M45.9 729.6h0M26.6 723.2h0M35.3 729.1h0M40.4 728.9h0M26.9 729.1h0M23.7 728.5h0M32.1 730.0h0M24.5 729.0h0M38.1 728.2h0M39.8 730.3h0M29.9 728.2h0M30.0 729.9h0M38.6 729.7h0M27.2 729.1h0M25.5 728.3h0M43.2 729.6h0M36.3 729.8h0M38.6 730.0h0M23.6 726.9h0M40.0 728.4h0M36.1 729.3h0M31.5 729.3h0M23.9 728.9h0M34.9 727.6h0M40.2 730.2h0M26.8 729.6h0M25.8 729.7h0M25.9 728.5h0M27.5 729.8h0M28.4 726.5h0M35.5 729.1h0M23.9 727.4h0M51.8 731.1h0M44.3 729.9h0M23.8 728.7h0M32.3 728.4h0M29.9 728.7h0M41.5 729.6h0M32.0 730.0h0M36.7 729.9h0M35.5 729.1h0M28.4 729.5h0M31.1 729.1h0M47.1 730.5h0M36.6 730.0h0M39.3 727.6h0M29.8 729.9h0M24.0 727.5h0M23.1 727.0h0M38.8 729.5h0M25.2 728.8h0M25.0 728.4h0M26.1 726.3h0M56.0 731.4h0M27.6 728.9h0M25.0 726.0h0M25.2 729.3h0M25.1 729.7h0M23.8 729.2h0M39.5 729.1h0M25.7 728.6h0M44.6 730.2h0M50.3 730.9h0M40.5 729.7h0M30.9 727.7h0M31.1 728.8h0M26.4 725.2h0M32.4 727.9h0M46.3 730.2h0M33.2 728.3h0M31.0 728.4h0M28.8 726.9h0M27.1 729.5h0M37.8 728.9h0M34.2 729.7h0M39.1 728.2h0M47.2 731.0h0M29.1 727.8h0M48.8 730.0h0M28.7 728.4h0M31.6 728.5h0M36.9 729.4h0M32.4 729.8h0M25.4 728.3h0M24.2 729.3h0M27.6 726.2h0M39.5 729.7h0M26.7 728.8h0M28.9 726.9h0M51.9 730.4h0M24.5 727.5h0M29.7 726.1h0M28.5 728.5h0M24.0 728.6h0M29.7 727.5h0M37.9 727.5h0M29.6 728.9h0M27.0 727.4h0M31.2 728.1h0M44.6 729.2h0M39.1 729.8h0M23.3 726.3h0M58.8 732.3h0M31.9 729.5h0M28.0 729.1h0M44.1 729.6h0M38.2 729.1h0M34.2 729.4h0M35.4 730.2h0M24.9 729.1h0M52.8 731.7h0M32.9 729.7h0M35.5 728.2h0M24.0 728.9h0M28.5 727.5h0M53.6 731.2h0M36.0 729.3h0M27.1 729.6h0M27.9 729.6h0M24.8 729.4h0M54.0 732.0h0M30.6 729.6h0M33.3 729.5h0M24.0 727.4h0M23.5 726.3h0M31.2 729.9h0M28.2 726.9h0M48.0 730.8h0M37.1 728.7h0M34.3 729.7h0M35.1 729.9h0M35.1 729.8h0M31.0 727.7h0M36.2 729.2h0M28.2 729.4h0M32.2 729.2h0M26.9 727.8h0M29.9 729.4h0M36.3 728.1h0M28.4 728.7h0M31.8 730.1h0M27.0 727.4h0M51.2 731.3h0M32.2 729.9h0M25.0 726.2h0M25.4 728.5h0M27.4 728.7h0M46.5 730.6h0M29.9 728.1h0M24.9 728.0h0M26.6 729.6h0M27.7 728.7h0M33.6 730.1h0M30.5 727.6h0M46.2 729.6h0M23.1 729.7h0M45.5 730.8h0M27.5 728.8h0M25.6 729.1h0M30.2 728.5h0M26.2 726.7h0M42.0 729.6h0M25.9 727.1h0M70.1 734.1h0M28.9 726.5h0M33.6 727.3h0M49.1 730.1h0M25.6 729.8h0M29.4 728.5h0M25.8 728.5h0M32.3 729.9h0M30.0 729.0h0M25.1 726.8h0M62.0 732.9h0M37.1 729.5h0M28.1 728.7h0M24.5 729.3h0M28.1 726.4h0M28.8 729.3h0M33.3 729.9h0M29.8 727.3h0M43.5 730.8h0M48.2 730.9h0M37.3 729.7h0M33.0 727.7h0M50.1 731.1h0M26.6 729.7h0M33.5 727.9h0M28.8 726.0h0M28.8 724.8h0M23.4 728.0h0M32.8 729.6h0M28.3 729.2h0M30.6 729.7h0M58.5 732.0h0M43.3 730.6h0M29.0 727.6h0M41.8 729.7h0M40.0 730.2h0M23.7 721.5h0M34.2 727.7h0M25.3 728.8h0M36.8 728.6h0M26.8 728.4h0M44.3 730.4h0M31.4 729.5h0M24.2 729.1h0M35.2 728.7h0M25.1 728.7h0M40.9 730.0h0M25.7 729.3h0M26.6 727.8h0M23.7 720.6h0M30.8 729.9h0M32.7 730.0h0M33.3 729.0h0M25.6 728.1h0M31.4 730.0h0M27.2 728.1h0M33.6 729.8h0M25.5 728.4h0M31.5 728.6h0M28.9 729.6h0M25.6 729.6h0M38.8 730.2h0M28.9 726.8h0M31.9 729.9h0M32.4 727.7h0M36.9 728.4h0M25.0 728.5h0M33.6 729.0h0M32.8 727.6h0M27.6 729.2h0M27.1 729.2h0M23.9 729.3h0M29.6 726.3h0M28.7 728.4h0M24.1 726.3h0M38.0 729.0h0M25.6 727.1h0M34.4 729.6h0M42.6 730.4h0M37.0 728.3h0M30.3 725.0h0M24.3 728.5h0M34.3 727.3h0M26.3 729.3h0M23.8 729.4h0M42.2 728.5h0M25.0 729.5h0M30.0 729.7h0M28.3 728.9h0M29.9 729.7h0M28.1 729.5h0M24.5 727.6h0M26.5 728.2h0M29.8 728.7h0M36.8 729.4h0M24.0 728.9h0M25.1 727.1h0M54.7 730.9h0M23.1 728.5h0M24.8 727.7h0M38.9 730.3h0M37.0 730.2h0M27.1 729.6h0M40.1 729.4h0M26.2 728.4h0M33.4 729.1h0M26.7 728.8h0M24.1 728.2h0M44.3 729.3h0M43.2 730.3h0M28.1 729.6h0M24.9 727.5h0M28.8 729.2h0M25.3 728.4h0M24.2 729.4h0M25.2 729.0h0M32.6 728.8h0M32.4 729.3h0M43.8 730.1h0M31.0 729.4h0M27.7 729.7h0M33.9 726.5h0M34.9 729.6h0M35.6 728.8h0M26.1 726.2h0M48.6 731.4h0M26.1 729.5h0M30.0 728.8h0M35.2 728.9h0M24.5 729.4h0M24.8 728.6h0M43.5 730.1h0" stroke="#ee3a48" stroke-width="0.8" stroke-linecap="square"/>
<path d="M35.7 740.9h0M23.2 742.7h0M30.1 743.3h0M30.0 742.4h0M36.2 741.3h0M29.8 742.1h0M48.3 741.0h0M31.7 743.9h0M27.9 741.7h0M23.7 744.9h0M23.9 742.9h0M25.2 742.8h0M23.1 743.2h0M35.7 741.6h0M26.5 741.7h0M36.9 741.3h0M29.3 744.4h0M24.4 742.2h0M31.7 741.1h0M35.1 742.2h0M26.2 741.3h0M30.0 742.3h0M43.7 742.3h0M39.8 741.7h0M39.4 741.2h0M29.1 742.2h0M24.7 743.1h0M34.2 740.8h0M26.7 741.8h0M23.8 742.6h0M41.0 742.6h0M25.4 742.7h0M30.2 742.8h0M24.8 741.5h0M27.6 741.4h0M42.1 740.2h0M44.3 740.2h0M31.5 741.1h0M34.6 742.4h0M37.5 741.4h0M29.0 741.9h0M33.3 741.0h0M44.6 741.8h0M27.1 743.9h0M23.6 744.7h0M36.7 742.1h0M25.6 741.3h0M37.2 741.6h0M32.5 742.5h0M26.1 741.2h0M30.4 741.2h0M31.9 742.1h0M32.6 742.5h0M23.0 744.0h0M42.0 740.8h0M31.1 743.8h0M32.3 744.0h0M35.3 741.3h0M24.8 741.4h0M24.9 744.5h0M28.6 744.2h0M30.6 741.4h0M29.9 741.7h0M29.7 741.4h0M32.3 742.6h0M33.7 742.1h0M39.4 741.3h0M39.3 741.4h0M27.9 741.5h0M24.0 742.9h0M44.6 740.8h0M24.1 742.5h0M38.2 741.7h0M35.8 741.4h0M24.2 744.4h0M28.2 745.1h0M23.5 743.1h0M31.0 741.0h0M28.5 745.3h0M25.9 742.3h0M31.4 743.5h0M28.6 741.1h0M27.3 743.0h0M28.3 742.6h0M30.7 742.6h0M28.6 741.2h0M29.0 745.4h0M33.5 741.4h0M50.7 739.6h0M31.6 741.5h0M24.6 742.0h0M25.3 743.1h0M33.9 744.8h0M26.8 742.9h0M29.8 742.4h0M25.3 742.1h0M28.8 741.6h0M29.2 743.6h0M36.1 741.4h0M29.2 742.2h0M27.2 746.1h0M40.1 742.9h0M24.4 743.2h0M27.8 745.5h0M33.8 741.2h0M48.7 740.4h0M39.0 742.9h0M51.2 740.5h0M29.6 742.9h0M26.7 742.9h0M37.3 741.4h0M24.7 742.4h0M24.0 742.9h0M25.3 742.1h0M36.6 741.9h0M39.4 742.8h0M42.1 741.2h0M33.0 743.4h0M28.6 741.3h0M29.0 743.2h0M52.8 739.3h0M24.6 742.2h0M25.6 745.4h0M26.1 743.8h0M30.6 742.1h0M33.1 744.1h0M32.5 742.5h0M29.3 741.6h0M44.3 741.2h0M31.4 743.7h0M26.8 742.1h0M38.5 741.6h0M34.8 740.9h0M25.3 741.5h0M34.9 741.2h0M25.9 742.3h0M23.6 743.0h0M37.4 742.0h0M37.5 742.3h0M26.2 741.8h0M26.7 745.1h0M27.3 741.4h0M29.1 744.0h0M28.7 746.2h0M25.3 741.4h0M24.1 741.3h0M24.0 742.3h0M35.5 741.4h0M49.6 739.8h0M30.9 741.6h0M36.4 742.9h0M36.4 742.8h0M41.7 741.0h0M26.7 741.2h0M48.3 739.9h0M28.8 741.6h0M25.9 742.0h0M33.4 741.3h0M27.4 743.3h0M37.4 742.6h0M30.8 741.7h0M27.1 742.3h0M43.5 740.9h0M38.8 741.2h0M49.0 740.0h0M28.7 741.5h0M31.6 745.4h0M31.8 742.3h0M25.2 741.5h0M33.2 741.9h0M41.8 740.9h0M36.9 740.7h0M24.6 742.6h0M41.0 741.7h0M23.8 741.9h0M51.3 740.8h0M27.7 742.5h0M32.0 743.6h0M26.9 742.7h0M23.8 747.1h0M23.9 742.7h0M34.6 742.4h0M38.4 741.4h0M26.0 741.4h0M36.0 743.0h0M28.2 741.1h0M46.9 740.5h0M24.4 745.0h0M26.9 741.2h0M31.2 741.5h0M24.4 746.2h0M39.7 741.0h0M23.1 744.4h0M36.1 741.1h0M26.2 743.4h0M23.9 743.7h0M49.0 740.9h0M23.1 742.6h0M35.9 741.0h0M24.3 744.4h0M50.8 740.4h0M32.7 741.2h0M25.3 741.9h0M34.9 741.9h0M41.2 740.6h0M25.7 744.3h0M37.2 745.0h0M24.7 743.1h0M24.3 741.2h0M27.6 742.0h0M33.6 742.6h0M32.7 742.4h0M54.5 739.9h0M24.6 745.5h0M24.8 741.3h0M51.5 739.3h0M36.7 742.3h0M24.3 743.8h0M43.5 741.1h0M24.8 741.2h0M30.5 741.2h0M30.8 742.3h0M49.5 739.8h0M32.4 741.3h0M40.5 741.0h0M26.8 743.7h0M27.4 742.8h0M56.1 738.9h0M49.6 740.1h0M24.6 745.3h0M35.1 740.7h0M27.8 741.2h0M27.8 744.4h0M24.6 744.1h0M45.3 741.5h0M39.3 741.0h0M28.6 745.7h0M35.6 740.7h0M36.9 740.9h0M30.6 741.1h0M28.5 741.5h0M62.0 738.7h0M34.8 742.5h0M32.2 742.5h0M46.8 741.4h0M32.3 745.0h0M45.9 740.9h0M25.2 741.7h0M38.0 741.9h0M36.9 740.8h0M28.6 743.5h0M33.3 741.2h0M26.1 745.6h0M39.1 741.5h0M33.9 742.3h0M25.7 746.1h0M25.0 744.9h0M31.9 744.0h0M45.2 740.5h0M26.1 742.4h0M31.8 743.1h0M37.6 740.7h0M48.9 740.1h0M24.0 742.8h0M41.6 741.2h0M30.4 742.9h0M28.9 744.0h0M31.5 743.7h0M39.5 740.8h0M41.6 740.9h0M24.8 742.2h0M25.1 742.3h0M37.4 740.8h0M26.4 741.4h0M25.6 742.5h0M40.7 741.6h0M28.9 741.8h0M27.3 741.4h0M26.0 742.2h0M28.1 743.6h0M38.3 742.0h0M23.2 744.2h0M39.2 741.1h0M24.3 743.7h0M24.4 748.7h0M23.9 742.7h0M30.7 742.2h0M36.6 742.2h0M28.2 741.3h0M23.7 742.5h0M24.1 743.6h0M28.8 742.7h0M25.7 742.3h0M31.6 743.2h0M25.6 742.3h0M26.3 741.7h0M44.2 741.9h0M33.1 741.1h0M27.6 743.4h0M25.5 742.4h0M30.7 741.7h0M26.8 743.4h0M27.4 743.8h0M25.2 741.9h0M33.3 742.8h0M26.9 743.9h0M25.0 742.3h0M40.0 740.6h0M24.8 745.8h0M30.9 743.5h0M28.8 742.6h0M25.4 741.2h0M23.4 743.2h0M44.1 740.4h0M30.4 741.4h0M26.3 742.5h0M37.3 741.8h0M23.5 743.6h0M38.2 741.7h0M26.8 745.9h0M29.0 744.1h0M30.7 741.2h0M24.8 741.4h0M40.0 741.4h0M27.7 745.4h0M36.6 740.6h0M23.1 741.7h0M47.2 741.2h0M34.5 742.3h0M45.0 741.1h0M23.8 742.0h0M36.2 740.7h0M24.6 744.8h0M36.6 742.0h0M30.3 746.4h0M23.1 743.7h0M34.9 741.1h0M27.2 745.8h0M24.6 742.3h0M29.1 741.6h0M28.0 744.7h0M29.1 741.8h0M25.7 744.0h0M50.6 739.5h0M23.0 744.9h0M46.3 742.6h0M25.9 742.2h0M23.2 744.5h0M59.8 738.7h0M28.0 742.9h0M25.7 742.8h0M24.6 741.7h0M28.9 743.2h0M40.3 741.6h0M32.0 741.9h0M30.9 741.5h0M26.5 742.1h0M31.1 741.5h0M38.6 741.6h0M33.9 741.3h0M58.4 738.9h0M29.6 741.0h0M24.2 741.7h0M27.5 742.6h0M28.6 741.5h0M26.8 742.0h0M35.3 741.0h0M28.6 742.3h0M26.5 741.7h0M41.3 740.5h0M27.7 743.4h0M43.3 741.4h0M48.5 740.8h0M25.7 741.2h0M49.7 740.3h0M30.0 741.2h0M27.6 741.5h0M31.2 745.1h0M34.2 741.7h0M27.6 741.7h0M36.9 741.7h0M37.8 742.2h0M41.9 740.7h0M34.6 744.0h0M30.2 741.6h0M37.5 742.0h0M26.6 743.0h0M38.1 740.7h0M49.6 739.5h0M23.6 744.7h0M23.3 741.7h0M34.3 742.3h0M35.4 742.7h0M33.3 741.0h0M33.6 741.6h0M33.0 741.5h0M23.5 743.1h0M37.4 741.5h0M37.9 740.6h0M35.4 741.6h0M24.6 741.3h0M59.2 738.5h0M25.9 742.2h0M23.0 742.6h0M37.7 742.0h0M34.0 743.1h0M30.7 743.4h0M34.3 741.3h0M24.4 741.7h0M49.2 739.6h0M28.1 742.3h0M41.5 741.2h0M29.4 742.6h0M24.4 741.8h0M23.3 741.4h0M26.7 741.5h0M30.0 743.7h0M53.9 739.3h0M35.4 743.0h0M36.1 743.4h0M51.4 740.4h0M39.7 743.6h0M32.3 742.6h0M24.8 745.2h0M25.0 742.8h0M45.2 741.4h0M26.2 743.8h0M27.1 743.3h0M38.5 740.9h0M23.1 742.1h0M25.0 742.7h0M45.1 740.3h0M27.2 742.5h0M28.4 742.4h0M24.5 742.9h0M27.0 742.2h0M42.6 740.3h0M34.6 743.3h0M33.7 741.9h0M28.3 742.1h0M41.6 740.7h0M28.8 742.4h0M63.0 738.1h0M63.7 738.1h0M33.1 743.0h0M29.7 743.5h0M55.9 739.1h0M30.0 744.8h0M34.6 741.3h0M29.1 741.6h0M33.4 741.7h0M29.2 743.8h0M26.9 741.4h0M25.3 743.4h0M46.8 739.9h0M26.3 741.6h0M29.6 742.6h0M28.7 741.8h0M52.9 739.4h0M27.2 741.8h0M39.1 744.6h0M32.6 741.2h0M42.2 740.7h0M23.2 746.3h0M27.9 743.7h0M29.4 741.4h0M38.4 740.7h0M31.5 741.6h0M23.1 744.0h0M23.0 745.6h0M24.9 743.4h0M25.5 745.9h0M44.2 741.2h0M24.0 741.8h0M34.6 741.2h0M34.8 741.3h0M29.1 741.1h0M51.0 739.5h0M41.0 740.9h0M37.7 741.0h0M46.4 741.0h0M24.5 741.6h0M48.1 740.9h0M39.4 742.4h0M29.8 741.8h0M27.1 744.0h0M24.8 741.8h0M27.6 743.5h0M43.6 741.8h0M34.5 741.4h0M37.6 740.9h0M59.6 738.9h0M29.5 742.3h0M55.8 738.8h0M26.6 743.6h0M35.3 741.2h0M31.7 742.3h0M26.0 744.8h0M37.9 741.1h0M49.7 740.3h0M49.4 740.5h0M27.2 742.9h0M25.4 743.7h0M34.3 741.4h0M49.9 739.8h0M35.6 740.9h0M34.9 741.4h0M41.3 742.4h0M33.8 742.0h0M35.4 742.9h0M41.0 742.7h0M32.5 742.9h0M24.7 743.0h0M33.8 741.3h0M26.9 744.3h0M27.5 742.1h0M27.0 743.1h0M34.6 743.7h0M41.3 740.3h0M23.9 741.3h0M32.6 741.7h0M58.9 738.8h0M23.8 741.6h0M40.0 740.4h0M29.9 744.2h0M25.4 742.4h0M30.6 742.8h0M37.2 743.0h0M37.1 741.8h0M26.5 742.0h0M41.0 742.2h0M24.1 741.7h0M24.3 744.3h0M26.1 742.3h0M35.5 740.8h0M42.0 740.5h0M39.6 740.7h0M35.4 743.0h0M26.3 743.7h0M23.2 741.4h0M48.2 739.9h0M23.2 741.8h0M24.8 742.0h0M30.1 743.9h0M28.4 743.9h0M36.6 741.4h0M29.1 742.1h0M24.4 743.5h0M37.1 741.3h0M29.0 746.4h0M29.5 741.9h0M30.5 742.8h0M33.9 744.2h0M46.6 740.4h0M31.2 741.0h0M32.3 741.7h0M25.8 741.7h0M28.2 741.5h0M27.0 743.6h0M30.4 741.2h0M25.4 742.6h0M39.4 740.5h0M28.4 742.7h0M23.5 745.3h0M51.0 739.7h0M30.1 744.0h0M29.4 742.5h0M35.4 741.9h0M24.5 745.4h0M29.3 742.1h0M30.1 744.2h0M46.7 740.9h0M23.7 743.7h0M23.5 743.2h0M25.2 743.5h0M38.2 741.0h0M29.5 743.0h0M37.3 741.2h0M35.7 740.9h0M37.9 742.3h0M35.2 740.7h0M39.0 743.2h0M36.2 742.3h0M58.7 739.3h0M30.3 741.7h0M42.4 740.4h0M38.3 743.6h0M24.4 742.3h0M29.6 743.7h0M24.0 743.0h0M23.0 743.9h0M39.6 740.8h0M44.9 740.8h0M29.0 743.6h0M38.4 741.3h0M28.1 741.1h0M32.8 742.4h0M25.2 745.0h0M33.1 741.6h0M28.8 741.8h0M32.7 742.7h0M30.5 742.7h0M23.7 743.2h0M26.0 741.9h0M26.1 744.2h0M37.7 741.0h0M43.4 740.4h0M49.3 740.5h0M24.9 742.0h0M31.7 741.8h0M25.3 743.4h0M41.0 741.3h0M36.1 741.4h0M29.3 741.6h0M27.3 741.5h0M40.7 741.7h0M24.5 744.0h0M41.6 740.9h0M32.5 742.9h0M25.1 741.7h0M24.1 741.6h0M27.1 741.9h0M33.6 741.9h0M33.5 741.3h0M33.8 744.8h0M26.8 744.2h0M37.6 742.5h0M36.3 741.6h0M38.3 740.5h0M31.4 741.9h0M39.0 741.3h0M25.5 743.0h0M49.6 740.1h0M24.5 741.8h0M29.1 743.0h0M24.5 743.4h0M23.7 743.4h0M24.6 743.7h0M27.7 744.2h0M25.8 744.7h0M46.3 740.4h0M39.7 741.8h0M43.2 741.5h0M25.3 744.1h0M27.0 743.0h0M38.0 741.9h0M24.2 741.9h0M31.9 741.5h0M45.0 740.7h0M27.8 743.7h0M56.5 739.1h0M23.5 744.7h0M37.0 741.5h0M23.1 744.9h0M29.8 741.3h0M32.4 741.6h0M33.4 741.5h0M29.8 745.2h0M46.2 740.5h0M27.9 742.6h0M23.9 742.6h0M23.1 743.7h0M27.6 742.3h0M27.5 742.5h0M49.7 740.4h0M58.0 739.1h0M29.4 742.0h0M28.1 742.2h0M54.3 740.0h0M29.5 742.6h0M24.1 742.6h0M28.9 742.1h0M23.9 743.0h0M42.8 740.7h0M23.6 741.5h0M37.1 740.7h0M37.3 741.0h0M30.4 741.1h0M40.5 741.4h0M27.7 744.9h0M30.8 741.2h0M29.6 743.8h0M40.0 740.5h0M43.6 740.7h0M45.9 740.8h0M24.2 743.6h0M26.8 744.4h0M29.4 742.2h0M23.5 741.9h0M25.4 743.2h0M25.6 743.3h0M29.2 744.4h0M24.8 742.5h0M24.6 743.2h0M29.1 741.2h0M25.3 746.2h0M37.3 740.7h0M29.0 744.3h0M23.6 743.9h0M24.6 742.8h0M31.1 741.4h0M28.6 742.6h0M30.1 743.7h0M33.5 741.4h0M33.2 741.6h0M39.6 740.6h0M23.0 746.9h0M40.9 741.7h0M29.6 743.2h0M29.9 741.4h0M33.2 742.6h0M34.8 742.3h0M28.8 742.0h0M37.6 741.7h0M39.2 743.5h0M37.6 741.2h0M23.2 742.4h0M26.3 741.7h0M29.5 741.8h0M25.4 744.1h0M33.3 742.1h0M41.7 740.5h0M33.6 743.5h0M24.2 744.4h0M40.6 741.4h0M23.5 744.3h0M35.4 742.3h0M24.2 743.3h0M49.0 741.0h0M28.9 741.5h0M25.7 743.1h0M39.7 740.4h0M35.4 740.8h0M23.6 742.2h0M38.1 741.1h0M49.6 739.8h0M36.3 741.2h0M27.7 742.5h0M51.7 739.8h0M25.4 742.5h0M29.9 742.9h0M25.6 743.9h0M29.5 741.6h0M32.7 742.7h0M27.1 746.3h0M26.8 741.9h0M31.9 744.6h0M54.4 739.1h0M30.8 742.4h0M31.0 744.1h0M24.5 742.9h0M27.2 741.7h0M24.8 741.7h0M23.4 743.5h0M26.8 742.3h0M55.1 739.7h0M23.9 742.7h0M28.5 743.8h0M39.4 741.1h0M26.9 742.2h0M24.3 741.6h0M37.7 742.7h0M24.8 741.9h0M33.8 741.1h0M43.7 741.5h0M25.2 744.9h0M24.4 743.0h0M26.9 744.8h0M29.8 741.4h0M24.2 742.1h0M23.6 744.7h0M37.1 741.8h0M27.6 741.9h0M39.2 740.7h0M28.9 743.2h0M42.3 742.3h0M24.0 743.6h0M36.8 740.8h0M32.6 741.4h0M25.5 743.8h0M23.1 742.1h0M29.3 741.5h0M51.9 739.5h0M25.7 743.2h0M34.0 742.5h0M27.0 743.3h0M27.8 743.1h0M31.9 744.1h0M51.1 739.8h0M33.7 742.0h0M28.9 741.8h0M37.8 741.2h0M23.3 742.0h0M40.8 741.3h0M38.6 741.6h0M47.7 741.9h0M40.1 743.3h0M24.0 743.6h0M25.7 742.1h0M29.0 742.5h0M26.0 744.0h0M25.4 741.9h0M31.5 741.9h0M28.5 741.9h0M29.3 743.5h0M31.2 741.8h0M25.5 744.6h0M30.3 744.3h0M26.6 743.2h0M33.2 741.2h0M39.1 741.8h0M38.9 740.7h0M36.3 743.1h0M32.0 741.8h0M35.7 741.4h0M25.8 742.4h0M53.1 739.7h0M34.3 744.2h0M56.9 738.8h0M24.9 742.5h0M28.4 744.0h0M24.9 744.0h0M59.4 738.6h0M44.1 740.9h0M25.7 742.0h0M32.5 743.7h0M26.1 741.5h0M45.1 741.3h0M42.6 740.5h0M27.3 743.1h0M33.3 742.7h0M39.0 742.1h0M23.5 741.2h0M34.5 742.6h0M24.2 745.5h0M26.7 743.1h0M24.1 743.4h0M38.0 741.4h0M30.4 741.7h0M26.3 741.3h0M23.7 745.1h0M30.8 742.7h0M27.8 744.4h0M27.7 742.5h0M27.3 742.3h0M24.3 742.8h0M28.4 744.5h0M30.7 741.1h0M28.9 744.8h0M42.8 741.0h0M29.1 742.5h0M25.0 744.3h0M26.9 742.3h0M24.6 744.6h0M39.8 741.0h0M26.7 741.5h0M26.7 744.1h0M23.0 743.3h0M46.0 741.1h0M28.6 744.6h0M33.6 741.1h0M27.8 742.1h0M26.5 744.8h0M37.0 741.9h0M24.4 741.3h0M25.9 741.7h0M40.8 741.3h0M45.7 740.4h0M59.2 738.5h0M27.6 742.1h0M25.2 742.5h0M28.5 742.0h0M32.3 741.0h0M37.2 742.6h0M28.0 741.8h0M24.1 741.4h0M23.2 741.4h0M25.8 744.2h0M31.1 744.0h0M23.6 744.1h0M23.0 743.8h0M28.1 741.8h0M24.7 743.1h0M24.4 743.5h0M25.2 743.4h0M23.6 741.4h0M28.3 741.1h0M24.4 747.2h0M26.6 744.5h0M28.0 742.3h0M36.7 741.5h0M32.5 743.2h0M50.8 740.4h0M28.6 742.9h0M34.2 740.8h0M30.2 741.3h0M37.3 742.9h0M30.6 743.6h0M25.9 744.1h0M27.6 741.8h0M35.7 740.9h0M29.2 744.5h0M34.2 741.9h0M33.1 741.8h0M25.5 744.8h0M25.1 741.8h0M31.9 742.9h0M31.3 741.5h0M26.8 745.5h0M38.0 740.7h0M23.4 744.2h0M32.4 741.6h0M27.6 742.6h0M26.3 746.0h0M38.5 742.7h0M27.3 741.2h0M31.2 741.0h0M35.8 740.9h0M23.6 741.2h0M58.0 738.8h0M30.9 741.6h0M34.8 740.9h0M23.4 741.3h0M28.6 744.0h0M23.4 742.6h0M40.3 741.7h0M38.2 742.2h0M25.6 746.9h0M25.7 741.2h0M23.9 742.1h0M28.3 742.5h0M24.1 741.3h0M31.0 741.7h0M26.5 742.4h0M32.8 743.0h0M38.2 740.5h0M48.6 740.1h0M26.6 745.1h0M28.4 741.8h0M24.2 745.4h0M55.1 739.0h0M26.3 742.9h0M23.6 741.9h0M39.7 741.3h0M28.9 742.9h0M25.8 742.5h0M26.6 744.0h0M32.7 743.7h0M24.4 741.5h0M29.8 741.7h0M26.2 745.2h0M27.4 742.2h0M41.0 741.2h0M41.0 743.2h0M26.0 742.2h0M52.6 739.2h0M34.0 740.8h0M32.7 742.2h0M31.9 742.9h0M25.6 743.2h0M41.8 741.7h0M33.6 742.8h0M28.8 743.1h0M62.7 738.3h0M36.5 741.8h0M26.2 744.8h0M24.6 749.6h0M24.2 742.7h0M26.3 741.4h0M27.9 745.5h0M27.3 742.4h0M37.4 740.9h0M25.2 741.6h0M31.1 741.9h0M27.1 744.7h0M37.6 740.7h0M42.3 744.7h0M25.3 744.8h0M29.7 745.8h0M25.8 742.7h0M25.5 742.3h0M23.6 741.3h0M27.3 742.6h0M35.9 741.5h0M36.3 741.2h0M44.4 740.6h0M30.8 745.4h0M24.5 742.0h0M40.2 742.4h0M28.6 742.8h0M28.5 744.4h0M36.9 742.3h0M49.5 740.3h0M25.9 742.6h0M36.7 741.3h0M28.5 742.4h0M26.8 746.0h0M37.8 740.7h0M33.1 743.0h0M37.3 742.8h0" stroke="#5060b8" stroke-width="0.8" stroke-linecap="square"/>
<path d="M23.0 729.5 L25.8 729.5 L28.6 729.7 L31.4 729.8 L34.2 730.0 L37.0 730.2 L39.8 730.4 L42.6 730.6 L45.4 730.9 L48.2 731.2 L51.0 731.5 L53.8 731.8 L56.6 732.1 L59.4 732.5 L62.2 732.9 L65.0 733.3 L67.8 733.7 L70.6 734.1 L73.4 734.6 L76.2 735.0 L79.0 735.5 L79.0 735.5 L76.2 736.0 L73.4 736.4 L70.6 736.9 L67.8 737.3 L65.0 737.7 L62.2 738.1 L59.4 738.5 L56.6 738.9 L53.8 739.2 L51.0 739.5 L48.2 739.8 L45.4 740.1 L42.6 740.4 L39.8 740.6 L37.0 740.8 L34.2 741.0 L31.4 741.2 L28.6 741.3 L25.8 741.5 L23.0 741.5Z" fill="#000"/>
<text x="62.3" y="721.5" font-size="6.4" text-anchor="middle" fill="#e0352f" stroke="#e0352f" stroke-width="0.16">1340 peaks</text>
<text x="62.3" y="752.3" font-size="6.4" text-anchor="middle" fill="#2f44a0" stroke="#2f44a0" stroke-width="0.16">2643 peaks</text>
<line x1="110.3" y1="711" x2="110.3" y2="760.8" stroke="#333" stroke-width="0.6"/>
<line x1="108.7" y1="712" x2="110.3" y2="712" stroke="#333" stroke-width="0.6"/>
<text x="107.7" y="713.8" font-size="5" text-anchor="end" fill="#444" stroke="#444" stroke-width="0.12">5</text>
<line x1="108.7" y1="735" x2="110.3" y2="735" stroke="#333" stroke-width="0.6"/>
<text x="107.7" y="736.8" font-size="5" text-anchor="end" fill="#444" stroke="#444" stroke-width="0.12">0</text>
<line x1="108.7" y1="758.6" x2="110.3" y2="758.6" stroke="#333" stroke-width="0.6"/>
<text x="107.7" y="760.4" font-size="5" text-anchor="end" fill="#444" stroke="#444" stroke-width="0.12">-5</text>
<line x1="110.3" y1="760.8" x2="179" y2="760.8" stroke="#333" stroke-width="0.6"/>
<line x1="124.5" y1="760.8" x2="124.5" y2="762.4" stroke="#333" stroke-width="0.6"/>
<text x="124.5" y="768.6" font-size="5" text-anchor="middle" fill="#333" stroke="#333" stroke-width="0.12">6</text>
<line x1="142.6" y1="760.8" x2="142.6" y2="762.4" stroke="#333" stroke-width="0.6"/>
<text x="142.6" y="768.6" font-size="5" text-anchor="middle" fill="#333" stroke="#333" stroke-width="0.12">8</text>
<line x1="163.3" y1="760.8" x2="163.3" y2="762.4" stroke="#333" stroke-width="0.6"/>
<text x="163.3" y="768.6" font-size="5" text-anchor="middle" fill="#333" stroke="#333" stroke-width="0.12">10</text>
<text x="142" y="689" font-size="7.7" text-anchor="middle" stroke="#1a1a1a" stroke-width="0.19">c-FOS/Afatinib</text>
<text x="142" y="698" font-size="7.7" text-anchor="middle" stroke="#1a1a1a" stroke-width="0.19">vs c-FOS/DMSO</text>
<path d="M111.8 730.8 L114.6 730.8 L117.4 730.9 L120.2 731.0 L123.0 731.1 L125.8 731.2 L128.7 731.4 L131.5 731.6 L134.3 731.7 L137.1 731.9 L139.9 732.2 L142.7 732.4 L145.5 732.6 L148.3 732.9 L151.1 733.1 L153.9 733.4 L156.8 733.7 L159.6 734.0 L162.4 734.3 L165.2 734.6 L168.0 734.9 L168.0 734.9 L165.2 735.2 L162.4 735.5 L159.6 735.8 L156.8 736.1 L153.9 736.4 L151.1 736.7 L148.3 736.9 L145.5 737.2 L142.7 737.4 L139.9 737.6 L137.1 737.9 L134.3 738.1 L131.5 738.2 L128.7 738.4 L125.8 738.6 L123.0 738.7 L120.2 738.8 L117.4 738.9 L114.6 739.0 L111.8 739.0Z" fill="#000"/>
<text x="147.6" y="723.6" font-size="6.4" text-anchor="middle" fill="#e0352f" stroke="#e0352f" stroke-width="0.16">31 peaks</text>
<text x="147.6" y="754.3" font-size="6.4" text-anchor="middle" fill="#2f44a0" stroke="#2f44a0" stroke-width="0.16">85 peaks</text>
<line x1="195.8" y1="710.2" x2="195.8" y2="760.8" stroke="#333" stroke-width="0.6"/>
<line x1="194.2" y1="711.2" x2="195.8" y2="711.2" stroke="#333" stroke-width="0.6"/>
<text x="193.2" y="713" font-size="5" text-anchor="end" fill="#444" stroke="#444" stroke-width="0.12">5</text>
<line x1="194.2" y1="734.6" x2="195.8" y2="734.6" stroke="#333" stroke-width="0.6"/>
<text x="193.2" y="736.4" font-size="5" text-anchor="end" fill="#444" stroke="#444" stroke-width="0.12">0</text>
<line x1="194.2" y1="758.5" x2="195.8" y2="758.5" stroke="#333" stroke-width="0.6"/>
<text x="193.2" y="760.3" font-size="5" text-anchor="end" fill="#444" stroke="#444" stroke-width="0.12">-5</text>
<line x1="195.8" y1="760.8" x2="264.2" y2="760.8" stroke="#333" stroke-width="0.6"/>
<line x1="209.6" y1="760.8" x2="209.6" y2="762.4" stroke="#333" stroke-width="0.6"/>
<text x="209.6" y="768.6" font-size="5" text-anchor="middle" fill="#333" stroke="#333" stroke-width="0.12">6</text>
<line x1="228.8" y1="760.8" x2="228.8" y2="762.4" stroke="#333" stroke-width="0.6"/>
<text x="228.8" y="768.6" font-size="5" text-anchor="middle" fill="#333" stroke="#333" stroke-width="0.12">8</text>
<line x1="248.8" y1="760.8" x2="248.8" y2="762.4" stroke="#333" stroke-width="0.6"/>
<text x="248.8" y="768.6" font-size="5" text-anchor="middle" fill="#333" stroke="#333" stroke-width="0.12">10</text>
<text x="228.4" y="689" font-size="7.7" text-anchor="middle" stroke="#1a1a1a" stroke-width="0.19">c-FOS/UO126</text>
<text x="228.4" y="698" font-size="7.7" text-anchor="middle" stroke="#1a1a1a" stroke-width="0.19">vs c-FOS/DMSO</text>
<path d="M197.0 730.4 L199.9 730.4 L202.9 730.5 L205.8 730.6 L208.8 730.7 L211.8 730.9 L214.7 731.0 L217.7 731.2 L220.6 731.4 L223.6 731.6 L226.5 731.8 L229.4 732.0 L232.4 732.3 L235.3 732.5 L238.3 732.8 L241.2 733.1 L244.2 733.3 L247.2 733.6 L250.1 733.9 L253.1 734.3 L256.0 734.6 L256.0 734.6 L253.1 734.9 L250.1 735.3 L247.2 735.6 L244.2 735.9 L241.2 736.1 L238.3 736.4 L235.3 736.7 L232.4 736.9 L229.4 737.2 L226.5 737.4 L223.6 737.6 L220.6 737.8 L217.7 738.0 L214.7 738.2 L211.8 738.3 L208.8 738.5 L205.8 738.6 L202.9 738.7 L199.9 738.8 L197.0 738.8Z" fill="#000"/>
<text x="238.8" y="721.5" font-size="6.4" text-anchor="middle" fill="#e0352f" stroke="#e0352f" stroke-width="0.16">34 peaks</text>
<text x="238.8" y="752.3" font-size="6.4" text-anchor="middle" fill="#2f44a0" stroke="#2f44a0" stroke-width="0.16">29 peaks</text>
<text x="149" y="778.2" font-size="7.3" text-anchor="middle" stroke="#1a1a1a" stroke-width="0.18">log<tspan font-size="4" dy="1.5">2</tspan><tspan dy="-1.5">(mean expression)</tspan></text>
<text x="268" y="275.1" font-size="11.5" fill="#000" font-weight="bold">G</text>
<text x="384.6" y="280.5" font-size="10" text-anchor="middle" stroke="#1a1a1a" stroke-width="0.25">ASZ</text>
<line x1="304.6" y1="284" x2="487.7" y2="284" stroke="#777" stroke-width="1"/>
<text x="312.3" y="297.9" font-size="10.8" fill="#2b3a8e" stroke="#2b3a8e" stroke-width="0.27">expBST DN</text>
<text x="426.8" y="297.9" font-size="10.8" fill="#e0242c" stroke="#e0242c" stroke-width="0.27">expBST UP</text>
<line x1="306.2" y1="310" x2="306.2" y2="372" stroke="#333" stroke-width="0.6"/>
<line x1="304.6" y1="310" x2="306.2" y2="310" stroke="#333" stroke-width="0.6"/>
<text x="303.6" y="311.7" font-size="4.6" text-anchor="end" fill="#333" stroke="#333" stroke-width="0.11">2000</text>
<line x1="304.6" y1="325.4" x2="306.2" y2="325.4" stroke="#333" stroke-width="0.6"/>
<text x="303.6" y="327.1" font-size="4.6" text-anchor="end" fill="#333" stroke="#333" stroke-width="0.11">1500</text>
<line x1="304.6" y1="341.2" x2="306.2" y2="341.2" stroke="#333" stroke-width="0.6"/>
<text x="303.6" y="342.9" font-size="4.6" text-anchor="end" fill="#333" stroke="#333" stroke-width="0.11">1000</text>
<line x1="304.6" y1="356.6" x2="306.2" y2="356.6" stroke="#333" stroke-width="0.6"/>
<text x="303.6" y="358.3" font-size="4.6" text-anchor="end" fill="#333" stroke="#333" stroke-width="0.11">500</text>
<line x1="304.6" y1="372" x2="306.2" y2="372" stroke="#333" stroke-width="0.6"/>
<text x="303.6" y="373.7" font-size="4.6" text-anchor="end" fill="#333" stroke="#333" stroke-width="0.11">0</text>
<line x1="306.2" y1="372" x2="368" y2="372" stroke="#333" stroke-width="0.6"/>
<line x1="317" y1="372" x2="317" y2="373.6" stroke="#333" stroke-width="0.5"/>
<line x1="331.5" y1="372" x2="331.5" y2="373.6" stroke="#333" stroke-width="0.5"/>
<line x1="345.8" y1="372" x2="345.8" y2="373.6" stroke="#333" stroke-width="0.5"/>
<line x1="360.5" y1="372" x2="360.5" y2="373.6" stroke="#333" stroke-width="0.5"/>
<line x1="313.5" y1="327.4" x2="320.8" y2="327.4" stroke="#25266e" stroke-width="0.8"/>
<circle cx="313.5" cy="327.4" r="1.4" fill="#25266e"/>
<circle cx="320.8" cy="327.4" r="1.4" fill="#25266e"/>
<line x1="326.5" y1="369" x2="336.5" y2="369" stroke="#8a8fc0" stroke-width="0.9"/>
<rect x="329.8" y="365.5" width="3.2" height="6.5" fill="#25266e"/>
<line x1="342" y1="358.8" x2="349.5" y2="358.6" stroke="#25266e" stroke-width="0.8"/>
<path d="M340.6 360 l1.4-2.6 l1.4 2.6z M348.1 359.8 l1.4-2.6 l1.4 2.6z" fill="#25266e"/>
<line x1="355.5" y1="356" x2="365" y2="356" stroke="#8a8fc0" stroke-width="0.9"/>
<path d="M358.6 350.6 h2.8 l-1.4 2.4z M358.6 356.7 h2.8 l-1.4 2.4z" fill="#25266e"/>
<line x1="332.3" y1="349.5" x2="345.8" y2="349.5" stroke="#444" stroke-width="0.6"/>
<text x="339.2" y="350" font-size="8" text-anchor="middle" fill="#222">*</text>
<line x1="332.3" y1="342" x2="359.7" y2="342" stroke="#444" stroke-width="0.6"/>
<text x="346.5" y="341.9" font-size="8" text-anchor="middle" fill="#222">*</text>
<text transform="translate(283 338) rotate(-90)" x="0" y="2.4" font-size="6.6" text-anchor="middle" fill="#333" stroke="#333" stroke-width="0.17">relative enrichment</text>
<text transform="translate(289.6 338) rotate(-90)" x="0" y="2.4" font-size="6.6" text-anchor="middle" fill="#333" stroke="#333" stroke-width="0.17">( μrank)</text>
<text x="280" y="381.9" font-size="7.4" stroke="#1a1a1a" stroke-width="0.19">c-FOS</text>
<text x="317" y="381.9" font-size="7.5" text-anchor="middle" fill="#222" font-weight="bold">-</text>
<text x="331.5" y="381.9" font-size="7.5" text-anchor="middle" fill="#222" font-weight="bold">+</text>
<text x="345.8" y="381.9" font-size="7.5" text-anchor="middle" fill="#222" font-weight="bold">+</text>
<text x="360.5" y="381.9" font-size="7.5" text-anchor="middle" fill="#222" font-weight="bold">+</text>
<text x="280" y="389.2" font-size="7.4" stroke="#1a1a1a" stroke-width="0.19">UO126</text>
<text x="317" y="389.2" font-size="7.5" text-anchor="middle" fill="#222" font-weight="bold">-</text>
<text x="331.5" y="389.2" font-size="7.5" text-anchor="middle" fill="#222" font-weight="bold">-</text>
<text x="345.8" y="389.2" font-size="7.5" text-anchor="middle" fill="#222" font-weight="bold">+</text>
<text x="360.5" y="389.2" font-size="7.5" text-anchor="middle" fill="#222" font-weight="bold">-</text>
<text x="280" y="396.5" font-size="7.4" stroke="#1a1a1a" stroke-width="0.19">Afatinib</text>
<text x="317" y="396.5" font-size="7.5" text-anchor="middle" fill="#222" font-weight="bold">-</text>
<text x="331.5" y="396.5" font-size="7.5" text-anchor="middle" fill="#222" font-weight="bold">-</text>
<text x="345.8" y="396.5" font-size="7.5" text-anchor="middle" fill="#222" font-weight="bold">-</text>
<text x="360.5" y="396.5" font-size="7.5" text-anchor="middle" fill="#222" font-weight="bold">+</text>
<line x1="420.3" y1="309.7" x2="420.3" y2="372.3" stroke="#333" stroke-width="0.6"/>
<line x1="418.7" y1="309.7" x2="420.3" y2="309.7" stroke="#333" stroke-width="0.6"/>
<text x="417.7" y="311.4" font-size="4.6" text-anchor="end" fill="#333" stroke="#333" stroke-width="0.11">4000</text>
<line x1="418.7" y1="325.4" x2="420.3" y2="325.4" stroke="#333" stroke-width="0.6"/>
<text x="417.7" y="327.1" font-size="4.6" text-anchor="end" fill="#333" stroke="#333" stroke-width="0.11">3000</text>
<line x1="418.7" y1="340.8" x2="420.3" y2="340.8" stroke="#333" stroke-width="0.6"/>
<text x="417.7" y="342.5" font-size="4.6" text-anchor="end" fill="#333" stroke="#333" stroke-width="0.11">2000</text>
<line x1="418.7" y1="356.5" x2="420.3" y2="356.5" stroke="#333" stroke-width="0.6"/>
<text x="417.7" y="358.2" font-size="4.6" text-anchor="end" fill="#333" stroke="#333" stroke-width="0.11">1000</text>
<line x1="418.7" y1="372.3" x2="420.3" y2="372.3" stroke="#333" stroke-width="0.6"/>
<text x="417.7" y="374" font-size="4.6" text-anchor="end" fill="#333" stroke="#333" stroke-width="0.11">0</text>
<line x1="420.3" y1="372.3" x2="482" y2="372.3" stroke="#333" stroke-width="0.6"/>
<line x1="430" y1="372.3" x2="430" y2="374" stroke="#333" stroke-width="0.5"/>
<line x1="444.6" y1="372.3" x2="444.6" y2="374" stroke="#333" stroke-width="0.5"/>
<line x1="459.2" y1="372.3" x2="459.2" y2="374" stroke="#333" stroke-width="0.5"/>
<line x1="473.8" y1="372.3" x2="473.8" y2="374" stroke="#333" stroke-width="0.5"/>
<line x1="426.5" y1="372" x2="433.5" y2="371.5" stroke="#d8202a" stroke-width="0.8"/>
<circle cx="426.5" cy="372" r="1.3" fill="#d8202a"/>
<circle cx="433.5" cy="371.5" r="1.3" fill="#d8202a"/>
<line x1="441.5" y1="326.2" x2="448" y2="325.5" stroke="#d8202a" stroke-width="0.8"/>
<rect x="440.2" y="325" width="2.6" height="2.6" fill="#d8202a"/>
<rect x="446.7" y="324.2" width="2.6" height="2.6" fill="#d8202a"/>
<line x1="455.5" y1="336.5" x2="463" y2="336.2" stroke="#d8202a" stroke-width="0.8"/>
<path d="M454.1 337.6 l1.4-2.5 l1.4 2.5z M461.6 337.3 l1.4-2.5 l1.4 2.5z" fill="#d8202a"/>
<line x1="469.6" y1="338.6" x2="477" y2="338.4" stroke="#d8202a" stroke-width="0.8"/>
<path d="M468.2 337.5 h2.8 l-1.4 2.4z M475.6 337.3 h2.8 l-1.4 2.4z" fill="#d8202a"/>
<line x1="445.8" y1="317.7" x2="459.2" y2="317.7" stroke="#444" stroke-width="0.6"/>
<text x="452.5" y="319.5" font-size="9.5" text-anchor="middle" fill="#222">**</text>
<line x1="445.8" y1="311.2" x2="473" y2="311.2" stroke="#444" stroke-width="0.6"/>
<text x="459.4" y="312.3" font-size="9.5" text-anchor="middle" fill="#222">***</text>
<text transform="translate(397.7 341) rotate(-90)" x="0" y="2.4" font-size="6.6" text-anchor="middle" fill="#333" stroke="#333" stroke-width="0.17">relative enrichment</text>
<text transform="translate(403.6 341) rotate(-90)" x="0" y="2.4" font-size="6.6" text-anchor="middle" fill="#333" stroke="#333" stroke-width="0.17">( μrank)</text>
<text x="395.4" y="382.4" font-size="7.4" stroke="#1a1a1a" stroke-width="0.19">c-FOS</text>
<text x="430" y="382.4" font-size="7.5" text-anchor="middle" fill="#222" font-weight="bold">-</text>
<text x="444.6" y="382.4" font-size="7.5" text-anchor="middle" fill="#222" font-weight="bold">+</text>
<text x="459.2" y="382.4" font-size="7.5" text-anchor="middle" fill="#222" font-weight="bold">+</text>
<text x="473.8" y="382.4" font-size="7.5" text-anchor="middle" fill="#222" font-weight="bold">+</text>
<text x="395.4" y="389.8" font-size="7.4" stroke="#1a1a1a" stroke-width="0.19">UO126</text>
<text x="430" y="389.8" font-size="7.5" text-anchor="middle" fill="#222" font-weight="bold">-</text>
<text x="444.6" y="389.8" font-size="7.5" text-anchor="middle" fill="#222" font-weight="bold">-</text>
<text x="459.2" y="389.8" font-size="7.5" text-anchor="middle" fill="#222" font-weight="bold">+</text>
<text x="473.8" y="389.8" font-size="7.5" text-anchor="middle" fill="#222" font-weight="bold">-</text>
<text x="395.4" y="397.2" font-size="7.4" stroke="#1a1a1a" stroke-width="0.19">Afatinib</text>
<text x="430" y="397.2" font-size="7.5" text-anchor="middle" fill="#222" font-weight="bold">-</text>
<text x="444.6" y="397.2" font-size="7.5" text-anchor="middle" fill="#222" font-weight="bold">-</text>
<text x="459.2" y="397.2" font-size="7.5" text-anchor="middle" fill="#222" font-weight="bold">-</text>
<text x="473.8" y="397.2" font-size="7.5" text-anchor="middle" fill="#222" font-weight="bold">+</text>
<text x="268.3" y="418.9" font-size="11.5" fill="#000" font-weight="bold">H</text>
<rect x="292.3" y="417.8" width="11" height="3.8" fill="#2977ba"/><rect x="303" y="417.8" width="11" height="3.8" fill="#4a90cf"/><rect x="313.6" y="417.8" width="11" height="3.8" fill="#f3f7fd"/><rect x="324.3" y="417.8" width="11" height="3.8" fill="#d8e6f5"/><rect x="335" y="417.8" width="11" height="3.8" fill="#2b79bb"/><rect x="345.6" y="417.8" width="11" height="3.8" fill="#4b90cf"/><rect x="356.3" y="417.8" width="11" height="3.8" fill="#468dcc"/><rect x="366.9" y="417.8" width="11" height="3.8" fill="#2473b7"/><rect x="292.3" y="421.3" width="11" height="3.8" fill="#185999"/><rect x="303" y="421.3" width="11" height="3.8" fill="#428aca"/><rect x="313.6" y="421.3" width="11" height="3.8" fill="#e4eef8"/><rect x="324.3" y="421.3" width="11" height="3.8" fill="#dfebf7"/><rect x="335" y="421.3" width="11" height="3.8" fill="#6ea9d7"/><rect x="345.6" y="421.3" width="11" height="3.8" fill="#438bcb"/><rect x="356.3" y="421.3" width="11" height="3.8" fill="#2776b9"/><rect x="366.9" y="421.3" width="11" height="3.8" fill="#3681c2"/><rect x="292.3" y="424.8" width="11" height="3.8" fill="#175898"/><rect x="303" y="424.8" width="11" height="3.8" fill="#3e87c8"/><rect x="313.6" y="424.8" width="11" height="3.8" fill="#f4f8fd"/><rect x="324.3" y="424.8" width="11" height="3.8" fill="#edf3fb"/><rect x="335" y="424.8" width="11" height="3.8" fill="#70aad7"/><rect x="345.6" y="424.8" width="11" height="3.8" fill="#2775b9"/><rect x="356.3" y="424.8" width="11" height="3.8" fill="#478ecd"/><rect x="366.9" y="424.8" width="11" height="3.8" fill="#1d66a8"/><rect x="292.3" y="428.3" width="11" height="3.8" fill="#2574b8"/><rect x="303" y="428.3" width="11" height="3.8" fill="#4189c9"/><rect x="313.6" y="428.3" width="11" height="3.8" fill="#d7e5f4"/><rect x="324.3" y="428.3" width="11" height="3.8" fill="#dae8f5"/><rect x="335" y="428.3" width="11" height="3.8" fill="#98c6e0"/><rect x="345.6" y="428.3" width="11" height="3.8" fill="#144f8f"/><rect x="356.3" y="428.3" width="11" height="3.8" fill="#6ea9d7"/><rect x="366.9" y="428.3" width="11" height="3.8" fill="#1a60a1"/><rect x="292.3" y="431.8" width="11" height="3.8" fill="#2272b6"/><rect x="303" y="431.8" width="11" height="3.8" fill="#3d86c7"/><rect x="313.6" y="431.8" width="11" height="3.8" fill="#d4e4f3"/><rect x="324.3" y="431.8" width="11" height="3.8" fill="#d8e6f4"/><rect x="335" y="431.8" width="11" height="3.8" fill="#317dbf"/><rect x="345.6" y="431.8" width="11" height="3.8" fill="#195d9f"/><rect x="356.3" y="431.8" width="11" height="3.8" fill="#62a0d4"/><rect x="366.9" y="431.8" width="11" height="3.8" fill="#65a2d5"/><rect x="292.3" y="435.3" width="11" height="3.8" fill="#175898"/><rect x="303" y="435.3" width="11" height="3.8" fill="#4c92d0"/><rect x="313.6" y="435.3" width="11" height="3.8" fill="#f4f8fd"/><rect x="324.3" y="435.3" width="11" height="3.8" fill="#e6eff9"/><rect x="335" y="435.3" width="11" height="3.8" fill="#7fb5da"/><rect x="345.6" y="435.3" width="11" height="3.8" fill="#2e7bbd"/><rect x="356.3" y="435.3" width="11" height="3.8" fill="#2b78bb"/><rect x="366.9" y="435.3" width="11" height="3.8" fill="#7eb4da"/><rect x="292.3" y="438.8" width="11" height="3.8" fill="#195c9d"/><rect x="303" y="438.8" width="11" height="3.8" fill="#488fce"/><rect x="313.6" y="438.8" width="11" height="3.8" fill="#f2f7fc"/><rect x="324.3" y="438.8" width="11" height="3.8" fill="#e9f1fa"/><rect x="335" y="438.8" width="11" height="3.8" fill="#6aa6d6"/><rect x="345.6" y="438.8" width="11" height="3.8" fill="#94c3df"/><rect x="356.3" y="438.8" width="11" height="3.8" fill="#5396d1"/><rect x="366.9" y="438.8" width="11" height="3.8" fill="#327ec0"/><rect x="292.3" y="442.3" width="11" height="3.8" fill="#175898"/><rect x="303" y="442.3" width="11" height="3.8" fill="#3f88c8"/><rect x="313.6" y="442.3" width="11" height="3.8" fill="#dce9f6"/><rect x="324.3" y="442.3" width="11" height="3.8" fill="#d2e2f3"/><rect x="335" y="442.3" width="11" height="3.8" fill="#347fc1"/><rect x="345.6" y="442.3" width="11" height="3.8" fill="#2675b8"/><rect x="356.3" y="442.3" width="11" height="3.8" fill="#79b0d9"/><rect x="366.9" y="442.3" width="11" height="3.8" fill="#1f6cb0"/><rect x="292.3" y="445.8" width="11" height="3.8" fill="#1b61a2"/><rect x="303" y="445.8" width="11" height="3.8" fill="#3c85c6"/><rect x="313.6" y="445.8" width="11" height="3.8" fill="#dae8f5"/><rect x="324.3" y="445.8" width="11" height="3.8" fill="#d7e6f4"/><rect x="335" y="445.8" width="11" height="3.8" fill="#2272b5"/><rect x="345.6" y="445.8" width="11" height="3.8" fill="#2a78bb"/><rect x="356.3" y="445.8" width="11" height="3.8" fill="#3580c2"/><rect x="366.9" y="445.8" width="11" height="3.8" fill="#1d68aa"/><rect x="292.3" y="449.3" width="11" height="3.8" fill="#1f6db0"/><rect x="303" y="449.3" width="11" height="3.8" fill="#488ece"/><rect x="313.6" y="449.3" width="11" height="3.8" fill="#d9e7f5"/><rect x="324.3" y="449.3" width="11" height="3.8" fill="#eef4fb"/><rect x="335" y="449.3" width="11" height="3.8" fill="#68a5d6"/><rect x="345.6" y="449.3" width="11" height="3.8" fill="#3d86c7"/><rect x="356.3" y="449.3" width="11" height="3.8" fill="#8ebfde"/><rect x="366.9" y="449.3" width="11" height="3.8" fill="#195d9e"/><rect x="292.3" y="452.8" width="11" height="3.8" fill="#b0d2e7"/><rect x="303" y="452.8" width="11" height="3.8" fill="#98c6e0"/><rect x="313.6" y="452.8" width="11" height="3.8" fill="#e0ecf7"/><rect x="324.3" y="452.8" width="11" height="3.8" fill="#deeaf6"/><rect x="335" y="452.8" width="11" height="3.8" fill="#2675b8"/><rect x="345.6" y="452.8" width="11" height="3.8" fill="#2a77ba"/><rect x="356.3" y="452.8" width="11" height="3.8" fill="#2574b7"/><rect x="366.9" y="452.8" width="11" height="3.8" fill="#2876b9"/><rect x="292.3" y="456.3" width="11" height="3.8" fill="#0f417f"/><rect x="303" y="456.3" width="11" height="3.8" fill="#3d86c7"/><rect x="313.6" y="456.3" width="11" height="3.8" fill="#dce9f6"/><rect x="324.3" y="456.3" width="11" height="3.8" fill="#e2edf8"/><rect x="335" y="456.3" width="11" height="3.8" fill="#67a4d5"/><rect x="345.6" y="456.3" width="11" height="3.8" fill="#bad6eb"/><rect x="356.3" y="456.3" width="11" height="3.8" fill="#90c0de"/><rect x="366.9" y="456.3" width="11" height="3.8" fill="#2272b6"/><rect x="292.3" y="459.8" width="11" height="3.8" fill="#185a9a"/><rect x="303" y="459.8" width="11" height="3.8" fill="#2c79bc"/><rect x="313.6" y="459.8" width="11" height="3.8" fill="#dbe8f5"/><rect x="324.3" y="459.8" width="11" height="3.8" fill="#d7e6f4"/><rect x="335" y="459.8" width="11" height="3.8" fill="#5e9ed3"/><rect x="345.6" y="459.8" width="11" height="3.8" fill="#9ac7e0"/><rect x="356.3" y="459.8" width="11" height="3.8" fill="#8abcdd"/><rect x="366.9" y="459.8" width="11" height="3.8" fill="#3983c4"/><rect x="292.3" y="463.3" width="11" height="3.8" fill="#0a3671"/><rect x="303" y="463.3" width="11" height="3.8" fill="#2c79bc"/><rect x="313.6" y="463.3" width="11" height="3.8" fill="#d9e7f5"/><rect x="324.3" y="463.3" width="11" height="3.8" fill="#e0ebf7"/><rect x="335" y="463.3" width="11" height="3.8" fill="#71abd7"/><rect x="345.6" y="463.3" width="11" height="3.8" fill="#a7cee4"/><rect x="356.3" y="463.3" width="11" height="3.8" fill="#7bb2da"/><rect x="366.9" y="463.3" width="11" height="3.8" fill="#2876ba"/><rect x="292.3" y="466.7" width="11" height="3.8" fill="#08306b"/><rect x="303" y="466.7" width="11" height="3.8" fill="#2877ba"/><rect x="313.6" y="466.7" width="11" height="3.8" fill="#e5eff8"/><rect x="324.3" y="466.7" width="11" height="3.8" fill="#d2e3f3"/><rect x="335" y="466.7" width="11" height="3.8" fill="#5497d1"/><rect x="345.6" y="466.7" width="11" height="3.8" fill="#95c4df"/><rect x="356.3" y="466.7" width="11" height="3.8" fill="#5f9ed3"/><rect x="366.9" y="466.7" width="11" height="3.8" fill="#2c7abc"/><rect x="292.3" y="470.2" width="11" height="3.8" fill="#0b3772"/><rect x="303" y="470.2" width="11" height="3.8" fill="#307cbe"/><rect x="313.6" y="470.2" width="11" height="3.8" fill="#e5eff8"/><rect x="324.3" y="470.2" width="11" height="3.8" fill="#d6e5f4"/><rect x="335" y="470.2" width="11" height="3.8" fill="#87badc"/><rect x="345.6" y="470.2" width="11" height="3.8" fill="#a6cde4"/><rect x="356.3" y="470.2" width="11" height="3.8" fill="#a5cde3"/><rect x="366.9" y="470.2" width="11" height="3.8" fill="#3e87c7"/><rect x="292.3" y="473.7" width="11" height="3.8" fill="#08306b"/><rect x="303" y="473.7" width="11" height="3.8" fill="#1f6cb0"/><rect x="313.6" y="473.7" width="11" height="3.8" fill="#c1d9ed"/><rect x="324.3" y="473.7" width="11" height="3.8" fill="#cbdef1"/><rect x="335" y="473.7" width="11" height="3.8" fill="#85b9dc"/><rect x="345.6" y="473.7" width="11" height="3.8" fill="#a0cbe2"/><rect x="356.3" y="473.7" width="11" height="3.8" fill="#b2d3e8"/><rect x="366.9" y="473.7" width="11" height="3.8" fill="#9bc8e0"/><rect x="292.3" y="477.2" width="11" height="3.8" fill="#08306b"/><rect x="303" y="477.2" width="11" height="3.8" fill="#145090"/><rect x="313.6" y="477.2" width="11" height="3.8" fill="#cfe1f2"/><rect x="324.3" y="477.2" width="11" height="3.8" fill="#add1e6"/><rect x="335" y="477.2" width="11" height="3.8" fill="#bbd6eb"/><rect x="345.6" y="477.2" width="11" height="3.8" fill="#a2cce2"/><rect x="356.3" y="477.2" width="11" height="3.8" fill="#acd0e6"/><rect x="366.9" y="477.2" width="11" height="3.8" fill="#99c7e0"/><rect x="292.3" y="480.7" width="11" height="3.8" fill="#14508f"/><rect x="303" y="480.7" width="11" height="3.8" fill="#134d8c"/><rect x="313.6" y="480.7" width="11" height="3.8" fill="#c5dbef"/><rect x="324.3" y="480.7" width="11" height="3.8" fill="#b4d4e9"/><rect x="335" y="480.7" width="11" height="3.8" fill="#6da8d6"/><rect x="345.6" y="480.7" width="11" height="3.8" fill="#a8cee5"/><rect x="356.3" y="480.7" width="11" height="3.8" fill="#a4cde3"/><rect x="366.9" y="480.7" width="11" height="3.8" fill="#83b7db"/><rect x="292.3" y="484.2" width="11" height="3.8" fill="#0e407e"/><rect x="303" y="484.2" width="11" height="3.8" fill="#155291"/><rect x="313.6" y="484.2" width="11" height="3.8" fill="#b5d4e9"/><rect x="324.3" y="484.2" width="11" height="3.8" fill="#c9ddf0"/><rect x="335" y="484.2" width="11" height="3.8" fill="#95c4df"/><rect x="345.6" y="484.2" width="11" height="3.8" fill="#a8cee4"/><rect x="356.3" y="484.2" width="11" height="3.8" fill="#89bcdd"/><rect x="366.9" y="484.2" width="11" height="3.8" fill="#92c2de"/><rect x="292.3" y="487.7" width="11" height="3.8" fill="#0b3773"/><rect x="303" y="487.7" width="11" height="3.8" fill="#14508f"/><rect x="313.6" y="487.7" width="11" height="3.8" fill="#c9ddf0"/><rect x="324.3" y="487.7" width="11" height="3.8" fill="#b0d2e7"/><rect x="335" y="487.7" width="11" height="3.8" fill="#a9cfe5"/><rect x="345.6" y="487.7" width="11" height="3.8" fill="#a2cce2"/><rect x="356.3" y="487.7" width="11" height="3.8" fill="#b7d4ea"/><rect x="366.9" y="487.7" width="11" height="3.8" fill="#90c0de"/><rect x="292.3" y="491.2" width="11" height="3.8" fill="#0f427f"/><rect x="303" y="491.2" width="11" height="3.8" fill="#1f6db0"/><rect x="313.6" y="491.2" width="11" height="3.8" fill="#b0d2e7"/><rect x="324.3" y="491.2" width="11" height="3.8" fill="#b1d2e8"/><rect x="335" y="491.2" width="11" height="3.8" fill="#90c1de"/><rect x="345.6" y="491.2" width="11" height="3.8" fill="#a4cce3"/><rect x="356.3" y="491.2" width="11" height="3.8" fill="#76aed8"/><rect x="366.9" y="491.2" width="11" height="3.8" fill="#abd0e6"/><rect x="292.3" y="494.7" width="11" height="3.8" fill="#0d3d79"/><rect x="303" y="494.7" width="11" height="3.8" fill="#185a9b"/><rect x="313.6" y="494.7" width="11" height="3.8" fill="#b3d3e8"/><rect x="324.3" y="494.7" width="11" height="3.8" fill="#b7d5ea"/><rect x="335" y="494.7" width="11" height="3.8" fill="#a9cfe5"/><rect x="345.6" y="494.7" width="11" height="3.8" fill="#a1cbe2"/><rect x="356.3" y="494.7" width="11" height="3.8" fill="#76aed8"/><rect x="366.9" y="494.7" width="11" height="3.8" fill="#81b6db"/><rect x="292.3" y="498.2" width="11" height="3.8" fill="#104482"/><rect x="303" y="498.2" width="11" height="3.8" fill="#144e8d"/><rect x="313.6" y="498.2" width="11" height="3.8" fill="#b0d2e7"/><rect x="324.3" y="498.2" width="11" height="3.8" fill="#bcd7ec"/><rect x="335" y="498.2" width="11" height="3.8" fill="#bbd6eb"/><rect x="345.6" y="498.2" width="11" height="3.8" fill="#bcd7eb"/><rect x="356.3" y="498.2" width="11" height="3.8" fill="#9bc8e0"/><rect x="366.9" y="498.2" width="11" height="3.8" fill="#9fcbe1"/><rect x="292.3" y="501.7" width="11" height="3.8" fill="#08306b"/><rect x="303" y="501.7" width="11" height="3.8" fill="#206db1"/><rect x="313.6" y="501.7" width="11" height="3.8" fill="#c7dcef"/><rect x="324.3" y="501.7" width="11" height="3.8" fill="#c7dcef"/><rect x="335" y="501.7" width="11" height="3.8" fill="#a1cbe2"/><rect x="345.6" y="501.7" width="11" height="3.8" fill="#b1d2e8"/><rect x="356.3" y="501.7" width="11" height="3.8" fill="#a3cce3"/><rect x="366.9" y="501.7" width="11" height="3.8" fill="#7bb2d9"/><rect x="292.3" y="505.2" width="11" height="3.8" fill="#0c3c78"/><rect x="303" y="505.2" width="11" height="3.8" fill="#2574b7"/><rect x="313.6" y="505.2" width="11" height="3.8" fill="#cfe0f2"/><rect x="324.3" y="505.2" width="11" height="3.8" fill="#b1d2e8"/><rect x="335" y="505.2" width="11" height="3.8" fill="#b1d2e8"/><rect x="345.6" y="505.2" width="11" height="3.8" fill="#b5d4e9"/><rect x="356.3" y="505.2" width="11" height="3.8" fill="#94c3df"/><rect x="366.9" y="505.2" width="11" height="3.8" fill="#a3cce3"/><rect x="292.3" y="508.7" width="11" height="3.8" fill="#114785"/><rect x="303" y="508.7" width="11" height="3.8" fill="#2171b4"/><rect x="313.6" y="508.7" width="11" height="3.8" fill="#c8dcf0"/><rect x="324.3" y="508.7" width="11" height="3.8" fill="#bdd7ec"/><rect x="335" y="508.7" width="11" height="3.8" fill="#a1cbe2"/><rect x="345.6" y="508.7" width="11" height="3.8" fill="#bbd6eb"/><rect x="356.3" y="508.7" width="11" height="3.8" fill="#7ab1d9"/><rect x="366.9" y="508.7" width="11" height="3.8" fill="#a2cce2"/>
<rect x="292.3" y="416.2" width="10.9" height="1.6" fill="#9cc8e8"/>
<rect x="303" y="416.2" width="10.9" height="1.6" fill="#2f7fc4"/>
<rect x="313.6" y="416.2" width="10.9" height="1.6" fill="#b8dba0"/>
<rect x="324.3" y="416.2" width="10.9" height="1.6" fill="#4aa84a"/>
<rect x="335" y="416.2" width="10.9" height="1.6" fill="#f6b8c0"/>
<rect x="345.6" y="416.2" width="10.9" height="1.6" fill="#e0303a"/>
<rect x="356.3" y="416.2" width="10.9" height="1.6" fill="#fbd0a0"/>
<rect x="366.9" y="416.2" width="10.9" height="1.6" fill="#f39a40"/>
<rect x="405" y="417.8" width="10.9" height="3.8" fill="#f67256"/><rect x="415.6" y="417.8" width="10.9" height="3.8" fill="#fedbcd"/><rect x="426.2" y="417.8" width="10.9" height="3.8" fill="#cc191d"/><rect x="436.9" y="417.8" width="10.9" height="3.8" fill="#d62825"/><rect x="447.5" y="417.8" width="10.9" height="3.8" fill="#bc141b"/><rect x="458.1" y="417.8" width="10.9" height="3.8" fill="#dc3029"/><rect x="468.8" y="417.8" width="10.9" height="3.8" fill="#fb9273"/><rect x="479.4" y="417.8" width="10.9" height="3.8" fill="#fb9273"/><rect x="405" y="421.3" width="10.9" height="3.8" fill="#fb9e80"/><rect x="415.6" y="421.3" width="10.9" height="3.8" fill="#fdcbb6"/><rect x="426.2" y="421.3" width="10.9" height="3.8" fill="#db2f28"/><rect x="436.9" y="421.3" width="10.9" height="3.8" fill="#da2d28"/><rect x="447.5" y="421.3" width="10.9" height="3.8" fill="#ce1d1f"/><rect x="458.1" y="421.3" width="10.9" height="3.8" fill="#e73f30"/><rect x="468.8" y="421.3" width="10.9" height="3.8" fill="#fca78a"/><rect x="479.4" y="421.3" width="10.9" height="3.8" fill="#fb987a"/><rect x="405" y="424.8" width="10.9" height="3.8" fill="#fb9577"/><rect x="415.6" y="424.8" width="10.9" height="3.8" fill="#fdd6c6"/><rect x="426.2" y="424.8" width="10.9" height="3.8" fill="#da2d27"/><rect x="436.9" y="424.8" width="10.9" height="3.8" fill="#dc3029"/><rect x="447.5" y="424.8" width="10.9" height="3.8" fill="#c9171d"/><rect x="458.1" y="424.8" width="10.9" height="3.8" fill="#dc2f29"/><rect x="468.8" y="424.8" width="10.9" height="3.8" fill="#fb9476"/><rect x="479.4" y="424.8" width="10.9" height="3.8" fill="#f66f54"/><rect x="405" y="428.3" width="10.9" height="3.8" fill="#f87c5f"/><rect x="415.6" y="428.3" width="10.9" height="3.8" fill="#fcb398"/><rect x="426.2" y="428.3" width="10.9" height="3.8" fill="#d01f20"/><rect x="436.9" y="428.3" width="10.9" height="3.8" fill="#d12021"/><rect x="447.5" y="428.3" width="10.9" height="3.8" fill="#c0151b"/><rect x="458.1" y="428.3" width="10.9" height="3.8" fill="#d82a26"/><rect x="468.8" y="428.3" width="10.9" height="3.8" fill="#fcb195"/><rect x="479.4" y="428.3" width="10.9" height="3.8" fill="#fa8364"/><rect x="405" y="431.8" width="10.9" height="3.8" fill="#fca78b"/><rect x="415.6" y="431.8" width="10.9" height="3.8" fill="#fdd5c5"/><rect x="426.2" y="431.8" width="10.9" height="3.8" fill="#de322a"/><rect x="436.9" y="431.8" width="10.9" height="3.8" fill="#df342b"/><rect x="447.5" y="431.8" width="10.9" height="3.8" fill="#cd1a1e"/><rect x="458.1" y="431.8" width="10.9" height="3.8" fill="#d02021"/><rect x="468.8" y="431.8" width="10.9" height="3.8" fill="#fb9c7f"/><rect x="479.4" y="431.8" width="10.9" height="3.8" fill="#fb8768"/><rect x="405" y="435.3" width="10.9" height="3.8" fill="#fcb296"/><rect x="415.6" y="435.3" width="10.9" height="3.8" fill="#feded0"/><rect x="426.2" y="435.3" width="10.9" height="3.8" fill="#ce1c1f"/><rect x="436.9" y="435.3" width="10.9" height="3.8" fill="#d52624"/><rect x="447.5" y="435.3" width="10.9" height="3.8" fill="#d32423"/><rect x="458.1" y="435.3" width="10.9" height="3.8" fill="#e3392e"/><rect x="468.8" y="435.3" width="10.9" height="3.8" fill="#fcb196"/><rect x="479.4" y="435.3" width="10.9" height="3.8" fill="#fb9273"/><rect x="405" y="438.8" width="10.9" height="3.8" fill="#fcc4ae"/><rect x="415.6" y="438.8" width="10.9" height="3.8" fill="#fcc2ab"/><rect x="426.2" y="438.8" width="10.9" height="3.8" fill="#d82a26"/><rect x="436.9" y="438.8" width="10.9" height="3.8" fill="#d42523"/><rect x="447.5" y="438.8" width="10.9" height="3.8" fill="#d42523"/><rect x="458.1" y="438.8" width="10.9" height="3.8" fill="#d82a26"/><rect x="468.8" y="438.8" width="10.9" height="3.8" fill="#fb997b"/><rect x="479.4" y="438.8" width="10.9" height="3.8" fill="#f77559"/><rect x="405" y="442.3" width="10.9" height="3.8" fill="#fcbca2"/><rect x="415.6" y="442.3" width="10.9" height="3.8" fill="#fcb398"/><rect x="426.2" y="442.3" width="10.9" height="3.8" fill="#c3161c"/><rect x="436.9" y="442.3" width="10.9" height="3.8" fill="#cd1a1e"/><rect x="447.5" y="442.3" width="10.9" height="3.8" fill="#d42423"/><rect x="458.1" y="442.3" width="10.9" height="3.8" fill="#cc1a1e"/><rect x="468.8" y="442.3" width="10.9" height="3.8" fill="#fb9678"/><rect x="479.4" y="442.3" width="10.9" height="3.8" fill="#fb8f70"/><rect x="405" y="445.8" width="10.9" height="3.8" fill="#fb8c6c"/><rect x="415.6" y="445.8" width="10.9" height="3.8" fill="#fcb297"/><rect x="426.2" y="445.8" width="10.9" height="3.8" fill="#cb181d"/><rect x="436.9" y="445.8" width="10.9" height="3.8" fill="#c9181d"/><rect x="447.5" y="445.8" width="10.9" height="3.8" fill="#c9171d"/><rect x="458.1" y="445.8" width="10.9" height="3.8" fill="#f67156"/><rect x="468.8" y="445.8" width="10.9" height="3.8" fill="#fcb398"/><rect x="479.4" y="445.8" width="10.9" height="3.8" fill="#f87b5e"/><rect x="405" y="449.3" width="10.9" height="3.8" fill="#fb9a7c"/><rect x="415.6" y="449.3" width="10.9" height="3.8" fill="#fcb297"/><rect x="426.2" y="449.3" width="10.9" height="3.8" fill="#ab1018"/><rect x="436.9" y="449.3" width="10.9" height="3.8" fill="#d22222"/><rect x="447.5" y="449.3" width="10.9" height="3.8" fill="#fb9f82"/><rect x="458.1" y="449.3" width="10.9" height="3.8" fill="#fba083"/><rect x="468.8" y="449.3" width="10.9" height="3.8" fill="#fba285"/><rect x="479.4" y="449.3" width="10.9" height="3.8" fill="#fb9779"/><rect x="405" y="452.8" width="10.9" height="3.8" fill="#fb987a"/><rect x="415.6" y="452.8" width="10.9" height="3.8" fill="#fcb79c"/><rect x="426.2" y="452.8" width="10.9" height="3.8" fill="#cb181d"/><rect x="436.9" y="452.8" width="10.9" height="3.8" fill="#c7171c"/><rect x="447.5" y="452.8" width="10.9" height="3.8" fill="#fb9172"/><rect x="458.1" y="452.8" width="10.9" height="3.8" fill="#fb8c6c"/><rect x="468.8" y="452.8" width="10.9" height="3.8" fill="#fcb499"/><rect x="479.4" y="452.8" width="10.9" height="3.8" fill="#fb8868"/><rect x="405" y="456.3" width="10.9" height="3.8" fill="#fb9e80"/><rect x="415.6" y="456.3" width="10.9" height="3.8" fill="#fdcbb7"/><rect x="426.2" y="456.3" width="10.9" height="3.8" fill="#bc141b"/><rect x="436.9" y="456.3" width="10.9" height="3.8" fill="#ad1118"/><rect x="447.5" y="456.3" width="10.9" height="3.8" fill="#fb9677"/><rect x="458.1" y="456.3" width="10.9" height="3.8" fill="#fba184"/><rect x="468.8" y="456.3" width="10.9" height="3.8" fill="#fcac90"/><rect x="479.4" y="456.3" width="10.9" height="3.8" fill="#f8795c"/><rect x="405" y="459.8" width="10.9" height="3.8" fill="#fb9273"/><rect x="415.6" y="459.8" width="10.9" height="3.8" fill="#fcb095"/><rect x="426.2" y="459.8" width="10.9" height="3.8" fill="#d22222"/><rect x="436.9" y="459.8" width="10.9" height="3.8" fill="#c1151b"/><rect x="447.5" y="459.8" width="10.9" height="3.8" fill="#f77358"/><rect x="458.1" y="459.8" width="10.9" height="3.8" fill="#f8785b"/><rect x="468.8" y="459.8" width="10.9" height="3.8" fill="#fcaf93"/><rect x="479.4" y="459.8" width="10.9" height="3.8" fill="#fb8868"/><rect x="405" y="463.3" width="10.9" height="3.8" fill="#fcb499"/><rect x="415.6" y="463.3" width="10.9" height="3.8" fill="#fcac90"/><rect x="426.2" y="463.3" width="10.9" height="3.8" fill="#d12021"/><rect x="436.9" y="463.3" width="10.9" height="3.8" fill="#d82a26"/><rect x="447.5" y="463.3" width="10.9" height="3.8" fill="#f97f61"/><rect x="458.1" y="463.3" width="10.9" height="3.8" fill="#fb997b"/><rect x="468.8" y="463.3" width="10.9" height="3.8" fill="#fcad92"/><rect x="479.4" y="463.3" width="10.9" height="3.8" fill="#f98062"/><rect x="405" y="466.7" width="10.9" height="3.8" fill="#fca98d"/><rect x="415.6" y="466.7" width="10.9" height="3.8" fill="#fdcab5"/><rect x="426.2" y="466.7" width="10.9" height="3.8" fill="#a81017"/><rect x="436.9" y="466.7" width="10.9" height="3.8" fill="#d52724"/><rect x="447.5" y="466.7" width="10.9" height="3.8" fill="#f98062"/><rect x="458.1" y="466.7" width="10.9" height="3.8" fill="#fb987a"/><rect x="468.8" y="466.7" width="10.9" height="3.8" fill="#fba083"/><rect x="479.4" y="466.7" width="10.9" height="3.8" fill="#fa8264"/><rect x="405" y="470.2" width="10.9" height="3.8" fill="#fcab8f"/><rect x="415.6" y="470.2" width="10.9" height="3.8" fill="#fcae92"/><rect x="426.2" y="470.2" width="10.9" height="3.8" fill="#bb141b"/><rect x="436.9" y="470.2" width="10.9" height="3.8" fill="#d52624"/><rect x="447.5" y="470.2" width="10.9" height="3.8" fill="#fa8465"/><rect x="458.1" y="470.2" width="10.9" height="3.8" fill="#fb9172"/><rect x="468.8" y="470.2" width="10.9" height="3.8" fill="#fb9273"/><rect x="479.4" y="470.2" width="10.9" height="3.8" fill="#fb997b"/><rect x="405" y="473.7" width="10.9" height="3.8" fill="#fb8969"/><rect x="415.6" y="473.7" width="10.9" height="3.8" fill="#fca98c"/><rect x="426.2" y="473.7" width="10.9" height="3.8" fill="#d72926"/><rect x="436.9" y="473.7" width="10.9" height="3.8" fill="#c3161c"/><rect x="447.5" y="473.7" width="10.9" height="3.8" fill="#f8785c"/><rect x="458.1" y="473.7" width="10.9" height="3.8" fill="#f98162"/><rect x="468.8" y="473.7" width="10.9" height="3.8" fill="#fcb499"/><rect x="479.4" y="473.7" width="10.9" height="3.8" fill="#f87c5f"/><rect x="405" y="477.2" width="10.9" height="3.8" fill="#fcb69c"/><rect x="415.6" y="477.2" width="10.9" height="3.8" fill="#fcbaa0"/><rect x="426.2" y="477.2" width="10.9" height="3.8" fill="#b21219"/><rect x="436.9" y="477.2" width="10.9" height="3.8" fill="#d42423"/><rect x="447.5" y="477.2" width="10.9" height="3.8" fill="#fb8f70"/><rect x="458.1" y="477.2" width="10.9" height="3.8" fill="#fb9c7e"/><rect x="468.8" y="477.2" width="10.9" height="3.8" fill="#fca98c"/><rect x="479.4" y="477.2" width="10.9" height="3.8" fill="#fb9a7c"/><rect x="405" y="480.7" width="10.9" height="3.8" fill="#f87a5d"/><rect x="415.6" y="480.7" width="10.9" height="3.8" fill="#fcae92"/><rect x="426.2" y="480.7" width="10.9" height="3.8" fill="#d82a26"/><rect x="436.9" y="480.7" width="10.9" height="3.8" fill="#ce1c1f"/><rect x="447.5" y="480.7" width="10.9" height="3.8" fill="#f4654c"/><rect x="458.1" y="480.7" width="10.9" height="3.8" fill="#f7775b"/><rect x="468.8" y="480.7" width="10.9" height="3.8" fill="#fcac90"/><rect x="479.4" y="480.7" width="10.9" height="3.8" fill="#fb8869"/><rect x="405" y="484.2" width="10.9" height="3.8" fill="#fcaa8e"/><rect x="415.6" y="484.2" width="10.9" height="3.8" fill="#fcbaa0"/><rect x="426.2" y="484.2" width="10.9" height="3.8" fill="#a30e17"/><rect x="436.9" y="484.2" width="10.9" height="3.8" fill="#b41319"/><rect x="447.5" y="484.2" width="10.9" height="3.8" fill="#f35e46"/><rect x="458.1" y="484.2" width="10.9" height="3.8" fill="#fcb196"/><rect x="468.8" y="484.2" width="10.9" height="3.8" fill="#fcb59a"/><rect x="479.4" y="484.2" width="10.9" height="3.8" fill="#fa8566"/><rect x="405" y="487.7" width="10.9" height="3.8" fill="#fb9a7c"/><rect x="415.6" y="487.7" width="10.9" height="3.8" fill="#fdc6b0"/><rect x="426.2" y="487.7" width="10.9" height="3.8" fill="#d22222"/><rect x="436.9" y="487.7" width="10.9" height="3.8" fill="#be151b"/><rect x="447.5" y="487.7" width="10.9" height="3.8" fill="#f87a5d"/><rect x="458.1" y="487.7" width="10.9" height="3.8" fill="#fca98d"/><rect x="468.8" y="487.7" width="10.9" height="3.8" fill="#fcb196"/><rect x="479.4" y="487.7" width="10.9" height="3.8" fill="#f97f61"/><rect x="405" y="491.2" width="10.9" height="3.8" fill="#fcb59a"/><rect x="415.6" y="491.2" width="10.9" height="3.8" fill="#fdcbb7"/><rect x="426.2" y="491.2" width="10.9" height="3.8" fill="#a70f17"/><rect x="436.9" y="491.2" width="10.9" height="3.8" fill="#d42423"/><rect x="447.5" y="491.2" width="10.9" height="3.8" fill="#fb987a"/><rect x="458.1" y="491.2" width="10.9" height="3.8" fill="#fb9273"/><rect x="468.8" y="491.2" width="10.9" height="3.8" fill="#fca68a"/><rect x="479.4" y="491.2" width="10.9" height="3.8" fill="#fa8264"/><rect x="405" y="494.7" width="10.9" height="3.8" fill="#fa8767"/><rect x="415.6" y="494.7" width="10.9" height="3.8" fill="#fdcebb"/><rect x="426.2" y="494.7" width="10.9" height="3.8" fill="#cc191e"/><rect x="436.9" y="494.7" width="10.9" height="3.8" fill="#b51319"/><rect x="447.5" y="494.7" width="10.9" height="3.8" fill="#fb9475"/><rect x="458.1" y="494.7" width="10.9" height="3.8" fill="#f8785b"/><rect x="468.8" y="494.7" width="10.9" height="3.8" fill="#fb9374"/><rect x="479.4" y="494.7" width="10.9" height="3.8" fill="#f87a5d"/><rect x="405" y="498.2" width="10.9" height="3.8" fill="#fb9f82"/><rect x="415.6" y="498.2" width="10.9" height="3.8" fill="#fdcdba"/><rect x="426.2" y="498.2" width="10.9" height="3.8" fill="#a40f17"/><rect x="436.9" y="498.2" width="10.9" height="3.8" fill="#d42523"/><rect x="447.5" y="498.2" width="10.9" height="3.8" fill="#fb8c6c"/><rect x="458.1" y="498.2" width="10.9" height="3.8" fill="#fb997b"/><rect x="468.8" y="498.2" width="10.9" height="3.8" fill="#fba184"/><rect x="479.4" y="498.2" width="10.9" height="3.8" fill="#f87c5f"/><rect x="405" y="501.7" width="10.9" height="3.8" fill="#fb9071"/><rect x="415.6" y="501.7" width="10.9" height="3.8" fill="#fcaa8e"/><rect x="426.2" y="501.7" width="10.9" height="3.8" fill="#b41319"/><rect x="436.9" y="501.7" width="10.9" height="3.8" fill="#c9181d"/><rect x="447.5" y="501.7" width="10.9" height="3.8" fill="#fb8e6e"/><rect x="458.1" y="501.7" width="10.9" height="3.8" fill="#f98163"/><rect x="468.8" y="501.7" width="10.9" height="3.8" fill="#fba285"/><rect x="479.4" y="501.7" width="10.9" height="3.8" fill="#f97d5f"/><rect x="405" y="505.2" width="10.9" height="3.8" fill="#fcbca2"/><rect x="415.6" y="505.2" width="10.9" height="3.8" fill="#fcb094"/><rect x="426.2" y="505.2" width="10.9" height="3.8" fill="#ba141a"/><rect x="436.9" y="505.2" width="10.9" height="3.8" fill="#d82a26"/><rect x="447.5" y="505.2" width="10.9" height="3.8" fill="#f67156"/><rect x="458.1" y="505.2" width="10.9" height="3.8" fill="#fa8566"/><rect x="468.8" y="505.2" width="10.9" height="3.8" fill="#fca588"/><rect x="479.4" y="505.2" width="10.9" height="3.8" fill="#fb9071"/><rect x="405" y="508.7" width="10.9" height="3.8" fill="#fcb99f"/><rect x="415.6" y="508.7" width="10.9" height="3.8" fill="#fcaf94"/><rect x="426.2" y="508.7" width="10.9" height="3.8" fill="#a91018"/><rect x="436.9" y="508.7" width="10.9" height="3.8" fill="#cf1e20"/><rect x="447.5" y="508.7" width="10.9" height="3.8" fill="#fb8f70"/><rect x="458.1" y="508.7" width="10.9" height="3.8" fill="#fb8f6f"/><rect x="468.8" y="508.7" width="10.9" height="3.8" fill="#fcb196"/><rect x="479.4" y="508.7" width="10.9" height="3.8" fill="#f7765a"/>
<rect x="405" y="416.2" width="10.8" height="1.6" fill="#9cc8e8"/>
<rect x="415.6" y="416.2" width="10.8" height="1.6" fill="#2f7fc4"/>
<rect x="426.2" y="416.2" width="10.8" height="1.6" fill="#b8dba0"/>
<rect x="436.9" y="416.2" width="10.8" height="1.6" fill="#4aa84a"/>
<rect x="447.5" y="416.2" width="10.8" height="1.6" fill="#f6b8c0"/>
<rect x="458.1" y="416.2" width="10.8" height="1.6" fill="#e0303a"/>
<rect x="468.8" y="416.2" width="10.8" height="1.6" fill="#fbd0a0"/>
<rect x="479.4" y="416.2" width="10.8" height="1.6" fill="#f39a40"/>
<text x="269.2" y="521.5" font-size="7" stroke="#1a1a1a" stroke-width="0.18">c-FOS</text>
<text x="304.3" y="521.7" font-size="7.5" text-anchor="middle" fill="#222" font-weight="bold">-</text>
<text x="324.6" y="521.7" font-size="7.5" text-anchor="middle" fill="#222" font-weight="bold">+</text>
<text x="346" y="521.7" font-size="7.5" text-anchor="middle" fill="#222" font-weight="bold">+</text>
<text x="367" y="521.7" font-size="7.5" text-anchor="middle" fill="#222" font-weight="bold">+</text>
<text x="269.2" y="530.2" font-size="7" stroke="#1a1a1a" stroke-width="0.18">UO126</text>
<text x="304.3" y="530.4" font-size="7.5" text-anchor="middle" fill="#222" font-weight="bold">-</text>
<text x="324.6" y="530.4" font-size="7.5" text-anchor="middle" fill="#222" font-weight="bold">-</text>
<text x="346" y="530.4" font-size="7.5" text-anchor="middle" fill="#222" font-weight="bold">+</text>
<text x="367" y="530.4" font-size="7.5" text-anchor="middle" fill="#222" font-weight="bold">-</text>
<text x="269.2" y="538.9" font-size="7" stroke="#1a1a1a" stroke-width="0.18">Afatinib</text>
<text x="304.3" y="539.1" font-size="7.5" text-anchor="middle" fill="#222" font-weight="bold">-</text>
<text x="324.6" y="539.1" font-size="7.5" text-anchor="middle" fill="#222" font-weight="bold">-</text>
<text x="346" y="539.1" font-size="7.5" text-anchor="middle" fill="#222" font-weight="bold">-</text>
<text x="367" y="539.1" font-size="7.5" text-anchor="middle" fill="#222" font-weight="bold">+</text>
<text x="381.9" y="521.5" font-size="7" stroke="#1a1a1a" stroke-width="0.18">c-FOS</text>
<text x="417" y="521.7" font-size="7.5" text-anchor="middle" fill="#222" font-weight="bold">-</text>
<text x="437.2" y="521.7" font-size="7.5" text-anchor="middle" fill="#222" font-weight="bold">+</text>
<text x="458.7" y="521.7" font-size="7.5" text-anchor="middle" fill="#222" font-weight="bold">+</text>
<text x="479.7" y="521.7" font-size="7.5" text-anchor="middle" fill="#222" font-weight="bold">+</text>
<text x="381.9" y="530.2" font-size="7" stroke="#1a1a1a" stroke-width="0.18">UO126</text>
<text x="417" y="530.4" font-size="7.5" text-anchor="middle" fill="#222" font-weight="bold">-</text>
<text x="437.2" y="530.4" font-size="7.5" text-anchor="middle" fill="#222" font-weight="bold">-</text>
<text x="458.7" y="530.4" font-size="7.5" text-anchor="middle" fill="#222" font-weight="bold">+</text>
<text x="479.7" y="530.4" font-size="7.5" text-anchor="middle" fill="#222" font-weight="bold">-</text>
<text x="381.9" y="538.9" font-size="7" stroke="#1a1a1a" stroke-width="0.18">Afatinib</text>
<text x="417" y="539.1" font-size="7.5" text-anchor="middle" fill="#222" font-weight="bold">-</text>
<text x="437.2" y="539.1" font-size="7.5" text-anchor="middle" fill="#222" font-weight="bold">-</text>
<text x="458.7" y="539.1" font-size="7.5" text-anchor="middle" fill="#222" font-weight="bold">-</text>
<text x="479.7" y="539.1" font-size="7.5" text-anchor="middle" fill="#222" font-weight="bold">+</text>
<text x="347" y="559.8" font-size="9.3" text-anchor="middle" stroke="#1a1a1a" stroke-width="0.23">GSEA</text>
<text x="346.5" y="571.3" font-size="9.3" text-anchor="middle" stroke="#1a1a1a" stroke-width="0.23">(development-related pathways)</text>
<rect x="419.4" y="573.9" width="58.6" height="5.7" fill="#e52229"/>
<text x="411.5" y="579" font-size="6.5" text-anchor="end" fill="#222" stroke="#222" stroke-width="0.16">Branching morphogenesis of an epithelial tube</text>
<line x1="417" y1="576.7" x2="419.2" y2="576.7" stroke="#555" stroke-width="0.5"/>
<rect x="419.4" y="583.2" width="36.4" height="5.7" fill="#e52229"/>
<text x="411.5" y="588.3" font-size="6.5" text-anchor="end" fill="#222" stroke="#222" stroke-width="0.16">Positive regulation of cell adhesion</text>
<line x1="417" y1="586" x2="419.2" y2="586" stroke="#555" stroke-width="0.5"/>
<rect x="419.4" y="593" width="35.6" height="5.7" fill="#e52229"/>
<text x="411.5" y="598.1" font-size="6.5" text-anchor="end" fill="#222" stroke="#222" stroke-width="0.16">Positive regulation of developmental growth</text>
<line x1="417" y1="595.8" x2="419.2" y2="595.8" stroke="#555" stroke-width="0.5"/>
<rect x="419.4" y="602.2" width="35.6" height="5.7" fill="#e52229"/>
<text x="411.5" y="607.3" font-size="6.5" text-anchor="end" fill="#222" stroke="#222" stroke-width="0.16">Mesenchymal cell differentiation</text>
<line x1="417" y1="605" x2="419.2" y2="605" stroke="#555" stroke-width="0.5"/>
<rect x="419.4" y="611.5" width="32.4" height="5.7" fill="#e52229"/>
<text x="411.5" y="616.6" font-size="6.5" text-anchor="end" fill="#222" stroke="#222" stroke-width="0.16">Positive regulation of cell junction assembly</text>
<line x1="417" y1="614.3" x2="419.2" y2="614.3" stroke="#555" stroke-width="0.5"/>
<rect x="419.4" y="621.2" width="27.8" height="5.7" fill="#e52229"/>
<text x="411.5" y="626.3" font-size="6.5" text-anchor="end" fill="#222" stroke="#222" stroke-width="0.16">Actomyosin structure organization</text>
<line x1="417" y1="624" x2="419.2" y2="624" stroke="#555" stroke-width="0.5"/>
<rect x="419.4" y="630.4" width="27.6" height="5.7" fill="#e52229"/>
<text x="411.5" y="635.5" font-size="6.5" text-anchor="end" fill="#222" stroke="#222" stroke-width="0.16">Regulation of animal organ morphogenesis</text>
<line x1="417" y1="633.2" x2="419.2" y2="633.2" stroke="#555" stroke-width="0.5"/>
<line x1="419.2" y1="569.7" x2="489.4" y2="569.7" stroke="#777" stroke-width="0.8"/>
<line x1="419.2" y1="569.7" x2="419.2" y2="635.8" stroke="#777" stroke-width="0.8"/>
<line x1="419.2" y1="567.8" x2="419.2" y2="569.7" stroke="#777" stroke-width="0.5"/>
<text x="419.2" y="566.8" font-size="5" text-anchor="middle" fill="#444" stroke="#444" stroke-width="0.12">0</text>
<line x1="436.6" y1="567.8" x2="436.6" y2="569.7" stroke="#777" stroke-width="0.5"/>
<text x="436.6" y="566.8" font-size="5" text-anchor="middle" fill="#444" stroke="#444" stroke-width="0.12">2</text>
<line x1="454" y1="567.8" x2="454" y2="569.7" stroke="#777" stroke-width="0.5"/>
<text x="454" y="566.8" font-size="5" text-anchor="middle" fill="#444" stroke="#444" stroke-width="0.12">4</text>
<line x1="471.4" y1="567.8" x2="471.4" y2="569.7" stroke="#777" stroke-width="0.5"/>
<text x="471.4" y="566.8" font-size="5" text-anchor="middle" fill="#444" stroke="#444" stroke-width="0.12">6</text>
<line x1="489.4" y1="567.8" x2="489.4" y2="569.7" stroke="#777" stroke-width="0.5"/>
<text x="489.4" y="566.8" font-size="5" text-anchor="middle" fill="#444" stroke="#444" stroke-width="0.12">8</text>
<text x="429.2" y="559.2" font-size="6.2" stroke="#1a1a1a" stroke-width="0.16">-log</text>
<text x="440.7" y="560.3" font-size="3.6" stroke="#1a1a1a" stroke-width="0.09">10</text>
<text x="445.6" y="559.2" font-size="6.2" stroke="#1a1a1a" stroke-width="0.16">(p-value)</text>
<text x="502.4" y="275.3" font-size="11.5" fill="#000" font-weight="bold">K</text>
<text x="534.6" y="290.2" font-size="11" stroke="#1a1a1a" stroke-width="0.28">c-FOS ChIP-qPCR</text>
<text x="536.6" y="303" font-size="8.4" stroke="#1a1a1a" stroke-width="0.21">Fosl1</text>
<text x="626.6" y="301.8" font-size="8.4" text-anchor="middle" stroke="#1a1a1a" stroke-width="0.21">Epgn</text>
<line x1="519" y1="312.5" x2="519" y2="386" stroke="#333" stroke-width="0.7"/>
<line x1="517.4" y1="312.5" x2="519" y2="312.5" stroke="#333" stroke-width="0.7"/>
<text x="516.4" y="314.4" font-size="5.3" text-anchor="end" fill="#222" font-weight="bold">20</text>
<line x1="517.4" y1="330.7" x2="519" y2="330.7" stroke="#333" stroke-width="0.7"/>
<text x="516.4" y="332.6" font-size="5.3" text-anchor="end" fill="#222" font-weight="bold">15</text>
<line x1="517.4" y1="349.4" x2="519" y2="349.4" stroke="#333" stroke-width="0.7"/>
<text x="516.4" y="351.3" font-size="5.3" text-anchor="end" fill="#222" font-weight="bold">10</text>
<line x1="517.4" y1="367.6" x2="519" y2="367.6" stroke="#333" stroke-width="0.7"/>
<text x="516.4" y="369.5" font-size="5.3" text-anchor="end" fill="#222" font-weight="bold">5</text>
<line x1="517.4" y1="386" x2="519" y2="386" stroke="#333" stroke-width="0.7"/>
<text x="516.4" y="387.9" font-size="5.3" text-anchor="end" fill="#222" font-weight="bold">0</text>
<line x1="519" y1="386" x2="567.7" y2="386" stroke="#333" stroke-width="0.7"/>
<rect x="522.2" y="382.9" width="5" height="3.1" fill="#1a1a1a"/>
<line x1="524.7" y1="386" x2="524.7" y2="387.6" stroke="#333" stroke-width="0.5"/>
<line x1="524.7" y1="382.9" x2="524.7" y2="381" stroke="#555" stroke-width="0.5"/>
<line x1="523.2" y1="381" x2="526.2" y2="381" stroke="#888" stroke-width="0.5"/>
<rect x="530" y="383.2" width="5" height="2.8" fill="#c8c8c8"/>
<line x1="532.5" y1="386" x2="532.5" y2="387.6" stroke="#333" stroke-width="0.5"/>
<line x1="532.5" y1="383.2" x2="532.5" y2="380" stroke="#555" stroke-width="0.5"/>
<line x1="531" y1="380" x2="534" y2="380" stroke="#888" stroke-width="0.5"/>
<rect x="537.5" y="382.6" width="5" height="3.4" fill="#9a9a9a"/>
<line x1="540" y1="386" x2="540" y2="387.6" stroke="#333" stroke-width="0.5"/>
<line x1="540" y1="382.6" x2="540" y2="378" stroke="#888" stroke-width="0.5"/>
<line x1="538.5" y1="378" x2="541.5" y2="378" stroke="#888" stroke-width="0.5"/>
<rect x="545.3" y="353" width="5" height="33" fill="#dcdcdc"/>
<line x1="547.8" y1="386" x2="547.8" y2="387.6" stroke="#333" stroke-width="0.5"/>
<line x1="547.8" y1="353" x2="547.8" y2="343.8" stroke="#555" stroke-width="0.5"/>
<line x1="546.3" y1="343.8" x2="549.3" y2="343.8" stroke="#888" stroke-width="0.5"/>
<rect x="553.2" y="342.2" width="5" height="43.8" fill="#555555"/>
<line x1="555.7" y1="386" x2="555.7" y2="387.6" stroke="#333" stroke-width="0.5"/>
<line x1="555.7" y1="342.2" x2="555.7" y2="338.3" stroke="#555" stroke-width="0.5"/>
<line x1="554.2" y1="338.3" x2="557.2" y2="338.3" stroke="#888" stroke-width="0.5"/>
<rect x="561.2" y="340.8" width="5" height="45.2" fill="#a8a8a8"/>
<line x1="563.7" y1="386" x2="563.7" y2="387.6" stroke="#333" stroke-width="0.5"/>
<line x1="563.7" y1="340.8" x2="563.7" y2="324.2" stroke="#555" stroke-width="0.5"/>
<line x1="562.2" y1="324.2" x2="565.2" y2="324.2" stroke="#888" stroke-width="0.5"/>
<text transform="translate(505 349.2) rotate(-90)" x="0" y="2.2" font-size="6.0" text-anchor="middle" fill="#333" font-weight="bold">qPCR fold change over IgG</text>
<text transform="translate(527 394.5) rotate(-45)" x="0" y="0" font-size="5.8" text-anchor="end" font-weight="bold" fill="#333">IgG DMSO</text>
<text transform="translate(534.8 394.5) rotate(-45)" x="0" y="0" font-size="5.8" text-anchor="end" font-weight="bold" fill="#333">IgG afatinib</text>
<text transform="translate(542.3 394.5) rotate(-45)" x="0" y="0" font-size="5.8" text-anchor="end" font-weight="bold" fill="#333">IgG UO126</text>
<text transform="translate(550.1 394.5) rotate(-45)" x="0" y="0" font-size="5.8" text-anchor="end" font-weight="bold" fill="#333">Fos DMSO</text>
<text transform="translate(558 394.5) rotate(-45)" x="0" y="0" font-size="5.8" text-anchor="end" font-weight="bold" fill="#333">Fos afatinib</text>
<text transform="translate(566 394.5) rotate(-45)" x="0" y="0" font-size="5.8" text-anchor="end" font-weight="bold" fill="#333">Fos UO126</text>
<line x1="598.7" y1="312.4" x2="598.7" y2="385.5" stroke="#333" stroke-width="0.7"/>
<line x1="597.1" y1="312.4" x2="598.7" y2="312.4" stroke="#333" stroke-width="0.7"/>
<text x="596.1" y="314.3" font-size="5.3" text-anchor="end" fill="#222" font-weight="bold">6</text>
<line x1="597.1" y1="337.1" x2="598.7" y2="337.1" stroke="#333" stroke-width="0.7"/>
<text x="596.1" y="339" font-size="5.3" text-anchor="end" fill="#222" font-weight="bold">4</text>
<line x1="597.1" y1="361.6" x2="598.7" y2="361.6" stroke="#333" stroke-width="0.7"/>
<text x="596.1" y="363.5" font-size="5.3" text-anchor="end" fill="#222" font-weight="bold">2</text>
<line x1="597.1" y1="385.5" x2="598.7" y2="385.5" stroke="#333" stroke-width="0.7"/>
<text x="596.1" y="387.4" font-size="5.3" text-anchor="end" fill="#222" font-weight="bold">0</text>
<line x1="598.7" y1="385.5" x2="647.6" y2="385.5" stroke="#333" stroke-width="0.7"/>
<rect x="600.8" y="373.6" width="5" height="11.9" fill="#1a1a1a"/>
<line x1="603.3" y1="385.5" x2="603.3" y2="387.1" stroke="#333" stroke-width="0.5"/>
<line x1="603.3" y1="373.6" x2="603.3" y2="371" stroke="#555" stroke-width="0.5"/>
<line x1="601.8" y1="371" x2="604.8" y2="371" stroke="#888" stroke-width="0.5"/>
<rect x="608.9" y="374" width="5" height="11.5" fill="#c8c8c8"/>
<line x1="611.4" y1="385.5" x2="611.4" y2="387.1" stroke="#333" stroke-width="0.5"/>
<line x1="611.4" y1="374" x2="611.4" y2="372" stroke="#555" stroke-width="0.5"/>
<line x1="609.9" y1="372" x2="612.9" y2="372" stroke="#888" stroke-width="0.5"/>
<rect x="616.9" y="371.8" width="5" height="13.7" fill="#9a9a9a"/>
<line x1="619.4" y1="385.5" x2="619.4" y2="387.1" stroke="#333" stroke-width="0.5"/>
<line x1="619.4" y1="371.8" x2="619.4" y2="358" stroke="#888" stroke-width="0.5"/>
<line x1="617.9" y1="358" x2="620.9" y2="358" stroke="#888" stroke-width="0.5"/>
<rect x="624.3" y="340.3" width="5" height="45.2" fill="#dcdcdc"/>
<line x1="626.8" y1="385.5" x2="626.8" y2="387.1" stroke="#333" stroke-width="0.5"/>
<line x1="626.8" y1="340.3" x2="626.8" y2="323.8" stroke="#555" stroke-width="0.5"/>
<line x1="625.3" y1="323.8" x2="628.3" y2="323.8" stroke="#888" stroke-width="0.5"/>
<rect x="632" y="336.9" width="5" height="48.6" fill="#555555"/>
<line x1="634.5" y1="385.5" x2="634.5" y2="387.1" stroke="#333" stroke-width="0.5"/>
<line x1="634.5" y1="336.9" x2="634.5" y2="337" stroke="#555" stroke-width="0.5"/>
<line x1="633" y1="337" x2="636" y2="337" stroke="#888" stroke-width="0.5"/>
<rect x="639.6" y="338.7" width="5" height="46.8" fill="#a8a8a8"/>
<line x1="642.1" y1="385.5" x2="642.1" y2="387.1" stroke="#333" stroke-width="0.5"/>
<line x1="642.1" y1="338.7" x2="642.1" y2="333.1" stroke="#555" stroke-width="0.5"/>
<line x1="640.6" y1="333.1" x2="643.6" y2="333.1" stroke="#888" stroke-width="0.5"/>
<text transform="translate(586 348.9) rotate(-90)" x="0" y="2.2" font-size="6.0" text-anchor="middle" fill="#333" font-weight="bold">qPCR fold change over IgG</text>
<text transform="translate(605.6 394) rotate(-45)" x="0" y="0" font-size="5.8" text-anchor="end" font-weight="bold" fill="#333">IgG DMSO</text>
<text transform="translate(613.7 394) rotate(-45)" x="0" y="0" font-size="5.8" text-anchor="end" font-weight="bold" fill="#333">IgG afatinib</text>
<text transform="translate(621.7 394) rotate(-45)" x="0" y="0" font-size="5.8" text-anchor="end" font-weight="bold" fill="#333">IgG UO126</text>
<text transform="translate(629.1 394) rotate(-45)" x="0" y="0" font-size="5.8" text-anchor="end" font-weight="bold" fill="#333">Fos DMSO</text>
<text transform="translate(636.8 394) rotate(-45)" x="0" y="0" font-size="5.8" text-anchor="end" font-weight="bold" fill="#333">Fos afatinib</text>
<text transform="translate(644.4 394) rotate(-45)" x="0" y="0" font-size="5.8" text-anchor="end" font-weight="bold" fill="#333">Fos UO126</text>
<text x="548.5" y="344.4" font-size="7.2" text-anchor="middle" fill="#222">***</text>
<text x="556" y="338.2" font-size="7.2" text-anchor="middle" fill="#222">***</text>
<text x="564" y="325.3" font-size="7.2" text-anchor="middle" fill="#222">***</text>
<line x1="544.2" y1="318" x2="566.1" y2="318" stroke="#999" stroke-width="0.9"/>
<text x="555" y="316.1" font-size="7" text-anchor="middle" fill="#333" stroke="#333" stroke-width="0.18">ns</text>
<line x1="544.2" y1="328" x2="555" y2="328" stroke="#999" stroke-width="0.9"/>
<text x="549.6" y="325.3" font-size="7" text-anchor="middle" fill="#333" stroke="#333" stroke-width="0.18">ns</text>
<line x1="624.2" y1="310" x2="642.4" y2="310" stroke="#999" stroke-width="0.9"/>
<text x="634.1" y="308.6" font-size="7" text-anchor="middle" fill="#333">ns</text>
<line x1="622.9" y1="317" x2="634" y2="317" stroke="#999" stroke-width="0.9"/>
<text x="629.5" y="315.2" font-size="7" text-anchor="middle" fill="#333">ns</text>
<text x="628" y="324.2" font-size="7.2" text-anchor="middle" fill="#222">***</text>
<text x="638.4" y="334.4" font-size="7.7" text-anchor="middle" fill="#222">******</text>
<text x="581" y="431.2" font-size="10.8" text-anchor="middle" stroke="#1a1a1a" stroke-width="0.27">RNA-seq</text>
<text x="542.2" y="441.8" font-size="8.4" text-anchor="middle" stroke="#1a1a1a" stroke-width="0.21" font-style="italic">Fosl1</text>
<text x="621.7" y="441.8" font-size="8.4" text-anchor="middle" stroke="#1a1a1a" stroke-width="0.21" font-style="italic">Epgn</text>
<line x1="516.7" y1="450.4" x2="516.7" y2="524" stroke="#333" stroke-width="0.7"/>
<line x1="515.1" y1="524" x2="516.7" y2="524" stroke="#333" stroke-width="0.7"/>
<text x="514.1" y="526" font-size="5.5" text-anchor="end" fill="#222" font-weight="bold">0</text>
<line x1="515.1" y1="505.6" x2="516.7" y2="505.6" stroke="#333" stroke-width="0.7"/>
<text x="514.1" y="507.6" font-size="5.5" text-anchor="end" fill="#222" font-weight="bold">5</text>
<line x1="515.1" y1="487.2" x2="516.7" y2="487.2" stroke="#333" stroke-width="0.7"/>
<text x="514.1" y="489.2" font-size="5.5" text-anchor="end" fill="#222" font-weight="bold">10</text>
<line x1="515.1" y1="468.8" x2="516.7" y2="468.8" stroke="#333" stroke-width="0.7"/>
<text x="514.1" y="470.8" font-size="5.5" text-anchor="end" fill="#222" font-weight="bold">15</text>
<line x1="515.1" y1="450.4" x2="516.7" y2="450.4" stroke="#333" stroke-width="0.7"/>
<text x="514.1" y="452.4" font-size="5.5" text-anchor="end" fill="#222" font-weight="bold">20</text>
<line x1="516.7" y1="524" x2="567.1" y2="524" stroke="#333" stroke-width="0.7"/>
<line x1="522.6" y1="524" x2="522.6" y2="525.6" stroke="#333" stroke-width="0.5"/>
<line x1="535.6" y1="524" x2="535.6" y2="525.6" stroke="#333" stroke-width="0.5"/>
<line x1="548.4" y1="524" x2="548.4" y2="525.6" stroke="#333" stroke-width="0.5"/>
<line x1="561.8" y1="524" x2="561.8" y2="525.6" stroke="#333" stroke-width="0.5"/>
<text transform="translate(501.8 487.2) rotate(-90)" x="0" y="2.4" font-size="6.8" text-anchor="middle" fill="#333" font-weight="bold">FPKM</text>
<circle cx="521.2" cy="520.5" r="1.1" fill="#111"/>
<circle cx="523.8" cy="520.5" r="1.1" fill="#111"/>
<path d="M534.2 466.8 l1.4-2.4 l1.4 2.4z M534.2 473.3 l1.4-2.4 l1.4 2.4z" fill="#999"/>
<line x1="532" y1="468.8" x2="539" y2="468.8" stroke="#888" stroke-width="0.5"/>
<circle cx="547.2" cy="509.7" r="1.2" fill="#777"/>
<circle cx="549.6" cy="509.7" r="1.2" fill="#777"/>
<rect x="559.8" y="496.3" width="4" height="4.5" fill="#aaa"/>
<line x1="558.5" y1="498.5" x2="565" y2="498.5" stroke="#888" stroke-width="0.5"/>
<line x1="521.7" y1="457.5" x2="535.6" y2="457.5" stroke="#444" stroke-width="0.7"/>
<text x="528.5" y="457.5" font-size="8" text-anchor="middle" fill="#222">***</text>
<line x1="536.3" y1="450.5" x2="559.1" y2="450.5" stroke="#333" stroke-width="0.7"/>
<text x="547.5" y="450.2" font-size="8" text-anchor="middle" fill="#222">**</text>
<line x1="536.3" y1="459.3" x2="547.5" y2="459.3" stroke="#444" stroke-width="0.7"/>
<text x="542" y="459.5" font-size="8" text-anchor="middle" fill="#222">***</text>
<line x1="601.7" y1="451" x2="601.7" y2="524.7" stroke="#333" stroke-width="0.7"/>
<line x1="600.1" y1="524.7" x2="601.7" y2="524.7" stroke="#333" stroke-width="0.7"/>
<text x="599.1" y="526.7" font-size="5.5" text-anchor="end" fill="#222" font-weight="bold">0</text>
<line x1="600.1" y1="506.3" x2="601.7" y2="506.3" stroke="#333" stroke-width="0.7"/>
<text x="599.1" y="508.3" font-size="5.5" text-anchor="end" fill="#222" font-weight="bold">5</text>
<line x1="600.1" y1="487.9" x2="601.7" y2="487.9" stroke="#333" stroke-width="0.7"/>
<text x="599.1" y="489.8" font-size="5.5" text-anchor="end" fill="#222" font-weight="bold">10</text>
<line x1="600.1" y1="469.4" x2="601.7" y2="469.4" stroke="#333" stroke-width="0.7"/>
<text x="599.1" y="471.4" font-size="5.5" text-anchor="end" fill="#222" font-weight="bold">15</text>
<line x1="600.1" y1="451" x2="601.7" y2="451" stroke="#333" stroke-width="0.7"/>
<text x="599.1" y="453" font-size="5.5" text-anchor="end" fill="#222" font-weight="bold">20</text>
<line x1="601.7" y1="524.7" x2="649.3" y2="524.7" stroke="#333" stroke-width="0.7"/>
<line x1="606.5" y1="524.7" x2="606.5" y2="526.3" stroke="#333" stroke-width="0.5"/>
<line x1="619.5" y1="524.7" x2="619.5" y2="526.3" stroke="#333" stroke-width="0.5"/>
<line x1="632" y1="524.7" x2="632" y2="526.3" stroke="#333" stroke-width="0.5"/>
<line x1="644.8" y1="524.7" x2="644.8" y2="526.3" stroke="#333" stroke-width="0.5"/>
<text transform="translate(586 487.9) rotate(-90)" x="0" y="2.4" font-size="6.8" text-anchor="middle" fill="#333" font-weight="bold">FPKM</text>
<circle cx="605" cy="485.5" r="1.2" fill="#111"/>
<circle cx="608.2" cy="485" r="1.2" fill="#111"/>
<path d="M618.1 465 l1.4-2.4 l1.4 2.4z M618.1 468 l1.4-2.4 l1.4 2.4z" fill="#999"/>
<line x1="616" y1="465.2" x2="623" y2="465.2" stroke="#888" stroke-width="0.5"/>
<path d="M630.6 494.2 l1.4-2.4 l1.4 2.4z M630.6 497 l1.4-2.4 l1.4 2.4z" fill="#999"/>
<line x1="628.6" y1="494" x2="635.6" y2="494" stroke="#888" stroke-width="0.5"/>
<path d="M643.4 487 l1.4-2.4 l1.4 2.4z M643.4 493 l1.4-2.4 l1.4 2.4z" fill="#999"/>
<line x1="641.3" y1="490" x2="648.3" y2="490" stroke="#888" stroke-width="0.5"/>
<line x1="606.5" y1="454.9" x2="618.5" y2="454.9" stroke="#444" stroke-width="0.7"/>
<text x="612.5" y="454.7" font-size="8" text-anchor="middle" fill="#222">**</text>
<line x1="620.8" y1="450.4" x2="643" y2="450.4" stroke="#444" stroke-width="0.7"/>
<text x="632" y="450.5" font-size="8" text-anchor="middle" fill="#222">**</text>
<line x1="620.8" y1="457.5" x2="633.2" y2="457.5" stroke="#444" stroke-width="0.7"/>
<text x="627" y="457.5" font-size="8" text-anchor="middle" fill="#222">**</text>
<text x="495.4" y="534" font-size="7.2" stroke="#1a1a1a" stroke-width="0.18">c-FOS</text>
<text x="522.6" y="534.1" font-size="7.5" text-anchor="middle" fill="#222" font-weight="bold">-</text>
<text x="535.6" y="534.1" font-size="7.5" text-anchor="middle" fill="#222" font-weight="bold">+</text>
<text x="548.4" y="534.1" font-size="7.5" text-anchor="middle" fill="#222" font-weight="bold">+</text>
<text x="561.8" y="534.1" font-size="7.5" text-anchor="middle" fill="#222" font-weight="bold">+</text>
<text x="495.4" y="544.4" font-size="7.2" stroke="#1a1a1a" stroke-width="0.18">UO126</text>
<text x="522.6" y="544.5" font-size="7.5" text-anchor="middle" fill="#222" font-weight="bold">-</text>
<text x="535.6" y="544.5" font-size="7.5" text-anchor="middle" fill="#222" font-weight="bold">-</text>
<text x="548.4" y="544.5" font-size="7.5" text-anchor="middle" fill="#222" font-weight="bold">-</text>
<text x="561.8" y="544.5" font-size="7.5" text-anchor="middle" fill="#222" font-weight="bold">+</text>
<text x="495.4" y="554.8" font-size="7.2" stroke="#1a1a1a" stroke-width="0.18">Afatinib</text>
<text x="522.6" y="554.9" font-size="7.5" text-anchor="middle" fill="#222" font-weight="bold">-</text>
<text x="535.6" y="554.9" font-size="7.5" text-anchor="middle" fill="#222" font-weight="bold">-</text>
<text x="548.4" y="554.9" font-size="7.5" text-anchor="middle" fill="#222" font-weight="bold">+</text>
<text x="561.8" y="554.9" font-size="7.5" text-anchor="middle" fill="#222" font-weight="bold">-</text>
<text x="577.4" y="534" font-size="7.2" stroke="#1a1a1a" stroke-width="0.18">c-FOS</text>
<text x="606.5" y="534.1" font-size="7.5" text-anchor="middle" fill="#222" font-weight="bold">-</text>
<text x="619.5" y="534.1" font-size="7.5" text-anchor="middle" fill="#222" font-weight="bold">+</text>
<text x="632" y="534.1" font-size="7.5" text-anchor="middle" fill="#222" font-weight="bold">+</text>
<text x="644.8" y="534.1" font-size="7.5" text-anchor="middle" fill="#222" font-weight="bold">+</text>
<text x="577.4" y="544.4" font-size="7.2" stroke="#1a1a1a" stroke-width="0.18">UO126</text>
<text x="606.5" y="544.5" font-size="7.5" text-anchor="middle" fill="#222" font-weight="bold">-</text>
<text x="619.5" y="544.5" font-size="7.5" text-anchor="middle" fill="#222" font-weight="bold">-</text>
<text x="632" y="544.5" font-size="7.5" text-anchor="middle" fill="#222" font-weight="bold">-</text>
<text x="644.8" y="544.5" font-size="7.5" text-anchor="middle" fill="#222" font-weight="bold">+</text>
<text x="577.4" y="554.8" font-size="7.2" stroke="#1a1a1a" stroke-width="0.18">Afatinib</text>
<text x="606.5" y="554.9" font-size="7.5" text-anchor="middle" fill="#222" font-weight="bold">-</text>
<text x="619.5" y="554.9" font-size="7.5" text-anchor="middle" fill="#222" font-weight="bold">-</text>
<text x="632" y="554.9" font-size="7.5" text-anchor="middle" fill="#222" font-weight="bold">+</text>
<text x="644.8" y="554.9" font-size="7.5" text-anchor="middle" fill="#222" font-weight="bold">-</text>
<text x="304" y="661.7" font-size="11.5" fill="#000" font-weight="bold">J</text>
<text x="407" y="665.8" font-size="9.6" text-anchor="middle" stroke="#1a1a1a" stroke-width="0.24">ASZ</text>
<line x1="330.8" y1="669" x2="498" y2="669" stroke="#888" stroke-width="0.9"/>
<text x="306.5" y="677.8" font-size="6.6" stroke="#1a1a1a" stroke-width="0.17">c-FOS</text>
<text x="354.3" y="678.1" font-size="7.5" text-anchor="middle" fill="#222" font-weight="bold">-</text>
<text x="395.9" y="678.1" font-size="7.5" text-anchor="middle" fill="#222" font-weight="bold">+</text>
<text x="434.7" y="678.1" font-size="7.5" text-anchor="middle" fill="#222" font-weight="bold">+</text>
<text x="477.6" y="678.1" font-size="7.5" text-anchor="middle" fill="#222" font-weight="bold">+</text>
<text x="306.5" y="686" font-size="6.6" stroke="#1a1a1a" stroke-width="0.17">UO126</text>
<text x="354.3" y="686.3" font-size="7.5" text-anchor="middle" fill="#222" font-weight="bold">-</text>
<text x="395.9" y="686.3" font-size="7.5" text-anchor="middle" fill="#222" font-weight="bold">-</text>
<text x="434.7" y="686.3" font-size="7.5" text-anchor="middle" fill="#222" font-weight="bold">-</text>
<text x="477.6" y="686.3" font-size="7.5" text-anchor="middle" fill="#222" font-weight="bold">+</text>
<text x="306.5" y="694.2" font-size="6.6" stroke="#1a1a1a" stroke-width="0.17">Afatinib</text>
<text x="354.3" y="694.5" font-size="7.5" text-anchor="middle" fill="#222" font-weight="bold">-</text>
<text x="395.9" y="694.5" font-size="7.5" text-anchor="middle" fill="#222" font-weight="bold">-</text>
<text x="434.7" y="694.5" font-size="7.5" text-anchor="middle" fill="#222" font-weight="bold">+</text>
<text x="477.6" y="694.5" font-size="7.5" text-anchor="middle" fill="#222" font-weight="bold">-</text>
<rect x="330.6" y="698.3" width="41" height="40.6" fill="#05050f"/>
<svg x="330.6" y="698.3" width="41" height="40.6" viewBox="330.6 698.3 41 40.6">
<g filter="url(#bl)">
<ellipse cx="326.7" cy="695.7" rx="1.5" ry="2.2" transform="rotate(47 326.7 695.7)" fill="#4a4ac4" fill-opacity="0.67"/><ellipse cx="337" cy="696.6" rx="1.4" ry="2.2" transform="rotate(154 337 696.6)" fill="#4a4ac4" fill-opacity="0.62"/><ellipse cx="341.6" cy="696.6" rx="1.4" ry="2.2" transform="rotate(1 341.6 696.6)" fill="#4a4ac4" fill-opacity="0.67"/><ellipse cx="351" cy="696.1" rx="1.5" ry="2.4" transform="rotate(92 351 696.1)" fill="#4a4ac4" fill-opacity="0.57"/><ellipse cx="356.2" cy="694.4" rx="1.4" ry="2.1" transform="rotate(3 356.2 694.4)" fill="#4a4ac4" fill-opacity="0.58"/><ellipse cx="364.6" cy="697.3" rx="1.7" ry="2.1" transform="rotate(23 364.6 697.3)" fill="#4a4ac4" fill-opacity="0.71"/><ellipse cx="374.7" cy="693.9" rx="1.4" ry="2.3" transform="rotate(116 374.7 693.9)" fill="#4a4ac4" fill-opacity="0.40"/><ellipse cx="380.2" cy="696.8" rx="1.5" ry="2.1" transform="rotate(116 380.2 696.8)" fill="#4a4ac4" fill-opacity="0.36"/><ellipse cx="329.9" cy="701.4" rx="1.7" ry="2.5" transform="rotate(56 329.9 701.4)" fill="#4a4ac4" fill-opacity="0.57"/><ellipse cx="339.2" cy="703.5" rx="1.7" ry="2.6" transform="rotate(30 339.2 703.5)" fill="#4a4ac4" fill-opacity="0.64"/><ellipse cx="346.6" cy="702.3" rx="1.7" ry="2.1" transform="rotate(69 346.6 702.3)" fill="#4a4ac4" fill-opacity="0.53"/><ellipse cx="355.8" cy="700.7" rx="1.3" ry="2.3" transform="rotate(100 355.8 700.7)" fill="#4a4ac4" fill-opacity="0.57"/><ellipse cx="359.6" cy="703.9" rx="1.6" ry="2.4" transform="rotate(168 359.6 703.9)" fill="#4a4ac4" fill-opacity="0.58"/><ellipse cx="368.1" cy="699.9" rx="1.5" ry="2.4" transform="rotate(67 368.1 699.9)" fill="#4a4ac4" fill-opacity="0.52"/><ellipse cx="378.2" cy="702.2" rx="1.6" ry="2.5" transform="rotate(0 378.2 702.2)" fill="#4a4ac4" fill-opacity="0.48"/><ellipse cx="382.4" cy="702.9" rx="1.6" ry="2.2" transform="rotate(85 382.4 702.9)" fill="#4a4ac4" fill-opacity="0.49"/><ellipse cx="326.4" cy="708.8" rx="1.5" ry="2.2" transform="rotate(116 326.4 708.8)" fill="#4a4ac4" fill-opacity="0.42"/><ellipse cx="336.4" cy="706.5" rx="1.4" ry="2.2" transform="rotate(152 336.4 706.5)" fill="#4a4ac4" fill-opacity="0.54"/><ellipse cx="343.8" cy="708.6" rx="1.3" ry="2.3" transform="rotate(20 343.8 708.6)" fill="#4a4ac4" fill-opacity="0.41"/><ellipse cx="351.3" cy="706.7" rx="1.6" ry="2.1" transform="rotate(150 351.3 706.7)" fill="#4a4ac4" fill-opacity="0.57"/><ellipse cx="356.6" cy="708.8" rx="1.5" ry="2.3" transform="rotate(162 356.6 708.8)" fill="#4a4ac4" fill-opacity="0.52"/><ellipse cx="363.4" cy="707.1" rx="1.5" ry="2.4" transform="rotate(65 363.4 707.1)" fill="#4a4ac4" fill-opacity="0.66"/><ellipse cx="372.8" cy="708.9" rx="1.5" ry="2.3" transform="rotate(101 372.8 708.9)" fill="#4a4ac4" fill-opacity="0.37"/><ellipse cx="381.7" cy="708.2" rx="1.5" ry="2.4" transform="rotate(20 381.7 708.2)" fill="#4a4ac4" fill-opacity="0.37"/><ellipse cx="332.7" cy="713.6" rx="1.7" ry="2.4" transform="rotate(7 332.7 713.6)" fill="#4a4ac4" fill-opacity="0.41"/><ellipse cx="337.1" cy="716.3" rx="1.4" ry="2.6" transform="rotate(112 337.1 716.3)" fill="#4a4ac4" fill-opacity="0.68"/><ellipse cx="346.4" cy="716.1" rx="1.7" ry="2.3" transform="rotate(20 346.4 716.1)" fill="#4a4ac4" fill-opacity="0.70"/><ellipse cx="354.7" cy="713.2" rx="1.6" ry="2.5" transform="rotate(120 354.7 713.2)" fill="#4a4ac4" fill-opacity="0.62"/><ellipse cx="360.6" cy="716.4" rx="1.3" ry="2.1" transform="rotate(108 360.6 716.4)" fill="#4a4ac4" fill-opacity="0.39"/><ellipse cx="367.7" cy="715.4" rx="1.5" ry="2.3" transform="rotate(93 367.7 715.4)" fill="#4a4ac4" fill-opacity="0.63"/><ellipse cx="377.3" cy="713.2" rx="1.4" ry="2.1" transform="rotate(88 377.3 713.2)" fill="#4a4ac4" fill-opacity="0.56"/><ellipse cx="386.7" cy="714.8" rx="1.5" ry="2.6" transform="rotate(11 386.7 714.8)" fill="#4a4ac4" fill-opacity="0.40"/><ellipse cx="326.1" cy="722.5" rx="1.5" ry="2.1" transform="rotate(101 326.1 722.5)" fill="#4a4ac4" fill-opacity="0.54"/><ellipse cx="334.1" cy="720.3" rx="1.7" ry="2.5" transform="rotate(142 334.1 720.3)" fill="#4a4ac4" fill-opacity="0.56"/><ellipse cx="342.6" cy="724" rx="1.6" ry="2.2" transform="rotate(143 342.6 724)" fill="#4a4ac4" fill-opacity="0.66"/><ellipse cx="352.7" cy="721.9" rx="1.7" ry="2.6" transform="rotate(32 352.7 721.9)" fill="#4a4ac4" fill-opacity="0.52"/><ellipse cx="358" cy="720.9" rx="1.3" ry="2.4" transform="rotate(110 358 720.9)" fill="#4a4ac4" fill-opacity="0.71"/><ellipse cx="367.3" cy="722.5" rx="1.5" ry="2.6" transform="rotate(168 367.3 722.5)" fill="#4a4ac4" fill-opacity="0.57"/><ellipse cx="374.8" cy="720.4" rx="1.6" ry="2.2" transform="rotate(19 374.8 720.4)" fill="#4a4ac4" fill-opacity="0.64"/><ellipse cx="378.9" cy="723" rx="1.5" ry="2.3" transform="rotate(58 378.9 723)" fill="#4a4ac4" fill-opacity="0.62"/><ellipse cx="333.6" cy="730" rx="1.6" ry="2.4" transform="rotate(128 333.6 730)" fill="#4a4ac4" fill-opacity="0.59"/><ellipse cx="337.6" cy="729.9" rx="1.5" ry="2.1" transform="rotate(17 337.6 729.9)" fill="#4a4ac4" fill-opacity="0.66"/><ellipse cx="345.6" cy="727.3" rx="1.4" ry="2.2" transform="rotate(101 345.6 727.3)" fill="#4a4ac4" fill-opacity="0.40"/><ellipse cx="355.4" cy="728.7" rx="1.6" ry="2.5" transform="rotate(94 355.4 728.7)" fill="#4a4ac4" fill-opacity="0.38"/><ellipse cx="362.3" cy="728.5" rx="1.5" ry="2.6" transform="rotate(2 362.3 728.5)" fill="#4a4ac4" fill-opacity="0.73"/><ellipse cx="369.1" cy="729" rx="1.3" ry="2.1" transform="rotate(131 369.1 729)" fill="#4a4ac4" fill-opacity="0.35"/><ellipse cx="377" cy="727.6" rx="1.5" ry="2.4" transform="rotate(57 377 727.6)" fill="#4a4ac4" fill-opacity="0.70"/><ellipse cx="384.9" cy="726.5" rx="1.6" ry="2.5" transform="rotate(129 384.9 726.5)" fill="#4a4ac4" fill-opacity="0.35"/><ellipse cx="326.8" cy="735.3" rx="1.4" ry="2.2" transform="rotate(118 326.8 735.3)" fill="#4a4ac4" fill-opacity="0.61"/><ellipse cx="337.1" cy="736.2" rx="1.5" ry="2.1" transform="rotate(33 337.1 736.2)" fill="#4a4ac4" fill-opacity="0.57"/><ellipse cx="340.6" cy="733.3" rx="1.5" ry="2.2" transform="rotate(114 340.6 733.3)" fill="#4a4ac4" fill-opacity="0.59"/><ellipse cx="349.8" cy="734.9" rx="1.5" ry="2.4" transform="rotate(141 349.8 734.9)" fill="#4a4ac4" fill-opacity="0.41"/><ellipse cx="356.8" cy="736.2" rx="1.4" ry="2.2" transform="rotate(160 356.8 736.2)" fill="#4a4ac4" fill-opacity="0.49"/><ellipse cx="367.4" cy="735.7" rx="1.7" ry="2.5" transform="rotate(103 367.4 735.7)" fill="#4a4ac4" fill-opacity="0.47"/><ellipse cx="372.2" cy="734.2" rx="1.5" ry="2" transform="rotate(7 372.2 734.2)" fill="#4a4ac4" fill-opacity="0.59"/><ellipse cx="378.6" cy="733.2" rx="1.7" ry="2.3" transform="rotate(156 378.6 733.2)" fill="#4a4ac4" fill-opacity="0.72"/><ellipse cx="330" cy="741.8" rx="1.7" ry="2.5" transform="rotate(158 330 741.8)" fill="#4a4ac4" fill-opacity="0.74"/><ellipse cx="337.1" cy="740.7" rx="1.6" ry="2.1" transform="rotate(48 337.1 740.7)" fill="#4a4ac4" fill-opacity="0.50"/><ellipse cx="346.5" cy="740.5" rx="1.4" ry="2.6" transform="rotate(29 346.5 740.5)" fill="#4a4ac4" fill-opacity="0.46"/><ellipse cx="356.4" cy="743.7" rx="1.4" ry="2.2" transform="rotate(132 356.4 743.7)" fill="#4a4ac4" fill-opacity="0.61"/><ellipse cx="361.4" cy="741.7" rx="1.5" ry="2.2" transform="rotate(87 361.4 741.7)" fill="#4a4ac4" fill-opacity="0.69"/><ellipse cx="368.7" cy="741.8" rx="1.6" ry="2.5" transform="rotate(69 368.7 741.8)" fill="#4a4ac4" fill-opacity="0.45"/><ellipse cx="375" cy="743.1" rx="1.6" ry="2.6" transform="rotate(154 375 743.1)" fill="#4a4ac4" fill-opacity="0.59"/><ellipse cx="382.6" cy="741.1" rx="1.6" ry="2.2" transform="rotate(139 382.6 741.1)" fill="#4a4ac4" fill-opacity="0.42"/>
</g>
</svg>
<rect x="372.8" y="698.3" width="40" height="40.6" fill="#05050f"/>
<svg x="372.8" y="698.3" width="40" height="40.6" viewBox="372.8 698.3 40 40.6">
<g filter="url(#bl)">
<ellipse cx="369.8" cy="695.6" rx="1.4" ry="2.4" transform="rotate(145 369.8 695.6)" fill="#4a4ac4" fill-opacity="0.48"/><ellipse cx="377.3" cy="694.7" rx="1.4" ry="2.4" transform="rotate(72 377.3 694.7)" fill="#4a4ac4" fill-opacity="0.48"/><ellipse cx="386.8" cy="696.2" rx="1.5" ry="2.1" transform="rotate(114 386.8 696.2)" fill="#4a4ac4" fill-opacity="0.49"/><ellipse cx="393.6" cy="694.4" rx="1.4" ry="2.6" transform="rotate(52 393.6 694.4)" fill="#4a4ac4" fill-opacity="0.74"/><ellipse cx="400.7" cy="696.5" rx="1.6" ry="2.2" transform="rotate(113 400.7 696.5)" fill="#4a4ac4" fill-opacity="0.42"/><ellipse cx="407.4" cy="693.6" rx="1.3" ry="2.2" transform="rotate(10 407.4 693.6)" fill="#4a4ac4" fill-opacity="0.50"/><ellipse cx="417" cy="697.6" rx="1.4" ry="2" transform="rotate(76 417 697.6)" fill="#4a4ac4" fill-opacity="0.39"/><ellipse cx="421.7" cy="695.9" rx="1.5" ry="2.3" transform="rotate(111 421.7 695.9)" fill="#4a4ac4" fill-opacity="0.36"/><ellipse cx="373.1" cy="700.2" rx="1.6" ry="2.4" transform="rotate(70 373.1 700.2)" fill="#4a4ac4" fill-opacity="0.39"/><ellipse cx="381.8" cy="701.5" rx="1.4" ry="2.2" transform="rotate(172 381.8 701.5)" fill="#4a4ac4" fill-opacity="0.50"/><ellipse cx="390.7" cy="700.4" rx="1.6" ry="2.3" transform="rotate(137 390.7 700.4)" fill="#4a4ac4" fill-opacity="0.73"/><ellipse cx="396.2" cy="703.6" rx="1.4" ry="2.4" transform="rotate(127 396.2 703.6)" fill="#4a4ac4" fill-opacity="0.67"/><ellipse cx="405.1" cy="700.7" rx="1.5" ry="2.2" transform="rotate(37 405.1 700.7)" fill="#4a4ac4" fill-opacity="0.69"/><ellipse cx="411.5" cy="700.8" rx="1.5" ry="2.1" transform="rotate(44 411.5 700.8)" fill="#4a4ac4" fill-opacity="0.39"/><ellipse cx="421" cy="704" rx="1.5" ry="2.1" transform="rotate(106 421 704)" fill="#4a4ac4" fill-opacity="0.39"/><ellipse cx="426.2" cy="700.2" rx="1.4" ry="2.1" transform="rotate(89 426.2 700.2)" fill="#4a4ac4" fill-opacity="0.38"/><ellipse cx="369.6" cy="710.5" rx="1.6" ry="2.3" transform="rotate(104 369.6 710.5)" fill="#4a4ac4" fill-opacity="0.66"/><ellipse cx="375.4" cy="706.5" rx="1.4" ry="2.6" transform="rotate(24 375.4 706.5)" fill="#4a4ac4" fill-opacity="0.56"/><ellipse cx="383.6" cy="706.8" rx="1.3" ry="2.2" transform="rotate(115 383.6 706.8)" fill="#4a4ac4" fill-opacity="0.59"/><ellipse cx="392.3" cy="710" rx="1.5" ry="2.6" transform="rotate(140 392.3 710)" fill="#4a4ac4" fill-opacity="0.70"/><ellipse cx="400.1" cy="707.6" rx="1.6" ry="2.4" transform="rotate(25 400.1 707.6)" fill="#4a4ac4" fill-opacity="0.68"/><ellipse cx="410" cy="709.1" rx="1.7" ry="2.1" transform="rotate(55 410 709.1)" fill="#4a4ac4" fill-opacity="0.63"/><ellipse cx="417.4" cy="708.1" rx="1.6" ry="2.3" transform="rotate(20 417.4 708.1)" fill="#4a4ac4" fill-opacity="0.55"/><ellipse cx="421.9" cy="709.7" rx="1.4" ry="2.4" transform="rotate(18 421.9 709.7)" fill="#4a4ac4" fill-opacity="0.62"/><ellipse cx="373.6" cy="714.1" rx="1.5" ry="2.2" transform="rotate(36 373.6 714.1)" fill="#4a4ac4" fill-opacity="0.68"/><ellipse cx="381.6" cy="716.4" rx="1.4" ry="2.5" transform="rotate(16 381.6 716.4)" fill="#4a4ac4" fill-opacity="0.53"/><ellipse cx="386.7" cy="716.7" rx="1.5" ry="2.2" transform="rotate(100 386.7 716.7)" fill="#4a4ac4" fill-opacity="0.56"/><ellipse cx="396.2" cy="713.6" rx="1.5" ry="2.2" transform="rotate(64 396.2 713.6)" fill="#4a4ac4" fill-opacity="0.59"/><ellipse cx="404.5" cy="716.4" rx="1.5" ry="2.1" transform="rotate(139 404.5 716.4)" fill="#4a4ac4" fill-opacity="0.35"/><ellipse cx="413.1" cy="715.5" rx="1.5" ry="2.1" transform="rotate(79 413.1 715.5)" fill="#4a4ac4" fill-opacity="0.59"/><ellipse cx="421.1" cy="713.1" rx="1.4" ry="2.2" transform="rotate(6 421.1 713.1)" fill="#4a4ac4" fill-opacity="0.47"/><ellipse cx="427.3" cy="714.6" rx="1.7" ry="2.6" transform="rotate(174 427.3 714.6)" fill="#4a4ac4" fill-opacity="0.48"/><ellipse cx="370" cy="723.1" rx="1.5" ry="2.2" transform="rotate(13 370 723.1)" fill="#4a4ac4" fill-opacity="0.72"/><ellipse cx="379.3" cy="721.3" rx="1.6" ry="2.1" transform="rotate(15 379.3 721.3)" fill="#4a4ac4" fill-opacity="0.36"/><ellipse cx="385.6" cy="719.9" rx="1.4" ry="2.5" transform="rotate(146 385.6 719.9)" fill="#4a4ac4" fill-opacity="0.74"/><ellipse cx="394.4" cy="720.5" rx="1.7" ry="2.3" transform="rotate(85 394.4 720.5)" fill="#4a4ac4" fill-opacity="0.75"/><ellipse cx="400.4" cy="719.6" rx="1.5" ry="2.1" transform="rotate(149 400.4 719.6)" fill="#4a4ac4" fill-opacity="0.73"/><ellipse cx="406.1" cy="722.4" rx="1.6" ry="2" transform="rotate(124 406.1 722.4)" fill="#4a4ac4" fill-opacity="0.59"/><ellipse cx="413.1" cy="719.9" rx="1.4" ry="2.1" transform="rotate(55 413.1 719.9)" fill="#4a4ac4" fill-opacity="0.37"/><ellipse cx="424.4" cy="721.9" rx="1.4" ry="2.6" transform="rotate(35 424.4 721.9)" fill="#4a4ac4" fill-opacity="0.55"/><ellipse cx="371.7" cy="727.2" rx="1.6" ry="2.1" transform="rotate(103 371.7 727.2)" fill="#4a4ac4" fill-opacity="0.71"/><ellipse cx="381.7" cy="729.5" rx="1.4" ry="2.5" transform="rotate(167 381.7 729.5)" fill="#4a4ac4" fill-opacity="0.61"/><ellipse cx="389.7" cy="730.1" rx="1.5" ry="2.1" transform="rotate(36 389.7 730.1)" fill="#4a4ac4" fill-opacity="0.68"/><ellipse cx="395.3" cy="726.5" rx="1.6" ry="2.2" transform="rotate(161 395.3 726.5)" fill="#4a4ac4" fill-opacity="0.41"/><ellipse cx="402.9" cy="727.7" rx="1.5" ry="2.2" transform="rotate(152 402.9 727.7)" fill="#4a4ac4" fill-opacity="0.38"/><ellipse cx="411.5" cy="728.9" rx="1.6" ry="2.5" transform="rotate(155 411.5 728.9)" fill="#4a4ac4" fill-opacity="0.60"/><ellipse cx="420.6" cy="726.2" rx="1.4" ry="2.2" transform="rotate(11 420.6 726.2)" fill="#4a4ac4" fill-opacity="0.56"/><ellipse cx="426.9" cy="728.5" rx="1.4" ry="2.3" transform="rotate(137 426.9 728.5)" fill="#4a4ac4" fill-opacity="0.66"/><ellipse cx="369.7" cy="734.7" rx="1.6" ry="2.2" transform="rotate(130 369.7 734.7)" fill="#4a4ac4" fill-opacity="0.64"/><ellipse cx="375.5" cy="735.4" rx="1.3" ry="2" transform="rotate(45 375.5 735.4)" fill="#4a4ac4" fill-opacity="0.47"/><ellipse cx="384.7" cy="737.1" rx="1.7" ry="2.1" transform="rotate(110 384.7 737.1)" fill="#4a4ac4" fill-opacity="0.45"/><ellipse cx="393.4" cy="733" rx="1.6" ry="2.2" transform="rotate(172 393.4 733)" fill="#4a4ac4" fill-opacity="0.71"/><ellipse cx="400" cy="735" rx="1.4" ry="2.5" transform="rotate(166 400 735)" fill="#4a4ac4" fill-opacity="0.58"/><ellipse cx="407.4" cy="736" rx="1.3" ry="2.5" transform="rotate(169 407.4 736)" fill="#4a4ac4" fill-opacity="0.66"/><ellipse cx="415.2" cy="737.2" rx="1.3" ry="2.6" transform="rotate(67 415.2 737.2)" fill="#4a4ac4" fill-opacity="0.42"/><ellipse cx="422.7" cy="732.8" rx="1.4" ry="2.6" transform="rotate(90 422.7 732.8)" fill="#4a4ac4" fill-opacity="0.73"/><ellipse cx="375.9" cy="740.2" rx="1.3" ry="2" transform="rotate(37 375.9 740.2)" fill="#4a4ac4" fill-opacity="0.41"/><ellipse cx="379.9" cy="743" rx="1.5" ry="2.1" transform="rotate(78 379.9 743)" fill="#4a4ac4" fill-opacity="0.51"/><ellipse cx="390.1" cy="740.4" rx="1.4" ry="2.1" transform="rotate(93 390.1 740.4)" fill="#4a4ac4" fill-opacity="0.44"/><ellipse cx="395.9" cy="741.3" rx="1.4" ry="2.4" transform="rotate(17 395.9 741.3)" fill="#4a4ac4" fill-opacity="0.68"/><ellipse cx="402.6" cy="739.5" rx="1.3" ry="2.6" transform="rotate(175 402.6 739.5)" fill="#4a4ac4" fill-opacity="0.45"/><ellipse cx="411.3" cy="739.3" rx="1.7" ry="2.5" transform="rotate(115 411.3 739.3)" fill="#4a4ac4" fill-opacity="0.49"/><ellipse cx="419.9" cy="742.5" rx="1.7" ry="2.1" transform="rotate(57 419.9 742.5)" fill="#4a4ac4" fill-opacity="0.72"/><ellipse cx="424.8" cy="739.6" rx="1.6" ry="2.5" transform="rotate(94 424.8 739.6)" fill="#4a4ac4" fill-opacity="0.60"/>
</g>
</svg>
<rect x="414.3" y="698.3" width="40.5" height="40.6" fill="#05050f"/>
<svg x="414.3" y="698.3" width="40.5" height="40.6" viewBox="414.3 698.3 40.5 40.6">
<g filter="url(#bl)">
<ellipse cx="413.3" cy="693.8" rx="1.5" ry="2.5" transform="rotate(174 413.3 693.8)" fill="#4a4ac4" fill-opacity="0.45"/><ellipse cx="418.2" cy="695.3" rx="1.7" ry="2.1" transform="rotate(29 418.2 695.3)" fill="#4a4ac4" fill-opacity="0.73"/><ellipse cx="424.8" cy="695.2" rx="1.4" ry="2.4" transform="rotate(93 424.8 695.2)" fill="#4a4ac4" fill-opacity="0.66"/><ellipse cx="432.6" cy="694" rx="1.5" ry="2.4" transform="rotate(14 432.6 694)" fill="#4a4ac4" fill-opacity="0.57"/><ellipse cx="443.7" cy="694.4" rx="1.7" ry="2.2" transform="rotate(61 443.7 694.4)" fill="#4a4ac4" fill-opacity="0.54"/><ellipse cx="448.3" cy="695" rx="1.4" ry="2.4" transform="rotate(124 448.3 695)" fill="#4a4ac4" fill-opacity="0.46"/><ellipse cx="457.2" cy="695.7" rx="1.3" ry="2.2" transform="rotate(2 457.2 695.7)" fill="#4a4ac4" fill-opacity="0.45"/><ellipse cx="466.3" cy="697.5" rx="1.5" ry="2.5" transform="rotate(152 466.3 697.5)" fill="#4a4ac4" fill-opacity="0.50"/><ellipse cx="414.4" cy="701.5" rx="1.5" ry="2.2" transform="rotate(128 414.4 701.5)" fill="#4a4ac4" fill-opacity="0.49"/><ellipse cx="424.2" cy="702" rx="1.6" ry="2.1" transform="rotate(17 424.2 702)" fill="#4a4ac4" fill-opacity="0.36"/><ellipse cx="431.1" cy="700.6" rx="1.6" ry="2.1" transform="rotate(95 431.1 700.6)" fill="#4a4ac4" fill-opacity="0.49"/><ellipse cx="437.5" cy="702.6" rx="1.7" ry="2.6" transform="rotate(46 437.5 702.6)" fill="#4a4ac4" fill-opacity="0.75"/><ellipse cx="447.5" cy="703.9" rx="1.5" ry="2" transform="rotate(102 447.5 703.9)" fill="#4a4ac4" fill-opacity="0.69"/><ellipse cx="455" cy="703.8" rx="1.4" ry="2.4" transform="rotate(46 455 703.8)" fill="#4a4ac4" fill-opacity="0.50"/><ellipse cx="459.2" cy="703.3" rx="1.6" ry="2.3" transform="rotate(6 459.2 703.3)" fill="#4a4ac4" fill-opacity="0.51"/><ellipse cx="466.6" cy="699.8" rx="1.4" ry="2.4" transform="rotate(122 466.6 699.8)" fill="#4a4ac4" fill-opacity="0.38"/><ellipse cx="410.4" cy="706.4" rx="1.5" ry="2.1" transform="rotate(143 410.4 706.4)" fill="#4a4ac4" fill-opacity="0.64"/><ellipse cx="418.8" cy="710.6" rx="1.7" ry="2.2" transform="rotate(92 418.8 710.6)" fill="#4a4ac4" fill-opacity="0.45"/><ellipse cx="426.6" cy="707" rx="1.5" ry="2.3" transform="rotate(155 426.6 707)" fill="#4a4ac4" fill-opacity="0.62"/><ellipse cx="433.4" cy="708.3" rx="1.6" ry="2.5" transform="rotate(92 433.4 708.3)" fill="#4a4ac4" fill-opacity="0.36"/><ellipse cx="439.5" cy="706.9" rx="1.4" ry="2.4" transform="rotate(128 439.5 706.9)" fill="#4a4ac4" fill-opacity="0.49"/><ellipse cx="451.5" cy="707.9" rx="1.5" ry="2.4" transform="rotate(106 451.5 707.9)" fill="#4a4ac4" fill-opacity="0.57"/><ellipse cx="458.8" cy="710.2" rx="1.6" ry="2.5" transform="rotate(159 458.8 710.2)" fill="#4a4ac4" fill-opacity="0.63"/><ellipse cx="465.6" cy="709.4" rx="1.4" ry="2.4" transform="rotate(136 465.6 709.4)" fill="#4a4ac4" fill-opacity="0.37"/><ellipse cx="414.7" cy="713.9" rx="1.6" ry="2.2" transform="rotate(116 414.7 713.9)" fill="#4a4ac4" fill-opacity="0.43"/><ellipse cx="424.6" cy="714.3" rx="1.6" ry="2.1" transform="rotate(173 424.6 714.3)" fill="#4a4ac4" fill-opacity="0.48"/><ellipse cx="430.3" cy="714.5" rx="1.5" ry="2.1" transform="rotate(155 430.3 714.5)" fill="#4a4ac4" fill-opacity="0.63"/><ellipse cx="438" cy="713.9" rx="1.5" ry="2.6" transform="rotate(18 438 713.9)" fill="#4a4ac4" fill-opacity="0.63"/><ellipse cx="447.1" cy="713.1" rx="1.7" ry="2.2" transform="rotate(169 447.1 713.1)" fill="#4a4ac4" fill-opacity="0.56"/><ellipse cx="453" cy="716" rx="1.4" ry="2.2" transform="rotate(45 453 716)" fill="#4a4ac4" fill-opacity="0.51"/><ellipse cx="460.9" cy="715.1" rx="1.4" ry="2.2" transform="rotate(159 460.9 715.1)" fill="#4a4ac4" fill-opacity="0.45"/><ellipse cx="466" cy="714.4" rx="1.5" ry="2.1" transform="rotate(62 466 714.4)" fill="#4a4ac4" fill-opacity="0.39"/><ellipse cx="412.6" cy="723.8" rx="1.4" ry="2" transform="rotate(109 412.6 723.8)" fill="#4a4ac4" fill-opacity="0.43"/><ellipse cx="417.5" cy="723.3" rx="1.4" ry="2.3" transform="rotate(137 417.5 723.3)" fill="#4a4ac4" fill-opacity="0.69"/><ellipse cx="427.5" cy="722.5" rx="1.7" ry="2.3" transform="rotate(116 427.5 722.5)" fill="#4a4ac4" fill-opacity="0.36"/><ellipse cx="433.1" cy="721" rx="1.3" ry="2.1" transform="rotate(137 433.1 721)" fill="#4a4ac4" fill-opacity="0.72"/><ellipse cx="439.6" cy="722.4" rx="1.4" ry="2.3" transform="rotate(108 439.6 722.4)" fill="#4a4ac4" fill-opacity="0.60"/><ellipse cx="451" cy="720.9" rx="1.6" ry="2.1" transform="rotate(36 451 720.9)" fill="#4a4ac4" fill-opacity="0.43"/><ellipse cx="457.8" cy="722.3" rx="1.4" ry="2.6" transform="rotate(147 457.8 722.3)" fill="#4a4ac4" fill-opacity="0.37"/><ellipse cx="464.5" cy="719.9" rx="1.6" ry="2.2" transform="rotate(20 464.5 719.9)" fill="#4a4ac4" fill-opacity="0.42"/><ellipse cx="413.3" cy="727.3" rx="1.5" ry="2.2" transform="rotate(143 413.3 727.3)" fill="#4a4ac4" fill-opacity="0.64"/><ellipse cx="420.9" cy="726.6" rx="1.3" ry="2.5" transform="rotate(158 420.9 726.6)" fill="#4a4ac4" fill-opacity="0.60"/><ellipse cx="432.3" cy="727.9" rx="1.4" ry="2.2" transform="rotate(160 432.3 727.9)" fill="#4a4ac4" fill-opacity="0.48"/><ellipse cx="438" cy="727.8" rx="1.4" ry="2.3" transform="rotate(42 438 727.8)" fill="#4a4ac4" fill-opacity="0.38"/><ellipse cx="447.2" cy="729.3" rx="1.4" ry="2.4" transform="rotate(91 447.2 729.3)" fill="#4a4ac4" fill-opacity="0.51"/><ellipse cx="454.4" cy="727.7" rx="1.4" ry="2" transform="rotate(135 454.4 727.7)" fill="#4a4ac4" fill-opacity="0.69"/><ellipse cx="462.2" cy="728.4" rx="1.6" ry="2.4" transform="rotate(13 462.2 728.4)" fill="#4a4ac4" fill-opacity="0.59"/><ellipse cx="469" cy="728.6" rx="1.6" ry="2.5" transform="rotate(7 469 728.6)" fill="#4a4ac4" fill-opacity="0.71"/><ellipse cx="411.4" cy="735.8" rx="1.3" ry="2.2" transform="rotate(85 411.4 735.8)" fill="#4a4ac4" fill-opacity="0.65"/><ellipse cx="420.1" cy="734.3" rx="1.6" ry="2.1" transform="rotate(94 420.1 734.3)" fill="#4a4ac4" fill-opacity="0.49"/><ellipse cx="425.6" cy="733" rx="1.7" ry="2.1" transform="rotate(12 425.6 733)" fill="#4a4ac4" fill-opacity="0.51"/><ellipse cx="434.6" cy="736.1" rx="1.3" ry="2.4" transform="rotate(127 434.6 736.1)" fill="#4a4ac4" fill-opacity="0.37"/><ellipse cx="440.4" cy="736.2" rx="1.5" ry="2.5" transform="rotate(117 440.4 736.2)" fill="#4a4ac4" fill-opacity="0.74"/><ellipse cx="447.7" cy="733.9" rx="1.5" ry="2.2" transform="rotate(68 447.7 733.9)" fill="#4a4ac4" fill-opacity="0.50"/><ellipse cx="455.2" cy="734.9" rx="1.5" ry="2.3" transform="rotate(88 455.2 734.9)" fill="#4a4ac4" fill-opacity="0.68"/><ellipse cx="463.2" cy="736" rx="1.4" ry="2.4" transform="rotate(159 463.2 736)" fill="#4a4ac4" fill-opacity="0.38"/><ellipse cx="413.9" cy="739.6" rx="1.4" ry="2.1" transform="rotate(42 413.9 739.6)" fill="#4a4ac4" fill-opacity="0.74"/><ellipse cx="423.5" cy="740" rx="1.5" ry="2.3" transform="rotate(147 423.5 740)" fill="#4a4ac4" fill-opacity="0.46"/><ellipse cx="432.1" cy="743.5" rx="1.3" ry="2.1" transform="rotate(39 432.1 743.5)" fill="#4a4ac4" fill-opacity="0.47"/><ellipse cx="439.5" cy="740.4" rx="1.4" ry="2" transform="rotate(95 439.5 740.4)" fill="#4a4ac4" fill-opacity="0.57"/><ellipse cx="443.2" cy="740.4" rx="1.4" ry="2.6" transform="rotate(156 443.2 740.4)" fill="#4a4ac4" fill-opacity="0.44"/><ellipse cx="455" cy="739.6" rx="1.5" ry="2.5" transform="rotate(137 455 739.6)" fill="#4a4ac4" fill-opacity="0.52"/><ellipse cx="458.5" cy="741.7" rx="1.6" ry="2.3" transform="rotate(157 458.5 741.7)" fill="#4a4ac4" fill-opacity="0.74"/><ellipse cx="467.3" cy="743.7" rx="1.4" ry="2.6" transform="rotate(0 467.3 743.7)" fill="#4a4ac4" fill-opacity="0.39"/>
</g>
</svg>
<rect x="456.3" y="698.3" width="41.7" height="40.6" fill="#05050f"/>
<svg x="456.3" y="698.3" width="41.7" height="40.6" viewBox="456.3 698.3 41.7 40.6">
<g filter="url(#bl)">
<ellipse cx="453" cy="694.4" rx="1.3" ry="2.4" transform="rotate(163 453 694.4)" fill="#4a4ac4" fill-opacity="0.54"/><ellipse cx="459" cy="693.9" rx="1.6" ry="2.4" transform="rotate(13 459 693.9)" fill="#4a4ac4" fill-opacity="0.60"/><ellipse cx="467.2" cy="696.9" rx="1.4" ry="2.4" transform="rotate(156 467.2 696.9)" fill="#4a4ac4" fill-opacity="0.48"/><ellipse cx="478.3" cy="697.2" rx="1.4" ry="2.4" transform="rotate(157 478.3 697.2)" fill="#4a4ac4" fill-opacity="0.64"/><ellipse cx="483.4" cy="695.9" rx="1.7" ry="2" transform="rotate(87 483.4 695.9)" fill="#4a4ac4" fill-opacity="0.43"/><ellipse cx="490.6" cy="694.5" rx="1.5" ry="2.6" transform="rotate(173 490.6 694.5)" fill="#4a4ac4" fill-opacity="0.40"/><ellipse cx="499.4" cy="697.2" rx="1.4" ry="2.2" transform="rotate(70 499.4 697.2)" fill="#4a4ac4" fill-opacity="0.53"/><ellipse cx="505.8" cy="693.4" rx="1.6" ry="2.3" transform="rotate(177 505.8 693.4)" fill="#4a4ac4" fill-opacity="0.64"/><ellipse cx="455.7" cy="700.7" rx="1.5" ry="2.4" transform="rotate(174 455.7 700.7)" fill="#4a4ac4" fill-opacity="0.68"/><ellipse cx="466.8" cy="699.8" rx="1.4" ry="2.3" transform="rotate(65 466.8 699.8)" fill="#4a4ac4" fill-opacity="0.51"/><ellipse cx="471.4" cy="700.2" rx="1.6" ry="2.1" transform="rotate(156 471.4 700.2)" fill="#4a4ac4" fill-opacity="0.52"/><ellipse cx="479" cy="701.9" rx="1.4" ry="2.2" transform="rotate(6 479 701.9)" fill="#4a4ac4" fill-opacity="0.52"/><ellipse cx="486.6" cy="703.2" rx="1.5" ry="2.3" transform="rotate(91 486.6 703.2)" fill="#4a4ac4" fill-opacity="0.45"/><ellipse cx="493.8" cy="703.2" rx="1.5" ry="2.2" transform="rotate(104 493.8 703.2)" fill="#4a4ac4" fill-opacity="0.36"/><ellipse cx="500.8" cy="704.1" rx="1.5" ry="2.3" transform="rotate(111 500.8 704.1)" fill="#4a4ac4" fill-opacity="0.75"/><ellipse cx="508.7" cy="702.7" rx="1.6" ry="2.4" transform="rotate(86 508.7 702.7)" fill="#4a4ac4" fill-opacity="0.42"/><ellipse cx="451.4" cy="710.7" rx="1.5" ry="2" transform="rotate(75 451.4 710.7)" fill="#4a4ac4" fill-opacity="0.72"/><ellipse cx="461.1" cy="708.1" rx="1.4" ry="2.2" transform="rotate(140 461.1 708.1)" fill="#4a4ac4" fill-opacity="0.55"/><ellipse cx="468.4" cy="709.6" rx="1.4" ry="2" transform="rotate(144 468.4 709.6)" fill="#4a4ac4" fill-opacity="0.51"/><ellipse cx="476.6" cy="707.3" rx="1.7" ry="2" transform="rotate(153 476.6 707.3)" fill="#4a4ac4" fill-opacity="0.52"/><ellipse cx="485.2" cy="706.8" rx="1.4" ry="2.3" transform="rotate(43 485.2 706.8)" fill="#4a4ac4" fill-opacity="0.51"/><ellipse cx="491.3" cy="709.1" rx="1.5" ry="2.4" transform="rotate(5 491.3 709.1)" fill="#4a4ac4" fill-opacity="0.59"/><ellipse cx="498" cy="710" rx="1.6" ry="2.4" transform="rotate(38 498 710)" fill="#4a4ac4" fill-opacity="0.38"/><ellipse cx="505.1" cy="707.8" rx="1.5" ry="2.3" transform="rotate(74 505.1 707.8)" fill="#4a4ac4" fill-opacity="0.43"/><ellipse cx="457.5" cy="716.4" rx="1.6" ry="2.4" transform="rotate(33 457.5 716.4)" fill="#4a4ac4" fill-opacity="0.46"/><ellipse cx="465.7" cy="714.1" rx="1.4" ry="2.2" transform="rotate(38 465.7 714.1)" fill="#4a4ac4" fill-opacity="0.37"/><ellipse cx="473.4" cy="714.4" rx="1.4" ry="2.3" transform="rotate(140 473.4 714.4)" fill="#4a4ac4" fill-opacity="0.40"/><ellipse cx="478.7" cy="715" rx="1.4" ry="2.4" transform="rotate(174 478.7 715)" fill="#4a4ac4" fill-opacity="0.53"/><ellipse cx="487.6" cy="716.6" rx="1.5" ry="2.2" transform="rotate(14 487.6 716.6)" fill="#4a4ac4" fill-opacity="0.64"/><ellipse cx="494.5" cy="713.3" rx="1.5" ry="2.4" transform="rotate(166 494.5 713.3)" fill="#4a4ac4" fill-opacity="0.47"/><ellipse cx="503.8" cy="715.6" rx="1.5" ry="2.2" transform="rotate(73 503.8 715.6)" fill="#4a4ac4" fill-opacity="0.61"/><ellipse cx="511.8" cy="713.5" rx="1.5" ry="2.1" transform="rotate(30 511.8 713.5)" fill="#4a4ac4" fill-opacity="0.54"/><ellipse cx="454.4" cy="723.8" rx="1.4" ry="2.1" transform="rotate(102 454.4 723.8)" fill="#4a4ac4" fill-opacity="0.58"/><ellipse cx="460.2" cy="722.7" rx="1.4" ry="2.2" transform="rotate(154 460.2 722.7)" fill="#4a4ac4" fill-opacity="0.50"/><ellipse cx="468.7" cy="720.7" rx="1.4" ry="2.4" transform="rotate(92 468.7 720.7)" fill="#4a4ac4" fill-opacity="0.68"/><ellipse cx="475.1" cy="720.4" rx="1.5" ry="2.2" transform="rotate(75 475.1 720.4)" fill="#4a4ac4" fill-opacity="0.60"/><ellipse cx="484.3" cy="721.7" rx="1.7" ry="2.4" transform="rotate(148 484.3 721.7)" fill="#4a4ac4" fill-opacity="0.74"/><ellipse cx="489.7" cy="721.4" rx="1.3" ry="2.6" transform="rotate(52 489.7 721.4)" fill="#4a4ac4" fill-opacity="0.56"/><ellipse cx="497.8" cy="720.7" rx="1.3" ry="2.1" transform="rotate(159 497.8 720.7)" fill="#4a4ac4" fill-opacity="0.52"/><ellipse cx="507.1" cy="719.5" rx="1.3" ry="2.3" transform="rotate(128 507.1 719.5)" fill="#4a4ac4" fill-opacity="0.39"/><ellipse cx="455.6" cy="726.1" rx="1.5" ry="2.6" transform="rotate(99 455.6 726.1)" fill="#4a4ac4" fill-opacity="0.41"/><ellipse cx="466.3" cy="730.1" rx="1.5" ry="2.4" transform="rotate(87 466.3 730.1)" fill="#4a4ac4" fill-opacity="0.60"/><ellipse cx="474.5" cy="726.4" rx="1.5" ry="2.4" transform="rotate(1 474.5 726.4)" fill="#4a4ac4" fill-opacity="0.53"/><ellipse cx="478.5" cy="726.8" rx="1.5" ry="2.5" transform="rotate(73 478.5 726.8)" fill="#4a4ac4" fill-opacity="0.67"/><ellipse cx="487.3" cy="729.8" rx="1.4" ry="2.2" transform="rotate(20 487.3 729.8)" fill="#4a4ac4" fill-opacity="0.61"/><ellipse cx="493.1" cy="729.2" rx="1.5" ry="2.1" transform="rotate(85 493.1 729.2)" fill="#4a4ac4" fill-opacity="0.61"/><ellipse cx="503.6" cy="726.1" rx="1.6" ry="2.3" transform="rotate(34 503.6 726.1)" fill="#4a4ac4" fill-opacity="0.52"/><ellipse cx="510.9" cy="730.2" rx="1.4" ry="2.1" transform="rotate(151 510.9 730.2)" fill="#4a4ac4" fill-opacity="0.42"/><ellipse cx="454.8" cy="735.2" rx="1.5" ry="2.2" transform="rotate(104 454.8 735.2)" fill="#4a4ac4" fill-opacity="0.40"/><ellipse cx="463.1" cy="734.2" rx="1.6" ry="2.2" transform="rotate(169 463.1 734.2)" fill="#4a4ac4" fill-opacity="0.44"/><ellipse cx="467.4" cy="734" rx="1.4" ry="2.2" transform="rotate(170 467.4 734)" fill="#4a4ac4" fill-opacity="0.60"/><ellipse cx="476.6" cy="734.8" rx="1.4" ry="2.1" transform="rotate(111 476.6 734.8)" fill="#4a4ac4" fill-opacity="0.37"/><ellipse cx="484.6" cy="736.6" rx="1.7" ry="2.5" transform="rotate(11 484.6 736.6)" fill="#4a4ac4" fill-opacity="0.49"/><ellipse cx="489.2" cy="734.9" rx="1.6" ry="2.3" transform="rotate(113 489.2 734.9)" fill="#4a4ac4" fill-opacity="0.53"/><ellipse cx="498.6" cy="734.4" rx="1.4" ry="2.1" transform="rotate(20 498.6 734.4)" fill="#4a4ac4" fill-opacity="0.72"/><ellipse cx="507.4" cy="733.2" rx="1.4" ry="2.5" transform="rotate(114 507.4 733.2)" fill="#4a4ac4" fill-opacity="0.65"/><ellipse cx="458.9" cy="741.4" rx="1.6" ry="2.6" transform="rotate(67 458.9 741.4)" fill="#4a4ac4" fill-opacity="0.67"/><ellipse cx="464.3" cy="743.5" rx="1.4" ry="2.1" transform="rotate(72 464.3 743.5)" fill="#4a4ac4" fill-opacity="0.66"/><ellipse cx="470.7" cy="743.5" rx="1.5" ry="2" transform="rotate(135 470.7 743.5)" fill="#4a4ac4" fill-opacity="0.72"/><ellipse cx="480.2" cy="741.8" rx="1.7" ry="2.3" transform="rotate(59 480.2 741.8)" fill="#4a4ac4" fill-opacity="0.62"/><ellipse cx="486.7" cy="739.5" rx="1.4" ry="2.5" transform="rotate(162 486.7 739.5)" fill="#4a4ac4" fill-opacity="0.61"/><ellipse cx="494" cy="741" rx="1.6" ry="2.4" transform="rotate(96 494 741)" fill="#4a4ac4" fill-opacity="0.73"/><ellipse cx="502.9" cy="740.8" rx="1.6" ry="2.1" transform="rotate(124 502.9 740.8)" fill="#4a4ac4" fill-opacity="0.56"/><ellipse cx="509.6" cy="743.7" rx="1.6" ry="2.3" transform="rotate(121 509.6 743.7)" fill="#4a4ac4" fill-opacity="0.68"/>
</g>
</svg>
<rect x="330.6" y="740.9" width="41" height="41.6" fill="#030603"/>
<svg x="330.6" y="740.9" width="41" height="41.6" viewBox="330.6 740.9 41 41.6">
<ellipse cx="329.5" cy="737" rx="1.7" ry="2.1" transform="rotate(82 329.5 737)" fill="#1a221a" fill-opacity="0.45"/><ellipse cx="336" cy="738.3" rx="1.5" ry="2.2" transform="rotate(128 336 738.3)" fill="#1a221a" fill-opacity="0.56"/><ellipse cx="340.9" cy="737.1" rx="1.5" ry="2.1" transform="rotate(49 340.9 737.1)" fill="#1a221a" fill-opacity="0.71"/><ellipse cx="348.3" cy="737.2" rx="1.5" ry="2.5" transform="rotate(177 348.3 737.2)" fill="#1a221a" fill-opacity="0.41"/><ellipse cx="356.3" cy="739.3" rx="1.4" ry="2.6" transform="rotate(159 356.3 739.3)" fill="#1a221a" fill-opacity="0.73"/><ellipse cx="364.4" cy="739.3" rx="1.6" ry="2.5" transform="rotate(143 364.4 739.3)" fill="#1a221a" fill-opacity="0.61"/><ellipse cx="374.6" cy="737" rx="1.4" ry="2.1" transform="rotate(173 374.6 737)" fill="#1a221a" fill-opacity="0.65"/><ellipse cx="382.3" cy="740.1" rx="1.6" ry="2.2" transform="rotate(156 382.3 740.1)" fill="#1a221a" fill-opacity="0.66"/><ellipse cx="329.8" cy="746.5" rx="1.6" ry="2.1" transform="rotate(139 329.8 746.5)" fill="#1a221a" fill-opacity="0.62"/><ellipse cx="337.2" cy="743.5" rx="1.3" ry="2.1" transform="rotate(161 337.2 743.5)" fill="#1a221a" fill-opacity="0.54"/><ellipse cx="344.9" cy="746.3" rx="1.6" ry="2.1" transform="rotate(175 344.9 746.3)" fill="#1a221a" fill-opacity="0.42"/><ellipse cx="355.8" cy="743.4" rx="1.5" ry="2.3" transform="rotate(134 355.8 743.4)" fill="#1a221a" fill-opacity="0.42"/><ellipse cx="360.1" cy="746.4" rx="1.4" ry="2.2" transform="rotate(84 360.1 746.4)" fill="#1a221a" fill-opacity="0.70"/><ellipse cx="371.1" cy="744.6" rx="1.7" ry="2.2" transform="rotate(173 371.1 744.6)" fill="#1a221a" fill-opacity="0.67"/><ellipse cx="377.1" cy="746.4" rx="1.3" ry="2.1" transform="rotate(8 377.1 746.4)" fill="#1a221a" fill-opacity="0.62"/><ellipse cx="384.2" cy="743.4" rx="1.6" ry="2.5" transform="rotate(13 384.2 743.4)" fill="#1a221a" fill-opacity="0.43"/><ellipse cx="328.1" cy="750.4" rx="1.6" ry="2.3" transform="rotate(131 328.1 750.4)" fill="#1a221a" fill-opacity="0.41"/><ellipse cx="335.2" cy="751.6" rx="1.5" ry="2.3" transform="rotate(23 335.2 751.6)" fill="#1a221a" fill-opacity="0.59"/><ellipse cx="342.9" cy="750.6" rx="1.7" ry="2.2" transform="rotate(109 342.9 750.6)" fill="#1a221a" fill-opacity="0.54"/><ellipse cx="351.7" cy="751.3" rx="1.5" ry="2.6" transform="rotate(157 351.7 751.3)" fill="#1a221a" fill-opacity="0.71"/><ellipse cx="359.5" cy="749.6" rx="1.5" ry="2.3" transform="rotate(55 359.5 749.6)" fill="#1a221a" fill-opacity="0.50"/><ellipse cx="365.6" cy="752.9" rx="1.5" ry="2.4" transform="rotate(65 365.6 752.9)" fill="#1a221a" fill-opacity="0.74"/><ellipse cx="371.5" cy="752.3" rx="1.4" ry="2.5" transform="rotate(42 371.5 752.3)" fill="#1a221a" fill-opacity="0.68"/><ellipse cx="382" cy="749.2" rx="1.4" ry="2.4" transform="rotate(143 382 749.2)" fill="#1a221a" fill-opacity="0.63"/><ellipse cx="331.2" cy="760" rx="1.5" ry="2.1" transform="rotate(112 331.2 760)" fill="#1a221a" fill-opacity="0.47"/><ellipse cx="337.6" cy="755.9" rx="1.7" ry="2.3" transform="rotate(11 337.6 755.9)" fill="#1a221a" fill-opacity="0.60"/><ellipse cx="345.6" cy="755.6" rx="1.3" ry="2.5" transform="rotate(78 345.6 755.6)" fill="#1a221a" fill-opacity="0.54"/><ellipse cx="355.2" cy="755.6" rx="1.6" ry="2.1" transform="rotate(103 355.2 755.6)" fill="#1a221a" fill-opacity="0.59"/><ellipse cx="360.2" cy="759.2" rx="1.4" ry="2.1" transform="rotate(43 360.2 759.2)" fill="#1a221a" fill-opacity="0.57"/><ellipse cx="371" cy="756" rx="1.6" ry="2.4" transform="rotate(140 371 756)" fill="#1a221a" fill-opacity="0.48"/><ellipse cx="378.4" cy="759" rx="1.5" ry="2.2" transform="rotate(103 378.4 759)" fill="#1a221a" fill-opacity="0.78"/><ellipse cx="385.3" cy="756.3" rx="1.5" ry="2.3" transform="rotate(58 385.3 756.3)" fill="#1a221a" fill-opacity="0.41"/><ellipse cx="327.2" cy="763.7" rx="1.5" ry="2.3" transform="rotate(74 327.2 763.7)" fill="#1a221a" fill-opacity="0.52"/><ellipse cx="337.1" cy="762.3" rx="1.7" ry="2.4" transform="rotate(121 337.1 762.3)" fill="#1a221a" fill-opacity="0.58"/><ellipse cx="342.5" cy="765.9" rx="1.6" ry="2.6" transform="rotate(30 342.5 765.9)" fill="#1a221a" fill-opacity="0.54"/><ellipse cx="350.5" cy="766" rx="1.4" ry="2.1" transform="rotate(164 350.5 766)" fill="#1a221a" fill-opacity="0.72"/><ellipse cx="359.3" cy="765.6" rx="1.5" ry="2.2" transform="rotate(46 359.3 765.6)" fill="#1a221a" fill-opacity="0.49"/><ellipse cx="364.1" cy="765.9" rx="1.7" ry="2.4" transform="rotate(123 364.1 765.9)" fill="#1a221a" fill-opacity="0.55"/><ellipse cx="374.7" cy="763.1" rx="1.3" ry="2.5" transform="rotate(2 374.7 763.1)" fill="#1a221a" fill-opacity="0.48"/><ellipse cx="378.6" cy="766" rx="1.7" ry="2.5" transform="rotate(177 378.6 766)" fill="#1a221a" fill-opacity="0.59"/><ellipse cx="329.5" cy="771.9" rx="1.3" ry="2.1" transform="rotate(128 329.5 771.9)" fill="#1a221a" fill-opacity="0.48"/><ellipse cx="337.8" cy="773.1" rx="1.6" ry="2.4" transform="rotate(25 337.8 773.1)" fill="#1a221a" fill-opacity="0.52"/><ellipse cx="344.6" cy="769.8" rx="1.4" ry="2.3" transform="rotate(91 344.6 769.8)" fill="#1a221a" fill-opacity="0.50"/><ellipse cx="355.3" cy="773.2" rx="1.7" ry="2.5" transform="rotate(133 355.3 773.2)" fill="#1a221a" fill-opacity="0.54"/><ellipse cx="363.2" cy="771.5" rx="1.3" ry="2.4" transform="rotate(76 363.2 771.5)" fill="#1a221a" fill-opacity="0.72"/><ellipse cx="369.6" cy="769.6" rx="1.5" ry="2.4" transform="rotate(165 369.6 769.6)" fill="#1a221a" fill-opacity="0.74"/><ellipse cx="375.5" cy="770.5" rx="1.3" ry="2.1" transform="rotate(103 375.5 770.5)" fill="#1a221a" fill-opacity="0.70"/><ellipse cx="386.6" cy="769.5" rx="1.5" ry="2" transform="rotate(137 386.6 769.5)" fill="#1a221a" fill-opacity="0.77"/><ellipse cx="327.3" cy="777.6" rx="1.5" ry="2.4" transform="rotate(143 327.3 777.6)" fill="#1a221a" fill-opacity="0.58"/><ellipse cx="336.1" cy="778.8" rx="1.6" ry="2.5" transform="rotate(146 336.1 778.8)" fill="#1a221a" fill-opacity="0.70"/><ellipse cx="342.9" cy="777.4" rx="1.4" ry="2.5" transform="rotate(146 342.9 777.4)" fill="#1a221a" fill-opacity="0.49"/><ellipse cx="351.3" cy="777.1" rx="1.5" ry="2.2" transform="rotate(81 351.3 777.1)" fill="#1a221a" fill-opacity="0.54"/><ellipse cx="360.2" cy="779.1" rx="1.4" ry="2.2" transform="rotate(65 360.2 779.1)" fill="#1a221a" fill-opacity="0.45"/><ellipse cx="367.6" cy="777.1" rx="1.5" ry="2.5" transform="rotate(34 367.6 777.1)" fill="#1a221a" fill-opacity="0.47"/><ellipse cx="373.9" cy="777.4" rx="1.5" ry="2.6" transform="rotate(102 373.9 777.4)" fill="#1a221a" fill-opacity="0.59"/><ellipse cx="380.2" cy="779" rx="1.6" ry="2.3" transform="rotate(142 380.2 779)" fill="#1a221a" fill-opacity="0.60"/><ellipse cx="330" cy="785" rx="1.6" ry="2.4" transform="rotate(59 330 785)" fill="#1a221a" fill-opacity="0.56"/><ellipse cx="338.7" cy="785.9" rx="1.7" ry="2.3" transform="rotate(70 338.7 785.9)" fill="#1a221a" fill-opacity="0.64"/><ellipse cx="347.1" cy="783.5" rx="1.6" ry="2.5" transform="rotate(174 347.1 783.5)" fill="#1a221a" fill-opacity="0.59"/><ellipse cx="352.7" cy="783.2" rx="1.3" ry="2.5" transform="rotate(21 352.7 783.2)" fill="#1a221a" fill-opacity="0.69"/><ellipse cx="363.2" cy="782.7" rx="1.5" ry="2" transform="rotate(163 363.2 782.7)" fill="#1a221a" fill-opacity="0.59"/><ellipse cx="368.2" cy="782.8" rx="1.4" ry="2.2" transform="rotate(174 368.2 782.8)" fill="#1a221a" fill-opacity="0.41"/><ellipse cx="377.3" cy="782.9" rx="1.5" ry="2" transform="rotate(162 377.3 782.9)" fill="#1a221a" fill-opacity="0.71"/><ellipse cx="383.6" cy="784.9" rx="1.3" ry="2.1" transform="rotate(61 383.6 784.9)" fill="#1a221a" fill-opacity="0.66"/>
</svg>
<rect x="372.8" y="740.9" width="40" height="41.6" fill="#030603"/>
<svg x="372.8" y="740.9" width="40" height="41.6" viewBox="372.8 740.9 40 41.6">
<g filter="url(#bl)">
<ellipse cx="369" cy="738.5" rx="1.9" ry="2.6" transform="rotate(1 369 738.5)" fill="#3cb45e" fill-opacity="0.79"/><ellipse cx="376.5" cy="736.5" rx="1.6" ry="2.4" transform="rotate(9 376.5 736.5)" fill="#3cb45e" fill-opacity="0.48"/><ellipse cx="384.8" cy="739.4" rx="1.7" ry="2.2" transform="rotate(136 384.8 739.4)" fill="#3cb45e" fill-opacity="0.54"/><ellipse cx="391" cy="738.6" rx="2" ry="2.3" transform="rotate(34 391 738.6)" fill="#3cb45e" fill-opacity="0.46"/><ellipse cx="403.1" cy="740.1" rx="1.7" ry="2.1" transform="rotate(119 403.1 740.1)" fill="#3cb45e" fill-opacity="0.50"/><ellipse cx="409.9" cy="738" rx="1.7" ry="2.2" transform="rotate(53 409.9 738)" fill="#3cb45e" fill-opacity="0.41"/><ellipse cx="414.6" cy="736.7" rx="1.8" ry="2.3" transform="rotate(53 414.6 736.7)" fill="#3cb45e" fill-opacity="0.57"/><ellipse cx="375.3" cy="743.7" rx="1.7" ry="2.3" transform="rotate(17 375.3 743.7)" fill="#3cb45e" fill-opacity="0.52"/><ellipse cx="381.4" cy="743.8" rx="1.8" ry="2.4" transform="rotate(17 381.4 743.8)" fill="#3cb45e" fill-opacity="0.70"/><ellipse cx="390.2" cy="746.3" rx="1.8" ry="2.4" transform="rotate(6 390.2 746.3)" fill="#3cb45e" fill-opacity="0.48"/><ellipse cx="397.1" cy="744.7" rx="1.9" ry="2.6" transform="rotate(55 397.1 744.7)" fill="#3cb45e" fill-opacity="0.50"/><ellipse cx="404.9" cy="744.5" rx="1.7" ry="2.4" transform="rotate(23 404.9 744.5)" fill="#3cb45e" fill-opacity="0.64"/><ellipse cx="411.7" cy="744.5" rx="1.8" ry="2.2" transform="rotate(155 411.7 744.5)" fill="#3cb45e" fill-opacity="0.52"/><ellipse cx="420.4" cy="746.4" rx="1.8" ry="2.3" transform="rotate(88 420.4 746.4)" fill="#3cb45e" fill-opacity="0.79"/><ellipse cx="370.5" cy="751.5" rx="1.6" ry="2.3" transform="rotate(120 370.5 751.5)" fill="#3cb45e" fill-opacity="0.52"/><ellipse cx="375.6" cy="750.3" rx="2" ry="2.4" transform="rotate(107 375.6 750.3)" fill="#3cb45e" fill-opacity="0.68"/><ellipse cx="385.7" cy="750.7" rx="1.6" ry="2.3" transform="rotate(85 385.7 750.7)" fill="#3cb45e" fill-opacity="0.52"/><ellipse cx="393.8" cy="750.6" rx="1.7" ry="2.5" transform="rotate(133 393.8 750.6)" fill="#3cb45e" fill-opacity="0.61"/><ellipse cx="398.8" cy="750.4" rx="1.7" ry="2.6" transform="rotate(57 398.8 750.4)" fill="#3cb45e" fill-opacity="0.67"/><ellipse cx="407" cy="751.2" rx="1.7" ry="2.1" transform="rotate(84 407 751.2)" fill="#3cb45e" fill-opacity="0.70"/><ellipse cx="417.7" cy="752.8" rx="1.8" ry="2.3" transform="rotate(103 417.7 752.8)" fill="#3cb45e" fill-opacity="0.76"/><ellipse cx="373.7" cy="756.5" rx="1.6" ry="2.5" transform="rotate(149 373.7 756.5)" fill="#3cb45e" fill-opacity="0.42"/><ellipse cx="381.3" cy="756.6" rx="1.8" ry="2" transform="rotate(159 381.3 756.6)" fill="#3cb45e" fill-opacity="0.48"/><ellipse cx="387.6" cy="758.2" rx="1.9" ry="2.4" transform="rotate(126 387.6 758.2)" fill="#3cb45e" fill-opacity="0.45"/><ellipse cx="397.9" cy="760.4" rx="1.6" ry="2.5" transform="rotate(86 397.9 760.4)" fill="#3cb45e" fill-opacity="0.40"/><ellipse cx="403.1" cy="757.2" rx="1.9" ry="2.3" transform="rotate(117 403.1 757.2)" fill="#3cb45e" fill-opacity="0.69"/><ellipse cx="411.9" cy="760.1" rx="2" ry="2.1" transform="rotate(3 411.9 760.1)" fill="#3cb45e" fill-opacity="0.50"/><ellipse cx="422.1" cy="758.7" rx="1.8" ry="2.5" transform="rotate(113 422.1 758.7)" fill="#3cb45e" fill-opacity="0.65"/><ellipse cx="367.7" cy="764" rx="1.9" ry="2.4" transform="rotate(138 367.7 764)" fill="#3cb45e" fill-opacity="0.70"/><ellipse cx="376.6" cy="765.5" rx="1.7" ry="2.2" transform="rotate(102 376.6 765.5)" fill="#3cb45e" fill-opacity="0.73"/><ellipse cx="384.6" cy="763.7" rx="1.6" ry="2.5" transform="rotate(131 384.6 763.7)" fill="#3cb45e" fill-opacity="0.60"/><ellipse cx="393.3" cy="766.6" rx="1.7" ry="2.3" transform="rotate(133 393.3 766.6)" fill="#3cb45e" fill-opacity="0.56"/><ellipse cx="403.1" cy="766.5" rx="1.8" ry="2.2" transform="rotate(172 403.1 766.5)" fill="#3cb45e" fill-opacity="0.63"/><ellipse cx="409" cy="765.3" rx="2" ry="2.2" transform="rotate(137 409 765.3)" fill="#3cb45e" fill-opacity="0.74"/><ellipse cx="417.3" cy="763" rx="1.6" ry="2.5" transform="rotate(50 417.3 763)" fill="#3cb45e" fill-opacity="0.64"/><ellipse cx="373.9" cy="770.6" rx="1.6" ry="2.5" transform="rotate(75 373.9 770.6)" fill="#3cb45e" fill-opacity="0.70"/><ellipse cx="382.2" cy="772" rx="1.7" ry="2" transform="rotate(34 382.2 772)" fill="#3cb45e" fill-opacity="0.65"/><ellipse cx="390.9" cy="771.1" rx="1.8" ry="2.2" transform="rotate(138 390.9 771.1)" fill="#3cb45e" fill-opacity="0.59"/><ellipse cx="398.6" cy="773.1" rx="1.7" ry="2.5" transform="rotate(69 398.6 773.1)" fill="#3cb45e" fill-opacity="0.62"/><ellipse cx="404.7" cy="772.3" rx="1.7" ry="2.5" transform="rotate(103 404.7 772.3)" fill="#3cb45e" fill-opacity="0.44"/><ellipse cx="413.1" cy="770.6" rx="1.9" ry="2.5" transform="rotate(29 413.1 770.6)" fill="#3cb45e" fill-opacity="0.75"/><ellipse cx="419" cy="772.1" rx="1.7" ry="2.4" transform="rotate(78 419 772.1)" fill="#3cb45e" fill-opacity="0.57"/><ellipse cx="370.1" cy="776.6" rx="1.9" ry="2.5" transform="rotate(7 370.1 776.6)" fill="#3cb45e" fill-opacity="0.47"/><ellipse cx="378.4" cy="778" rx="1.7" ry="2.6" transform="rotate(95 378.4 778)" fill="#3cb45e" fill-opacity="0.66"/><ellipse cx="387.4" cy="776.4" rx="1.9" ry="2.5" transform="rotate(45 387.4 776.4)" fill="#3cb45e" fill-opacity="0.51"/><ellipse cx="395.3" cy="778.3" rx="1.6" ry="2.4" transform="rotate(97 395.3 778.3)" fill="#3cb45e" fill-opacity="0.48"/><ellipse cx="401.2" cy="780.4" rx="1.6" ry="2.3" transform="rotate(165 401.2 780.4)" fill="#3cb45e" fill-opacity="0.62"/><ellipse cx="410.8" cy="778.5" rx="1.8" ry="2.3" transform="rotate(116 410.8 778.5)" fill="#3cb45e" fill-opacity="0.61"/><ellipse cx="415.3" cy="778.4" rx="1.6" ry="2.1" transform="rotate(143 415.3 778.4)" fill="#3cb45e" fill-opacity="0.70"/><ellipse cx="371.7" cy="783.5" rx="1.7" ry="2.4" transform="rotate(1 371.7 783.5)" fill="#3cb45e" fill-opacity="0.69"/><ellipse cx="383" cy="783.8" rx="1.7" ry="2.6" transform="rotate(44 383 783.8)" fill="#3cb45e" fill-opacity="0.45"/><ellipse cx="391.1" cy="787.6" rx="1.8" ry="2" transform="rotate(33 391.1 787.6)" fill="#3cb45e" fill-opacity="0.57"/><ellipse cx="397.8" cy="787.2" rx="1.7" ry="2.5" transform="rotate(166 397.8 787.2)" fill="#3cb45e" fill-opacity="0.75"/><ellipse cx="403.5" cy="785.2" rx="1.6" ry="2.2" transform="rotate(13 403.5 785.2)" fill="#3cb45e" fill-opacity="0.44"/><ellipse cx="413.8" cy="785.7" rx="1.7" ry="2.1" transform="rotate(30 413.8 785.7)" fill="#3cb45e" fill-opacity="0.52"/><ellipse cx="418.9" cy="787.5" rx="1.6" ry="2.3" transform="rotate(140 418.9 787.5)" fill="#3cb45e" fill-opacity="0.67"/>
</g>
</svg>
<rect x="414.3" y="740.9" width="40.5" height="41.6" fill="#030603"/>
<svg x="414.3" y="740.9" width="40.5" height="41.6" viewBox="414.3 740.9 40.5 41.6">
<g filter="url(#bl)">
<ellipse cx="409.3" cy="738.3" rx="1.8" ry="2.2" transform="rotate(178 409.3 738.3)" fill="#3cb45e" fill-opacity="0.54"/><ellipse cx="420.2" cy="738.8" rx="1.9" ry="2.2" transform="rotate(107 420.2 738.8)" fill="#3cb45e" fill-opacity="0.79"/><ellipse cx="426.3" cy="738.5" rx="1.9" ry="2.3" transform="rotate(124 426.3 738.5)" fill="#3cb45e" fill-opacity="0.49"/><ellipse cx="436" cy="736" rx="1.8" ry="2.2" transform="rotate(57 436 736)" fill="#3cb45e" fill-opacity="0.41"/><ellipse cx="441.8" cy="736.6" rx="1.7" ry="2.3" transform="rotate(153 441.8 736.6)" fill="#3cb45e" fill-opacity="0.65"/><ellipse cx="448.8" cy="740" rx="1.7" ry="2.6" transform="rotate(162 448.8 740)" fill="#3cb45e" fill-opacity="0.63"/><ellipse cx="456.8" cy="735.8" rx="1.9" ry="2.1" transform="rotate(75 456.8 735.8)" fill="#3cb45e" fill-opacity="0.55"/><ellipse cx="413.1" cy="744.4" rx="1.8" ry="2.5" transform="rotate(7 413.1 744.4)" fill="#3cb45e" fill-opacity="0.67"/><ellipse cx="425" cy="743.4" rx="2" ry="2" transform="rotate(141 425 743.4)" fill="#3cb45e" fill-opacity="0.60"/><ellipse cx="430.6" cy="746.9" rx="1.7" ry="2.2" transform="rotate(10 430.6 746.9)" fill="#3cb45e" fill-opacity="0.52"/><ellipse cx="440.9" cy="743.2" rx="1.9" ry="2.1" transform="rotate(148 440.9 743.2)" fill="#3cb45e" fill-opacity="0.51"/><ellipse cx="444.5" cy="747" rx="1.7" ry="2.3" transform="rotate(2 444.5 747)" fill="#3cb45e" fill-opacity="0.66"/><ellipse cx="453.3" cy="745.3" rx="1.6" ry="2.5" transform="rotate(122 453.3 745.3)" fill="#3cb45e" fill-opacity="0.70"/><ellipse cx="460.8" cy="745.1" rx="1.8" ry="2.3" transform="rotate(145 460.8 745.1)" fill="#3cb45e" fill-opacity="0.71"/><ellipse cx="409.7" cy="753.2" rx="2" ry="2.4" transform="rotate(107 409.7 753.2)" fill="#3cb45e" fill-opacity="0.71"/><ellipse cx="418.2" cy="751.4" rx="1.9" ry="2.4" transform="rotate(31 418.2 751.4)" fill="#3cb45e" fill-opacity="0.51"/><ellipse cx="425.3" cy="751.6" rx="1.9" ry="2.2" transform="rotate(73 425.3 751.6)" fill="#3cb45e" fill-opacity="0.73"/><ellipse cx="432.7" cy="750" rx="1.6" ry="2.4" transform="rotate(101 432.7 750)" fill="#3cb45e" fill-opacity="0.55"/><ellipse cx="443" cy="750.7" rx="1.8" ry="2" transform="rotate(5 443 750.7)" fill="#3cb45e" fill-opacity="0.54"/><ellipse cx="448.5" cy="749.3" rx="1.9" ry="2.4" transform="rotate(5 448.5 749.3)" fill="#3cb45e" fill-opacity="0.64"/><ellipse cx="457.3" cy="750.8" rx="1.8" ry="2.1" transform="rotate(2 457.3 750.8)" fill="#3cb45e" fill-opacity="0.72"/><ellipse cx="413.4" cy="757.2" rx="1.6" ry="2.5" transform="rotate(69 413.4 757.2)" fill="#3cb45e" fill-opacity="0.68"/><ellipse cx="421.8" cy="756.6" rx="2" ry="2.4" transform="rotate(112 421.8 756.6)" fill="#3cb45e" fill-opacity="0.46"/><ellipse cx="431.9" cy="758.5" rx="1.8" ry="2.1" transform="rotate(158 431.9 758.5)" fill="#3cb45e" fill-opacity="0.74"/><ellipse cx="439.4" cy="760.6" rx="1.6" ry="2.5" transform="rotate(43 439.4 760.6)" fill="#3cb45e" fill-opacity="0.68"/><ellipse cx="446.6" cy="758.5" rx="1.9" ry="2.4" transform="rotate(105 446.6 758.5)" fill="#3cb45e" fill-opacity="0.61"/><ellipse cx="453.2" cy="760" rx="1.8" ry="2.1" transform="rotate(22 453.2 760)" fill="#3cb45e" fill-opacity="0.70"/><ellipse cx="461" cy="758.2" rx="2" ry="2.4" transform="rotate(24 461 758.2)" fill="#3cb45e" fill-opacity="0.65"/><ellipse cx="411.5" cy="765.5" rx="1.9" ry="2.3" transform="rotate(87 411.5 765.5)" fill="#3cb45e" fill-opacity="0.71"/><ellipse cx="420.3" cy="765.7" rx="1.8" ry="2.2" transform="rotate(13 420.3 765.7)" fill="#3cb45e" fill-opacity="0.46"/><ellipse cx="427.8" cy="764.9" rx="2" ry="2.3" transform="rotate(122 427.8 764.9)" fill="#3cb45e" fill-opacity="0.69"/><ellipse cx="433.6" cy="767.3" rx="1.7" ry="2.2" transform="rotate(59 433.6 767.3)" fill="#3cb45e" fill-opacity="0.70"/><ellipse cx="443.2" cy="767" rx="1.8" ry="2.4" transform="rotate(169 443.2 767)" fill="#3cb45e" fill-opacity="0.79"/><ellipse cx="451.5" cy="765.1" rx="1.8" ry="2.2" transform="rotate(133 451.5 765.1)" fill="#3cb45e" fill-opacity="0.55"/><ellipse cx="456.4" cy="767.1" rx="1.9" ry="2.2" transform="rotate(96 456.4 767.1)" fill="#3cb45e" fill-opacity="0.60"/><ellipse cx="413.3" cy="772.4" rx="1.8" ry="2.2" transform="rotate(45 413.3 772.4)" fill="#3cb45e" fill-opacity="0.47"/><ellipse cx="425" cy="771.8" rx="1.9" ry="2.3" transform="rotate(167 425 771.8)" fill="#3cb45e" fill-opacity="0.71"/><ellipse cx="429.2" cy="773.5" rx="2" ry="2.5" transform="rotate(26 429.2 773.5)" fill="#3cb45e" fill-opacity="0.73"/><ellipse cx="440.3" cy="773.2" rx="1.9" ry="2.4" transform="rotate(87 440.3 773.2)" fill="#3cb45e" fill-opacity="0.71"/><ellipse cx="446.3" cy="772.4" rx="1.9" ry="2.6" transform="rotate(138 446.3 772.4)" fill="#3cb45e" fill-opacity="0.45"/><ellipse cx="452.3" cy="774.2" rx="1.8" ry="2.3" transform="rotate(158 452.3 774.2)" fill="#3cb45e" fill-opacity="0.58"/><ellipse cx="460.8" cy="771" rx="1.8" ry="2.2" transform="rotate(171 460.8 771)" fill="#3cb45e" fill-opacity="0.43"/><ellipse cx="411.9" cy="780.7" rx="2" ry="2.2" transform="rotate(112 411.9 780.7)" fill="#3cb45e" fill-opacity="0.49"/><ellipse cx="420.7" cy="780.4" rx="2" ry="2.5" transform="rotate(55 420.7 780.4)" fill="#3cb45e" fill-opacity="0.46"/><ellipse cx="425.6" cy="780.4" rx="1.6" ry="2.3" transform="rotate(146 425.6 780.4)" fill="#3cb45e" fill-opacity="0.48"/><ellipse cx="433.9" cy="777.2" rx="1.6" ry="2" transform="rotate(0 433.9 777.2)" fill="#3cb45e" fill-opacity="0.52"/><ellipse cx="441.2" cy="778.7" rx="1.7" ry="2.3" transform="rotate(108 441.2 778.7)" fill="#3cb45e" fill-opacity="0.54"/><ellipse cx="450.8" cy="778.2" rx="2" ry="2.1" transform="rotate(89 450.8 778.2)" fill="#3cb45e" fill-opacity="0.64"/><ellipse cx="459.8" cy="780" rx="2" ry="2.5" transform="rotate(73 459.8 780)" fill="#3cb45e" fill-opacity="0.65"/><ellipse cx="416.5" cy="783.5" rx="2" ry="2.1" transform="rotate(42 416.5 783.5)" fill="#3cb45e" fill-opacity="0.46"/><ellipse cx="422.6" cy="786.4" rx="2" ry="2.2" transform="rotate(150 422.6 786.4)" fill="#3cb45e" fill-opacity="0.51"/><ellipse cx="432.5" cy="783.7" rx="2" ry="2.2" transform="rotate(166 432.5 783.7)" fill="#3cb45e" fill-opacity="0.41"/><ellipse cx="439.4" cy="786.8" rx="1.9" ry="2.1" transform="rotate(169 439.4 786.8)" fill="#3cb45e" fill-opacity="0.76"/><ellipse cx="448.6" cy="785" rx="1.9" ry="2.6" transform="rotate(40 448.6 785)" fill="#3cb45e" fill-opacity="0.51"/><ellipse cx="454.7" cy="787.3" rx="1.6" ry="2.4" transform="rotate(97 454.7 787.3)" fill="#3cb45e" fill-opacity="0.61"/><ellipse cx="464.1" cy="783.3" rx="1.6" ry="2.6" transform="rotate(104 464.1 783.3)" fill="#3cb45e" fill-opacity="0.62"/>
</g>
</svg>
<rect x="456.3" y="740.9" width="41.7" height="41.6" fill="#030603"/>
<svg x="456.3" y="740.9" width="41.7" height="41.6" viewBox="456.3 740.9 41.7 41.6">
<g filter="url(#bl)">
<ellipse cx="452.3" cy="737.9" rx="1.8" ry="2.3" transform="rotate(101 452.3 737.9)" fill="#3cb45e" fill-opacity="0.58"/><ellipse cx="461.2" cy="736.5" rx="1.9" ry="2" transform="rotate(19 461.2 736.5)" fill="#3cb45e" fill-opacity="0.50"/><ellipse cx="468.2" cy="737.5" rx="1.9" ry="2.6" transform="rotate(99 468.2 737.5)" fill="#3cb45e" fill-opacity="0.57"/><ellipse cx="477" cy="736.5" rx="1.8" ry="2.5" transform="rotate(157 477 736.5)" fill="#3cb45e" fill-opacity="0.74"/><ellipse cx="486.3" cy="740" rx="1.9" ry="2.2" transform="rotate(41 486.3 740)" fill="#3cb45e" fill-opacity="0.49"/><ellipse cx="491.2" cy="735.8" rx="1.7" ry="2.4" transform="rotate(137 491.2 735.8)" fill="#3cb45e" fill-opacity="0.49"/><ellipse cx="498.2" cy="739.2" rx="1.7" ry="2.1" transform="rotate(14 498.2 739.2)" fill="#3cb45e" fill-opacity="0.79"/><ellipse cx="507.7" cy="739.1" rx="1.7" ry="2.5" transform="rotate(87 507.7 739.1)" fill="#3cb45e" fill-opacity="0.68"/><ellipse cx="455.8" cy="744.3" rx="1.6" ry="2.4" transform="rotate(144 455.8 744.3)" fill="#3cb45e" fill-opacity="0.56"/><ellipse cx="463.1" cy="744.3" rx="1.7" ry="2.6" transform="rotate(61 463.1 744.3)" fill="#3cb45e" fill-opacity="0.60"/><ellipse cx="474.3" cy="744.9" rx="1.7" ry="2.2" transform="rotate(54 474.3 744.9)" fill="#3cb45e" fill-opacity="0.55"/><ellipse cx="480.5" cy="745.9" rx="2" ry="2.3" transform="rotate(17 480.5 745.9)" fill="#3cb45e" fill-opacity="0.77"/><ellipse cx="488.6" cy="742.8" rx="1.6" ry="2.4" transform="rotate(39 488.6 742.8)" fill="#3cb45e" fill-opacity="0.42"/><ellipse cx="494.8" cy="745.6" rx="1.9" ry="2.4" transform="rotate(140 494.8 745.6)" fill="#3cb45e" fill-opacity="0.57"/><ellipse cx="504.6" cy="745.1" rx="2" ry="2.1" transform="rotate(115 504.6 745.1)" fill="#3cb45e" fill-opacity="0.46"/><ellipse cx="510.1" cy="743.5" rx="2" ry="2.1" transform="rotate(147 510.1 743.5)" fill="#3cb45e" fill-opacity="0.79"/><ellipse cx="452.8" cy="752.7" rx="1.8" ry="2.2" transform="rotate(19 452.8 752.7)" fill="#3cb45e" fill-opacity="0.56"/><ellipse cx="460.2" cy="751.4" rx="1.8" ry="2.1" transform="rotate(24 460.2 751.4)" fill="#3cb45e" fill-opacity="0.76"/><ellipse cx="468.9" cy="750.8" rx="1.7" ry="2" transform="rotate(114 468.9 750.8)" fill="#3cb45e" fill-opacity="0.43"/><ellipse cx="477.1" cy="751.4" rx="1.8" ry="2.4" transform="rotate(142 477.1 751.4)" fill="#3cb45e" fill-opacity="0.65"/><ellipse cx="483.7" cy="751.6" rx="1.8" ry="2" transform="rotate(69 483.7 751.6)" fill="#3cb45e" fill-opacity="0.58"/><ellipse cx="490.9" cy="751.8" rx="1.9" ry="2.3" transform="rotate(21 490.9 751.8)" fill="#3cb45e" fill-opacity="0.55"/><ellipse cx="501.4" cy="750.7" rx="1.9" ry="2.3" transform="rotate(0 501.4 750.7)" fill="#3cb45e" fill-opacity="0.58"/><ellipse cx="507.2" cy="753.2" rx="1.9" ry="2.1" transform="rotate(66 507.2 753.2)" fill="#3cb45e" fill-opacity="0.77"/><ellipse cx="457.8" cy="759" rx="1.8" ry="2.4" transform="rotate(106 457.8 759)" fill="#3cb45e" fill-opacity="0.67"/><ellipse cx="465.5" cy="759.6" rx="1.8" ry="2.1" transform="rotate(137 465.5 759.6)" fill="#3cb45e" fill-opacity="0.64"/><ellipse cx="470.9" cy="758.2" rx="1.8" ry="2.5" transform="rotate(89 470.9 758.2)" fill="#3cb45e" fill-opacity="0.55"/><ellipse cx="482.3" cy="760.1" rx="1.9" ry="2.5" transform="rotate(24 482.3 760.1)" fill="#3cb45e" fill-opacity="0.48"/><ellipse cx="487" cy="759.6" rx="1.9" ry="2.2" transform="rotate(5 487 759.6)" fill="#3cb45e" fill-opacity="0.56"/><ellipse cx="497.9" cy="756.9" rx="1.7" ry="2.4" transform="rotate(27 497.9 756.9)" fill="#3cb45e" fill-opacity="0.57"/><ellipse cx="504.9" cy="756.4" rx="2" ry="2.1" transform="rotate(31 504.9 756.4)" fill="#3cb45e" fill-opacity="0.42"/><ellipse cx="510.3" cy="757.3" rx="1.9" ry="2.3" transform="rotate(77 510.3 757.3)" fill="#3cb45e" fill-opacity="0.46"/><ellipse cx="452.6" cy="767.2" rx="1.7" ry="2.2" transform="rotate(98 452.6 767.2)" fill="#3cb45e" fill-opacity="0.68"/><ellipse cx="463.1" cy="763.5" rx="1.6" ry="2.2" transform="rotate(173 463.1 763.5)" fill="#3cb45e" fill-opacity="0.51"/><ellipse cx="470.5" cy="765.5" rx="1.8" ry="2.6" transform="rotate(83 470.5 765.5)" fill="#3cb45e" fill-opacity="0.41"/><ellipse cx="478.2" cy="766.6" rx="1.7" ry="2.5" transform="rotate(9 478.2 766.6)" fill="#3cb45e" fill-opacity="0.47"/><ellipse cx="484.8" cy="764.2" rx="1.9" ry="2.4" transform="rotate(11 484.8 764.2)" fill="#3cb45e" fill-opacity="0.52"/><ellipse cx="494.3" cy="765.5" rx="1.7" ry="2.1" transform="rotate(125 494.3 765.5)" fill="#3cb45e" fill-opacity="0.40"/><ellipse cx="499.1" cy="766.3" rx="2" ry="2.2" transform="rotate(96 499.1 766.3)" fill="#3cb45e" fill-opacity="0.70"/><ellipse cx="507.5" cy="762.8" rx="2" ry="2.2" transform="rotate(103 507.5 762.8)" fill="#3cb45e" fill-opacity="0.65"/><ellipse cx="456" cy="774.2" rx="1.9" ry="2.6" transform="rotate(7 456 774.2)" fill="#3cb45e" fill-opacity="0.50"/><ellipse cx="463.8" cy="771.5" rx="1.6" ry="2.2" transform="rotate(139 463.8 771.5)" fill="#3cb45e" fill-opacity="0.46"/><ellipse cx="474" cy="771.9" rx="1.9" ry="2.4" transform="rotate(156 474 771.9)" fill="#3cb45e" fill-opacity="0.50"/><ellipse cx="482.9" cy="773" rx="1.8" ry="2.1" transform="rotate(109 482.9 773)" fill="#3cb45e" fill-opacity="0.49"/><ellipse cx="486.6" cy="772.5" rx="1.7" ry="2.4" transform="rotate(173 486.6 772.5)" fill="#3cb45e" fill-opacity="0.62"/><ellipse cx="497.6" cy="774.1" rx="1.8" ry="2.1" transform="rotate(166 497.6 774.1)" fill="#3cb45e" fill-opacity="0.45"/><ellipse cx="506.1" cy="769.6" rx="1.7" ry="2.5" transform="rotate(39 506.1 769.6)" fill="#3cb45e" fill-opacity="0.61"/><ellipse cx="510.1" cy="771.9" rx="1.8" ry="2.5" transform="rotate(160 510.1 771.9)" fill="#3cb45e" fill-opacity="0.55"/><ellipse cx="455.2" cy="778.7" rx="1.7" ry="2.2" transform="rotate(130 455.2 778.7)" fill="#3cb45e" fill-opacity="0.64"/><ellipse cx="459.7" cy="779.6" rx="1.8" ry="2.2" transform="rotate(159 459.7 779.6)" fill="#3cb45e" fill-opacity="0.71"/><ellipse cx="471.1" cy="776.4" rx="1.8" ry="2.5" transform="rotate(117 471.1 776.4)" fill="#3cb45e" fill-opacity="0.47"/><ellipse cx="478.6" cy="779" rx="1.8" ry="2" transform="rotate(173 478.6 779)" fill="#3cb45e" fill-opacity="0.58"/><ellipse cx="482.8" cy="778.5" rx="1.8" ry="2.6" transform="rotate(141 482.8 778.5)" fill="#3cb45e" fill-opacity="0.72"/><ellipse cx="490.3" cy="778.7" rx="1.7" ry="2.4" transform="rotate(48 490.3 778.7)" fill="#3cb45e" fill-opacity="0.47"/><ellipse cx="498.4" cy="779.3" rx="1.8" ry="2.2" transform="rotate(123 498.4 779.3)" fill="#3cb45e" fill-opacity="0.60"/><ellipse cx="507.2" cy="776.8" rx="1.9" ry="2.4" transform="rotate(98 507.2 776.8)" fill="#3cb45e" fill-opacity="0.53"/><ellipse cx="457.8" cy="783.8" rx="1.8" ry="2.2" transform="rotate(123 457.8 783.8)" fill="#3cb45e" fill-opacity="0.61"/><ellipse cx="465.6" cy="783.6" rx="1.9" ry="2.1" transform="rotate(162 465.6 783.6)" fill="#3cb45e" fill-opacity="0.48"/><ellipse cx="472.9" cy="786" rx="1.7" ry="2.3" transform="rotate(109 472.9 786)" fill="#3cb45e" fill-opacity="0.67"/><ellipse cx="482.5" cy="785" rx="1.7" ry="2" transform="rotate(142 482.5 785)" fill="#3cb45e" fill-opacity="0.44"/><ellipse cx="486.5" cy="787.1" rx="1.9" ry="2.3" transform="rotate(90 486.5 787.1)" fill="#3cb45e" fill-opacity="0.60"/><ellipse cx="497" cy="786.9" rx="1.7" ry="2.4" transform="rotate(116 497 786.9)" fill="#3cb45e" fill-opacity="0.69"/><ellipse cx="503.6" cy="787.4" rx="1.7" ry="2.1" transform="rotate(152 503.6 787.4)" fill="#3cb45e" fill-opacity="0.51"/><ellipse cx="510.7" cy="783.5" rx="1.9" ry="2.3" transform="rotate(123 510.7 783.5)" fill="#3cb45e" fill-opacity="0.72"/>
</g>
</svg>
<text x="333.8" y="707" font-size="7.4" fill="#5a80e0" stroke="#5a80e0" stroke-width="0.19">DAPI</text>
<text x="333.8" y="751.4" font-size="7.8" fill="#4ab84a" stroke="#4ab84a" stroke-width="0.2">c-FOS</text>
<rect x="332.8" y="734.5" width="9.7" height="1.2" fill="#eee"/>
<rect x="332.8" y="778.5" width="9.7" height="1.2" fill="#eee"/>
<text x="576" y="659.2" font-size="8.8" text-anchor="middle" fill="#3fb44a" stroke="#3fb44a" stroke-width="0.22">c-FOS</text>
<line x1="542.9" y1="669.1" x2="542.9" y2="762.6" stroke="#333" stroke-width="0.8"/>
<line x1="541.1" y1="669.1" x2="542.9" y2="669.1" stroke="#333" stroke-width="0.8"/>
<text x="540.6" y="671.8" font-size="7.6" text-anchor="end" fill="#333" stroke="#333" stroke-width="0.19">80</text>
<line x1="541.1" y1="692.5" x2="542.9" y2="692.5" stroke="#333" stroke-width="0.8"/>
<text x="540.6" y="695.2" font-size="7.6" text-anchor="end" fill="#333" stroke="#333" stroke-width="0.19">60</text>
<line x1="541.1" y1="715.8" x2="542.9" y2="715.8" stroke="#333" stroke-width="0.8"/>
<text x="540.6" y="718.5" font-size="7.6" text-anchor="end" fill="#333" stroke="#333" stroke-width="0.19">40</text>
<line x1="541.1" y1="739.3" x2="542.9" y2="739.3" stroke="#333" stroke-width="0.8"/>
<text x="540.6" y="742" font-size="7.6" text-anchor="end" fill="#333" stroke="#333" stroke-width="0.19">20</text>
<line x1="541.1" y1="762.6" x2="542.9" y2="762.6" stroke="#333" stroke-width="0.8"/>
<text x="540.6" y="765.3" font-size="7.6" text-anchor="end" fill="#333" stroke="#333" stroke-width="0.19">0</text>
<line x1="542.9" y1="762.6" x2="607.8" y2="762.6" stroke="#333" stroke-width="0.8"/>
<line x1="552.5" y1="762.6" x2="552.5" y2="764.4" stroke="#333" stroke-width="0.6"/>
<line x1="568.5" y1="762.6" x2="568.5" y2="764.4" stroke="#333" stroke-width="0.6"/>
<line x1="584.5" y1="762.6" x2="584.5" y2="764.4" stroke="#333" stroke-width="0.6"/>
<line x1="601.3" y1="762.6" x2="601.3" y2="764.4" stroke="#333" stroke-width="0.6"/>
<path d="M551.3 753.3h2.4v2.4h-2.4zM550.7 755.2h2.4v2.4h-2.4zM553 755.5h2.4v2.4h-2.4zM552.6 755.9h2.4v2.4h-2.4zM551.8 755.6h2.4v2.4h-2.4zM550.6 754.2h2.4v2.4h-2.4zM550.3 755.1h2.4v2.4h-2.4zM551.4 755.2h2.4v2.4h-2.4zM550.3 752.1h2.4v2.4h-2.4zM553.8 753.3h2.4v2.4h-2.4zM552.7 754.2h2.4v2.4h-2.4zM553.3 755.8h2.4v2.4h-2.4zM565.4 717.1h2.4v2.4h-2.4zM566.9 708.1h2.4v2.4h-2.4zM567.7 728.2h2.4v2.4h-2.4zM569.7 710.4h2.4v2.4h-2.4zM566.2 703.5h2.4v2.4h-2.4zM567.9 728.9h2.4v2.4h-2.4zM568.8 716.7h2.4v2.4h-2.4zM566.8 716h2.4v2.4h-2.4zM565.9 712.4h2.4v2.4h-2.4zM570.2 730.6h2.4v2.4h-2.4zM565.4 718.8h2.4v2.4h-2.4zM565.1 717.5h2.4v2.4h-2.4zM568.9 695.7h2.4v2.4h-2.4zM563.9 731h2.4v2.4h-2.4zM583.5 730.8h2.4v2.4h-2.4zM582.5 732.4h2.4v2.4h-2.4zM581.5 697.1h2.4v2.4h-2.4zM579.9 705.4h2.4v2.4h-2.4zM581.4 725.9h2.4v2.4h-2.4zM580.5 709.9h2.4v2.4h-2.4zM586.3 727.5h2.4v2.4h-2.4zM581.2 712.7h2.4v2.4h-2.4zM580 715.6h2.4v2.4h-2.4zM585 697.6h2.4v2.4h-2.4zM584.6 711h2.4v2.4h-2.4zM583.8 723.7h2.4v2.4h-2.4zM585.4 703.5h2.4v2.4h-2.4zM582.5 718.9h2.4v2.4h-2.4zM602.4 723.7h2.4v2.4h-2.4zM603.3 714.9h2.4v2.4h-2.4zM602.3 711.1h2.4v2.4h-2.4zM601.4 720.7h2.4v2.4h-2.4zM600.4 692.7h2.4v2.4h-2.4zM603.5 701.3h2.4v2.4h-2.4zM601.5 711.4h2.4v2.4h-2.4zM597.1 716.2h2.4v2.4h-2.4zM602.3 716.3h2.4v2.4h-2.4zM598.7 730.4h2.4v2.4h-2.4zM598.1 714.6h2.4v2.4h-2.4zM597.1 711.7h2.4v2.4h-2.4zM603.6 709.9h2.4v2.4h-2.4zM602.1 721.8h2.4v2.4h-2.4z" fill="#999999"/>
<line x1="550" y1="756" x2="555" y2="756" stroke="#444" stroke-width="0.6"/>
<line x1="564.5" y1="715.3" x2="572.5" y2="715.3" stroke="#333" stroke-width="0.7"/>
<line x1="568.5" y1="705.7" x2="568.5" y2="724.1" stroke="#333" stroke-width="0.7"/>
<line x1="566.5" y1="705.7" x2="570.5" y2="705.7" stroke="#333" stroke-width="0.7"/>
<line x1="566.5" y1="724.1" x2="570.5" y2="724.1" stroke="#333" stroke-width="0.7"/>
<line x1="580.5" y1="717.7" x2="588.5" y2="717.7" stroke="#333" stroke-width="0.7"/>
<line x1="584.5" y1="704.6" x2="584.5" y2="730.5" stroke="#333" stroke-width="0.7"/>
<line x1="582.5" y1="704.6" x2="586.5" y2="704.6" stroke="#333" stroke-width="0.7"/>
<line x1="582.5" y1="730.5" x2="586.5" y2="730.5" stroke="#333" stroke-width="0.7"/>
<line x1="597.3" y1="718" x2="605.3" y2="718" stroke="#333" stroke-width="0.7"/>
<line x1="601.3" y1="708.4" x2="601.3" y2="728" stroke="#333" stroke-width="0.7"/>
<line x1="599.3" y1="708.4" x2="603.3" y2="708.4" stroke="#333" stroke-width="0.7"/>
<line x1="599.3" y1="728" x2="603.3" y2="728" stroke="#333" stroke-width="0.7"/>
<line x1="552" y1="680" x2="569.3" y2="680" stroke="#555" stroke-width="0.8"/>
<text x="560.6" y="681.9" font-size="8.5" text-anchor="middle" fill="#222">***</text>
<line x1="571.7" y1="680" x2="583.4" y2="680" stroke="#555" stroke-width="0.8"/>
<text x="575" y="679.2" font-size="8" text-anchor="middle" fill="#222">ns</text>
<line x1="572.5" y1="673.6" x2="597.8" y2="673.6" stroke="#555" stroke-width="0.8"/>
<text x="585.5" y="672.7" font-size="8" text-anchor="middle" fill="#222">ns</text>
<text transform="translate(517 716) rotate(-90)" x="0" y="2.8" font-size="7.8" text-anchor="middle" fill="#333" stroke="#333" stroke-width="0.2">nuclear c-FOS</text>
<text transform="translate(526.5 716) rotate(-90)" x="0" y="2.8" font-size="7.8" text-anchor="middle" fill="#333" stroke="#333" stroke-width="0.2">(pixel intensity)</text>
<text x="517.7" y="773" font-size="6.6" stroke="#1a1a1a" stroke-width="0.17">c-FOS</text>
<text x="552.5" y="773.3" font-size="7.5" text-anchor="middle" fill="#222" font-weight="bold">-</text>
<text x="568.5" y="773.3" font-size="7.5" text-anchor="middle" fill="#222" font-weight="bold">+</text>
<text x="584.5" y="773.3" font-size="7.5" text-anchor="middle" fill="#222" font-weight="bold">+</text>
<text x="601.3" y="773.3" font-size="7.5" text-anchor="middle" fill="#222" font-weight="bold">+</text>
<text x="517.7" y="779.6" font-size="6.6" stroke="#1a1a1a" stroke-width="0.17">UO126</text>
<text x="552.5" y="779.9" font-size="7.5" text-anchor="middle" fill="#222" font-weight="bold">-</text>
<text x="568.5" y="779.9" font-size="7.5" text-anchor="middle" fill="#222" font-weight="bold">-</text>
<text x="584.5" y="779.9" font-size="7.5" text-anchor="middle" fill="#222" font-weight="bold">-</text>
<text x="601.3" y="779.9" font-size="7.5" text-anchor="middle" fill="#222" font-weight="bold">+</text>
<text x="517.7" y="786.2" font-size="6.6" stroke="#1a1a1a" stroke-width="0.17">Afatinib</text>
<text x="552.5" y="786.5" font-size="7.5" text-anchor="middle" fill="#222" font-weight="bold">-</text>
<text x="568.5" y="786.5" font-size="7.5" text-anchor="middle" fill="#222" font-weight="bold">-</text>
<text x="584.5" y="786.5" font-size="7.5" text-anchor="middle" fill="#222" font-weight="bold">+</text>
<text x="601.3" y="786.5" font-size="7.5" text-anchor="middle" fill="#222" font-weight="bold">-</text>
</svg></body></html>
